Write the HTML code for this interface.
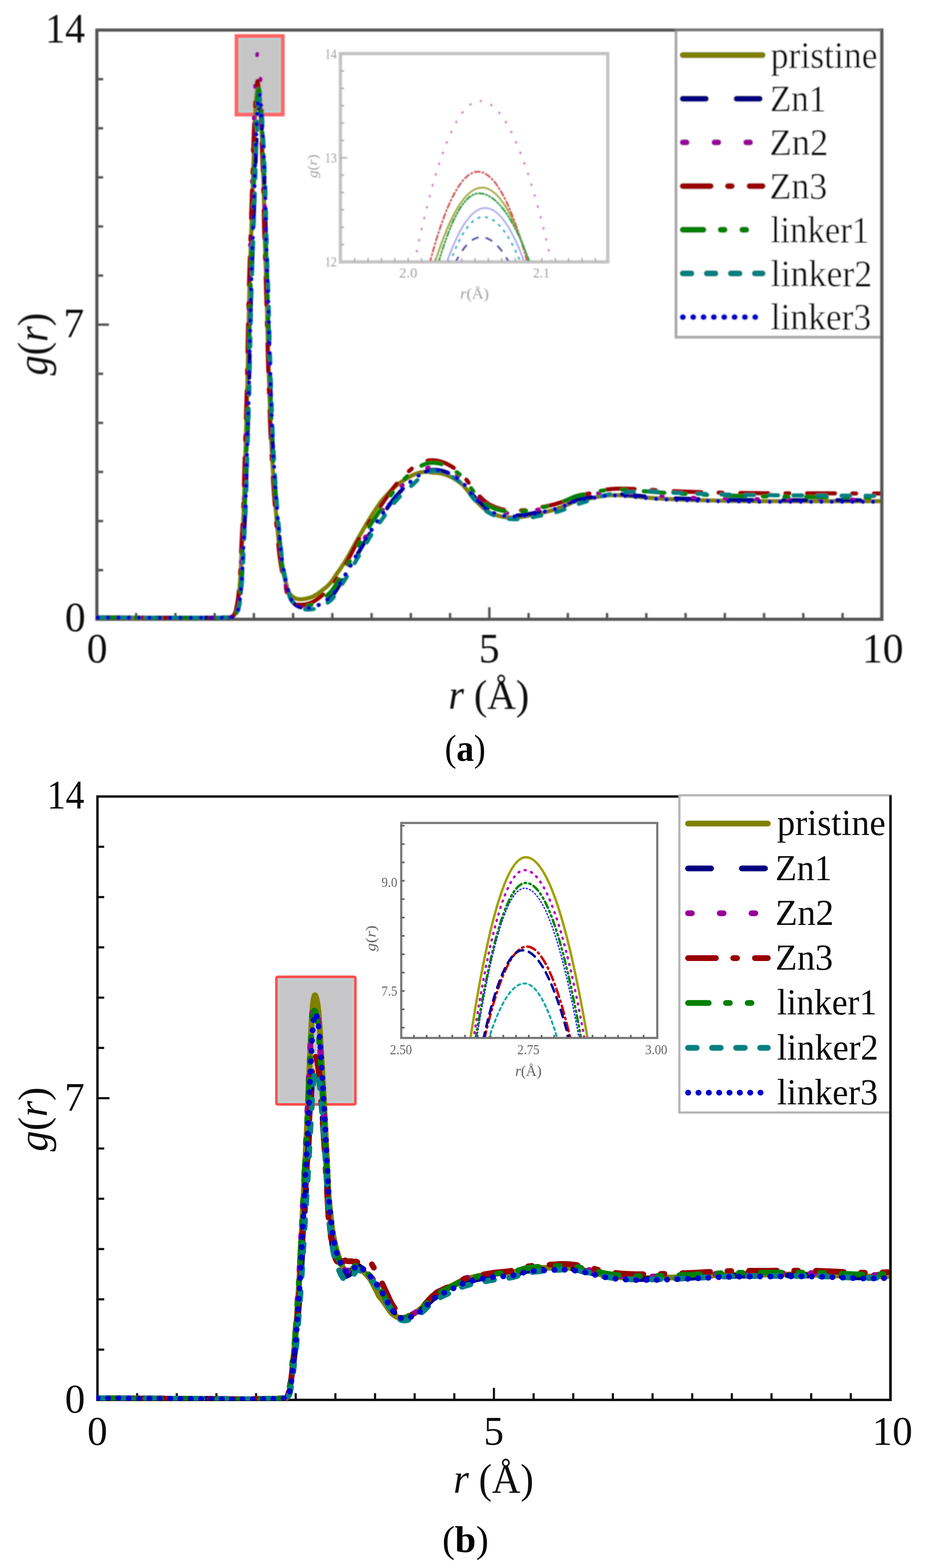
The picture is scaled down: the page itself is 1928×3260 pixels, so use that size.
<!DOCTYPE html>
<html><head><meta charset="utf-8"><title>g(r) plots</title><style>html,body{margin:0;padding:0;background:#fff;}svg{display:block;}</style></head><body>
<svg width="1928" height="3260" viewBox="0 0 1928 3260" font-family="'Liberation Serif','Times New Roman',serif">
<defs><clipPath id="ca"><rect x="712" y="115" width="548" height="427"/></clipPath><clipPath id="cb"><rect x="835" y="1713" width="530" height="443"/></clipPath><clipPath id="pa"><rect x="198" y="60" width="1640" height="1240"/></clipPath><filter id="blurA" x="0" y="0" width="1" height="1"><feGaussianBlur stdDeviation="1.1"/></filter><filter id="blurB" x="0" y="0" width="1" height="1"><feGaussianBlur stdDeviation="0.5"/></filter><clipPath id="pb"><rect x="200" y="1650" width="1656" height="1262"/></clipPath></defs>
<rect width="100%" height="100%" fill="#fff"/>
<g filter="url(#blurA)">
<rect x="201.5" y="62.5" width="1632.5" height="1225.0" fill="none" stroke="#555" stroke-width="6.5"/>
<line x1="283.1" y1="1287.5" x2="283.1" y2="1274.5" stroke="#555" stroke-width="5.0"/>
<line x1="364.8" y1="1287.5" x2="364.8" y2="1274.5" stroke="#555" stroke-width="5.0"/>
<line x1="446.4" y1="1287.5" x2="446.4" y2="1274.5" stroke="#555" stroke-width="5.0"/>
<line x1="528.0" y1="1287.5" x2="528.0" y2="1274.5" stroke="#555" stroke-width="5.0"/>
<line x1="609.6" y1="1287.5" x2="609.6" y2="1274.5" stroke="#555" stroke-width="5.0"/>
<line x1="691.2" y1="1287.5" x2="691.2" y2="1274.5" stroke="#555" stroke-width="5.0"/>
<line x1="772.9" y1="1287.5" x2="772.9" y2="1274.5" stroke="#555" stroke-width="5.0"/>
<line x1="854.5" y1="1287.5" x2="854.5" y2="1274.5" stroke="#555" stroke-width="5.0"/>
<line x1="936.1" y1="1287.5" x2="936.1" y2="1274.5" stroke="#555" stroke-width="5.0"/>
<line x1="1017.8" y1="1287.5" x2="1017.8" y2="1262.5" stroke="#555" stroke-width="5.0"/>
<line x1="1099.4" y1="1287.5" x2="1099.4" y2="1274.5" stroke="#555" stroke-width="5.0"/>
<line x1="1181.0" y1="1287.5" x2="1181.0" y2="1274.5" stroke="#555" stroke-width="5.0"/>
<line x1="1262.6" y1="1287.5" x2="1262.6" y2="1274.5" stroke="#555" stroke-width="5.0"/>
<line x1="1344.2" y1="1287.5" x2="1344.2" y2="1274.5" stroke="#555" stroke-width="5.0"/>
<line x1="1425.9" y1="1287.5" x2="1425.9" y2="1274.5" stroke="#555" stroke-width="5.0"/>
<line x1="1507.5" y1="1287.5" x2="1507.5" y2="1274.5" stroke="#555" stroke-width="5.0"/>
<line x1="1589.1" y1="1287.5" x2="1589.1" y2="1274.5" stroke="#555" stroke-width="5.0"/>
<line x1="1670.8" y1="1287.5" x2="1670.8" y2="1274.5" stroke="#555" stroke-width="5.0"/>
<line x1="1752.4" y1="1287.5" x2="1752.4" y2="1274.5" stroke="#555" stroke-width="5.0"/>
<line x1="201.5" y1="1185.4" x2="214.5" y2="1185.4" stroke="#555" stroke-width="5.0"/>
<line x1="201.5" y1="1083.3" x2="214.5" y2="1083.3" stroke="#555" stroke-width="5.0"/>
<line x1="201.5" y1="981.2" x2="214.5" y2="981.2" stroke="#555" stroke-width="5.0"/>
<line x1="201.5" y1="879.2" x2="214.5" y2="879.2" stroke="#555" stroke-width="5.0"/>
<line x1="201.5" y1="777.1" x2="214.5" y2="777.1" stroke="#555" stroke-width="5.0"/>
<line x1="201.5" y1="675.0" x2="226.5" y2="675.0" stroke="#555" stroke-width="5.0"/>
<line x1="201.5" y1="572.9" x2="214.5" y2="572.9" stroke="#555" stroke-width="5.0"/>
<line x1="201.5" y1="470.8" x2="214.5" y2="470.8" stroke="#555" stroke-width="5.0"/>
<line x1="201.5" y1="368.8" x2="214.5" y2="368.8" stroke="#555" stroke-width="5.0"/>
<line x1="201.5" y1="266.7" x2="214.5" y2="266.7" stroke="#555" stroke-width="5.0"/>
<line x1="201.5" y1="164.6" x2="214.5" y2="164.6" stroke="#555" stroke-width="5.0"/>
<rect x="492" y="75" width="96" height="163" fill="#c6c6c7" stroke="#ff6666" stroke-width="8"/>
<rect x="498" y="81" width="84" height="151" fill="none" stroke="#b4d6d6" stroke-width="3.5"/>
<g fill="none" stroke-width="8.5" stroke-linecap="round" stroke-linejoin="round" clip-path="url(#pa)">
<path d="M203.0 1284.0L205.0 1284.0L207.1 1284.0L209.1 1284.0L211.2 1284.0L213.3 1284.0L215.4 1284.0L217.5 1284.0L219.7 1284.0L221.8 1284.0L224.0 1284.0L226.2 1284.0L228.4 1284.0L230.7 1284.0L232.9 1284.0L235.1 1284.0L237.4 1284.0L239.7 1284.0L242.0 1284.0L244.3 1284.0L246.6 1284.0L248.9 1284.0L251.3 1284.0L253.6 1284.1L256.0 1284.1L258.4 1284.1L260.7 1284.1L263.1 1284.1L265.5 1284.1L267.9 1284.1L270.3 1284.1L272.8 1284.1L275.2 1284.1L277.6 1284.1L280.0 1284.1L282.5 1284.1L284.9 1284.1L287.4 1284.1L289.8 1284.1L292.3 1284.1L294.7 1284.1L297.2 1284.1L299.6 1284.1L302.1 1284.2L304.5 1284.2L307.0 1284.2L309.5 1284.2L311.9 1284.2L314.4 1284.2L316.8 1284.2L319.3 1284.2L321.7 1284.2L324.2 1284.2L326.6 1284.2L329.1 1284.2L331.5 1284.2L333.9 1284.2L336.4 1284.2L338.8 1284.2L341.2 1284.2L343.6 1284.2L346.0 1284.2L348.4 1284.3L350.8 1284.3L353.2 1284.3L355.5 1284.3L357.9 1284.3L360.2 1284.3L362.6 1284.3L364.9 1284.3L367.2 1284.3L369.5 1284.3L371.8 1284.3L374.1 1284.3L376.3 1284.3L378.6 1284.3L380.8 1284.3L383.0 1284.3L385.2 1284.3L387.4 1284.3L389.6 1284.3L391.8 1284.3L393.9 1284.3L396.0 1284.3L398.1 1284.3L400.2 1284.3L402.3 1284.3L404.4 1284.3L406.4 1284.3L408.4 1284.3L410.4 1284.3L412.4 1284.3L414.3 1284.3L416.2 1284.3L418.1 1284.3L420.0 1284.3L421.9 1284.3L423.7 1284.3L425.5 1284.3L427.3 1284.3L429.1 1284.3L430.8 1284.3L432.5 1284.3L434.2 1284.3L435.8 1284.3L437.5 1284.3L439.1 1284.3L440.6 1284.3L442.2 1284.3L443.7 1284.3L445.2 1284.3L446.6 1284.2L448.0 1284.2L449.4 1284.2L450.8 1284.2L452.1 1284.2L453.4 1284.2L454.6 1284.2L455.8 1284.2L457.0 1284.2L458.2 1284.2L459.3 1284.2L460.3 1284.2L461.4 1284.1L462.4 1284.1L463.3 1284.1L464.2 1284.1L465.1 1284.1L465.9 1284.1L466.7 1284.1L467.5 1284.0L468.2 1284.0L468.9 1284.0L469.5 1284.0L472.3 1284.0L474.4 1284.0L476.1 1283.9L477.6 1283.8L479.1 1283.5L481.3 1282.9L483.3 1282.1L485.0 1281.0L486.5 1279.7L487.8 1278.1L489.0 1276.0L489.6 1274.7L490.2 1273.2L490.7 1271.6L491.2 1269.8L491.8 1267.8L492.3 1265.8L492.7 1263.6L493.2 1261.4L493.6 1259.1L494.1 1256.8L494.5 1254.5L494.9 1252.1L495.2 1250.5L495.4 1248.8L495.7 1247.0L495.9 1245.3L496.2 1243.5L496.4 1241.6L496.6 1239.7L496.8 1237.8L497.0 1235.9L497.2 1233.9L497.4 1231.9L497.6 1229.9L497.8 1227.9L498.0 1225.8L498.1 1223.8L498.3 1221.7L498.5 1219.5L498.6 1217.4L498.8 1215.3L499.0 1213.1L499.1 1211.0L499.3 1208.8L499.4 1206.6L499.6 1204.4L499.7 1202.6L499.9 1200.8L500.0 1199.0L500.1 1197.1L500.2 1195.2L500.3 1193.3L500.5 1191.4L500.6 1189.5L500.7 1187.6L500.8 1185.6L500.9 1183.6L501.0 1181.7L501.1 1179.7L501.2 1177.7L501.3 1175.7L501.4 1173.6L501.5 1171.6L501.6 1169.6L501.6 1167.5L501.7 1165.5L501.8 1163.4L501.9 1161.4L502.0 1159.3L502.1 1157.3L502.2 1155.2L502.3 1153.2L502.4 1151.1L502.4 1149.1L502.5 1147.0L502.6 1145.0L502.7 1143.0L502.8 1140.9L502.9 1138.9L503.0 1136.9L503.1 1134.9L503.2 1132.9L503.3 1130.9L503.4 1128.9L503.5 1126.9L503.6 1124.9L503.7 1123.0L503.8 1121.0L503.9 1119.1L504.0 1117.2L504.1 1115.2L504.2 1113.3L504.3 1111.4L504.4 1109.4L504.5 1107.5L504.6 1105.6L504.7 1103.6L504.8 1101.7L504.9 1099.8L505.0 1097.8L505.1 1095.9L505.2 1093.9L505.4 1091.9L505.5 1089.9L505.6 1087.9L505.7 1085.9L505.8 1083.9L505.9 1081.9L505.9 1079.8L506.0 1077.8L506.1 1075.7L506.2 1073.6L506.3 1071.4L506.4 1069.3L506.5 1067.1L506.6 1064.9L506.7 1062.7L506.8 1060.5L506.9 1058.7L506.9 1056.9L507.0 1055.2L507.1 1053.4L507.1 1051.6L507.2 1049.7L507.3 1047.9L507.3 1046.1L507.4 1044.2L507.5 1042.3L507.5 1040.4L507.6 1038.5L507.7 1036.6L507.7 1034.7L507.8 1032.8L507.8 1030.8L507.9 1028.9L508.0 1026.9L508.0 1024.9L508.1 1023.0L508.1 1021.0L508.2 1019.0L508.3 1017.0L508.3 1015.0L508.4 1012.9L508.4 1010.9L508.5 1008.9L508.6 1006.9L508.6 1004.8L508.7 1002.8L508.7 1000.7L508.8 998.7L508.8 996.6L508.9 994.6L509.0 992.5L509.0 990.4L509.1 988.4L509.1 986.3L509.2 984.3L509.2 982.2L509.3 980.1L509.4 978.1L509.4 976.0L509.5 973.9L509.5 971.9L509.6 969.8L509.6 967.8L509.7 965.7L509.8 963.7L509.8 961.6L509.9 959.6L509.9 957.5L510.0 955.5L510.0 953.5L510.1 951.5L510.2 949.4L510.2 947.4L510.3 945.4L510.3 943.4L510.4 941.5L510.5 939.5L510.5 937.4L510.6 935.4L510.6 933.4L510.7 931.4L510.8 929.4L510.8 927.4L510.9 925.4L511.0 923.4L511.0 921.4L511.1 919.4L511.2 917.4L511.2 915.4L511.3 913.4L511.3 911.3L511.4 909.3L511.5 907.3L511.5 905.3L511.6 903.3L511.7 901.3L511.7 899.3L511.8 897.3L511.9 895.3L511.9 893.3L512.0 891.3L512.0 889.3L512.1 887.3L512.2 885.3L512.2 883.3L512.3 881.3L512.4 879.3L512.4 877.3L512.5 875.2L512.6 873.2L512.6 871.2L512.7 869.2L512.7 867.2L512.8 865.2L512.9 863.2L512.9 861.2L513.0 859.2L513.0 857.2L513.1 855.2L513.2 853.2L513.2 851.2L513.3 849.2L513.3 847.2L513.4 845.2L513.5 843.2L513.5 841.2L513.6 839.2L513.6 837.2L513.7 835.1L513.7 833.1L513.8 831.1L513.8 829.1L513.9 827.1L513.9 825.1L514.0 823.1L514.1 821.1L514.1 819.1L514.2 817.1L514.2 815.1L514.3 813.1L514.3 811.1L514.3 809.1L514.4 807.0L514.4 805.0L514.5 803.0L514.5 801.0L514.6 799.0L514.6 797.0L514.7 795.0L514.7 792.9L514.8 790.9L514.8 788.9L514.8 786.9L514.9 784.9L514.9 782.9L515.0 780.8L515.0 778.8L515.1 776.8L515.1 774.8L515.1 772.8L515.2 770.8L515.2 768.7L515.3 766.7L515.3 764.7L515.3 762.7L515.4 760.7L515.4 758.7L515.5 756.7L515.5 754.7L515.5 752.6L515.6 750.6L515.6 748.6L515.6 746.6L515.7 744.6L515.7 742.6L515.8 740.6L515.8 738.6L515.8 736.6L515.9 734.6L515.9 732.6L516.0 730.6L516.0 728.6L516.0 726.6L516.1 724.6L516.1 722.6L516.2 720.6L516.2 718.7L516.2 716.7L516.3 714.7L516.3 712.7L516.4 710.7L516.4 708.7L516.5 706.8L516.5 704.8L516.5 702.8L516.6 700.8L516.6 698.8L516.7 696.8L516.7 694.8L516.8 692.8L516.8 690.8L516.8 688.8L516.9 686.8L516.9 684.8L517.0 682.8L517.0 680.8L517.1 678.8L517.1 676.8L517.1 674.8L517.2 672.8L517.2 670.8L517.3 668.8L517.3 666.9L517.3 664.9L517.4 662.9L517.4 660.9L517.5 658.9L517.5 657.0L517.6 655.0L517.6 653.0L517.6 651.0L517.7 649.1L517.7 647.1L517.8 645.1L517.8 643.1L517.9 641.2L517.9 639.2L517.9 637.2L518.0 635.3L518.0 633.3L518.1 631.3L518.1 629.3L518.2 627.4L518.2 625.4L518.3 623.4L518.3 621.5L518.3 619.5L518.4 617.5L518.4 615.6L518.5 613.6L518.5 611.7L518.6 609.7L518.6 607.7L518.7 605.8L518.7 603.8L518.8 601.8L518.8 599.9L518.9 597.9L518.9 595.9L519.0 594.0L519.1 592.0L519.1 590.0L519.2 588.0L519.2 586.0L519.3 584.0L519.3 581.9L519.4 579.9L519.5 577.9L519.5 575.9L519.6 573.9L519.6 572.0L519.7 570.0L519.8 568.0L519.8 566.0L519.9 564.0L520.0 562.0L520.0 560.0L520.1 558.0L520.2 556.0L520.2 554.0L520.3 552.0L520.4 550.0L520.4 548.0L520.5 546.0L520.6 544.1L520.6 542.1L520.7 540.1L520.8 538.1L520.8 536.1L520.9 534.1L521.0 532.1L521.0 530.1L521.1 528.1L521.2 526.2L521.2 524.2L521.3 522.2L521.4 520.2L521.4 518.2L521.5 516.2L521.6 514.2L521.6 512.2L521.7 510.2L521.8 508.2L521.8 506.3L521.9 504.3L522.0 502.3L522.0 500.3L522.1 498.3L522.2 496.3L522.2 494.3L522.3 492.3L522.4 490.3L522.4 488.3L522.5 486.3L522.6 484.3L522.6 482.4L522.7 480.4L522.8 478.4L522.8 476.4L522.9 474.4L523.0 472.4L523.0 470.4L523.1 468.4L523.1 466.3L523.2 464.3L523.3 462.3L523.3 460.3L523.4 458.3L523.5 456.2L523.5 454.2L523.6 452.2L523.7 450.1L523.7 448.1L523.8 446.1L523.9 444.1L523.9 442.0L524.0 440.0L524.1 438.0L524.1 435.9L524.2 433.9L524.3 431.9L524.3 429.9L524.4 427.9L524.5 425.9L524.5 423.9L524.6 421.9L524.6 419.9L524.7 417.9L524.8 415.9L524.8 413.9L524.9 411.9L525.0 409.9L525.0 408.0L525.1 406.0L525.2 404.1L525.2 402.1L525.3 400.2L525.3 398.3L525.4 396.3L525.5 394.4L525.5 392.5L525.6 390.6L525.6 388.7L525.7 386.9L525.8 385.0L525.8 383.2L525.9 381.3L525.9 379.5L526.0 377.7L526.1 375.5L526.1 373.4L526.2 371.2L526.3 369.1L526.3 367.0L526.4 364.9L526.5 362.8L526.5 360.7L526.6 358.6L526.7 356.6L526.7 354.5L526.8 352.5L526.9 350.4L526.9 348.4L527.0 346.4L527.0 344.4L527.1 342.3L527.2 340.4L527.2 338.4L527.3 336.4L527.4 334.4L527.4 332.4L527.5 330.5L527.5 328.5L527.6 326.5L527.7 324.6L527.7 322.7L527.8 320.7L527.9 318.8L527.9 316.9L528.0 314.9L528.0 313.0L528.1 311.1L528.2 309.2L528.2 307.3L528.3 305.3L528.4 303.4L528.4 301.5L528.5 299.6L528.6 297.5L528.6 295.4L528.7 293.3L528.8 291.2L528.9 289.1L528.9 287.0L529.0 284.9L529.1 282.8L529.2 280.7L529.2 278.6L529.3 276.5L529.4 274.4L529.5 272.3L529.5 270.3L529.6 268.2L529.7 266.2L529.8 264.1L529.8 262.1L529.9 260.1L530.0 258.1L530.1 256.1L530.2 254.1L530.2 252.2L530.3 250.2L530.4 248.3L530.5 246.4L530.6 244.5L530.6 242.7L530.7 240.8L530.8 239.0L530.9 237.2L531.0 235.4L531.1 233.2L531.2 231.0L531.3 228.8L531.4 226.7L531.5 224.5L531.6 222.3L531.7 220.2L531.8 218.1L532.0 216.1L532.1 214.0L532.2 212.0L532.3 210.1L532.4 208.1L532.6 206.2L532.7 204.4L532.8 202.6L533.0 200.9L533.1 199.2L533.3 197.5L533.5 195.9L533.8 193.3L534.2 190.5L534.5 187.6L534.9 185.0L535.3 182.7L535.7 180.8L536.1 179.6L536.5 179.2L536.9 179.6L537.3 180.8L537.7 182.7L538.1 185.0L538.5 187.6L538.8 190.5L539.2 193.3L539.5 195.9L539.7 197.5L539.9 199.2L540.0 200.9L540.2 202.6L540.3 204.4L540.4 206.2L540.6 208.1L540.7 210.1L540.8 212.0L540.9 214.0L541.0 216.1L541.1 218.1L541.2 220.2L541.3 222.4L541.4 224.5L541.5 226.7L541.7 228.8L541.8 231.0L541.9 233.2L542.0 235.4L542.1 237.2L542.2 239.0L542.3 240.8L542.4 242.7L542.5 244.5L542.6 246.4L542.7 248.3L542.8 250.2L542.9 252.2L543.0 254.1L543.1 256.1L543.2 258.1L543.2 260.1L543.3 262.1L543.4 264.1L543.5 266.2L543.6 268.2L543.7 270.3L543.8 272.3L543.9 274.4L544.0 276.5L544.1 278.6L544.2 280.7L544.3 282.7L544.4 284.8L544.5 287.0L544.5 289.1L544.6 291.2L544.7 293.3L544.8 295.4L544.9 297.5L545.0 299.6L545.1 301.5L545.2 303.4L545.2 305.3L545.3 307.2L545.4 309.1L545.5 311.0L545.6 313.0L545.6 314.9L545.7 316.8L545.8 318.7L545.9 320.7L546.0 322.6L546.1 324.5L546.1 326.5L546.2 328.4L546.3 330.4L546.4 332.4L546.5 334.3L546.5 336.3L546.6 338.3L546.7 340.3L546.8 342.3L546.8 344.3L546.9 346.3L547.0 348.3L547.1 350.3L547.1 352.4L547.2 354.4L547.3 356.5L547.4 358.5L547.4 360.6L547.5 362.7L547.6 364.8L547.7 366.9L547.7 369.0L547.8 371.1L547.9 373.3L547.9 375.4L548.0 377.6L548.1 379.4L548.1 381.2L548.2 383.1L548.2 384.9L548.3 386.8L548.3 388.7L548.4 390.5L548.4 392.4L548.5 394.3L548.5 396.2L548.6 398.2L548.6 400.1L548.6 402.0L548.7 404.0L548.7 405.9L548.8 407.9L548.8 409.9L548.9 411.8L548.9 413.8L548.9 415.8L549.0 417.8L549.0 419.8L549.1 421.8L549.1 423.8L549.2 425.8L549.2 427.8L549.2 429.8L549.3 431.9L549.3 433.9L549.4 435.9L549.4 437.9L549.4 440.0L549.5 442.0L549.5 444.0L549.6 446.0L549.6 448.1L549.6 450.1L549.7 452.1L549.7 454.2L549.8 456.2L549.8 458.2L549.9 460.3L549.9 462.3L550.0 464.3L550.0 466.3L550.0 468.3L550.1 470.4L550.1 472.4L550.2 474.4L550.2 476.4L550.3 478.4L550.3 480.4L550.4 482.4L550.4 484.3L550.5 486.3L550.6 488.3L550.6 490.3L550.7 492.3L550.7 494.3L550.8 496.3L550.8 498.3L550.9 500.3L551.0 502.3L551.0 504.3L551.1 506.3L551.2 508.3L551.2 510.2L551.3 512.2L551.3 514.2L551.4 516.2L551.5 518.2L551.5 520.2L551.6 522.2L551.7 524.2L551.7 526.2L551.8 528.1L551.9 530.1L551.9 532.1L552.0 534.1L552.1 536.1L552.2 538.1L552.2 540.1L552.3 542.1L552.4 544.1L552.4 546.1L552.5 548.0L552.6 550.0L552.6 552.0L552.7 554.0L552.8 556.0L552.8 558.0L552.9 560.0L553.0 562.0L553.0 564.0L553.1 566.0L553.2 568.0L553.2 570.0L553.3 572.0L553.4 574.0L553.4 576.0L553.5 578.0L553.6 580.0L553.6 582.0L553.7 584.0L553.8 586.0L553.8 588.0L553.9 590.0L553.9 592.0L554.0 594.0L554.1 595.9L554.1 597.9L554.2 599.9L554.2 601.8L554.3 603.8L554.3 605.8L554.4 607.7L554.5 609.7L554.5 611.7L554.6 613.6L554.6 615.6L554.7 617.5L554.7 619.5L554.8 621.5L554.8 623.4L554.9 625.4L554.9 627.4L555.0 629.3L555.0 631.3L555.1 633.3L555.1 635.2L555.2 637.2L555.2 639.2L555.3 641.1L555.4 643.1L555.4 645.1L555.5 647.1L555.5 649.0L555.6 651.0L555.6 653.0L555.7 655.0L555.7 656.9L555.8 658.9L555.8 660.9L555.9 662.9L555.9 664.9L556.0 666.8L556.0 668.8L556.1 670.8L556.1 672.8L556.2 674.8L556.2 676.8L556.3 678.8L556.3 680.7L556.4 682.7L556.4 684.7L556.5 686.7L556.6 688.7L556.6 690.7L556.7 692.7L556.7 694.7L556.8 696.7L556.8 698.7L556.9 700.7L556.9 702.7L557.0 704.7L557.1 706.7L557.1 708.7L557.2 710.7L557.2 712.6L557.3 714.6L557.3 716.6L557.4 718.6L557.5 720.6L557.5 722.6L557.6 724.6L557.6 726.5L557.7 728.5L557.7 730.5L557.8 732.5L557.9 734.5L557.9 736.5L558.0 738.5L558.0 740.5L558.1 742.5L558.1 744.5L558.2 746.5L558.3 748.5L558.3 750.6L558.4 752.6L558.4 754.6L558.5 756.6L558.5 758.6L558.6 760.6L558.7 762.6L558.7 764.6L558.8 766.6L558.8 768.7L558.9 770.7L559.0 772.7L559.0 774.7L559.1 776.7L559.1 778.7L559.2 780.7L559.3 782.7L559.3 784.7L559.4 786.7L559.5 788.7L559.5 790.7L559.6 792.7L559.7 794.7L559.7 796.7L559.8 798.7L559.8 800.6L559.9 802.6L560.0 804.6L560.0 806.6L560.1 808.6L560.2 810.6L560.3 812.6L560.3 814.6L560.4 816.6L560.5 818.6L560.5 820.6L560.6 822.5L560.7 824.5L560.7 826.5L560.8 828.5L560.9 830.5L561.0 832.5L561.0 834.5L561.1 836.5L561.2 838.5L561.2 840.5L561.3 842.5L561.4 844.6L561.5 846.6L561.5 848.6L561.6 850.6L561.7 852.6L561.8 854.6L561.8 856.7L561.9 858.7L562.0 860.7L562.1 862.7L562.1 864.7L562.2 866.8L562.3 868.8L562.4 870.8L562.4 872.8L562.5 874.8L562.6 876.8L562.7 878.9L562.8 880.9L562.8 882.9L562.9 884.9L563.0 886.9L563.1 888.9L563.2 890.9L563.2 892.9L563.3 894.9L563.4 896.9L563.5 898.9L563.6 900.9L563.7 902.8L563.7 904.8L563.8 906.8L563.9 908.8L564.0 910.7L564.1 912.7L564.2 914.6L564.3 916.6L564.4 918.5L564.5 920.5L564.5 922.4L564.6 924.3L564.7 926.2L564.8 928.2L564.9 930.1L565.0 932.0L565.1 933.9L565.2 935.7L565.3 937.6L565.4 939.5L565.5 941.5L565.6 943.6L565.7 945.7L565.8 947.7L566.0 949.7L566.1 951.8L566.2 953.8L566.3 955.9L566.4 957.9L566.5 959.9L566.6 961.9L566.8 963.9L566.9 966.0L567.0 968.0L567.1 970.0L567.2 972.0L567.4 974.0L567.5 975.9L567.6 977.9L567.7 979.9L567.9 981.9L568.0 983.9L568.1 985.8L568.2 987.8L568.4 989.7L568.5 991.7L568.6 993.6L568.8 995.6L568.9 997.5L569.0 999.4L569.1 1001.3L569.3 1003.2L569.4 1005.1L569.5 1007.0L569.7 1008.9L569.8 1010.8L569.9 1012.7L570.1 1014.6L570.2 1016.4L570.3 1018.3L570.5 1020.1L570.6 1022.0L570.7 1023.8L570.9 1025.7L571.0 1027.5L571.1 1029.3L571.3 1031.1L571.4 1032.9L571.6 1035.0L571.7 1037.1L571.9 1039.2L572.0 1041.3L572.2 1043.3L572.4 1045.3L572.5 1047.4L572.7 1049.4L572.8 1051.4L573.0 1053.4L573.2 1055.4L573.3 1057.4L573.5 1059.4L573.6 1061.3L573.8 1063.3L574.0 1065.2L574.1 1067.2L574.3 1069.1L574.5 1071.0L574.6 1073.0L574.8 1074.9L575.0 1076.8L575.1 1078.7L575.3 1080.6L575.5 1082.5L575.7 1084.5L575.8 1086.4L576.0 1088.3L576.2 1090.2L576.4 1092.1L576.6 1094.0L576.7 1095.9L576.9 1097.8L577.1 1099.7L577.3 1101.7L577.5 1103.6L577.7 1105.6L577.9 1107.6L578.1 1109.6L578.3 1111.6L578.5 1113.6L578.7 1115.6L578.9 1117.6L579.1 1119.6L579.3 1121.6L579.5 1123.6L579.7 1125.6L579.9 1127.7L580.1 1129.6L580.3 1131.6L580.5 1133.6L580.7 1135.6L580.9 1137.6L581.1 1139.5L581.3 1141.5L581.6 1143.4L581.8 1145.3L582.0 1147.2L582.2 1149.1L582.5 1151.0L582.7 1152.8L583.0 1154.7L583.2 1156.5L583.4 1158.3L583.7 1160.1L584.0 1161.8L584.2 1163.5L584.5 1165.2L584.8 1167.3L585.2 1169.4L585.6 1171.5L585.9 1173.5L586.3 1175.5L586.7 1177.4L587.0 1179.4L587.4 1181.3L587.8 1183.2L588.2 1185.1L588.6 1186.9L589.0 1188.8L589.4 1190.6L589.8 1192.4L590.2 1194.2L590.7 1196.0L591.1 1197.7L591.5 1199.5L592.0 1201.2L592.4 1202.9L592.9 1204.7L593.4 1206.7L593.9 1208.7L594.4 1210.7L594.9 1212.8L595.5 1214.8L596.0 1216.8L596.5 1218.8L597.0 1220.8L597.6 1222.7L598.2 1224.5L598.8 1226.3L599.4 1228.0L600.1 1229.6L600.8 1231.2L601.6 1232.6L602.4 1233.9L603.7 1235.6L605.0 1237.2L606.4 1238.6L607.8 1239.9L609.4 1241.0L611.0 1242.1L612.6 1243.1L614.4 1243.9L616.2 1244.6L618.2 1245.1L620.2 1245.5L622.3 1245.8L624.5 1245.9L626.6 1245.9L628.8 1245.8L631.0 1245.6L633.0 1245.3L635.1 1245.0L637.2 1244.5L639.4 1244.0L641.5 1243.4L643.7 1242.8L645.8 1242.2L647.9 1241.4L650.0 1240.5L652.0 1239.6L654.0 1238.6L656.0 1237.4L658.0 1236.2L659.9 1234.9L661.9 1233.5L663.8 1232.1L665.7 1230.7L667.6 1229.3L669.4 1227.9L671.1 1226.6L672.8 1225.3L674.4 1224.0L676.1 1222.7L677.7 1221.4L679.3 1220.0L680.8 1218.6L682.4 1217.1L683.9 1215.5L685.5 1213.8L686.8 1212.2L688.2 1210.6L689.5 1208.8L690.9 1207.0L692.2 1205.2L693.5 1203.3L694.8 1201.4L696.1 1199.5L697.4 1197.5L698.7 1195.5L700.0 1193.6L701.3 1191.8L702.6 1189.9L703.8 1188.3L705.0 1186.6L706.2 1185.0L707.3 1183.3L708.5 1181.6L709.6 1179.9L710.7 1178.2L711.9 1176.5L713.0 1174.8L714.1 1173.0L715.3 1171.2L716.4 1169.4L717.6 1167.5L718.8 1165.5L720.0 1163.6L720.9 1162.0L721.9 1160.4L722.8 1158.8L723.8 1157.1L724.7 1155.4L725.7 1153.7L726.7 1151.9L727.7 1150.2L728.7 1148.4L729.7 1146.6L730.7 1144.8L731.7 1142.9L732.7 1141.1L733.7 1139.2L734.8 1137.4L735.8 1135.5L736.8 1133.6L737.8 1131.8L738.9 1129.9L739.9 1128.1L740.9 1126.2L741.9 1124.4L743.0 1122.6L744.0 1120.8L745.0 1119.0L746.0 1117.2L747.0 1115.5L748.0 1113.7L749.1 1111.9L750.1 1110.1L751.1 1108.4L752.1 1106.6L753.2 1104.8L754.2 1103.0L755.2 1101.2L756.2 1099.4L757.3 1097.7L758.3 1095.9L759.3 1094.1L760.4 1092.4L761.4 1090.6L762.4 1088.9L763.5 1087.2L764.5 1085.5L765.5 1083.8L766.5 1082.1L767.5 1080.4L768.6 1078.7L769.6 1077.1L770.6 1075.5L771.8 1073.6L773.0 1071.7L774.1 1069.9L775.3 1068.1L776.4 1066.4L777.5 1064.6L778.7 1062.9L779.8 1061.2L781.0 1059.5L782.1 1057.8L783.3 1056.1L784.4 1054.4L785.6 1052.7L786.8 1050.9L788.0 1049.2L789.2 1047.4L790.4 1045.6L791.7 1043.8L793.0 1042.0L794.1 1040.8L795.2 1039.6L796.3 1038.3L797.5 1037.1L798.6 1035.8L799.8 1034.5L800.9 1033.2L802.1 1031.9L803.3 1030.6L804.5 1029.3L805.7 1028.0L806.9 1026.7L808.1 1025.4L809.3 1024.1L810.6 1022.8L811.8 1021.5L813.0 1020.3L814.3 1019.0L815.5 1017.8L816.8 1016.6L818.1 1015.3L819.4 1014.2L820.6 1013.0L821.9 1011.9L823.2 1010.8L824.5 1009.7L825.9 1008.6L827.3 1007.5L828.7 1006.4L830.2 1005.3L831.6 1004.2L833.1 1003.1L834.6 1002.1L836.1 1001.0L837.6 1000.0L839.1 999.0L840.6 998.0L842.1 997.1L843.6 996.1L845.1 995.2L846.6 994.3L848.1 993.4L849.5 992.6L851.0 991.7L852.4 990.9L853.9 990.2L855.3 989.4L856.6 988.7L858.0 988.0L859.8 987.2L861.5 986.5L863.3 985.8L865.0 985.2L866.6 984.5L868.3 984.0L870.0 983.4L871.6 983.0L873.3 982.5L874.9 982.2L876.6 981.8L878.3 981.6L880.0 981.4L882.0 981.2L883.9 981.1L885.9 981.0L887.8 981.0L889.8 981.1L891.7 981.2L893.7 981.5L895.8 981.9L897.9 982.4L900.0 983.0L902.0 982.9L904.0 982.8L906.0 982.9L908.1 983.0L910.2 983.2L912.4 983.4L914.5 983.8L916.7 984.2L918.9 984.7L921.0 985.2L923.2 985.8L925.4 986.5L927.5 987.2L929.2 987.8L930.9 988.5L932.7 989.2L934.4 990.0L936.2 990.8L938.0 991.7L939.7 992.6L941.5 993.5L943.3 994.5L945.0 995.6L946.8 996.6L948.5 997.7L950.2 998.9L951.9 1000.0L953.6 1001.2L955.2 1002.4L956.9 1003.7L958.4 1004.9L960.0 1006.2L961.4 1007.5L962.9 1008.8L964.2 1010.2L965.6 1011.7L966.9 1013.1L968.2 1014.7L969.5 1016.2L970.7 1017.8L972.0 1019.5L973.2 1021.1L974.5 1022.7L975.7 1024.4L976.9 1026.0L978.1 1027.7L979.4 1029.3L980.6 1030.9L981.8 1032.5L983.1 1034.0L984.4 1035.5L985.7 1037.0L987.0 1038.4L988.4 1039.9L989.9 1041.4L991.4 1042.9L992.8 1044.4L994.3 1045.9L995.7 1047.4L997.2 1048.8L998.7 1050.3L1000.2 1051.7L1001.7 1053.1L1003.2 1054.5L1004.7 1055.8L1006.2 1057.1L1007.7 1058.3L1009.3 1059.5L1010.8 1060.7L1012.4 1061.8L1014.0 1062.8L1015.8 1063.9L1017.7 1064.9L1019.6 1065.9L1021.5 1066.8L1023.4 1067.7L1025.3 1068.5L1027.3 1069.3L1029.2 1070.0L1031.2 1070.6L1033.1 1071.3L1035.1 1071.8L1037.1 1072.4L1039.0 1072.9L1041.0 1073.4L1043.0 1073.8L1045.1 1074.3L1047.2 1074.6L1049.2 1074.9L1051.3 1075.2L1053.4 1075.4L1055.5 1075.6L1057.6 1075.7L1059.7 1075.8L1061.7 1075.9L1063.8 1076.0L1065.9 1076.0L1068.0 1076.0L1070.1 1075.9L1072.2 1075.9L1074.2 1075.8L1076.3 1075.6L1078.4 1075.4L1080.5 1075.2L1082.6 1075.0L1084.6 1074.7L1086.7 1074.4L1088.8 1074.1L1090.9 1073.8L1092.9 1073.5L1095.0 1073.2L1097.1 1072.8L1099.2 1072.4L1101.2 1072.0L1103.3 1071.6L1105.4 1071.1L1107.5 1070.6L1109.6 1070.2L1111.6 1069.7L1113.7 1069.2L1115.8 1068.6L1117.9 1068.1L1119.9 1067.7L1122.0 1067.2L1124.1 1066.7L1126.2 1066.2L1128.2 1065.8L1130.3 1065.3L1132.4 1064.9L1134.5 1064.4L1136.6 1063.9L1138.7 1063.5L1140.7 1063.0L1142.8 1062.4L1144.9 1061.9L1146.9 1061.4L1149.0 1060.8L1150.9 1060.2L1152.8 1059.6L1154.8 1059.0L1156.7 1058.3L1158.6 1057.7L1160.5 1057.0L1162.4 1056.3L1164.3 1055.6L1166.2 1054.9L1168.1 1054.2L1170.0 1053.5L1171.9 1052.8L1173.7 1052.1L1175.6 1051.4L1177.5 1050.6L1179.4 1049.8L1181.3 1049.0L1183.1 1048.1L1184.9 1047.2L1186.8 1046.4L1188.6 1045.5L1190.4 1044.7L1192.3 1043.9L1194.2 1043.1L1196.1 1042.3L1198.0 1041.6L1200.0 1041.0L1202.0 1040.5L1204.0 1040.0L1206.1 1039.5L1208.2 1039.1L1210.3 1038.7L1212.5 1038.4L1214.6 1038.1L1216.8 1037.7L1218.9 1037.4L1221.1 1037.1L1223.2 1036.8L1225.3 1036.5L1227.4 1036.2L1229.5 1035.8L1231.6 1035.4L1233.7 1035.0L1235.8 1034.5L1237.9 1034.1L1240.0 1033.6L1242.0 1033.2L1244.1 1032.8L1246.2 1032.3L1248.2 1031.9L1250.3 1031.5L1252.3 1031.2L1254.4 1030.9L1256.5 1030.6L1258.6 1030.4L1260.6 1030.2L1262.7 1030.0L1264.8 1029.9L1266.9 1029.7L1269.0 1029.6L1271.0 1029.6L1273.1 1029.5L1275.2 1029.5L1277.3 1029.4L1279.3 1029.4L1281.4 1029.4L1283.5 1029.4L1285.6 1029.5L1287.6 1029.5L1289.6 1029.6L1291.6 1029.7L1293.6 1029.9L1295.6 1030.0L1297.6 1030.2L1299.7 1030.3L1301.7 1030.5L1303.8 1030.7L1306.0 1030.9L1308.2 1031.1L1310.4 1031.3L1312.2 1031.4L1314.1 1031.6L1316.0 1031.7L1317.9 1031.9L1319.8 1032.1L1321.8 1032.3L1323.8 1032.5L1325.8 1032.7L1327.8 1032.9L1329.8 1033.1L1331.9 1033.3L1334.0 1033.5L1336.0 1033.7L1338.1 1033.9L1340.2 1034.1L1342.3 1034.3L1344.4 1034.5L1346.6 1034.7L1348.7 1034.8L1350.8 1035.0L1352.7 1035.2L1354.7 1035.3L1356.6 1035.5L1358.5 1035.6L1360.4 1035.7L1362.3 1035.9L1364.3 1036.0L1366.2 1036.1L1368.1 1036.3L1370.1 1036.4L1372.0 1036.5L1374.0 1036.6L1376.0 1036.8L1378.0 1036.9L1380.1 1037.0L1382.1 1037.1L1384.2 1037.2L1386.4 1037.3L1388.5 1037.4L1390.7 1037.6L1393.0 1037.7L1395.3 1037.8L1397.6 1037.9L1400.0 1038.0L1401.7 1038.1L1403.4 1038.1L1405.1 1038.2L1406.8 1038.3L1408.6 1038.4L1410.4 1038.4L1412.2 1038.5L1414.0 1038.6L1415.9 1038.7L1417.8 1038.7L1419.6 1038.8L1421.6 1038.9L1423.5 1038.9L1425.4 1039.0L1427.4 1039.1L1429.4 1039.1L1431.4 1039.2L1433.4 1039.3L1435.4 1039.3L1437.5 1039.4L1439.5 1039.5L1441.6 1039.5L1443.6 1039.6L1445.7 1039.7L1447.8 1039.7L1449.9 1039.8L1452.0 1039.8L1454.1 1039.9L1456.2 1040.0L1458.3 1040.0L1460.4 1040.1L1462.5 1040.1L1464.7 1040.2L1466.8 1040.2L1468.9 1040.3L1471.0 1040.3L1473.1 1040.4L1475.2 1040.5L1477.3 1040.5L1479.4 1040.6L1481.5 1040.6L1483.6 1040.6L1485.7 1040.7L1487.8 1040.7L1489.8 1040.8L1491.9 1040.8L1493.9 1040.9L1496.0 1040.9L1498.0 1041.0L1500.0 1041.0L1502.0 1041.0L1504.0 1041.1L1506.0 1041.1L1508.0 1041.2L1510.0 1041.2L1512.0 1041.2L1514.0 1041.3L1516.0 1041.3L1518.0 1041.3L1520.0 1041.3L1522.0 1041.4L1524.0 1041.4L1526.0 1041.4L1528.0 1041.5L1530.0 1041.5L1532.0 1041.5L1534.0 1041.5L1536.0 1041.5L1538.0 1041.6L1540.0 1041.6L1542.0 1041.6L1544.0 1041.6L1546.0 1041.7L1548.0 1041.7L1550.0 1041.7L1552.0 1041.7L1554.0 1041.7L1556.0 1041.7L1558.0 1041.8L1560.0 1041.8L1562.0 1041.8L1564.0 1041.8L1566.0 1041.8L1568.0 1041.8L1570.0 1041.8L1572.0 1041.8L1574.0 1041.9L1576.0 1041.9L1578.0 1041.9L1580.0 1041.9L1582.0 1041.9L1584.0 1041.9L1586.0 1041.9L1588.0 1041.9L1590.0 1041.9L1592.0 1042.0L1594.0 1042.0L1596.0 1042.0L1598.0 1042.0L1600.0 1042.0L1602.0 1042.0L1604.0 1042.0L1606.0 1042.0L1608.0 1042.0L1609.9 1042.0L1611.9 1042.0L1613.9 1042.1L1615.9 1042.1L1617.8 1042.1L1619.8 1042.1L1621.7 1042.1L1623.7 1042.1L1625.7 1042.1L1627.6 1042.1L1629.6 1042.1L1631.5 1042.1L1633.5 1042.1L1635.4 1042.1L1637.4 1042.1L1639.4 1042.1L1641.3 1042.1L1643.3 1042.1L1645.2 1042.1L1647.2 1042.1L1649.2 1042.1L1651.1 1042.1L1653.1 1042.1L1655.1 1042.1L1657.0 1042.1L1659.0 1042.0L1661.0 1042.0L1663.0 1042.0L1665.0 1042.0L1667.0 1042.0L1669.0 1042.0L1671.0 1042.0L1673.0 1042.0L1675.1 1042.0L1677.1 1042.0L1679.1 1042.0L1681.2 1042.0L1683.2 1042.0L1685.3 1042.0L1687.4 1042.0L1689.5 1042.0L1691.5 1042.0L1693.6 1042.0L1695.8 1042.0L1697.9 1042.0L1700.0 1042.0L1701.9 1042.0L1703.8 1042.0L1705.7 1042.0L1707.6 1042.0L1709.5 1042.0L1711.4 1042.0L1713.4 1042.0L1715.3 1042.0L1717.2 1042.0L1719.2 1042.0L1721.1 1042.0L1723.1 1042.0L1725.1 1042.0L1727.0 1042.0L1729.0 1042.0L1731.0 1042.0L1733.0 1042.0L1735.0 1042.0L1737.0 1042.0L1739.0 1042.0L1741.0 1042.0L1743.0 1042.0L1745.0 1042.0L1747.1 1042.0L1749.1 1042.0L1751.1 1042.0L1753.2 1042.0L1755.2 1042.0L1757.2 1042.0L1759.3 1042.0L1761.3 1042.0L1763.4 1042.0L1765.4 1042.0L1767.5 1042.0L1769.5 1042.0L1771.6 1042.0L1773.6 1042.0L1775.7 1042.0L1777.8 1042.0L1779.8 1042.0L1781.9 1042.0L1783.9 1042.0L1786.0 1042.0L1788.1 1042.0L1790.1 1042.0L1792.2 1042.0L1794.2 1042.0L1796.3 1042.0L1798.4 1042.0L1800.4 1042.0L1802.5 1042.0L1804.5 1042.0L1806.6 1042.0L1808.6 1042.0L1810.7 1042.0L1812.7 1042.0L1814.8 1042.0L1816.8 1042.0L1818.8 1042.0L1820.9 1042.0L1822.9 1042.0L1824.9 1042.0L1827.0 1042.0L1829.0 1042.0L1831.0 1042.0" stroke="#808000"/>
<path d="M203.0 1284.0L205.0 1284.0L207.1 1284.0L209.1 1284.0L211.2 1284.0L213.3 1284.0L215.4 1284.0L217.5 1284.0L219.7 1284.0L221.8 1284.0L224.0 1284.0L226.2 1284.0L228.4 1284.0L230.7 1284.0L232.9 1284.0L235.1 1284.0L237.4 1284.0L239.7 1284.0L242.0 1284.0L244.3 1284.0L246.6 1284.0L248.9 1284.0L251.3 1284.0L253.6 1284.1L256.0 1284.1L258.4 1284.1L260.7 1284.1L263.1 1284.1L265.5 1284.1L267.9 1284.1L270.3 1284.1L272.8 1284.1L275.2 1284.1L277.6 1284.1L280.0 1284.1L282.5 1284.1L284.9 1284.1L287.4 1284.1L289.8 1284.1L292.3 1284.1L294.7 1284.1L297.2 1284.1L299.6 1284.1L302.1 1284.2L304.5 1284.2L307.0 1284.2L309.5 1284.2L311.9 1284.2L314.4 1284.2L316.8 1284.2L319.3 1284.2L321.7 1284.2L324.2 1284.2L326.6 1284.2L329.1 1284.2L331.5 1284.2L333.9 1284.2L336.4 1284.2L338.8 1284.2L341.2 1284.2L343.6 1284.2L346.0 1284.2L348.4 1284.3L350.8 1284.3L353.2 1284.3L355.5 1284.3L357.9 1284.3L360.2 1284.3L362.6 1284.3L364.9 1284.3L367.2 1284.3L369.5 1284.3L371.8 1284.3L374.1 1284.3L376.3 1284.3L378.6 1284.3L380.8 1284.3L383.0 1284.3L385.2 1284.3L387.4 1284.3L389.6 1284.3L391.8 1284.3L393.9 1284.3L396.0 1284.3L398.1 1284.3L400.2 1284.3L402.3 1284.3L404.4 1284.3L406.4 1284.3L408.4 1284.3L410.4 1284.3L412.4 1284.3L414.3 1284.3L416.2 1284.3L418.1 1284.3L420.0 1284.3L421.9 1284.3L423.7 1284.3L425.5 1284.3L427.3 1284.3L429.1 1284.3L430.8 1284.3L432.5 1284.3L434.2 1284.3L435.8 1284.3L437.5 1284.3L439.1 1284.3L440.6 1284.3L442.2 1284.3L443.7 1284.3L445.2 1284.3L446.6 1284.2L448.1 1284.2L449.5 1284.2L450.8 1284.2L452.2 1284.2L453.5 1284.2L454.8 1284.2L456.0 1284.2L457.2 1284.2L458.4 1284.2L459.6 1284.2L460.7 1284.2L461.8 1284.1L462.9 1284.1L464.0 1284.1L465.0 1284.1L465.9 1284.1L466.9 1284.1L467.8 1284.1L468.7 1284.0L469.5 1284.0L470.3 1284.0L471.0 1284.0L474.2 1284.0L476.6 1284.0L478.4 1283.9L480.1 1283.8L481.8 1283.5L484.0 1282.9L486.1 1282.1L487.9 1281.0L489.4 1279.8L490.7 1278.2L492.0 1276.1L492.6 1274.8L493.1 1273.4L493.7 1271.7L494.2 1270.0L494.7 1268.1L495.2 1266.1L495.7 1264.0L496.2 1261.8L496.6 1259.6L497.1 1257.3L497.5 1255.0L497.9 1252.7L498.2 1251.1L498.4 1249.4L498.7 1247.7L498.9 1246.0L499.2 1244.2L499.4 1242.4L499.6 1240.5L499.8 1238.7L500.0 1236.8L500.2 1234.9L500.4 1232.9L500.6 1231.0L500.8 1229.0L501.0 1227.0L501.1 1224.9L501.3 1222.9L501.5 1220.8L501.6 1218.7L501.8 1216.6L502.0 1214.5L502.1 1212.4L502.3 1210.3L502.4 1208.2L502.6 1206.0L502.7 1204.3L502.9 1202.5L503.0 1200.7L503.1 1198.9L503.2 1197.1L503.3 1195.2L503.4 1193.4L503.6 1191.5L503.7 1189.6L503.8 1187.7L503.9 1185.8L504.0 1183.9L504.1 1181.9L504.2 1180.0L504.3 1178.0L504.4 1176.0L504.5 1174.1L504.5 1172.1L504.6 1170.1L504.7 1168.1L504.8 1166.1L504.9 1164.1L505.0 1162.1L505.1 1160.1L505.2 1158.1L505.3 1156.1L505.4 1154.1L505.4 1152.1L505.5 1150.2L505.6 1148.2L505.7 1146.2L505.8 1144.2L505.9 1142.2L506.0 1140.3L506.1 1138.3L506.2 1136.4L506.3 1134.5L506.4 1132.5L506.5 1130.6L506.6 1128.7L506.7 1126.8L506.8 1124.9L506.9 1123.0L507.0 1121.1L507.1 1119.3L507.2 1117.4L507.3 1115.5L507.4 1113.7L507.5 1111.8L507.6 1109.9L507.7 1108.0L507.8 1106.2L507.9 1104.3L508.0 1102.4L508.1 1100.5L508.2 1098.6L508.3 1096.7L508.5 1094.8L508.6 1092.9L508.7 1090.9L508.8 1089.0L508.8 1087.0L508.9 1085.0L509.0 1083.0L509.1 1081.0L509.2 1079.0L509.3 1076.9L509.4 1074.8L509.5 1072.7L509.6 1070.6L509.7 1068.5L509.8 1066.3L509.9 1064.6L509.9 1062.9L510.0 1061.2L510.1 1059.4L510.1 1057.7L510.2 1055.9L510.3 1054.1L510.3 1052.4L510.4 1050.6L510.5 1048.7L510.5 1046.9L510.6 1045.1L510.7 1043.2L510.7 1041.4L510.8 1039.5L510.8 1037.6L510.9 1035.7L511.0 1033.8L511.0 1031.9L511.1 1030.0L511.1 1028.1L511.2 1026.2L511.3 1024.2L511.3 1022.3L511.4 1020.3L511.4 1018.4L511.5 1016.4L511.6 1014.4L511.6 1012.5L511.7 1010.5L511.7 1008.5L511.8 1006.5L511.8 1004.6L511.9 1002.6L512.0 1000.6L512.0 998.6L512.1 996.6L512.1 994.6L512.2 992.6L512.2 990.6L512.3 988.6L512.4 986.6L512.4 984.6L512.5 982.6L512.5 980.7L512.6 978.7L512.6 976.7L512.7 974.7L512.8 972.7L512.8 970.7L512.9 968.8L512.9 966.8L513.0 964.9L513.0 962.9L513.1 961.0L513.2 959.0L513.2 957.1L513.3 955.2L513.3 953.2L513.4 951.3L513.5 949.4L513.5 947.5L513.6 945.5L513.6 943.6L513.7 941.6L513.8 939.7L513.8 937.8L513.9 935.9L514.0 933.9L514.0 932.0L514.1 930.1L514.1 928.1L514.2 926.2L514.3 924.3L514.3 922.3L514.4 920.4L514.5 918.5L514.5 916.5L514.6 914.6L514.7 912.7L514.7 910.8L514.8 908.8L514.9 906.9L514.9 905.0L515.0 903.0L515.0 901.1L515.1 899.2L515.2 897.3L515.2 895.3L515.3 893.4L515.4 891.5L515.4 889.6L515.5 887.6L515.6 885.7L515.6 883.8L515.7 881.9L515.7 879.9L515.8 878.0L515.9 876.1L515.9 874.2L516.0 872.2L516.0 870.3L516.1 868.4L516.2 866.5L516.2 864.5L516.3 862.6L516.3 860.7L516.4 858.8L516.5 856.8L516.5 854.9L516.6 853.0L516.6 851.1L516.7 849.1L516.7 847.2L516.8 845.3L516.8 843.4L516.9 841.4L516.9 839.5L517.0 837.6L517.1 835.7L517.1 833.7L517.2 831.8L517.2 829.9L517.3 827.9L517.3 826.0L517.3 824.1L517.4 822.1L517.4 820.2L517.5 818.3L517.5 816.3L517.6 814.4L517.6 812.5L517.7 810.5L517.7 808.6L517.8 806.7L517.8 804.7L517.8 802.8L517.9 800.9L517.9 798.9L518.0 797.0L518.0 795.0L518.1 793.1L518.1 791.2L518.1 789.2L518.2 787.3L518.2 785.4L518.3 783.4L518.3 781.5L518.3 779.6L518.4 777.6L518.4 775.7L518.5 773.8L518.5 771.8L518.5 769.9L518.6 768.0L518.6 766.0L518.6 764.1L518.7 762.2L518.7 760.2L518.8 758.3L518.8 756.4L518.8 754.5L518.9 752.6L518.9 750.6L519.0 748.7L519.0 746.8L519.0 744.9L519.1 743.0L519.1 741.1L519.2 739.2L519.2 737.3L519.2 735.3L519.3 733.4L519.3 731.5L519.4 729.6L519.4 727.8L519.5 725.9L519.5 724.0L519.5 722.0L519.6 720.1L519.6 718.2L519.7 716.3L519.7 714.3L519.8 712.4L519.8 710.5L519.8 708.6L519.9 706.7L519.9 704.8L520.0 702.9L520.0 700.9L520.1 699.0L520.1 697.1L520.1 695.2L520.2 693.3L520.2 691.4L520.3 689.5L520.3 687.6L520.3 685.7L520.4 683.8L520.4 681.9L520.5 680.0L520.5 678.1L520.6 676.2L520.6 674.3L520.6 672.4L520.7 670.6L520.7 668.7L520.8 666.8L520.8 664.9L520.9 663.0L520.9 661.1L520.9 659.2L521.0 657.3L521.0 655.5L521.1 653.6L521.1 651.7L521.2 649.8L521.2 647.9L521.3 646.1L521.3 644.2L521.3 642.3L521.4 640.4L521.4 638.5L521.5 636.7L521.5 634.8L521.6 632.9L521.6 631.0L521.7 629.2L521.7 627.3L521.8 625.4L521.8 623.5L521.9 621.7L521.9 619.8L522.0 617.9L522.1 616.0L522.1 614.1L522.2 612.2L522.2 610.3L522.3 608.4L522.3 606.4L522.4 604.5L522.5 602.6L522.5 600.7L522.6 598.8L522.6 596.9L522.7 595.0L522.8 593.1L522.8 591.2L522.9 589.3L523.0 587.4L523.0 585.5L523.1 583.6L523.2 581.7L523.2 579.8L523.3 578.0L523.4 576.1L523.4 574.2L523.5 572.3L523.6 570.4L523.6 568.5L523.7 566.6L523.8 564.7L523.8 562.8L523.9 560.9L524.0 559.0L524.0 557.2L524.1 555.3L524.2 553.4L524.2 551.5L524.3 549.6L524.4 547.7L524.4 545.8L524.5 543.9L524.6 542.0L524.6 540.2L524.7 538.3L524.8 536.4L524.8 534.5L524.9 532.6L525.0 530.7L525.0 528.8L525.1 526.9L525.2 525.0L525.2 523.1L525.3 521.2L525.4 519.3L525.4 517.4L525.5 515.5L525.6 513.7L525.6 511.8L525.7 509.9L525.8 508.0L525.8 506.1L525.9 504.2L526.0 502.3L526.0 500.4L526.1 498.5L526.1 496.6L526.2 494.6L526.3 492.7L526.3 490.8L526.4 488.9L526.5 487.0L526.5 485.0L526.6 483.1L526.7 481.2L526.7 479.2L526.8 477.3L526.9 475.4L526.9 473.5L527.0 471.5L527.1 469.6L527.1 467.7L527.2 465.8L527.3 463.9L527.3 461.9L527.4 460.0L527.5 458.1L527.5 456.2L527.6 454.3L527.6 452.4L527.7 450.5L527.8 448.6L527.8 446.7L527.9 444.9L528.0 443.0L528.0 441.1L528.1 439.3L528.2 437.4L528.2 435.6L528.3 433.7L528.3 431.9L528.4 430.1L528.5 428.2L528.5 426.4L528.6 424.6L528.6 422.9L528.7 421.1L528.8 419.3L528.8 417.5L528.9 415.8L528.9 414.1L529.0 412.3L529.1 410.3L529.1 408.2L529.2 406.2L529.3 404.2L529.3 402.2L529.4 400.2L529.5 398.2L529.5 396.2L529.6 394.2L529.7 392.3L529.7 390.3L529.8 388.4L529.9 386.4L529.9 384.5L530.0 382.6L530.0 380.7L530.1 378.8L530.2 376.9L530.2 375.0L530.3 373.1L530.4 371.2L530.4 369.3L530.5 367.5L530.5 365.6L530.6 363.7L530.7 361.9L530.7 360.0L530.8 358.2L530.9 356.4L530.9 354.5L531.0 352.7L531.0 350.9L531.1 349.0L531.2 347.2L531.2 345.4L531.3 343.6L531.4 341.8L531.4 340.0L531.5 338.2L531.6 336.2L531.6 334.2L531.7 332.1L531.8 330.1L531.9 328.1L531.9 326.1L532.0 324.1L532.1 322.1L532.2 320.1L532.2 318.2L532.3 316.2L532.4 314.2L532.5 312.2L532.5 310.3L532.6 308.3L532.7 306.4L532.8 304.4L532.8 302.5L532.9 300.6L533.0 298.7L533.1 296.8L533.2 294.9L533.2 293.1L533.3 291.2L533.4 289.4L533.5 287.6L533.6 285.8L533.6 284.0L533.7 282.3L533.8 280.6L533.9 278.8L534.0 277.2L534.1 275.1L534.2 273.0L534.3 270.9L534.4 268.8L534.5 266.8L534.6 264.7L534.7 262.7L534.8 260.7L535.0 258.8L535.1 256.8L535.2 254.9L535.3 253.1L535.4 251.2L535.6 249.5L535.7 247.7L535.8 246.0L536.0 244.4L536.1 242.8L536.3 241.2L536.5 239.7L536.8 237.2L537.2 234.5L537.5 231.9L537.9 229.4L538.3 227.1L538.7 225.4L539.1 224.2L539.5 223.8L539.9 224.2L540.3 225.4L540.7 227.1L541.1 229.4L541.5 231.9L541.8 234.5L542.2 237.2L542.5 239.7L542.7 241.2L542.9 242.8L543.0 244.4L543.2 246.0L543.3 247.7L543.4 249.5L543.6 251.2L543.7 253.1L543.8 254.9L543.9 256.8L544.0 258.8L544.1 260.7L544.2 262.7L544.3 264.7L544.4 266.8L544.5 268.8L544.7 270.9L544.8 273.0L544.9 275.1L545.0 277.2L545.1 278.8L545.2 280.5L545.3 282.3L545.4 284.0L545.5 285.8L545.6 287.6L545.7 289.4L545.8 291.2L545.9 293.0L546.0 294.9L546.1 296.7L546.2 298.6L546.2 300.5L546.3 302.4L546.4 304.3L546.5 306.3L546.6 308.2L546.7 310.2L546.8 312.1L546.9 314.1L547.0 316.1L547.1 318.0L547.2 320.0L547.3 322.0L547.4 324.0L547.5 326.0L547.5 328.0L547.6 330.0L547.7 332.0L547.8 334.0L547.9 336.0L548.0 338.0L548.1 339.8L548.2 341.6L548.2 343.4L548.3 345.2L548.4 347.0L548.5 348.8L548.6 350.6L548.6 352.4L548.7 354.3L548.8 356.1L548.9 357.9L549.0 359.7L549.1 361.6L549.1 363.4L549.2 365.3L549.3 367.1L549.4 369.0L549.5 370.8L549.5 372.7L549.6 374.6L549.7 376.5L549.8 378.4L549.8 380.3L549.9 382.2L550.0 384.1L550.1 386.0L550.1 387.9L550.2 389.9L550.3 391.8L550.4 393.8L550.4 395.8L550.5 397.7L550.6 399.7L550.7 401.7L550.7 403.7L550.8 405.7L550.9 407.8L550.9 409.8L551.0 411.9L551.1 413.6L551.1 415.3L551.2 417.1L551.2 418.8L551.3 420.6L551.3 422.4L551.4 424.2L551.4 426.0L551.5 427.8L551.5 429.6L551.6 431.5L551.6 433.3L551.6 435.1L551.7 437.0L551.7 438.9L551.8 440.7L551.8 442.6L551.9 444.5L551.9 446.4L551.9 448.3L552.0 450.2L552.0 452.1L552.1 454.0L552.1 455.9L552.2 457.8L552.2 459.7L552.2 461.7L552.3 463.6L552.3 465.5L552.4 467.5L552.4 469.4L552.4 471.3L552.5 473.3L552.5 475.2L552.6 477.1L552.6 479.1L552.6 481.0L552.7 483.0L552.7 484.9L552.8 486.8L552.8 488.8L552.9 490.7L552.9 492.6L553.0 494.6L553.0 496.5L553.0 498.4L553.1 500.3L553.1 502.3L553.2 504.2L553.2 506.1L553.3 508.0L553.3 509.9L553.4 511.8L553.4 513.7L553.5 515.5L553.6 517.4L553.6 519.3L553.7 521.2L553.7 523.1L553.8 525.0L553.8 526.9L553.9 528.8L554.0 530.7L554.0 532.6L554.1 534.5L554.2 536.4L554.2 538.3L554.3 540.2L554.3 542.1L554.4 544.0L554.5 545.9L554.5 547.8L554.6 549.7L554.7 551.5L554.7 553.4L554.8 555.3L554.9 557.2L554.9 559.1L555.0 561.0L555.1 562.9L555.2 564.8L555.2 566.7L555.3 568.5L555.4 570.4L555.4 572.3L555.5 574.2L555.6 576.1L555.6 578.0L555.7 579.9L555.8 581.8L555.8 583.7L555.9 585.6L556.0 587.5L556.0 589.4L556.1 591.3L556.2 593.2L556.2 595.0L556.3 596.9L556.4 598.8L556.4 600.7L556.5 602.7L556.6 604.6L556.6 606.5L556.7 608.4L556.8 610.3L556.8 612.2L556.9 614.1L556.9 616.0L557.0 617.9L557.1 619.8L557.1 621.7L557.2 623.5L557.2 625.4L557.3 627.3L557.3 629.1L557.4 631.0L557.5 632.9L557.5 634.8L557.6 636.6L557.6 638.5L557.7 640.4L557.7 642.3L557.8 644.1L557.8 646.0L557.9 647.9L557.9 649.8L558.0 651.6L558.0 653.5L558.1 655.4L558.1 657.3L558.2 659.2L558.2 661.0L558.3 662.9L558.4 664.8L558.4 666.7L558.5 668.6L558.5 670.5L558.6 672.4L558.6 674.2L558.7 676.1L558.7 678.0L558.8 679.9L558.8 681.8L558.9 683.7L558.9 685.6L559.0 687.5L559.0 689.4L559.1 691.3L559.1 693.2L559.2 695.1L559.2 697.0L559.3 698.9L559.3 700.8L559.4 702.7L559.4 704.6L559.5 706.5L559.6 708.4L559.6 710.3L559.7 712.2L559.7 714.1L559.8 716.1L559.8 718.0L559.9 719.9L559.9 721.8L560.0 723.7L560.1 725.6L560.1 727.5L560.2 729.4L560.2 731.3L560.3 733.2L560.3 735.1L560.4 737.0L560.5 738.9L560.5 740.8L560.6 742.7L560.6 744.6L560.7 746.5L560.7 748.4L560.8 750.3L560.9 752.2L560.9 754.1L561.0 756.0L561.0 758.0L561.1 759.9L561.1 761.8L561.2 763.7L561.3 765.6L561.3 767.6L561.4 769.5L561.4 771.4L561.5 773.3L561.5 775.3L561.6 777.2L561.7 779.1L561.7 781.0L561.8 783.0L561.8 784.9L561.9 786.8L562.0 788.7L562.0 790.7L562.1 792.6L562.1 794.5L562.2 796.5L562.3 798.4L562.3 800.3L562.4 802.3L562.5 804.2L562.5 806.1L562.6 808.0L562.7 810.0L562.7 811.9L562.8 813.8L562.8 815.8L562.9 817.7L563.0 819.6L563.0 821.5L563.1 823.5L563.2 825.4L563.3 827.3L563.3 829.2L563.4 831.2L563.5 833.1L563.5 835.0L563.6 836.9L563.7 838.9L563.7 840.8L563.8 842.7L563.9 844.6L564.0 846.6L564.0 848.5L564.1 850.5L564.2 852.4L564.2 854.3L564.3 856.3L564.4 858.2L564.5 860.2L564.5 862.1L564.6 864.1L564.7 866.1L564.8 868.0L564.8 870.0L564.9 871.9L565.0 873.9L565.1 875.8L565.1 877.8L565.2 879.8L565.3 881.7L565.4 883.7L565.4 885.6L565.5 887.6L565.6 889.5L565.7 891.5L565.8 893.4L565.8 895.4L565.9 897.3L566.0 899.3L566.1 901.2L566.2 903.2L566.2 905.1L566.3 907.1L566.4 909.0L566.5 910.9L566.6 912.9L566.7 914.8L566.7 916.7L566.8 918.6L566.9 920.5L567.0 922.4L567.1 924.3L567.2 926.2L567.3 928.1L567.4 930.0L567.5 931.9L567.5 933.8L567.6 935.7L567.7 937.5L567.8 939.4L567.9 941.2L568.0 943.1L568.1 944.9L568.2 946.8L568.3 948.6L568.4 950.4L568.5 952.4L568.6 954.4L568.7 956.4L568.8 958.4L569.0 960.4L569.1 962.4L569.2 964.4L569.3 966.4L569.4 968.3L569.5 970.3L569.6 972.3L569.8 974.3L569.9 976.2L570.0 978.2L570.1 980.1L570.2 982.1L570.4 984.0L570.5 986.0L570.6 987.9L570.7 989.9L570.9 991.8L571.0 993.7L571.1 995.6L571.2 997.5L571.4 999.5L571.5 1001.4L571.6 1003.3L571.8 1005.2L571.9 1007.1L572.0 1008.9L572.1 1010.8L572.3 1012.7L572.4 1014.6L572.5 1016.4L572.7 1018.3L572.8 1020.1L572.9 1022.0L573.1 1023.8L573.2 1025.6L573.3 1027.5L573.5 1029.3L573.6 1031.1L573.7 1032.9L573.9 1034.7L574.0 1036.5L574.1 1038.3L574.3 1040.1L574.4 1041.8L574.6 1043.9L574.7 1046.0L574.9 1048.0L575.0 1050.1L575.2 1052.1L575.4 1054.1L575.5 1056.1L575.7 1058.1L575.8 1060.1L576.0 1062.1L576.2 1064.0L576.3 1066.0L576.5 1067.9L576.6 1069.9L576.8 1071.8L577.0 1073.7L577.1 1075.6L577.3 1077.6L577.5 1079.5L577.6 1081.4L577.8 1083.3L578.0 1085.2L578.1 1087.1L578.3 1089.0L578.5 1090.9L578.7 1092.8L578.8 1094.7L579.0 1096.6L579.2 1098.5L579.4 1100.4L579.6 1102.3L579.7 1104.2L579.9 1106.1L580.1 1108.0L580.3 1109.9L580.5 1111.9L580.7 1113.9L580.9 1115.8L581.1 1117.8L581.3 1119.8L581.5 1121.8L581.7 1123.8L581.9 1125.8L582.1 1127.8L582.3 1129.9L582.5 1131.9L582.7 1133.9L582.9 1135.9L583.1 1137.9L583.3 1139.9L583.5 1141.9L583.7 1143.9L583.9 1145.8L584.1 1147.8L584.3 1149.8L584.6 1151.7L584.8 1153.6L585.0 1155.6L585.2 1157.5L585.5 1159.3L585.7 1161.2L586.0 1163.1L586.2 1164.9L586.4 1166.7L586.7 1168.5L587.0 1170.3L587.2 1172.1L587.5 1173.8L587.8 1175.9L588.2 1178.1L588.6 1180.2L588.9 1182.2L589.3 1184.3L589.7 1186.3L590.0 1188.3L590.4 1190.3L590.8 1192.3L591.2 1194.2L591.6 1196.1L592.0 1198.1L592.4 1200.0L592.8 1201.8L593.2 1203.7L593.7 1205.6L594.1 1207.4L594.5 1209.3L595.0 1211.1L595.4 1212.9L595.9 1214.7L596.4 1216.8L596.9 1219.0L597.4 1221.1L597.9 1223.3L598.5 1225.4L599.0 1227.6L599.5 1229.7L600.0 1231.8L600.6 1233.8L601.2 1235.8L601.8 1237.7L602.4 1239.6L603.1 1241.4L603.8 1243.1L604.6 1244.7L605.4 1246.2L606.7 1248.3L608.0 1250.2L609.4 1252.0L610.8 1253.7L612.4 1255.2L614.0 1256.6L615.6 1257.9L617.4 1259.1L619.2 1260.1L621.2 1261.0L623.2 1261.8L625.3 1262.4L627.5 1263.0L629.6 1263.4L631.8 1263.8L634.0 1264.0L636.0 1264.2L638.1 1264.2L640.2 1264.2L642.4 1264.0L644.5 1263.9L646.7 1263.6L648.8 1263.3L650.9 1262.9L653.0 1262.4L655.0 1261.8L657.0 1261.1L659.0 1260.2L661.0 1259.3L662.9 1258.4L664.9 1257.3L666.8 1256.3L668.7 1255.2L670.6 1254.1L672.4 1253.0L674.1 1252.0L675.8 1251.0L677.4 1250.0L679.0 1248.9L680.6 1247.8L682.2 1246.7L683.8 1245.5L685.3 1244.3L686.8 1243.0L688.3 1241.5L689.6 1240.2L690.9 1238.7L692.1 1237.2L693.4 1235.7L694.6 1234.0L695.8 1232.4L696.9 1230.7L698.1 1228.9L699.2 1227.2L700.3 1225.4L701.5 1223.6L702.6 1221.8L703.7 1220.0L704.8 1218.4L705.8 1216.7L706.8 1215.1L707.9 1213.5L708.9 1211.8L710.0 1210.2L711.0 1208.5L712.1 1206.8L713.2 1205.1L714.3 1203.3L715.4 1201.5L716.5 1199.7L717.7 1197.9L718.8 1196.0L720.0 1194.0L721.0 1192.5L721.9 1190.9L722.8 1189.3L723.8 1187.6L724.8 1186.0L725.7 1184.3L726.7 1182.5L727.7 1180.8L728.7 1179.0L729.7 1177.2L730.7 1175.4L731.7 1173.6L732.7 1171.8L733.8 1170.0L734.8 1168.1L735.8 1166.3L736.8 1164.4L737.8 1162.6L738.9 1160.8L739.9 1158.9L740.9 1157.1L741.9 1155.3L743.0 1153.5L744.0 1151.8L745.0 1150.0L746.0 1148.3L747.0 1146.5L748.0 1144.8L749.1 1143.0L750.1 1141.2L751.1 1139.5L752.1 1137.7L753.2 1136.0L754.2 1134.2L755.2 1132.4L756.2 1130.7L757.3 1128.9L758.3 1127.2L759.3 1125.4L760.4 1123.7L761.4 1122.0L762.4 1120.3L763.5 1118.6L764.5 1116.9L765.5 1115.2L766.5 1113.5L767.5 1111.9L768.6 1110.2L769.6 1108.6L770.6 1107.0L771.8 1105.1L773.0 1103.3L774.1 1101.5L775.3 1099.8L776.4 1098.0L777.5 1096.3L778.7 1094.6L779.8 1092.9L781.0 1091.2L782.1 1089.6L783.3 1087.9L784.4 1086.2L785.6 1084.5L786.8 1082.8L788.0 1081.1L789.2 1079.3L790.4 1077.6L791.7 1075.8L793.0 1074.0L794.1 1072.4L795.2 1070.8L796.3 1069.2L797.5 1067.6L798.6 1065.9L799.8 1064.2L800.9 1062.5L802.1 1060.9L803.3 1059.2L804.5 1057.4L805.7 1055.7L806.9 1054.0L808.1 1052.3L809.3 1050.6L810.6 1048.9L811.8 1047.2L813.0 1045.5L814.3 1043.8L815.5 1042.1L816.8 1040.5L818.1 1038.9L819.4 1037.2L820.6 1035.7L821.9 1034.1L823.2 1032.5L824.5 1031.0L825.9 1029.4L827.3 1027.9L828.7 1026.3L830.2 1024.7L831.6 1023.1L833.1 1021.6L834.6 1020.0L836.1 1018.5L837.6 1016.9L839.1 1015.4L840.6 1013.9L842.1 1012.5L843.6 1011.0L845.1 1009.6L846.6 1008.2L848.1 1006.8L849.5 1005.4L851.0 1004.1L852.4 1002.8L853.9 1001.6L855.3 1000.3L856.6 999.2L858.0 998.0L859.8 996.6L861.5 995.2L863.3 993.8L865.0 992.5L866.6 991.3L868.3 990.0L870.0 988.9L871.6 987.8L873.3 986.7L874.9 985.7L876.6 984.7L878.3 983.8L880.0 983.0L882.0 982.1L883.9 981.2L885.9 980.4L887.8 979.6L889.8 979.0L891.7 978.4L893.7 977.9L895.8 977.5L897.9 977.2L900.0 977.0L902.0 976.9L904.0 976.9L906.0 976.9L908.1 977.1L910.2 977.3L912.4 977.6L914.5 977.9L916.7 978.3L918.9 978.8L921.0 979.4L923.2 980.0L925.4 980.7L927.5 981.5L929.2 982.1L930.9 982.8L932.7 983.5L934.4 984.3L936.2 985.2L938.0 986.1L939.7 987.0L941.5 988.0L943.3 989.0L945.0 990.0L946.8 991.1L948.5 992.2L950.2 993.4L951.9 994.5L953.6 995.7L955.2 997.0L956.9 998.2L958.4 999.5L960.0 1000.8L961.4 1002.1L962.9 1003.4L964.2 1004.8L965.6 1006.3L966.9 1007.8L968.2 1009.4L969.5 1010.9L970.7 1012.6L972.0 1014.2L973.2 1015.8L974.5 1017.5L975.7 1019.1L976.9 1020.8L978.1 1022.5L979.4 1024.1L980.6 1025.7L981.8 1027.3L983.1 1028.8L984.4 1030.4L985.7 1031.8L987.0 1033.3L988.4 1034.8L989.9 1036.3L991.4 1037.8L992.8 1039.3L994.3 1040.8L995.7 1042.3L997.2 1043.8L998.7 1045.2L1000.2 1046.7L1001.7 1048.1L1003.2 1049.5L1004.7 1050.9L1006.2 1052.2L1007.7 1053.4L1009.3 1054.7L1010.8 1055.8L1012.4 1057.0L1014.0 1058.0L1015.8 1059.1L1017.7 1060.2L1019.6 1061.2L1021.5 1062.1L1023.4 1063.0L1025.3 1063.9L1027.3 1064.7L1029.2 1065.4L1031.2 1066.1L1033.1 1066.8L1035.1 1067.4L1037.1 1067.9L1039.0 1068.5L1041.0 1069.0L1043.0 1069.5L1045.1 1069.9L1047.2 1070.3L1049.2 1070.7L1051.3 1070.9L1053.4 1071.2L1055.5 1071.4L1057.6 1071.6L1059.7 1071.7L1061.7 1071.8L1063.8 1071.9L1065.9 1072.0L1068.0 1072.0L1070.1 1072.0L1072.2 1072.0L1074.2 1071.9L1076.3 1071.8L1078.4 1071.6L1080.5 1071.4L1082.6 1071.2L1084.6 1071.0L1086.7 1070.7L1088.8 1070.5L1090.9 1070.2L1092.9 1069.9L1095.0 1069.6L1097.1 1069.3L1099.2 1068.9L1101.2 1068.5L1103.3 1068.1L1105.4 1067.7L1107.5 1067.3L1109.6 1066.8L1111.6 1066.3L1113.7 1065.9L1115.8 1065.4L1117.9 1064.9L1119.9 1064.5L1122.0 1064.0L1124.1 1063.6L1126.2 1063.1L1128.2 1062.7L1130.3 1062.3L1132.4 1061.9L1134.5 1061.4L1136.6 1061.0L1138.7 1060.5L1140.7 1060.1L1142.8 1059.6L1144.9 1059.1L1146.9 1058.6L1149.0 1058.0L1150.9 1057.5L1152.8 1056.9L1154.8 1056.3L1156.7 1055.7L1158.6 1055.1L1160.5 1054.4L1162.4 1053.8L1164.3 1053.1L1166.2 1052.4L1168.1 1051.8L1170.0 1051.1L1171.9 1050.4L1173.7 1049.7L1175.6 1049.0L1177.5 1048.3L1179.4 1047.5L1181.3 1046.7L1183.1 1045.8L1184.9 1045.0L1186.8 1044.2L1188.6 1043.3L1190.4 1042.5L1192.3 1041.7L1194.2 1041.0L1196.1 1040.3L1198.0 1039.6L1200.0 1039.0L1202.0 1038.5L1204.0 1038.0L1206.1 1037.5L1208.2 1037.1L1210.3 1036.7L1212.5 1036.4L1214.6 1036.1L1216.8 1035.7L1218.9 1035.4L1221.1 1035.1L1223.2 1034.8L1225.3 1034.5L1227.4 1034.2L1229.5 1033.8L1231.6 1033.4L1233.7 1033.0L1235.8 1032.5L1237.9 1032.1L1240.0 1031.6L1242.0 1031.2L1244.1 1030.8L1246.2 1030.3L1248.2 1029.9L1250.3 1029.5L1252.3 1029.2L1254.4 1028.9L1256.5 1028.6L1258.6 1028.4L1260.6 1028.2L1262.7 1028.0L1264.8 1027.9L1266.9 1027.7L1269.0 1027.6L1271.0 1027.6L1273.1 1027.5L1275.2 1027.5L1277.3 1027.4L1279.3 1027.4L1281.4 1027.4L1283.5 1027.4L1285.6 1027.5L1287.6 1027.5L1289.6 1027.6L1291.6 1027.7L1293.6 1027.9L1295.6 1028.0L1297.6 1028.2L1299.7 1028.3L1301.7 1028.5L1303.8 1028.7L1306.0 1028.9L1308.2 1029.1L1310.4 1029.3L1312.2 1029.4L1314.1 1029.6L1316.0 1029.7L1317.9 1029.9L1319.8 1030.1L1321.8 1030.3L1323.8 1030.5L1325.8 1030.7L1327.8 1030.9L1329.8 1031.1L1331.9 1031.3L1334.0 1031.5L1336.0 1031.7L1338.1 1031.9L1340.2 1032.1L1342.3 1032.3L1344.4 1032.5L1346.6 1032.7L1348.7 1032.8L1350.8 1033.0L1352.7 1033.2L1354.7 1033.3L1356.6 1033.5L1358.5 1033.6L1360.4 1033.7L1362.3 1033.9L1364.3 1034.0L1366.2 1034.1L1368.1 1034.3L1370.1 1034.4L1372.0 1034.5L1374.0 1034.6L1376.0 1034.8L1378.0 1034.9L1380.1 1035.0L1382.1 1035.1L1384.2 1035.2L1386.4 1035.3L1388.5 1035.4L1390.7 1035.6L1393.0 1035.7L1395.3 1035.8L1397.6 1035.9L1400.0 1036.0L1401.7 1036.1L1403.4 1036.1L1405.1 1036.2L1406.8 1036.3L1408.6 1036.4L1410.4 1036.4L1412.2 1036.5L1414.0 1036.6L1415.9 1036.7L1417.8 1036.7L1419.6 1036.8L1421.6 1036.9L1423.5 1036.9L1425.4 1037.0L1427.4 1037.1L1429.4 1037.1L1431.4 1037.2L1433.4 1037.3L1435.4 1037.3L1437.5 1037.4L1439.5 1037.5L1441.6 1037.5L1443.6 1037.6L1445.7 1037.7L1447.8 1037.7L1449.9 1037.8L1452.0 1037.8L1454.1 1037.9L1456.2 1038.0L1458.3 1038.0L1460.4 1038.1L1462.5 1038.1L1464.7 1038.2L1466.8 1038.2L1468.9 1038.3L1471.0 1038.3L1473.1 1038.4L1475.2 1038.5L1477.3 1038.5L1479.4 1038.6L1481.5 1038.6L1483.6 1038.6L1485.7 1038.7L1487.8 1038.7L1489.8 1038.8L1491.9 1038.8L1493.9 1038.9L1496.0 1038.9L1498.0 1039.0L1500.0 1039.0L1502.0 1039.0L1504.0 1039.1L1506.0 1039.1L1508.0 1039.2L1510.0 1039.2L1512.0 1039.2L1514.0 1039.3L1516.0 1039.3L1518.0 1039.3L1520.0 1039.3L1522.0 1039.4L1524.0 1039.4L1526.0 1039.4L1528.0 1039.5L1530.0 1039.5L1532.0 1039.5L1534.0 1039.5L1536.0 1039.5L1538.0 1039.6L1540.0 1039.6L1542.0 1039.6L1544.0 1039.6L1546.0 1039.7L1548.0 1039.7L1550.0 1039.7L1552.0 1039.7L1554.0 1039.7L1556.0 1039.7L1558.0 1039.8L1560.0 1039.8L1562.0 1039.8L1564.0 1039.8L1566.0 1039.8L1568.0 1039.8L1570.0 1039.8L1572.0 1039.8L1574.0 1039.9L1576.0 1039.9L1578.0 1039.9L1580.0 1039.9L1582.0 1039.9L1584.0 1039.9L1586.0 1039.9L1588.0 1039.9L1590.0 1039.9L1592.0 1040.0L1594.0 1040.0L1596.0 1040.0L1598.0 1040.0L1600.0 1040.0L1602.0 1040.0L1604.0 1040.0L1606.0 1040.0L1608.0 1040.0L1609.9 1040.0L1611.9 1040.0L1613.9 1040.1L1615.9 1040.1L1617.8 1040.1L1619.8 1040.1L1621.7 1040.1L1623.7 1040.1L1625.7 1040.1L1627.6 1040.1L1629.6 1040.1L1631.5 1040.1L1633.5 1040.1L1635.4 1040.1L1637.4 1040.1L1639.4 1040.1L1641.3 1040.1L1643.3 1040.1L1645.2 1040.1L1647.2 1040.1L1649.2 1040.1L1651.1 1040.1L1653.1 1040.1L1655.1 1040.1L1657.0 1040.1L1659.0 1040.0L1661.0 1040.0L1663.0 1040.0L1665.0 1040.0L1667.0 1040.0L1669.0 1040.0L1671.0 1040.0L1673.0 1040.0L1675.1 1040.0L1677.1 1040.0L1679.1 1040.0L1681.2 1040.0L1683.2 1040.0L1685.3 1040.0L1687.4 1040.0L1689.5 1040.0L1691.5 1040.0L1693.6 1040.0L1695.8 1040.0L1697.9 1040.0L1700.0 1040.0L1701.9 1040.0L1703.8 1040.0L1705.7 1040.0L1707.6 1040.0L1709.5 1040.0L1711.4 1040.0L1713.4 1040.0L1715.3 1040.0L1717.2 1040.0L1719.2 1040.0L1721.1 1040.0L1723.1 1040.0L1725.1 1040.0L1727.0 1040.0L1729.0 1040.0L1731.0 1040.0L1733.0 1040.0L1735.0 1040.0L1737.0 1040.0L1739.0 1040.0L1741.0 1040.0L1743.0 1040.0L1745.0 1040.0L1747.1 1040.0L1749.1 1040.0L1751.1 1040.0L1753.2 1040.0L1755.2 1040.0L1757.2 1040.0L1759.3 1040.0L1761.3 1040.0L1763.4 1040.0L1765.4 1040.0L1767.5 1040.0L1769.5 1040.0L1771.6 1040.0L1773.6 1040.0L1775.7 1040.0L1777.8 1040.0L1779.8 1040.0L1781.9 1040.0L1783.9 1040.0L1786.0 1040.0L1788.1 1040.0L1790.1 1040.0L1792.2 1040.0L1794.2 1040.0L1796.3 1040.0L1798.4 1040.0L1800.4 1040.0L1802.5 1040.0L1804.5 1040.0L1806.6 1040.0L1808.6 1040.0L1810.7 1040.0L1812.7 1040.0L1814.8 1040.0L1816.8 1040.0L1818.8 1040.0L1820.9 1040.0L1822.9 1040.0L1824.9 1040.0L1827.0 1040.0L1829.0 1040.0L1831.0 1040.0" stroke="#000080" stroke-dasharray="48.00 64.00"/>
<path d="M203.0 1284.0L205.0 1284.0L207.1 1284.0L209.1 1284.0L211.2 1284.0L213.3 1284.0L215.4 1284.0L217.5 1284.0L219.7 1284.0L221.8 1284.0L224.0 1284.0L226.2 1284.0L228.4 1284.0L230.7 1284.0L232.9 1284.0L235.1 1284.0L237.4 1284.0L239.7 1284.0L242.0 1284.0L244.3 1284.0L246.6 1284.0L248.9 1284.0L251.3 1284.0L253.6 1284.1L256.0 1284.1L258.4 1284.1L260.7 1284.1L263.1 1284.1L265.5 1284.1L267.9 1284.1L270.3 1284.1L272.8 1284.1L275.2 1284.1L277.6 1284.1L280.0 1284.1L282.5 1284.1L284.9 1284.1L287.4 1284.1L289.8 1284.1L292.3 1284.1L294.7 1284.1L297.2 1284.1L299.6 1284.1L302.1 1284.2L304.5 1284.2L307.0 1284.2L309.5 1284.2L311.9 1284.2L314.4 1284.2L316.8 1284.2L319.3 1284.2L321.7 1284.2L324.2 1284.2L326.6 1284.2L329.1 1284.2L331.5 1284.2L333.9 1284.2L336.4 1284.2L338.8 1284.2L341.2 1284.2L343.6 1284.2L346.0 1284.2L348.4 1284.3L350.8 1284.3L353.2 1284.3L355.5 1284.3L357.9 1284.3L360.2 1284.3L362.6 1284.3L364.9 1284.3L367.2 1284.3L369.5 1284.3L371.8 1284.3L374.1 1284.3L376.3 1284.3L378.6 1284.3L380.8 1284.3L383.0 1284.3L385.2 1284.3L387.4 1284.3L389.6 1284.3L391.8 1284.3L393.9 1284.3L396.0 1284.3L398.1 1284.3L400.2 1284.3L402.3 1284.3L404.4 1284.3L406.4 1284.3L408.4 1284.3L410.4 1284.3L412.4 1284.3L414.3 1284.3L416.2 1284.3L418.1 1284.3L420.0 1284.3L421.9 1284.3L423.7 1284.3L425.5 1284.3L427.3 1284.3L429.1 1284.3L430.8 1284.3L432.5 1284.3L434.2 1284.3L435.8 1284.3L437.5 1284.3L439.1 1284.3L440.6 1284.3L442.2 1284.3L443.7 1284.3L445.2 1284.3L446.6 1284.2L448.0 1284.2L449.4 1284.2L450.8 1284.2L452.1 1284.2L453.4 1284.2L454.6 1284.2L455.8 1284.2L457.0 1284.2L458.2 1284.2L459.3 1284.2L460.3 1284.2L461.4 1284.1L462.4 1284.1L463.3 1284.1L464.2 1284.1L465.1 1284.1L465.9 1284.1L466.7 1284.1L467.5 1284.0L468.2 1284.0L468.9 1284.0L469.5 1284.0L472.3 1284.0L474.4 1283.9L476.1 1283.9L477.6 1283.8L479.1 1283.5L481.3 1282.9L483.3 1282.1L485.0 1281.0L486.5 1279.6L487.8 1278.0L489.0 1275.9L489.6 1274.5L490.2 1273.0L490.7 1271.3L491.2 1269.4L491.8 1267.4L492.3 1265.3L492.7 1263.1L493.2 1260.8L493.6 1258.5L494.1 1256.1L494.5 1253.7L494.9 1251.3L495.2 1249.5L495.4 1247.8L495.7 1246.0L495.9 1244.1L496.2 1242.3L496.4 1240.4L496.6 1238.4L496.8 1236.4L497.0 1234.4L497.2 1232.4L497.4 1230.3L497.6 1228.3L497.8 1226.1L498.0 1224.0L498.1 1221.8L498.3 1219.7L498.5 1217.5L498.6 1215.3L498.8 1213.0L499.0 1210.8L499.1 1208.6L499.3 1206.3L499.4 1204.0L499.6 1201.8L499.7 1199.9L499.9 1198.0L500.0 1196.1L500.1 1194.1L500.2 1192.2L500.3 1190.2L500.5 1188.2L500.6 1186.2L500.7 1184.2L500.8 1182.2L500.9 1180.1L501.0 1178.1L501.1 1176.0L501.2 1173.9L501.3 1171.8L501.4 1169.7L501.5 1167.6L501.6 1165.5L501.6 1163.4L501.7 1161.2L501.8 1159.1L501.9 1157.0L502.0 1154.8L502.1 1152.7L502.2 1150.5L502.3 1148.4L502.4 1146.2L502.4 1144.1L502.5 1142.0L502.6 1139.8L502.7 1137.7L502.8 1135.6L502.9 1133.5L503.0 1131.4L503.1 1129.3L503.2 1127.2L503.3 1125.1L503.4 1123.0L503.5 1120.9L503.6 1118.9L503.7 1116.8L503.8 1114.8L503.9 1112.7L504.0 1110.7L504.1 1108.6L504.2 1106.6L504.3 1104.6L504.4 1102.6L504.5 1100.5L504.6 1098.5L504.7 1096.5L504.8 1094.4L504.9 1092.4L505.0 1090.3L505.1 1088.3L505.2 1086.2L505.4 1084.1L505.5 1082.1L505.6 1080.0L505.7 1077.8L505.8 1075.7L505.9 1073.6L505.9 1071.4L506.0 1069.2L506.1 1067.0L506.2 1064.8L506.3 1062.6L506.4 1060.3L506.5 1058.0L506.6 1055.7L506.7 1053.4L506.8 1051.0L506.9 1049.2L506.9 1047.3L507.0 1045.4L507.1 1043.5L507.1 1041.6L507.2 1039.7L507.3 1037.8L507.3 1035.8L507.4 1033.9L507.5 1031.9L507.5 1029.9L507.6 1027.9L507.7 1025.9L507.7 1023.9L507.8 1021.8L507.8 1019.8L507.9 1017.7L508.0 1015.7L508.0 1013.6L508.1 1011.5L508.1 1009.4L508.2 1007.3L508.3 1005.2L508.3 1003.1L508.4 1000.9L508.4 998.8L508.5 996.7L508.6 994.5L508.6 992.4L508.7 990.2L508.7 988.1L508.8 985.9L508.8 983.7L508.9 981.6L509.0 979.4L509.0 977.2L509.1 975.0L509.1 972.9L509.2 970.7L509.2 968.5L509.3 966.3L509.4 964.1L509.4 962.0L509.5 959.8L509.5 957.6L509.6 955.4L509.6 953.3L509.7 951.1L509.8 948.9L509.8 946.8L509.9 944.6L509.9 942.5L510.0 940.3L510.0 938.2L510.1 936.0L510.2 933.9L510.2 931.8L510.3 929.7L510.3 927.5L510.4 925.4L510.5 923.3L510.5 921.2L510.6 919.1L510.6 916.9L510.7 914.8L510.8 912.7L510.8 910.5L510.9 908.4L511.0 906.3L511.0 904.2L511.1 902.0L511.2 899.9L511.2 897.8L511.3 895.6L511.3 893.5L511.4 891.4L511.5 889.2L511.5 887.1L511.6 885.0L511.7 882.8L511.7 880.7L511.8 878.6L511.9 876.4L511.9 874.3L512.0 872.2L512.0 870.0L512.1 867.9L512.2 865.8L512.2 863.6L512.3 861.5L512.4 859.4L512.4 857.2L512.5 855.1L512.6 853.0L512.6 850.8L512.7 848.7L512.7 846.6L512.8 844.4L512.9 842.3L512.9 840.2L513.0 838.0L513.0 835.9L513.1 833.8L513.2 831.6L513.2 829.5L513.3 827.4L513.3 825.2L513.4 823.1L513.5 821.0L513.5 818.8L513.6 816.7L513.6 814.5L513.7 812.4L513.7 810.3L513.8 808.1L513.8 806.0L513.9 803.9L513.9 801.7L514.0 799.6L514.1 797.5L514.1 795.3L514.2 793.2L514.2 791.1L514.3 788.9L514.3 786.8L514.3 784.6L514.4 782.5L514.4 780.4L514.5 778.2L514.5 776.1L514.6 773.9L514.6 771.8L514.7 769.6L514.7 767.5L514.8 765.3L514.8 763.2L514.8 761.1L514.9 758.9L514.9 756.8L515.0 754.6L515.0 752.5L515.1 750.3L515.1 748.2L515.1 746.0L515.2 743.9L515.2 741.8L515.3 739.6L515.3 737.5L515.3 735.3L515.4 733.2L515.4 731.0L515.5 728.9L515.5 726.8L515.5 724.6L515.6 722.5L515.6 720.3L515.6 718.2L515.7 716.1L515.7 713.9L515.8 711.8L515.8 709.7L515.8 707.5L515.9 705.4L515.9 703.3L516.0 701.2L516.0 699.0L516.0 696.9L516.1 694.8L516.1 692.7L516.2 690.5L516.2 688.4L516.2 686.3L516.3 684.2L516.3 682.1L516.4 680.0L516.4 677.9L516.5 675.7L516.5 673.6L516.5 671.5L516.6 669.3L516.6 667.2L516.7 665.1L516.7 662.9L516.8 660.8L516.8 658.7L516.8 656.5L516.9 654.4L516.9 652.3L517.0 650.1L517.0 648.0L517.1 645.9L517.1 643.7L517.1 641.6L517.2 639.5L517.2 637.4L517.3 635.3L517.3 633.1L517.3 631.0L517.4 628.9L517.4 626.8L517.5 624.7L517.5 622.6L517.6 620.4L517.6 618.3L517.6 616.2L517.7 614.1L517.7 612.0L517.8 609.9L517.8 607.8L517.9 605.7L517.9 603.6L517.9 601.5L518.0 599.3L518.0 597.2L518.1 595.1L518.1 593.0L518.2 590.9L518.2 588.8L518.3 586.7L518.3 584.6L518.3 582.5L518.4 580.4L518.4 578.3L518.5 576.2L518.5 574.1L518.6 572.0L518.6 569.9L518.7 567.7L518.7 565.6L518.8 563.5L518.8 561.4L518.9 559.3L518.9 557.2L519.0 555.1L519.1 552.9L519.1 550.8L519.2 548.6L519.2 546.5L519.3 544.3L519.3 542.1L519.4 540.0L519.5 537.8L519.5 535.7L519.6 533.5L519.6 531.4L519.7 529.2L519.8 527.1L519.8 524.9L519.9 522.8L520.0 520.6L520.0 518.5L520.1 516.3L520.2 514.2L520.2 512.0L520.3 509.9L520.4 507.7L520.4 505.6L520.5 503.4L520.6 501.3L520.6 499.1L520.7 497.0L520.8 494.8L520.8 492.7L520.9 490.5L521.0 488.4L521.0 486.2L521.1 484.1L521.2 481.9L521.2 479.7L521.3 477.6L521.4 475.4L521.4 473.3L521.5 471.1L521.6 469.0L521.6 466.8L521.7 464.7L521.8 462.5L521.8 460.4L521.9 458.2L522.0 456.1L522.0 453.9L522.1 451.8L522.2 449.6L522.2 447.4L522.3 445.3L522.4 443.1L522.4 441.0L522.5 438.8L522.6 436.7L522.6 434.5L522.7 432.4L522.8 430.2L522.8 428.1L522.9 425.9L523.0 423.7L523.0 421.6L523.1 419.4L523.1 417.2L523.2 415.0L523.3 412.9L523.3 410.7L523.4 408.5L523.5 406.3L523.5 404.1L523.6 401.9L523.7 399.7L523.7 397.5L523.8 395.3L523.9 393.1L523.9 390.9L524.0 388.7L524.1 386.5L524.1 384.4L524.2 382.2L524.3 380.0L524.3 377.8L524.4 375.6L524.5 373.5L524.5 371.3L524.6 369.1L524.6 367.0L524.7 364.8L524.8 362.7L524.8 360.5L524.9 358.4L525.0 356.2L525.0 354.1L525.1 352.0L525.2 349.9L525.2 347.8L525.3 345.7L525.3 343.6L525.4 341.5L525.5 339.5L525.5 337.4L525.6 335.4L525.6 333.3L525.7 331.3L525.8 329.3L525.8 327.3L525.9 325.3L525.9 323.3L526.0 321.3L526.1 319.0L526.1 316.7L526.2 314.4L526.3 312.1L526.3 309.8L526.4 307.5L526.5 305.3L526.5 303.0L526.6 300.8L526.7 298.5L526.7 296.3L526.8 294.1L526.9 291.9L526.9 289.7L527.0 287.5L527.0 285.4L527.1 283.2L527.2 281.0L527.2 278.9L527.3 276.7L527.4 274.6L527.4 272.5L527.5 270.3L527.5 268.2L527.6 266.1L527.7 264.0L527.7 261.9L527.8 259.8L527.9 257.7L527.9 255.6L528.0 253.6L528.0 251.5L528.1 249.4L528.2 247.3L528.2 245.3L528.3 243.2L528.4 241.1L528.4 239.1L528.5 237.0L528.6 234.8L528.6 232.5L528.7 230.2L528.8 227.9L528.9 225.6L528.9 223.4L529.0 221.1L529.1 218.8L529.2 216.5L529.2 214.3L529.3 212.0L529.4 209.8L529.5 207.5L529.5 205.3L529.6 203.1L529.7 200.9L529.8 198.7L529.8 196.5L529.9 194.3L530.0 192.1L530.1 190.0L530.2 187.9L530.2 185.7L530.3 183.6L530.4 181.6L530.5 179.5L530.6 177.5L530.6 175.5L530.7 173.5L530.8 171.5L530.9 169.5L531.0 167.6L531.1 165.2L531.2 162.8L531.3 160.5L531.4 158.1L531.5 155.8L531.6 153.5L531.7 151.2L531.8 148.9L532.0 146.7L532.1 144.5L532.2 142.3L532.3 140.2L532.4 138.1L532.6 136.0L532.7 134.0L532.8 132.1L533.0 130.2L533.1 128.3L533.3 126.5L533.5 124.8L533.8 121.9L534.2 118.8L534.5 115.8L534.9 112.9L535.3 110.4L535.7 108.4L536.1 107.1L536.5 106.6L536.9 107.1L537.3 108.4L537.7 110.4L538.1 112.9L538.5 115.8L538.8 118.8L539.2 121.9L539.5 124.8L539.7 126.5L539.9 128.3L540.0 130.2L540.2 132.1L540.3 134.0L540.4 136.0L540.6 138.1L540.7 140.2L540.8 142.3L540.9 144.5L541.0 146.7L541.1 148.9L541.2 151.2L541.3 153.5L541.4 155.8L541.5 158.1L541.7 160.5L541.8 162.8L541.9 165.2L542.0 167.6L542.1 169.5L542.2 171.5L542.3 173.5L542.4 175.5L542.5 177.5L542.6 179.5L542.7 181.6L542.8 183.7L542.9 185.8L543.0 187.9L543.1 190.0L543.2 192.2L543.2 194.4L543.3 196.5L543.4 198.7L543.5 201.0L543.6 203.2L543.7 205.4L543.8 207.6L543.9 209.9L544.0 212.2L544.1 214.4L544.2 216.7L544.3 219.0L544.4 221.2L544.5 223.5L544.5 225.8L544.6 228.1L544.7 230.4L544.8 232.7L544.9 235.0L545.0 237.2L545.1 239.3L545.2 241.4L545.2 243.5L545.3 245.5L545.4 247.6L545.5 249.7L545.6 251.8L545.6 253.8L545.7 255.9L545.8 258.0L545.9 260.1L546.0 262.2L546.1 264.3L546.1 266.5L546.2 268.6L546.3 270.7L546.4 272.8L546.5 275.0L546.5 277.1L546.6 279.3L546.7 281.4L546.8 283.6L546.8 285.8L546.9 288.0L547.0 290.2L547.1 292.4L547.1 294.6L547.2 296.8L547.3 299.0L547.4 301.2L547.4 303.5L547.5 305.7L547.6 308.0L547.7 310.3L547.7 312.6L547.8 314.9L547.9 317.2L547.9 319.5L548.0 321.9L548.1 323.8L548.1 325.8L548.2 327.8L548.2 329.8L548.3 331.8L548.3 333.8L548.4 335.9L548.4 337.9L548.5 339.9L548.5 342.0L548.6 344.1L548.6 346.1L548.6 348.2L548.7 350.3L548.7 352.4L548.8 354.5L548.8 356.7L548.9 358.8L548.9 360.9L548.9 363.0L549.0 365.2L549.0 367.3L549.1 369.5L549.1 371.6L549.2 373.8L549.2 375.9L549.2 378.1L549.3 380.3L549.3 382.4L549.4 384.6L549.4 386.8L549.4 389.0L549.5 391.2L549.5 393.3L549.6 395.5L549.6 397.7L549.6 399.9L549.7 402.1L549.7 404.2L549.8 406.4L549.8 408.6L549.9 410.8L549.9 413.0L550.0 415.1L550.0 417.3L550.0 419.5L550.1 421.6L550.1 423.8L550.2 426.0L550.2 428.1L550.3 430.3L550.3 432.4L550.4 434.5L550.4 436.7L550.5 438.8L550.6 441.0L550.6 443.1L550.7 445.3L550.7 447.4L550.8 449.6L550.8 451.7L550.9 453.9L551.0 456.0L551.0 458.2L551.1 460.3L551.2 462.5L551.2 464.6L551.3 466.8L551.3 468.9L551.4 471.1L551.5 473.2L551.5 475.4L551.6 477.5L551.7 479.7L551.7 481.8L551.8 484.0L551.9 486.1L551.9 488.3L552.0 490.4L552.1 492.6L552.2 494.8L552.2 496.9L552.3 499.1L552.4 501.2L552.4 503.4L552.5 505.5L552.6 507.7L552.6 509.8L552.7 512.0L552.8 514.1L552.8 516.3L552.9 518.4L553.0 520.6L553.0 522.7L553.1 524.9L553.2 527.0L553.2 529.2L553.3 531.3L553.4 533.5L553.4 535.7L553.5 537.8L553.6 540.0L553.6 542.1L553.7 544.3L553.8 546.4L553.8 548.6L553.9 550.8L553.9 552.9L554.0 555.1L554.1 557.2L554.1 559.3L554.2 561.4L554.2 563.5L554.3 565.7L554.3 567.8L554.4 569.9L554.5 572.0L554.5 574.1L554.6 576.2L554.6 578.3L554.7 580.4L554.7 582.5L554.8 584.6L554.8 586.8L554.9 588.9L554.9 591.0L555.0 593.1L555.0 595.2L555.1 597.3L555.1 599.4L555.2 601.5L555.2 603.6L555.3 605.8L555.4 607.9L555.4 610.0L555.5 612.1L555.5 614.2L555.6 616.3L555.6 618.4L555.7 620.6L555.7 622.7L555.8 624.8L555.8 626.9L555.9 629.0L555.9 631.2L556.0 633.3L556.0 635.4L556.1 637.5L556.1 639.7L556.2 641.8L556.2 643.9L556.3 646.1L556.3 648.2L556.4 650.3L556.4 652.5L556.5 654.6L556.6 656.7L556.6 658.9L556.7 661.0L556.7 663.2L556.8 665.3L556.8 667.4L556.9 669.6L556.9 671.7L557.0 673.9L557.1 676.0L557.1 678.1L557.2 680.2L557.2 682.4L557.3 684.5L557.3 686.6L557.4 688.7L557.5 690.9L557.5 693.0L557.6 695.1L557.6 697.2L557.7 699.4L557.7 701.5L557.8 703.6L557.9 705.8L557.9 707.9L558.0 710.1L558.0 712.2L558.1 714.3L558.1 716.5L558.2 718.6L558.3 720.8L558.3 722.9L558.4 725.1L558.4 727.2L558.5 729.4L558.5 731.5L558.6 733.7L558.7 735.8L558.7 738.0L558.8 740.1L558.8 742.3L558.9 744.4L559.0 746.6L559.0 748.7L559.1 750.9L559.1 753.0L559.2 755.2L559.3 757.3L559.3 759.5L559.4 761.6L559.5 763.8L559.5 765.9L559.6 768.1L559.7 770.2L559.7 772.4L559.8 774.5L559.8 776.7L559.9 778.8L560.0 781.0L560.0 783.1L560.1 785.3L560.2 787.4L560.3 789.6L560.3 791.7L560.4 793.8L560.5 796.0L560.5 798.1L560.6 800.3L560.7 802.4L560.7 804.5L560.8 806.7L560.9 808.8L561.0 811.0L561.0 813.2L561.1 815.3L561.2 817.5L561.2 819.6L561.3 821.8L561.4 824.0L561.5 826.1L561.5 828.3L561.6 830.5L561.7 832.6L561.8 834.8L561.8 837.0L561.9 839.2L562.0 841.3L562.1 843.5L562.1 845.7L562.2 847.9L562.3 850.0L562.4 852.2L562.4 854.4L562.5 856.6L562.6 858.7L562.7 860.9L562.8 863.1L562.8 865.2L562.9 867.4L563.0 869.5L563.1 871.7L563.2 873.8L563.2 876.0L563.3 878.1L563.4 880.3L563.5 882.4L563.6 884.6L563.7 886.7L563.7 888.8L563.8 890.9L563.9 893.1L564.0 895.2L564.1 897.3L564.2 899.4L564.3 901.5L564.4 903.6L564.5 905.7L564.5 907.7L564.6 909.8L564.7 911.9L564.8 914.0L564.9 916.0L565.0 918.1L565.1 920.1L565.2 922.1L565.3 924.2L565.4 926.2L565.5 928.4L565.6 930.6L565.7 932.8L565.8 935.0L566.0 937.2L566.1 939.4L566.2 941.6L566.3 943.8L566.4 946.0L566.5 948.2L566.6 950.4L566.8 952.6L566.9 954.8L567.0 956.9L567.1 959.1L567.2 961.2L567.4 963.4L567.5 965.5L567.6 967.7L567.7 969.8L567.9 972.0L568.0 974.1L568.1 976.2L568.2 978.3L568.4 980.4L568.5 982.5L568.6 984.6L568.8 986.7L568.9 988.8L569.0 990.9L569.1 992.9L569.3 995.0L569.4 997.1L569.5 999.1L569.7 1001.2L569.8 1003.2L569.9 1005.2L570.1 1007.2L570.2 1009.3L570.3 1011.3L570.5 1013.3L570.6 1015.2L570.7 1017.2L570.9 1019.2L571.0 1021.2L571.1 1023.1L571.3 1025.1L571.4 1027.0L571.6 1029.3L571.7 1031.5L571.9 1033.8L572.0 1036.0L572.2 1038.2L572.4 1040.4L572.5 1042.6L572.7 1044.8L572.8 1046.9L573.0 1049.1L573.2 1051.2L573.3 1053.4L573.5 1055.5L573.6 1057.6L573.8 1059.7L574.0 1061.8L574.1 1063.9L574.3 1066.0L574.5 1068.1L574.6 1070.1L574.8 1072.2L575.0 1074.3L575.1 1076.3L575.3 1078.4L575.5 1080.4L575.7 1082.5L575.8 1084.5L576.0 1086.6L576.2 1088.6L576.4 1090.7L576.6 1092.7L576.7 1094.8L576.9 1096.8L577.1 1098.9L577.3 1101.0L577.5 1103.1L577.7 1105.2L577.9 1107.3L578.1 1109.5L578.3 1111.6L578.5 1113.8L578.7 1115.9L578.9 1118.1L579.1 1120.2L579.3 1122.4L579.5 1124.5L579.7 1126.6L579.9 1128.8L580.1 1130.9L580.3 1133.0L580.5 1135.2L580.7 1137.3L580.9 1139.4L581.1 1141.5L581.3 1143.5L581.6 1145.6L581.8 1147.7L582.0 1149.7L582.2 1151.7L582.5 1153.7L582.7 1155.7L583.0 1157.7L583.2 1159.6L583.4 1161.5L583.7 1163.4L584.0 1165.3L584.2 1167.2L584.5 1169.0L584.8 1171.3L585.2 1173.5L585.6 1175.7L585.9 1177.9L586.3 1180.1L586.7 1182.2L587.0 1184.3L587.4 1186.4L587.8 1188.5L588.2 1190.5L588.6 1192.5L589.0 1194.5L589.4 1196.5L589.8 1198.5L590.2 1200.4L590.7 1202.3L591.1 1204.3L591.5 1206.2L592.0 1208.1L592.4 1210.0L592.9 1211.8L593.4 1214.0L593.9 1216.2L594.4 1218.4L594.9 1220.7L595.5 1222.9L596.0 1225.0L596.5 1227.2L597.0 1229.3L597.6 1231.4L598.2 1233.4L598.8 1235.4L599.4 1237.3L600.1 1239.1L600.8 1240.8L601.6 1242.5L602.4 1244.0L603.7 1246.1L605.0 1248.0L606.4 1249.8L607.8 1251.5L609.4 1253.0L611.0 1254.4L612.6 1255.6L614.4 1256.8L616.2 1257.7L618.2 1258.6L620.2 1259.3L622.3 1259.9L624.5 1260.4L626.6 1260.8L628.8 1261.1L631.0 1261.3L633.0 1261.3L635.1 1261.3L637.2 1261.2L639.4 1261.0L641.5 1260.7L643.7 1260.3L645.8 1259.8L647.9 1259.3L650.0 1258.6L652.0 1257.9L654.0 1257.1L656.0 1256.1L658.0 1255.1L659.9 1254.0L661.9 1252.8L663.8 1251.6L665.7 1250.4L667.6 1249.2L669.4 1248.0L671.1 1246.9L672.8 1245.7L674.4 1244.6L676.1 1243.4L677.7 1242.2L679.3 1241.0L680.8 1239.7L682.4 1238.4L683.9 1237.0L685.5 1235.5L686.8 1234.0L688.2 1232.5L689.5 1230.9L690.9 1229.2L692.2 1227.5L693.5 1225.7L694.8 1224.0L696.1 1222.1L697.4 1220.3L698.7 1218.4L700.0 1216.6L701.3 1214.8L702.6 1212.9L703.8 1211.3L705.0 1209.6L706.2 1208.0L707.3 1206.3L708.5 1204.6L709.6 1202.9L710.7 1201.2L711.9 1199.5L713.0 1197.8L714.1 1196.0L715.3 1194.2L716.4 1192.4L717.6 1190.5L718.8 1188.5L720.0 1186.6L720.9 1185.0L721.9 1183.4L722.8 1181.8L723.8 1180.1L724.7 1178.4L725.7 1176.7L726.7 1174.9L727.7 1173.2L728.7 1171.4L729.7 1169.6L730.7 1167.8L731.7 1165.9L732.7 1164.1L733.7 1162.2L734.8 1160.4L735.8 1158.5L736.8 1156.6L737.8 1154.8L738.9 1152.9L739.9 1151.1L740.9 1149.2L741.9 1147.4L743.0 1145.6L744.0 1143.8L745.0 1142.0L746.0 1140.2L747.0 1138.4L748.0 1136.6L749.1 1134.8L750.1 1133.0L751.1 1131.2L752.1 1129.4L753.2 1127.6L754.2 1125.8L755.2 1124.0L756.2 1122.2L757.3 1120.4L758.3 1118.6L759.3 1116.8L760.4 1115.1L761.4 1113.3L762.4 1111.5L763.5 1109.8L764.5 1108.0L765.5 1106.3L766.5 1104.6L767.5 1102.9L768.6 1101.2L769.6 1099.6L770.6 1097.9L771.8 1096.0L773.0 1094.2L774.1 1092.3L775.3 1090.5L776.4 1088.7L777.5 1087.0L778.7 1085.2L779.8 1083.5L781.0 1081.7L782.1 1080.0L783.3 1078.3L784.4 1076.5L785.6 1074.8L786.8 1073.1L788.0 1071.3L789.2 1069.5L790.4 1067.7L791.7 1065.9L793.0 1064.0L794.1 1062.5L795.2 1060.9L796.3 1059.3L797.5 1057.7L798.6 1056.1L799.8 1054.4L800.9 1052.8L802.1 1051.1L803.3 1049.5L804.5 1047.8L805.7 1046.1L806.9 1044.4L808.1 1042.8L809.3 1041.1L810.6 1039.4L811.8 1037.8L813.0 1036.1L814.3 1034.5L815.5 1032.8L816.8 1031.2L818.1 1029.6L819.4 1028.1L820.6 1026.5L821.9 1025.0L823.2 1023.5L824.5 1022.0L825.9 1020.5L827.3 1018.9L828.7 1017.4L830.2 1015.8L831.6 1014.3L833.1 1012.8L834.6 1011.3L836.1 1009.8L837.6 1008.3L839.1 1006.8L840.6 1005.4L842.1 1004.0L843.6 1002.6L845.1 1001.2L846.6 999.8L848.1 998.5L849.5 997.2L851.0 995.9L852.4 994.7L853.9 993.4L855.3 992.3L856.6 991.1L858.0 990.0L859.8 988.6L861.5 987.3L863.3 986.1L865.0 984.8L866.6 983.7L868.3 982.5L870.0 981.5L871.6 980.4L873.3 979.4L874.9 978.5L876.6 977.6L878.3 976.8L880.0 976.0L882.0 975.2L883.9 974.4L885.9 973.7L887.8 973.1L889.8 972.5L891.7 972.0L893.7 971.6L895.8 971.3L897.9 971.1L900.0 971.0L902.0 970.9L904.0 971.0L906.0 971.1L908.1 971.2L910.2 971.5L912.4 971.8L914.5 972.2L916.7 972.7L918.9 973.2L921.0 973.8L923.2 974.5L925.4 975.2L927.5 976.0L929.2 976.7L930.9 977.4L932.7 978.2L934.4 979.0L936.2 979.9L938.0 980.8L939.7 981.8L941.5 982.8L943.3 983.8L945.0 984.9L946.8 986.0L948.5 987.2L950.2 988.4L951.9 989.6L953.6 990.8L955.2 992.1L956.9 993.4L958.4 994.7L960.0 996.0L961.4 997.3L962.9 998.7L964.2 1000.1L965.6 1001.6L966.9 1003.2L968.2 1004.7L969.5 1006.3L970.7 1008.0L972.0 1009.6L973.2 1011.3L974.5 1013.0L975.7 1014.7L976.9 1016.3L978.1 1018.0L979.4 1019.7L980.6 1021.3L981.8 1022.9L983.1 1024.5L984.4 1026.1L985.7 1027.6L987.0 1029.0L988.4 1030.5L989.9 1032.1L991.4 1033.6L992.8 1035.2L994.3 1036.7L995.7 1038.2L997.2 1039.7L998.7 1041.2L1000.2 1042.7L1001.7 1044.1L1003.2 1045.5L1004.7 1046.8L1006.2 1048.1L1007.7 1049.4L1009.3 1050.6L1010.8 1051.7L1012.4 1052.8L1014.0 1053.9L1015.8 1055.0L1017.7 1056.0L1019.6 1057.0L1021.5 1057.9L1023.4 1058.8L1025.3 1059.6L1027.3 1060.4L1029.2 1061.1L1031.2 1061.8L1033.1 1062.4L1035.1 1063.0L1037.1 1063.6L1039.0 1064.1L1041.0 1064.6L1043.0 1065.1L1045.1 1065.5L1047.2 1065.8L1049.2 1066.2L1051.3 1066.4L1053.4 1066.7L1055.5 1066.9L1057.6 1067.0L1059.7 1067.1L1061.7 1067.2L1063.8 1067.3L1065.9 1067.3L1068.0 1067.3L1070.1 1067.3L1072.2 1067.2L1074.2 1067.1L1076.3 1067.0L1078.4 1066.8L1080.5 1066.6L1082.6 1066.4L1084.6 1066.2L1086.7 1065.9L1088.8 1065.6L1090.9 1065.3L1092.9 1065.0L1095.0 1064.6L1097.1 1064.3L1099.2 1063.9L1101.2 1063.5L1103.3 1063.1L1105.4 1062.6L1107.5 1062.2L1109.6 1061.7L1111.6 1061.2L1113.7 1060.7L1115.8 1060.2L1117.9 1059.7L1119.9 1059.3L1122.0 1058.8L1124.1 1058.3L1126.2 1057.9L1128.2 1057.4L1130.3 1057.0L1132.4 1056.5L1134.5 1056.1L1136.6 1055.6L1138.7 1055.2L1140.7 1054.7L1142.8 1054.2L1144.9 1053.6L1146.9 1053.1L1149.0 1052.5L1150.9 1051.9L1152.8 1051.4L1154.8 1050.7L1156.7 1050.1L1158.6 1049.5L1160.5 1048.8L1162.4 1048.1L1164.3 1047.5L1166.2 1046.8L1168.1 1046.1L1170.0 1045.4L1171.9 1044.7L1173.7 1044.0L1175.6 1043.2L1177.5 1042.5L1179.4 1041.7L1181.3 1040.9L1183.1 1040.0L1184.9 1039.2L1186.8 1038.3L1188.6 1037.5L1190.4 1036.6L1192.3 1035.8L1194.2 1035.0L1196.1 1034.3L1198.0 1033.6L1200.0 1033.0L1202.0 1032.5L1204.0 1032.0L1206.1 1031.6L1208.2 1031.3L1210.3 1030.9L1212.5 1030.6L1214.6 1030.3L1216.8 1030.1L1218.9 1029.8L1221.1 1029.6L1223.2 1029.3L1225.3 1029.0L1227.4 1028.7L1229.5 1028.4L1231.6 1028.0L1233.7 1027.7L1235.8 1027.3L1237.9 1026.9L1240.0 1026.4L1242.0 1026.0L1244.1 1025.6L1246.2 1025.3L1248.2 1024.9L1250.3 1024.6L1252.3 1024.2L1254.4 1024.0L1256.5 1023.8L1258.6 1023.6L1260.6 1023.4L1262.7 1023.3L1264.8 1023.2L1266.9 1023.1L1269.0 1023.0L1271.0 1023.0L1273.1 1023.0L1275.2 1023.0L1277.3 1023.0L1279.3 1023.0L1281.4 1023.1L1283.5 1023.1L1285.6 1023.2L1287.6 1023.3L1289.6 1023.4L1291.6 1023.6L1293.6 1023.7L1295.6 1023.9L1297.6 1024.1L1299.7 1024.3L1301.7 1024.6L1303.8 1024.8L1306.0 1025.0L1308.2 1025.2L1310.4 1025.5L1312.2 1025.7L1314.1 1025.9L1316.0 1026.1L1317.9 1026.3L1319.8 1026.5L1321.8 1026.7L1323.8 1027.0L1325.8 1027.2L1327.8 1027.5L1329.8 1027.7L1331.9 1027.9L1334.0 1028.2L1336.0 1028.4L1338.1 1028.7L1340.2 1028.9L1342.3 1029.1L1344.4 1029.4L1346.6 1029.6L1348.7 1029.8L1350.8 1030.0L1352.7 1030.2L1354.7 1030.3L1356.6 1030.5L1358.5 1030.6L1360.4 1030.8L1362.3 1030.9L1364.3 1031.1L1366.2 1031.2L1368.1 1031.3L1370.1 1031.5L1372.0 1031.6L1374.0 1031.7L1376.0 1031.9L1378.0 1032.0L1380.1 1032.1L1382.1 1032.2L1384.2 1032.4L1386.4 1032.5L1388.5 1032.6L1390.7 1032.7L1393.0 1032.8L1395.3 1033.0L1397.6 1033.1L1400.0 1033.2L1401.7 1033.3L1403.4 1033.4L1405.1 1033.5L1406.8 1033.5L1408.6 1033.6L1410.4 1033.7L1412.2 1033.8L1414.0 1033.9L1415.9 1033.9L1417.8 1034.0L1419.6 1034.1L1421.6 1034.2L1423.5 1034.2L1425.4 1034.3L1427.4 1034.4L1429.4 1034.5L1431.4 1034.5L1433.4 1034.6L1435.4 1034.7L1437.5 1034.8L1439.5 1034.8L1441.6 1034.9L1443.6 1035.0L1445.7 1035.1L1447.8 1035.1L1449.9 1035.2L1452.0 1035.3L1454.1 1035.3L1456.2 1035.4L1458.3 1035.5L1460.4 1035.5L1462.5 1035.6L1464.7 1035.7L1466.8 1035.7L1468.9 1035.8L1471.0 1035.9L1473.1 1035.9L1475.2 1036.0L1477.3 1036.0L1479.4 1036.1L1481.5 1036.1L1483.6 1036.2L1485.7 1036.3L1487.8 1036.3L1489.8 1036.4L1491.9 1036.4L1493.9 1036.5L1496.0 1036.5L1498.0 1036.6L1500.0 1036.6L1502.0 1036.7L1504.0 1036.7L1506.0 1036.8L1508.0 1036.8L1510.0 1036.9L1512.0 1036.9L1514.0 1036.9L1516.0 1037.0L1518.0 1037.0L1520.0 1037.1L1522.0 1037.1L1524.0 1037.1L1526.0 1037.2L1528.0 1037.2L1530.0 1037.2L1532.0 1037.3L1534.0 1037.3L1536.0 1037.3L1538.0 1037.4L1540.0 1037.4L1542.0 1037.4L1544.0 1037.4L1546.0 1037.5L1548.0 1037.5L1550.0 1037.5L1552.0 1037.5L1554.0 1037.6L1556.0 1037.6L1558.0 1037.6L1560.0 1037.6L1562.0 1037.7L1564.0 1037.7L1566.0 1037.7L1568.0 1037.7L1570.0 1037.8L1572.0 1037.8L1574.0 1037.8L1576.0 1037.8L1578.0 1037.8L1580.0 1037.9L1582.0 1037.9L1584.0 1037.9L1586.0 1037.9L1588.0 1037.9L1590.0 1037.9L1592.0 1038.0L1594.0 1038.0L1596.0 1038.0L1598.0 1038.0L1600.0 1038.0L1602.0 1038.1L1604.0 1038.1L1606.0 1038.1L1608.0 1038.1L1609.9 1038.1L1611.9 1038.1L1613.9 1038.1L1615.9 1038.2L1617.8 1038.2L1619.8 1038.2L1621.7 1038.2L1623.7 1038.2L1625.7 1038.2L1627.6 1038.2L1629.6 1038.2L1631.5 1038.2L1633.5 1038.3L1635.4 1038.3L1637.4 1038.3L1639.4 1038.3L1641.3 1038.3L1643.3 1038.3L1645.2 1038.3L1647.2 1038.3L1649.2 1038.3L1651.1 1038.3L1653.1 1038.3L1655.1 1038.3L1657.0 1038.3L1659.0 1038.3L1661.0 1038.3L1663.0 1038.3L1665.0 1038.3L1667.0 1038.4L1669.0 1038.4L1671.0 1038.4L1673.0 1038.4L1675.1 1038.4L1677.1 1038.4L1679.1 1038.4L1681.2 1038.4L1683.2 1038.4L1685.3 1038.4L1687.4 1038.4L1689.5 1038.4L1691.5 1038.4L1693.6 1038.4L1695.8 1038.4L1697.9 1038.4L1700.0 1038.5L1701.9 1038.5L1703.8 1038.5L1705.7 1038.5L1707.6 1038.5L1709.5 1038.5L1711.4 1038.5L1713.4 1038.5L1715.3 1038.5L1717.2 1038.5L1719.2 1038.5L1721.1 1038.5L1723.1 1038.6L1725.1 1038.6L1727.0 1038.6L1729.0 1038.6L1731.0 1038.6L1733.0 1038.6L1735.0 1038.6L1737.0 1038.6L1739.0 1038.6L1741.0 1038.6L1743.0 1038.6L1745.0 1038.6L1747.1 1038.7L1749.1 1038.7L1751.1 1038.7L1753.2 1038.7L1755.2 1038.7L1757.2 1038.7L1759.3 1038.7L1761.3 1038.7L1763.4 1038.7L1765.4 1038.7L1767.5 1038.7L1769.5 1038.7L1771.6 1038.8L1773.6 1038.8L1775.7 1038.8L1777.8 1038.8L1779.8 1038.8L1781.9 1038.8L1783.9 1038.8L1786.0 1038.8L1788.1 1038.8L1790.1 1038.8L1792.2 1038.8L1794.2 1038.8L1796.3 1038.9L1798.4 1038.9L1800.4 1038.9L1802.5 1038.9L1804.5 1038.9L1806.6 1038.9L1808.6 1038.9L1810.7 1038.9L1812.7 1038.9L1814.8 1038.9L1816.8 1038.9L1818.8 1038.9L1820.9 1039.0L1822.9 1039.0L1824.9 1039.0L1827.0 1039.0L1829.0 1039.0L1831.0 1039.0" stroke="#990099" stroke-dasharray="3.00 63.00"/>
<path d="M203.0 1284.0L205.0 1284.0L207.1 1284.0L209.1 1284.0L211.2 1284.0L213.3 1284.0L215.4 1284.0L217.5 1284.0L219.7 1284.0L221.8 1284.0L224.0 1284.0L226.2 1284.0L228.4 1284.0L230.7 1284.0L232.9 1284.0L235.1 1284.0L237.4 1284.0L239.7 1284.0L242.0 1284.0L244.3 1284.0L246.6 1284.0L248.9 1284.0L251.3 1284.0L253.6 1284.1L256.0 1284.1L258.4 1284.1L260.7 1284.1L263.1 1284.1L265.5 1284.1L267.9 1284.1L270.3 1284.1L272.8 1284.1L275.2 1284.1L277.6 1284.1L280.0 1284.1L282.5 1284.1L284.9 1284.1L287.4 1284.1L289.8 1284.1L292.3 1284.1L294.7 1284.1L297.2 1284.1L299.6 1284.1L302.1 1284.2L304.5 1284.2L307.0 1284.2L309.5 1284.2L311.9 1284.2L314.4 1284.2L316.8 1284.2L319.3 1284.2L321.7 1284.2L324.2 1284.2L326.6 1284.2L329.1 1284.2L331.5 1284.2L333.9 1284.2L336.4 1284.2L338.8 1284.2L341.2 1284.2L343.6 1284.2L346.0 1284.2L348.4 1284.3L350.8 1284.3L353.2 1284.3L355.5 1284.3L357.9 1284.3L360.2 1284.3L362.6 1284.3L364.9 1284.3L367.2 1284.3L369.5 1284.3L371.8 1284.3L374.1 1284.3L376.3 1284.3L378.6 1284.3L380.8 1284.3L383.0 1284.3L385.2 1284.3L387.4 1284.3L389.6 1284.3L391.8 1284.3L393.9 1284.3L396.0 1284.3L398.1 1284.3L400.2 1284.3L402.3 1284.3L404.4 1284.3L406.4 1284.3L408.4 1284.3L410.4 1284.3L412.4 1284.3L414.3 1284.3L416.2 1284.3L418.1 1284.3L420.0 1284.3L421.9 1284.3L423.7 1284.3L425.5 1284.3L427.3 1284.3L429.1 1284.3L430.8 1284.3L432.5 1284.3L434.2 1284.3L435.8 1284.3L437.5 1284.3L439.1 1284.3L440.6 1284.3L442.2 1284.3L443.7 1284.3L445.2 1284.3L446.6 1284.2L448.0 1284.2L449.4 1284.2L450.8 1284.2L452.1 1284.2L453.3 1284.2L454.6 1284.2L455.8 1284.2L457.0 1284.2L458.1 1284.2L459.2 1284.2L460.2 1284.2L461.2 1284.1L462.2 1284.1L463.1 1284.1L464.0 1284.1L464.8 1284.1L465.6 1284.1L466.4 1284.1L467.1 1284.0L467.8 1284.0L468.4 1284.0L469.0 1284.0L471.6 1284.0L473.6 1284.0L475.3 1283.9L476.7 1283.8L478.2 1283.5L480.4 1282.9L482.3 1282.1L484.1 1281.0L485.6 1279.7L486.8 1278.1L488.0 1276.0L488.6 1274.7L489.2 1273.2L489.7 1271.5L490.3 1269.7L490.8 1267.8L491.3 1265.7L491.7 1263.6L492.2 1261.3L492.6 1259.0L493.1 1256.7L493.5 1254.4L493.9 1252.0L494.2 1250.3L494.5 1248.6L494.7 1246.9L494.9 1245.1L495.2 1243.3L495.4 1241.4L495.6 1239.5L495.8 1237.6L496.0 1235.7L496.2 1233.7L496.4 1231.7L496.6 1229.7L496.8 1227.6L497.0 1225.5L497.1 1223.5L497.3 1221.4L497.5 1219.2L497.6 1217.1L497.8 1214.9L498.0 1212.8L498.1 1210.6L498.3 1208.4L498.4 1206.2L498.6 1204.0L498.7 1202.2L498.9 1200.4L499.0 1198.5L499.1 1196.6L499.2 1194.8L499.3 1192.9L499.5 1190.9L499.6 1189.0L499.7 1187.0L499.8 1185.1L499.9 1183.1L500.0 1181.1L500.1 1179.1L500.2 1177.1L500.3 1175.1L500.4 1173.0L500.5 1171.0L500.6 1168.9L500.6 1166.9L500.7 1164.8L500.8 1162.8L500.9 1160.7L501.0 1158.6L501.1 1156.6L501.2 1154.5L501.3 1152.4L501.4 1150.4L501.4 1148.3L501.5 1146.3L501.6 1144.2L501.7 1142.1L501.8 1140.1L501.9 1138.1L502.0 1136.0L502.1 1134.0L502.2 1132.0L502.3 1130.0L502.4 1128.0L502.5 1126.0L502.6 1124.0L502.7 1122.0L502.8 1120.1L502.9 1118.1L503.0 1116.2L503.1 1114.2L503.2 1112.3L503.3 1110.3L503.4 1108.4L503.5 1106.4L503.6 1104.5L503.7 1102.5L503.8 1100.6L503.9 1098.6L504.0 1096.7L504.1 1094.7L504.3 1092.7L504.4 1090.7L504.5 1088.7L504.6 1086.7L504.7 1084.7L504.8 1082.7L504.9 1080.6L505.0 1078.5L505.0 1076.4L505.1 1074.3L505.2 1072.2L505.3 1070.1L505.4 1067.9L505.5 1065.7L505.6 1063.5L505.7 1061.3L505.8 1059.0L505.9 1057.2L505.9 1055.5L506.0 1053.7L506.1 1051.9L506.1 1050.0L506.2 1048.2L506.3 1046.4L506.3 1044.5L506.4 1042.6L506.5 1040.7L506.5 1038.8L506.6 1036.9L506.7 1035.0L506.7 1033.0L506.8 1031.1L506.8 1029.1L506.9 1027.2L507.0 1025.2L507.0 1023.2L507.1 1021.2L507.1 1019.2L507.2 1017.2L507.3 1015.2L507.3 1013.1L507.4 1011.1L507.4 1009.1L507.5 1007.0L507.6 1005.0L507.6 1002.9L507.7 1000.8L507.7 998.8L507.8 996.7L507.8 994.6L507.9 992.6L508.0 990.5L508.0 988.4L508.1 986.3L508.1 984.2L508.2 982.2L508.2 980.1L508.3 978.0L508.4 975.9L508.4 973.8L508.5 971.8L508.5 969.7L508.6 967.6L508.6 965.5L508.7 963.5L508.8 961.4L508.8 959.3L508.9 957.3L508.9 955.2L509.0 953.2L509.0 951.1L509.1 949.1L509.2 947.1L509.2 945.0L509.3 943.0L509.3 941.0L509.4 939.0L509.5 937.0L509.5 934.9L509.6 932.9L509.6 930.9L509.7 928.9L509.8 926.8L509.8 924.8L509.9 922.8L510.0 920.8L510.0 918.7L510.1 916.7L510.2 914.7L510.2 912.7L510.3 910.6L510.3 908.6L510.4 906.6L510.5 904.5L510.5 902.5L510.6 900.5L510.7 898.5L510.7 896.4L510.8 894.4L510.9 892.4L510.9 890.4L511.0 888.3L511.0 886.3L511.1 884.3L511.2 882.3L511.2 880.2L511.3 878.2L511.4 876.2L511.4 874.2L511.5 872.1L511.6 870.1L511.6 868.1L511.7 866.1L511.7 864.0L511.8 862.0L511.9 860.0L511.9 858.0L512.0 856.0L512.0 853.9L512.1 851.9L512.2 849.9L512.2 847.9L512.3 845.8L512.3 843.8L512.4 841.8L512.5 839.8L512.5 837.7L512.6 835.7L512.6 833.7L512.7 831.7L512.7 829.6L512.8 827.6L512.8 825.6L512.9 823.6L512.9 821.5L513.0 819.5L513.1 817.5L513.1 815.4L513.2 813.4L513.2 811.4L513.3 809.4L513.3 807.3L513.3 805.3L513.4 803.3L513.4 801.2L513.5 799.2L513.5 797.2L513.6 795.1L513.6 793.1L513.7 791.1L513.7 789.0L513.8 787.0L513.8 785.0L513.8 782.9L513.9 780.9L513.9 778.8L514.0 776.8L514.0 774.8L514.1 772.7L514.1 770.7L514.1 768.7L514.2 766.6L514.2 764.6L514.3 762.6L514.3 760.5L514.3 758.5L514.4 756.5L514.4 754.4L514.5 752.4L514.5 750.4L514.5 748.3L514.6 746.3L514.6 744.3L514.6 742.2L514.7 740.2L514.7 738.2L514.8 736.2L514.8 734.1L514.8 732.1L514.9 730.1L514.9 728.1L515.0 726.1L515.0 724.1L515.0 722.0L515.1 720.0L515.1 718.0L515.2 716.0L515.2 714.0L515.2 712.0L515.3 710.0L515.3 708.0L515.4 706.0L515.4 704.0L515.5 702.0L515.5 700.0L515.5 698.0L515.6 695.9L515.6 693.9L515.7 691.9L515.7 689.9L515.8 687.8L515.8 685.8L515.8 683.8L515.9 681.8L515.9 679.8L516.0 677.7L516.0 675.7L516.1 673.7L516.1 671.7L516.1 669.7L516.2 667.7L516.2 665.7L516.3 663.7L516.3 661.7L516.3 659.7L516.4 657.7L516.4 655.7L516.5 653.7L516.5 651.7L516.6 649.7L516.6 647.7L516.6 645.7L516.7 643.7L516.7 641.7L516.8 639.7L516.8 637.7L516.9 635.7L516.9 633.7L516.9 631.7L517.0 629.7L517.0 627.7L517.1 625.7L517.1 623.8L517.2 621.8L517.2 619.8L517.3 617.8L517.3 615.8L517.3 613.8L517.4 611.8L517.4 609.8L517.5 607.9L517.5 605.9L517.6 603.9L517.6 601.9L517.7 599.9L517.7 597.9L517.8 595.9L517.8 594.0L517.9 592.0L517.9 590.0L518.0 588.0L518.1 586.0L518.1 583.9L518.2 581.9L518.2 579.9L518.3 577.9L518.3 575.8L518.4 573.8L518.5 571.8L518.5 569.8L518.6 567.7L518.6 565.7L518.7 563.7L518.8 561.7L518.8 559.6L518.9 557.6L519.0 555.6L519.0 553.6L519.1 551.6L519.2 549.6L519.2 547.5L519.3 545.5L519.4 543.5L519.4 541.5L519.5 539.5L519.6 537.5L519.6 535.5L519.7 533.4L519.8 531.4L519.8 529.4L519.9 527.4L520.0 525.4L520.0 523.4L520.1 521.4L520.2 519.3L520.2 517.3L520.3 515.3L520.4 513.3L520.4 511.3L520.5 509.3L520.6 507.3L520.6 505.2L520.7 503.2L520.8 501.2L520.8 499.2L520.9 497.2L521.0 495.2L521.0 493.1L521.1 491.1L521.2 489.1L521.2 487.1L521.3 485.1L521.4 483.0L521.4 481.0L521.5 479.0L521.6 477.0L521.6 475.0L521.7 473.0L521.8 471.0L521.8 469.0L521.9 466.9L522.0 464.9L522.0 462.9L522.1 460.8L522.1 458.8L522.2 456.7L522.3 454.7L522.3 452.6L522.4 450.6L522.5 448.5L522.5 446.5L522.6 444.4L522.7 442.4L522.7 440.3L522.8 438.3L522.9 436.2L522.9 434.2L523.0 432.1L523.1 430.1L523.1 428.0L523.2 426.0L523.3 423.9L523.3 421.9L523.4 419.8L523.5 417.8L523.5 415.8L523.6 413.7L523.6 411.7L523.7 409.7L523.8 407.7L523.8 405.7L523.9 403.7L524.0 401.7L524.0 399.7L524.1 397.7L524.2 395.7L524.2 393.8L524.3 391.8L524.3 389.8L524.4 387.9L524.5 386.0L524.5 384.0L524.6 382.1L524.6 380.2L524.7 378.3L524.8 376.4L524.8 374.6L524.9 372.7L524.9 370.8L525.0 369.0L525.1 366.8L525.1 364.6L525.2 362.5L525.3 360.3L525.3 358.2L525.4 356.1L525.5 353.9L525.5 351.8L525.6 349.7L525.7 347.6L525.7 345.5L525.8 343.5L525.9 341.4L525.9 339.4L526.0 337.3L526.0 335.3L526.1 333.2L526.2 331.2L526.2 329.2L526.3 327.2L526.4 325.2L526.4 323.2L526.5 321.2L526.5 319.2L526.6 317.3L526.7 315.3L526.7 313.3L526.8 311.3L526.9 309.4L526.9 307.4L527.0 305.5L527.0 303.5L527.1 301.6L527.2 299.7L527.2 297.7L527.3 295.8L527.4 293.9L527.4 291.9L527.5 290.0L527.6 287.9L527.6 285.7L527.7 283.6L527.8 281.5L527.9 279.3L527.9 277.2L528.0 275.1L528.1 272.9L528.2 270.8L528.2 268.7L528.3 266.6L528.4 264.5L528.5 262.4L528.5 260.3L528.6 258.2L528.7 256.1L528.8 254.1L528.8 252.0L528.9 250.0L529.0 247.9L529.1 245.9L529.2 243.9L529.2 242.0L529.3 240.0L529.4 238.0L529.5 236.1L529.6 234.2L529.6 232.3L529.7 230.5L529.8 228.6L529.9 226.8L530.0 225.0L530.1 222.8L530.2 220.5L530.3 218.3L530.4 216.1L530.5 213.9L530.6 211.8L530.7 209.6L530.8 207.5L531.0 205.4L531.1 203.3L531.2 201.3L531.3 199.3L531.4 197.4L531.6 195.4L531.7 193.6L531.8 191.8L532.0 190.0L532.1 188.3L532.3 186.6L532.5 185.0L532.8 182.3L533.2 179.4L533.5 176.6L533.9 173.9L534.3 171.6L534.7 169.7L535.1 168.4L535.5 168.0L535.9 168.4L536.3 169.7L536.7 171.6L537.1 173.9L537.5 176.6L537.8 179.4L538.2 182.3L538.5 185.0L538.7 186.6L538.9 188.3L539.0 190.0L539.2 191.8L539.3 193.6L539.4 195.4L539.6 197.4L539.7 199.3L539.8 201.3L539.9 203.3L540.0 205.4L540.1 207.5L540.2 209.6L540.3 211.8L540.4 213.9L540.5 216.1L540.7 218.3L540.8 220.5L540.9 222.8L541.0 225.0L541.1 226.8L541.2 228.6L541.3 230.5L541.4 232.3L541.5 234.2L541.6 236.1L541.7 238.1L541.8 240.0L541.9 242.0L542.0 243.9L542.1 245.9L542.2 247.9L542.2 250.0L542.3 252.0L542.4 254.1L542.5 256.1L542.6 258.2L542.7 260.3L542.8 262.4L542.9 264.5L543.0 266.6L543.1 268.7L543.2 270.8L543.3 272.9L543.4 275.1L543.5 277.2L543.5 279.3L543.6 281.5L543.7 283.6L543.8 285.7L543.9 287.9L544.0 290.0L544.1 291.9L544.2 293.9L544.2 295.8L544.3 297.7L544.4 299.7L544.5 301.6L544.6 303.5L544.6 305.5L544.7 307.4L544.8 309.4L544.9 311.3L545.0 313.3L545.1 315.3L545.1 317.3L545.2 319.2L545.3 321.2L545.4 323.2L545.5 325.2L545.5 327.2L545.6 329.2L545.7 331.2L545.8 333.2L545.8 335.3L545.9 337.3L546.0 339.4L546.1 341.4L546.1 343.5L546.2 345.5L546.3 347.6L546.4 349.7L546.4 351.8L546.5 353.9L546.6 356.0L546.7 358.2L546.7 360.3L546.8 362.5L546.9 364.6L546.9 366.8L547.0 369.0L547.1 370.8L547.1 372.7L547.2 374.6L547.2 376.4L547.3 378.3L547.3 380.2L547.4 382.1L547.4 384.0L547.5 386.0L547.5 387.9L547.6 389.8L547.6 391.8L547.6 393.8L547.7 395.7L547.7 397.7L547.8 399.7L547.8 401.7L547.9 403.7L547.9 405.7L547.9 407.7L548.0 409.7L548.0 411.7L548.1 413.7L548.1 415.8L548.2 417.8L548.2 419.8L548.2 421.9L548.3 423.9L548.3 426.0L548.4 428.0L548.4 430.1L548.4 432.1L548.5 434.2L548.5 436.2L548.6 438.3L548.6 440.3L548.6 442.4L548.7 444.4L548.7 446.5L548.8 448.5L548.8 450.6L548.9 452.6L548.9 454.7L549.0 456.7L549.0 458.8L549.0 460.8L549.1 462.9L549.1 464.9L549.2 466.9L549.2 469.0L549.3 471.0L549.3 473.0L549.4 475.0L549.4 477.0L549.5 479.0L549.6 481.0L549.6 483.0L549.7 485.1L549.7 487.1L549.8 489.1L549.8 491.1L549.9 493.1L550.0 495.2L550.0 497.2L550.1 499.2L550.2 501.2L550.2 503.2L550.3 505.2L550.3 507.3L550.4 509.3L550.5 511.3L550.5 513.3L550.6 515.3L550.7 517.3L550.7 519.3L550.8 521.4L550.9 523.4L550.9 525.4L551.0 527.4L551.1 529.4L551.2 531.4L551.2 533.4L551.3 535.5L551.4 537.5L551.4 539.5L551.5 541.5L551.6 543.5L551.6 545.5L551.7 547.5L551.8 549.6L551.8 551.6L551.9 553.6L552.0 555.6L552.0 557.6L552.1 559.6L552.2 561.7L552.2 563.7L552.3 565.7L552.4 567.7L552.4 569.8L552.5 571.8L552.6 573.8L552.6 575.8L552.7 577.9L552.8 579.9L552.8 581.9L552.9 583.9L552.9 586.0L553.0 588.0L553.1 590.0L553.1 592.0L553.2 594.0L553.2 595.9L553.3 597.9L553.3 599.9L553.4 601.9L553.5 603.9L553.5 605.9L553.6 607.9L553.6 609.8L553.7 611.8L553.7 613.8L553.8 615.8L553.8 617.8L553.9 619.8L553.9 621.8L554.0 623.8L554.0 625.7L554.1 627.7L554.1 629.7L554.2 631.7L554.2 633.7L554.3 635.7L554.4 637.7L554.4 639.7L554.5 641.7L554.5 643.7L554.6 645.7L554.6 647.7L554.7 649.7L554.7 651.7L554.8 653.7L554.8 655.7L554.9 657.7L554.9 659.7L555.0 661.7L555.0 663.7L555.1 665.7L555.1 667.7L555.2 669.7L555.2 671.7L555.3 673.7L555.3 675.7L555.4 677.7L555.4 679.8L555.5 681.8L555.6 683.8L555.6 685.8L555.7 687.8L555.7 689.9L555.8 691.9L555.8 693.9L555.9 695.9L555.9 698.0L556.0 700.0L556.1 702.0L556.1 704.0L556.2 706.0L556.2 708.0L556.3 710.0L556.3 712.0L556.4 714.0L556.5 716.0L556.5 718.0L556.6 720.0L556.6 722.0L556.7 724.1L556.7 726.1L556.8 728.1L556.9 730.1L556.9 732.1L557.0 734.2L557.0 736.2L557.1 738.2L557.1 740.2L557.2 742.2L557.3 744.3L557.3 746.3L557.4 748.3L557.4 750.4L557.5 752.4L557.5 754.4L557.6 756.5L557.7 758.5L557.7 760.5L557.8 762.6L557.8 764.6L557.9 766.6L558.0 768.7L558.0 770.7L558.1 772.7L558.1 774.8L558.2 776.8L558.3 778.8L558.3 780.9L558.4 782.9L558.5 784.9L558.5 787.0L558.6 789.0L558.7 791.0L558.7 793.1L558.8 795.1L558.8 797.1L558.9 799.1L559.0 801.2L559.0 803.2L559.1 805.2L559.2 807.3L559.3 809.3L559.3 811.3L559.4 813.3L559.5 815.4L559.5 817.4L559.6 819.4L559.7 821.4L559.7 823.5L559.8 825.5L559.9 827.5L560.0 829.6L560.0 831.6L560.1 833.6L560.2 835.7L560.2 837.7L560.3 839.8L560.4 841.8L560.5 843.9L560.5 845.9L560.6 848.0L560.7 850.0L560.8 852.1L560.8 854.2L560.9 856.2L561.0 858.3L561.1 860.3L561.1 862.4L561.2 864.4L561.3 866.5L561.4 868.6L561.4 870.6L561.5 872.7L561.6 874.7L561.7 876.8L561.8 878.8L561.8 880.9L561.9 882.9L562.0 885.0L562.1 887.0L562.2 889.0L562.2 891.1L562.3 893.1L562.4 895.1L562.5 897.2L562.6 899.2L562.7 901.2L562.7 903.2L562.8 905.2L562.9 907.2L563.0 909.2L563.1 911.2L563.2 913.2L563.3 915.2L563.4 917.2L563.5 919.2L563.5 921.2L563.6 923.1L563.7 925.1L563.8 927.0L563.9 929.0L564.0 930.9L564.1 932.9L564.2 934.8L564.3 936.7L564.4 938.6L564.5 940.7L564.6 942.8L564.7 944.9L564.8 947.0L565.0 949.1L565.1 951.2L565.2 953.3L565.3 955.3L565.4 957.4L565.5 959.5L565.6 961.6L565.8 963.6L565.9 965.7L566.0 967.7L566.1 969.8L566.2 971.8L566.4 973.9L566.5 975.9L566.6 977.9L566.7 980.0L566.9 982.0L567.0 984.0L567.1 986.0L567.2 988.0L567.4 990.0L567.5 992.0L567.6 994.0L567.8 996.0L567.9 998.0L568.0 999.9L568.1 1001.9L568.3 1003.8L568.4 1005.8L568.5 1007.7L568.7 1009.7L568.8 1011.6L568.9 1013.5L569.1 1015.5L569.2 1017.4L569.3 1019.3L569.5 1021.2L569.6 1023.1L569.7 1025.0L569.9 1026.8L570.0 1028.7L570.1 1030.6L570.3 1032.4L570.4 1034.3L570.6 1036.4L570.7 1038.6L570.9 1040.7L571.0 1042.8L571.2 1044.9L571.4 1047.0L571.5 1049.1L571.7 1051.2L571.8 1053.3L572.0 1055.3L572.2 1057.4L572.3 1059.4L572.5 1061.4L572.6 1063.4L572.8 1065.4L573.0 1067.4L573.1 1069.4L573.3 1071.4L573.5 1073.4L573.6 1075.4L573.8 1077.4L574.0 1079.3L574.1 1081.3L574.3 1083.3L574.5 1085.2L574.7 1087.2L574.8 1089.2L575.0 1091.1L575.2 1093.1L575.4 1095.0L575.6 1097.0L575.7 1099.0L575.9 1101.0L576.1 1102.9L576.3 1104.9L576.5 1106.9L576.7 1109.0L576.9 1111.0L577.1 1113.1L577.3 1115.1L577.5 1117.2L577.7 1119.3L577.9 1121.3L578.1 1123.4L578.3 1125.5L578.5 1127.5L578.7 1129.6L578.9 1131.6L579.1 1133.7L579.3 1135.7L579.5 1137.8L579.7 1139.8L579.9 1141.9L580.1 1143.9L580.3 1145.9L580.6 1147.9L580.8 1149.9L581.0 1151.8L581.2 1153.8L581.5 1155.7L581.7 1157.6L582.0 1159.5L582.2 1161.4L582.4 1163.3L582.7 1165.1L583.0 1166.9L583.2 1168.7L583.5 1170.5L583.8 1172.7L584.2 1174.8L584.6 1177.0L584.9 1179.1L585.3 1181.2L585.7 1183.2L586.0 1185.3L586.4 1187.3L586.8 1189.3L587.2 1191.3L587.6 1193.2L588.0 1195.1L588.4 1197.1L588.8 1199.0L589.2 1200.9L589.7 1202.7L590.1 1204.6L590.5 1206.5L591.0 1208.3L591.4 1210.1L591.9 1212.0L592.4 1214.1L592.9 1216.2L593.4 1218.4L593.9 1220.6L594.5 1222.7L595.0 1224.9L595.5 1227.0L596.0 1229.0L596.6 1231.1L597.2 1233.1L597.8 1235.0L598.4 1236.8L599.1 1238.6L599.8 1240.3L600.6 1241.9L601.4 1243.4L602.7 1245.4L604.0 1247.3L605.4 1249.0L606.8 1250.6L608.4 1252.0L610.0 1253.2L611.6 1254.2L613.4 1255.1L615.2 1255.8L617.2 1256.4L619.2 1256.9L621.3 1257.2L623.5 1257.4L625.6 1257.5L627.8 1257.4L630.0 1257.3L632.0 1257.1L634.1 1256.8L636.2 1256.4L638.4 1255.9L640.5 1255.4L642.7 1254.7L644.8 1253.9L646.9 1253.1L649.0 1252.2L651.0 1251.2L653.0 1250.1L655.0 1248.8L657.0 1247.5L658.9 1246.2L660.9 1244.8L662.8 1243.3L664.7 1241.8L666.6 1240.4L668.4 1238.9L670.1 1237.6L671.8 1236.2L673.5 1234.9L675.1 1233.5L676.7 1232.1L678.3 1230.7L679.9 1229.2L681.4 1227.6L683.0 1226.0L684.5 1224.3L685.9 1222.6L687.3 1220.9L688.7 1219.2L690.0 1217.3L691.4 1215.4L692.7 1213.5L694.1 1211.6L695.5 1209.6L696.8 1207.6L698.2 1205.5L699.6 1203.5L700.9 1201.5L702.3 1199.5L703.5 1197.7L704.8 1195.9L706.0 1194.1L707.2 1192.3L708.3 1190.5L709.5 1188.6L710.6 1186.8L711.8 1184.9L712.9 1183.0L714.1 1181.1L715.2 1179.2L716.4 1177.2L717.6 1175.1L718.8 1173.0L720.0 1170.9L720.9 1169.2L721.8 1167.5L722.8 1165.7L723.8 1163.9L724.7 1162.1L725.7 1160.3L726.7 1158.4L727.7 1156.5L728.7 1154.6L729.7 1152.6L730.7 1150.7L731.7 1148.7L732.7 1146.7L733.7 1144.7L734.8 1142.7L735.8 1140.7L736.8 1138.7L737.8 1136.7L738.9 1134.7L739.9 1132.7L740.9 1130.8L741.9 1128.8L743.0 1126.8L744.0 1124.9L745.0 1123.0L746.0 1121.3L747.0 1119.6L748.0 1118.0L749.1 1116.3L750.1 1114.6L751.1 1112.9L752.1 1111.2L753.2 1109.5L754.2 1107.8L755.2 1106.1L756.2 1104.4L757.3 1102.7L758.3 1101.0L759.3 1099.3L760.4 1097.7L761.4 1096.0L762.4 1094.4L763.5 1092.7L764.5 1091.1L765.5 1089.5L766.5 1087.9L767.5 1086.3L768.6 1084.7L769.6 1083.1L770.6 1081.6L771.8 1079.8L773.0 1078.1L774.1 1076.4L775.3 1074.7L776.4 1073.0L777.5 1071.4L778.7 1069.7L779.8 1068.1L781.0 1066.5L782.1 1064.9L783.3 1063.3L784.4 1061.7L785.6 1060.0L786.8 1058.4L788.0 1056.8L789.2 1055.1L790.4 1053.4L791.7 1051.7L793.0 1050.0L794.1 1048.4L795.2 1046.8L796.3 1045.2L797.5 1043.5L798.6 1041.8L799.8 1040.1L800.9 1038.4L802.1 1036.7L803.3 1035.0L804.5 1033.3L805.7 1031.5L806.9 1029.8L808.1 1028.1L809.3 1026.3L810.6 1024.6L811.8 1022.9L813.0 1021.2L814.3 1019.5L815.5 1017.8L816.8 1016.1L818.1 1014.5L819.4 1012.8L820.6 1011.2L821.9 1009.6L823.2 1008.1L824.5 1006.5L825.9 1004.9L827.3 1003.3L828.7 1001.7L830.2 1000.1L831.6 998.5L833.1 996.9L834.6 995.4L836.1 993.8L837.6 992.3L839.1 990.7L840.6 989.2L842.1 987.7L843.6 986.2L845.1 984.8L846.6 983.3L848.1 981.9L849.5 980.6L851.0 979.2L852.4 977.9L853.9 976.6L855.3 975.4L856.6 974.2L858.0 973.0L859.8 971.8L861.5 970.6L863.3 969.4L865.0 968.3L866.6 967.3L868.3 966.3L870.0 965.3L871.6 964.4L873.3 963.5L874.9 962.7L876.6 962.0L878.3 961.3L880.0 960.6L882.0 959.9L883.9 959.3L885.9 958.7L887.8 958.2L889.8 957.8L891.7 957.4L893.7 957.1L895.8 957.0L897.9 956.9L900.0 957.0L902.0 957.1L904.0 957.2L906.0 957.4L908.1 957.7L910.2 958.1L912.4 958.6L914.5 959.1L916.7 959.7L918.9 960.3L921.0 961.1L923.2 961.9L925.4 962.7L927.5 963.6L929.2 964.4L930.9 965.3L932.7 966.2L934.4 967.1L936.2 968.1L938.0 969.1L939.7 970.2L941.5 971.3L943.3 972.4L945.0 973.6L946.8 974.8L948.5 976.1L950.2 977.4L951.9 978.7L953.6 980.0L955.2 981.4L956.9 982.8L958.4 984.2L960.0 985.6L961.4 987.0L962.9 988.5L964.2 990.0L965.6 991.6L966.9 993.2L968.2 994.8L969.5 996.5L970.7 998.2L972.0 999.9L973.2 1001.7L974.5 1003.4L975.7 1005.2L976.9 1007.0L978.1 1008.7L979.4 1010.4L980.6 1012.2L981.8 1013.8L983.1 1015.5L984.4 1017.1L985.7 1018.7L987.0 1020.2L988.4 1021.9L989.9 1023.5L991.4 1025.1L992.8 1026.7L994.3 1028.4L995.7 1030.0L997.2 1031.6L998.7 1033.1L1000.2 1034.7L1001.7 1036.1L1003.2 1037.6L1004.7 1039.0L1006.2 1040.3L1007.7 1041.6L1009.3 1042.9L1010.8 1044.1L1012.4 1045.3L1014.0 1046.3L1015.8 1047.5L1017.7 1048.6L1019.6 1049.7L1021.5 1050.7L1023.4 1051.6L1025.3 1052.5L1027.3 1053.3L1029.2 1054.1L1031.2 1054.9L1033.1 1055.6L1035.1 1056.2L1037.1 1056.9L1039.0 1057.5L1041.0 1058.0L1043.0 1058.6L1045.1 1059.1L1047.2 1059.5L1049.2 1059.9L1051.3 1060.2L1053.4 1060.5L1055.5 1060.8L1057.6 1061.0L1059.7 1061.2L1061.7 1061.4L1063.8 1061.5L1065.9 1061.6L1068.0 1061.7L1070.1 1061.8L1072.2 1061.8L1074.2 1061.7L1076.3 1061.7L1078.4 1061.6L1080.5 1061.4L1082.6 1061.3L1084.6 1061.1L1086.7 1060.9L1088.8 1060.7L1090.9 1060.5L1092.9 1060.2L1095.0 1060.0L1097.1 1059.7L1099.2 1059.4L1101.2 1059.1L1103.3 1058.7L1105.4 1058.3L1107.5 1057.9L1109.6 1057.5L1111.6 1057.1L1113.7 1056.7L1115.8 1056.3L1117.9 1055.9L1119.9 1055.5L1122.0 1055.0L1124.1 1054.7L1126.2 1054.3L1128.2 1053.9L1130.3 1053.5L1132.4 1053.2L1134.5 1052.8L1136.6 1052.4L1138.7 1052.0L1140.7 1051.6L1142.8 1051.2L1144.9 1050.7L1146.9 1050.2L1149.0 1049.7L1150.9 1049.2L1152.8 1048.7L1154.8 1048.2L1156.7 1047.6L1158.6 1047.0L1160.5 1046.4L1162.4 1045.8L1164.3 1045.2L1166.2 1044.6L1168.1 1044.0L1170.0 1043.3L1171.9 1042.7L1173.7 1042.0L1175.6 1041.4L1177.5 1040.7L1179.4 1040.0L1181.3 1039.2L1183.1 1038.4L1184.9 1037.6L1186.8 1036.8L1188.6 1036.1L1190.4 1035.3L1192.3 1034.5L1194.2 1033.8L1196.1 1033.2L1198.0 1032.6L1200.0 1032.0L1202.0 1031.3L1204.0 1030.7L1206.1 1030.2L1208.2 1029.7L1210.3 1029.2L1212.5 1028.7L1214.6 1028.3L1216.8 1027.8L1218.9 1027.4L1221.1 1027.0L1223.2 1026.6L1225.3 1026.2L1227.4 1025.7L1229.5 1025.2L1231.6 1024.7L1233.7 1024.2L1235.8 1023.6L1237.9 1023.1L1240.0 1022.5L1242.0 1022.0L1244.1 1021.4L1246.2 1020.9L1248.2 1020.4L1250.3 1019.9L1252.3 1019.4L1254.4 1019.0L1256.5 1018.6L1258.6 1018.3L1260.6 1018.0L1262.7 1017.7L1264.8 1017.4L1266.9 1017.2L1269.0 1017.0L1271.0 1016.8L1273.1 1016.6L1275.2 1016.4L1277.3 1016.3L1279.3 1016.2L1281.4 1016.1L1283.5 1016.0L1285.6 1015.9L1287.6 1015.9L1289.6 1015.9L1291.6 1015.9L1293.6 1015.9L1295.6 1015.9L1297.6 1016.0L1299.7 1016.0L1301.7 1016.1L1303.8 1016.2L1306.0 1016.2L1308.2 1016.3L1310.4 1016.4L1312.2 1016.4L1314.1 1016.5L1316.0 1016.6L1317.9 1016.6L1319.8 1016.7L1321.8 1016.8L1323.8 1016.9L1325.8 1017.0L1327.8 1017.1L1329.8 1017.2L1331.9 1017.3L1334.0 1017.4L1336.0 1017.5L1338.1 1017.5L1340.2 1017.6L1342.3 1017.7L1344.4 1017.8L1346.6 1017.8L1348.7 1017.9L1350.8 1018.0L1352.7 1018.2L1354.7 1018.3L1356.6 1018.5L1358.5 1018.6L1360.4 1018.8L1362.3 1018.9L1364.3 1019.0L1366.2 1019.2L1368.1 1019.3L1370.1 1019.4L1372.0 1019.6L1374.0 1019.7L1376.0 1019.8L1378.0 1019.9L1380.1 1020.1L1382.1 1020.2L1384.2 1020.3L1386.4 1020.4L1388.5 1020.5L1390.7 1020.6L1393.0 1020.8L1395.3 1020.9L1397.6 1021.0L1400.0 1021.1L1401.7 1021.2L1403.4 1021.3L1405.1 1021.3L1406.8 1021.4L1408.6 1021.5L1410.4 1021.6L1412.2 1021.6L1414.0 1021.7L1415.9 1021.8L1417.8 1021.9L1419.6 1021.9L1421.6 1022.0L1423.5 1022.1L1425.4 1022.2L1427.4 1022.2L1429.4 1022.3L1431.4 1022.4L1433.4 1022.4L1435.4 1022.5L1437.5 1022.6L1439.5 1022.7L1441.6 1022.7L1443.6 1022.8L1445.7 1022.9L1447.8 1022.9L1449.9 1023.0L1452.0 1023.1L1454.1 1023.1L1456.2 1023.2L1458.3 1023.2L1460.4 1023.3L1462.5 1023.4L1464.7 1023.4L1466.8 1023.5L1468.9 1023.5L1471.0 1023.6L1473.1 1023.7L1475.2 1023.7L1477.3 1023.8L1479.4 1023.8L1481.5 1023.9L1483.6 1023.9L1485.7 1024.0L1487.8 1024.0L1489.8 1024.1L1491.9 1024.1L1493.9 1024.2L1496.0 1024.2L1498.0 1024.3L1500.0 1024.3L1502.0 1024.4L1504.0 1024.4L1506.0 1024.4L1508.0 1024.5L1510.0 1024.5L1512.0 1024.6L1514.0 1024.6L1516.0 1024.6L1518.0 1024.7L1520.0 1024.7L1522.0 1024.7L1524.0 1024.8L1526.0 1024.8L1528.0 1024.8L1530.0 1024.9L1532.0 1024.9L1534.0 1024.9L1536.0 1024.9L1538.0 1025.0L1540.0 1025.0L1542.0 1025.0L1544.0 1025.0L1546.0 1025.1L1548.0 1025.1L1550.0 1025.1L1552.0 1025.1L1554.0 1025.1L1556.0 1025.2L1558.0 1025.2L1560.0 1025.2L1562.0 1025.2L1564.0 1025.2L1566.0 1025.3L1568.0 1025.3L1570.0 1025.3L1572.0 1025.3L1574.0 1025.3L1576.0 1025.3L1578.0 1025.4L1580.0 1025.4L1582.0 1025.4L1584.0 1025.4L1586.0 1025.4L1588.0 1025.4L1590.0 1025.4L1592.0 1025.5L1594.0 1025.5L1596.0 1025.5L1598.0 1025.5L1600.0 1025.5L1602.0 1025.5L1604.0 1025.5L1606.0 1025.6L1608.0 1025.6L1609.9 1025.6L1611.9 1025.6L1613.9 1025.6L1615.9 1025.6L1617.8 1025.6L1619.8 1025.6L1621.7 1025.6L1623.7 1025.6L1625.7 1025.6L1627.6 1025.6L1629.6 1025.7L1631.5 1025.7L1633.5 1025.7L1635.4 1025.7L1637.4 1025.7L1639.4 1025.7L1641.3 1025.7L1643.3 1025.7L1645.2 1025.7L1647.2 1025.7L1649.2 1025.7L1651.1 1025.7L1653.1 1025.7L1655.1 1025.7L1657.0 1025.7L1659.0 1025.7L1661.0 1025.7L1663.0 1025.7L1665.0 1025.7L1667.0 1025.7L1669.0 1025.7L1671.0 1025.7L1673.0 1025.7L1675.1 1025.7L1677.1 1025.7L1679.1 1025.7L1681.2 1025.7L1683.2 1025.7L1685.3 1025.7L1687.4 1025.7L1689.5 1025.7L1691.5 1025.7L1693.6 1025.7L1695.8 1025.7L1697.9 1025.7L1700.0 1025.7L1701.9 1025.7L1703.8 1025.7L1705.7 1025.7L1707.6 1025.7L1709.5 1025.7L1711.4 1025.8L1713.4 1025.8L1715.3 1025.8L1717.2 1025.8L1719.2 1025.8L1721.1 1025.8L1723.1 1025.8L1725.1 1025.8L1727.0 1025.8L1729.0 1025.8L1731.0 1025.8L1733.0 1025.8L1735.0 1025.8L1737.0 1025.8L1739.0 1025.8L1741.0 1025.8L1743.0 1025.8L1745.0 1025.8L1747.1 1025.8L1749.1 1025.8L1751.1 1025.8L1753.2 1025.8L1755.2 1025.8L1757.2 1025.8L1759.3 1025.9L1761.3 1025.9L1763.4 1025.9L1765.4 1025.9L1767.5 1025.9L1769.5 1025.9L1771.6 1025.9L1773.6 1025.9L1775.7 1025.9L1777.8 1025.9L1779.8 1025.9L1781.9 1025.9L1783.9 1025.9L1786.0 1025.9L1788.1 1025.9L1790.1 1025.9L1792.2 1025.9L1794.2 1025.9L1796.3 1025.9L1798.4 1025.9L1800.4 1025.9L1802.5 1025.9L1804.5 1025.9L1806.6 1025.9L1808.6 1026.0L1810.7 1026.0L1812.7 1026.0L1814.8 1026.0L1816.8 1026.0L1818.8 1026.0L1820.9 1026.0L1822.9 1026.0L1824.9 1026.0L1827.0 1026.0L1829.0 1026.0L1831.0 1026.0" stroke="#990000" stroke-dasharray="58.00 36.00 8.00 37.00"/>
<path d="M203.0 1284.0L205.0 1284.0L207.1 1284.0L209.1 1284.0L211.2 1284.0L213.3 1284.0L215.4 1284.0L217.5 1284.0L219.7 1284.0L221.8 1284.0L224.0 1284.0L226.2 1284.0L228.4 1284.0L230.7 1284.0L232.9 1284.0L235.1 1284.0L237.4 1284.0L239.7 1284.0L242.0 1284.0L244.3 1284.0L246.6 1284.0L248.9 1284.0L251.3 1284.0L253.6 1284.1L256.0 1284.1L258.4 1284.1L260.7 1284.1L263.1 1284.1L265.5 1284.1L267.9 1284.1L270.3 1284.1L272.8 1284.1L275.2 1284.1L277.6 1284.1L280.0 1284.1L282.5 1284.1L284.9 1284.1L287.4 1284.1L289.8 1284.1L292.3 1284.1L294.7 1284.1L297.2 1284.1L299.6 1284.1L302.1 1284.2L304.5 1284.2L307.0 1284.2L309.5 1284.2L311.9 1284.2L314.4 1284.2L316.8 1284.2L319.3 1284.2L321.7 1284.2L324.2 1284.2L326.6 1284.2L329.1 1284.2L331.5 1284.2L333.9 1284.2L336.4 1284.2L338.8 1284.2L341.2 1284.2L343.6 1284.2L346.0 1284.2L348.4 1284.3L350.8 1284.3L353.2 1284.3L355.5 1284.3L357.9 1284.3L360.2 1284.3L362.6 1284.3L364.9 1284.3L367.2 1284.3L369.5 1284.3L371.8 1284.3L374.1 1284.3L376.3 1284.3L378.6 1284.3L380.8 1284.3L383.0 1284.3L385.2 1284.3L387.4 1284.3L389.6 1284.3L391.8 1284.3L393.9 1284.3L396.0 1284.3L398.1 1284.3L400.2 1284.3L402.3 1284.3L404.4 1284.3L406.4 1284.3L408.4 1284.3L410.4 1284.3L412.4 1284.3L414.3 1284.3L416.2 1284.3L418.1 1284.3L420.0 1284.3L421.9 1284.3L423.7 1284.3L425.5 1284.3L427.3 1284.3L429.1 1284.3L430.8 1284.3L432.5 1284.3L434.2 1284.3L435.8 1284.3L437.5 1284.3L439.1 1284.3L440.6 1284.3L442.2 1284.3L443.7 1284.3L445.2 1284.3L446.6 1284.2L448.1 1284.2L449.5 1284.2L450.8 1284.2L452.1 1284.2L453.4 1284.2L454.7 1284.2L456.0 1284.2L457.2 1284.2L458.3 1284.2L459.5 1284.2L460.6 1284.2L461.7 1284.1L462.7 1284.1L463.7 1284.1L464.7 1284.1L465.7 1284.1L466.6 1284.1L467.4 1284.1L468.3 1284.0L469.0 1284.0L469.8 1284.0L470.5 1284.0L473.6 1284.0L475.8 1284.0L477.7 1283.9L479.2 1283.8L480.9 1283.5L483.1 1282.9L485.2 1282.1L487.0 1281.0L488.5 1279.7L489.8 1278.1L491.0 1276.0L491.6 1274.7L492.1 1273.2L492.7 1271.6L493.2 1269.8L493.7 1267.9L494.2 1265.8L494.7 1263.7L495.2 1261.5L495.6 1259.2L496.1 1256.9L496.5 1254.5L496.9 1252.2L497.2 1250.5L497.4 1248.9L497.7 1247.1L497.9 1245.3L498.2 1243.5L498.4 1241.7L498.6 1239.8L498.8 1237.9L499.0 1236.0L499.2 1234.0L499.4 1232.1L499.6 1230.1L499.8 1228.0L500.0 1226.0L500.1 1223.9L500.3 1221.8L500.5 1219.7L500.6 1217.6L500.8 1215.4L501.0 1213.3L501.1 1211.1L501.3 1209.0L501.4 1206.8L501.6 1204.6L501.7 1202.8L501.9 1201.0L502.0 1199.2L502.1 1197.3L502.2 1195.5L502.3 1193.6L502.4 1191.7L502.6 1189.7L502.7 1187.8L502.8 1185.9L502.9 1183.9L503.0 1181.9L503.1 1179.9L503.2 1178.0L503.3 1175.9L503.4 1173.9L503.5 1171.9L503.5 1169.9L503.6 1167.9L503.7 1165.8L503.8 1163.8L503.9 1161.7L504.0 1159.7L504.1 1157.6L504.2 1155.6L504.3 1153.6L504.4 1151.5L504.4 1149.5L504.5 1147.4L504.6 1145.4L504.7 1143.4L504.8 1141.3L504.9 1139.3L505.0 1137.3L505.1 1135.3L505.2 1133.3L505.3 1131.3L505.4 1129.3L505.5 1127.4L505.6 1125.4L505.7 1123.5L505.8 1121.5L505.9 1119.6L506.0 1117.7L506.1 1115.7L506.2 1113.8L506.3 1111.9L506.4 1110.0L506.5 1108.0L506.6 1106.1L506.7 1104.2L506.8 1102.3L506.9 1100.3L507.0 1098.4L507.1 1096.4L507.2 1094.5L507.3 1092.5L507.5 1090.5L507.6 1088.6L507.7 1086.6L507.8 1084.5L507.9 1082.5L507.9 1080.5L508.0 1078.4L508.1 1076.3L508.2 1074.2L508.3 1072.1L508.4 1070.0L508.5 1067.8L508.6 1065.6L508.7 1063.4L508.8 1061.2L508.9 1059.4L508.9 1057.7L509.0 1055.9L509.1 1054.1L509.1 1052.3L509.2 1050.5L509.3 1048.7L509.3 1046.8L509.4 1045.0L509.5 1043.1L509.5 1041.2L509.6 1039.4L509.7 1037.4L509.7 1035.5L509.8 1033.6L509.8 1031.7L509.9 1029.7L510.0 1027.8L510.0 1025.8L510.1 1023.8L510.1 1021.9L510.2 1019.9L510.3 1017.9L510.3 1015.9L510.4 1013.9L510.4 1011.8L510.5 1009.8L510.6 1007.8L510.6 1005.8L510.7 1003.7L510.7 1001.7L510.8 999.7L510.8 997.6L510.9 995.6L511.0 993.5L511.0 991.5L511.1 989.4L511.1 987.4L511.2 985.3L511.2 983.2L511.3 981.2L511.4 979.1L511.4 977.1L511.5 975.0L511.5 973.0L511.6 970.9L511.6 968.9L511.7 966.8L511.8 964.8L511.8 962.8L511.9 960.7L511.9 958.7L512.0 956.7L512.0 954.7L512.1 952.6L512.2 950.6L512.2 948.6L512.3 946.7L512.3 944.7L512.4 942.7L512.5 940.7L512.5 938.7L512.6 936.7L512.6 934.7L512.7 932.7L512.8 930.7L512.8 928.7L512.9 926.7L513.0 924.7L513.0 922.7L513.1 920.7L513.1 918.7L513.2 916.7L513.3 914.7L513.3 912.7L513.4 910.7L513.5 908.7L513.5 906.7L513.6 904.7L513.7 902.7L513.7 900.7L513.8 898.7L513.9 896.7L513.9 894.8L514.0 892.8L514.0 890.8L514.1 888.8L514.2 886.8L514.2 884.8L514.3 882.8L514.4 880.8L514.4 878.8L514.5 876.8L514.6 874.8L514.6 872.8L514.7 870.8L514.7 868.8L514.8 866.8L514.9 864.8L514.9 862.8L515.0 860.8L515.0 858.8L515.1 856.8L515.2 854.9L515.2 852.9L515.3 850.9L515.3 848.9L515.4 846.9L515.5 844.9L515.5 842.9L515.6 840.9L515.6 838.9L515.7 836.9L515.7 834.9L515.8 832.9L515.8 830.9L515.9 828.9L515.9 826.9L516.0 824.9L516.1 822.9L516.1 820.9L516.2 818.9L516.2 816.9L516.3 814.9L516.3 812.9L516.3 810.9L516.4 808.9L516.4 806.9L516.5 804.9L516.5 802.9L516.6 800.9L516.6 798.9L516.7 796.9L516.7 794.9L516.8 792.9L516.8 790.9L516.8 788.9L516.9 786.9L516.9 784.9L517.0 782.9L517.0 780.9L517.1 778.8L517.1 776.8L517.1 774.8L517.2 772.8L517.2 770.8L517.3 768.8L517.3 766.8L517.3 764.8L517.4 762.8L517.4 760.8L517.5 758.8L517.5 756.8L517.5 754.8L517.6 752.8L517.6 750.8L517.6 748.8L517.7 746.8L517.7 744.8L517.8 742.8L517.8 740.8L517.8 738.8L517.9 736.8L517.9 734.9L518.0 732.9L518.0 730.9L518.0 728.9L518.1 726.9L518.1 724.9L518.2 723.0L518.2 721.0L518.2 719.0L518.3 717.0L518.3 715.1L518.4 713.1L518.4 711.1L518.5 709.2L518.5 707.2L518.5 705.2L518.6 703.2L518.6 701.2L518.7 699.2L518.7 697.2L518.8 695.2L518.8 693.2L518.8 691.2L518.9 689.2L518.9 687.3L519.0 685.3L519.0 683.3L519.1 681.3L519.1 679.3L519.1 677.4L519.2 675.4L519.2 673.4L519.3 671.4L519.3 669.5L519.3 667.5L519.4 665.5L519.4 663.5L519.5 661.6L519.5 659.6L519.6 657.6L519.6 655.7L519.6 653.7L519.7 651.7L519.7 649.8L519.8 647.8L519.8 645.9L519.9 643.9L519.9 641.9L519.9 640.0L520.0 638.0L520.0 636.1L520.1 634.1L520.1 632.1L520.2 630.2L520.2 628.2L520.3 626.3L520.3 624.3L520.3 622.4L520.4 620.4L520.4 618.5L520.5 616.5L520.5 614.5L520.6 612.6L520.6 610.6L520.7 608.7L520.7 606.7L520.8 604.8L520.8 602.8L520.9 600.9L520.9 598.9L521.0 597.0L521.1 595.0L521.1 593.0L521.2 591.0L521.2 589.0L521.3 587.0L521.3 585.0L521.4 583.0L521.5 581.0L521.5 579.0L521.6 577.1L521.6 575.1L521.7 573.1L521.8 571.1L521.8 569.1L521.9 567.1L522.0 565.2L522.0 563.2L522.1 561.2L522.2 559.2L522.2 557.2L522.3 555.3L522.4 553.3L522.4 551.3L522.5 549.3L522.6 547.3L522.6 545.4L522.7 543.4L522.8 541.4L522.8 539.4L522.9 537.5L523.0 535.5L523.0 533.5L523.1 531.5L523.2 529.6L523.2 527.6L523.3 525.6L523.4 523.6L523.4 521.6L523.5 519.7L523.6 517.7L523.6 515.7L523.7 513.7L523.8 511.8L523.8 509.8L523.9 507.8L524.0 505.8L524.0 503.8L524.1 501.9L524.2 499.9L524.2 497.9L524.3 495.9L524.4 493.9L524.4 491.9L524.5 490.0L524.6 488.0L524.6 486.0L524.7 484.1L524.8 482.1L524.8 480.1L524.9 478.1L525.0 476.1L525.0 474.1L525.1 472.1L525.1 470.1L525.2 468.1L525.3 466.1L525.3 464.1L525.4 462.1L525.5 460.1L525.5 458.1L525.6 456.0L525.7 454.0L525.7 452.0L525.8 450.0L525.9 448.0L525.9 446.0L526.0 443.9L526.1 441.9L526.1 439.9L526.2 437.9L526.3 435.9L526.3 433.9L526.4 431.9L526.5 429.9L526.5 427.9L526.6 425.9L526.6 423.9L526.7 421.9L526.8 420.0L526.8 418.0L526.9 416.0L527.0 414.1L527.0 412.1L527.1 410.2L527.2 408.2L527.2 406.3L527.3 404.4L527.3 402.5L527.4 400.5L527.5 398.6L527.5 396.8L527.6 394.9L527.6 393.0L527.7 391.1L527.8 389.3L527.8 387.5L527.9 385.6L527.9 383.8L528.0 382.0L528.1 379.9L528.1 377.7L528.2 375.6L528.3 373.5L528.3 371.4L528.4 369.3L528.5 367.2L528.5 365.1L528.6 363.1L528.7 361.0L528.7 359.0L528.8 356.9L528.9 354.9L528.9 352.9L529.0 350.9L529.0 348.9L529.1 346.9L529.2 344.9L529.2 342.9L529.3 341.0L529.4 339.0L529.4 337.0L529.5 335.1L529.5 333.1L529.6 331.2L529.7 329.3L529.7 327.3L529.8 325.4L529.9 323.5L529.9 321.6L530.0 319.6L530.0 317.7L530.1 315.8L530.2 313.9L530.2 312.0L530.3 310.1L530.4 308.2L530.4 306.3L530.5 304.4L530.6 302.4L530.6 300.3L530.7 298.2L530.8 296.1L530.9 294.0L530.9 291.9L531.0 289.8L531.1 287.7L531.2 285.6L531.2 283.5L531.3 281.5L531.4 279.4L531.5 277.3L531.5 275.3L531.6 273.2L531.7 271.2L531.8 269.2L531.8 267.2L531.9 265.2L532.0 263.2L532.1 261.2L532.2 259.2L532.2 257.3L532.3 255.4L532.4 253.5L532.5 251.6L532.6 249.7L532.6 247.8L532.7 246.0L532.8 244.2L532.9 242.4L533.0 240.6L533.1 238.5L533.2 236.3L533.3 234.1L533.4 231.9L533.5 229.8L533.6 227.6L533.7 225.5L533.8 223.5L534.0 221.4L534.1 219.4L534.2 217.4L534.3 215.4L534.4 213.5L534.6 211.6L534.7 209.8L534.8 208.0L535.0 206.3L535.1 204.6L535.3 203.0L535.5 201.4L535.8 198.8L536.2 196.0L536.5 193.2L536.9 190.5L537.3 188.2L537.7 186.4L538.1 185.2L538.5 184.7L538.9 185.2L539.3 186.4L539.7 188.2L540.1 190.5L540.5 193.2L540.8 196.0L541.2 198.8L541.5 201.4L541.7 203.0L541.9 204.6L542.0 206.3L542.2 208.0L542.3 209.8L542.4 211.6L542.6 213.5L542.7 215.4L542.8 217.4L542.9 219.4L543.0 221.4L543.1 223.5L543.2 225.5L543.3 227.7L543.4 229.8L543.5 231.9L543.7 234.1L543.8 236.3L543.9 238.5L544.0 240.6L544.1 242.4L544.2 244.2L544.3 246.0L544.4 247.8L544.5 249.7L544.6 251.6L544.7 253.4L544.8 255.4L544.9 257.3L545.0 259.2L545.1 261.2L545.2 263.1L545.2 265.1L545.3 267.1L545.4 269.1L545.5 271.2L545.6 273.2L545.7 275.2L545.8 277.3L545.9 279.4L546.0 281.4L546.1 283.5L546.2 285.6L546.3 287.7L546.4 289.7L546.5 291.8L546.5 293.9L546.6 296.0L546.7 298.1L546.8 300.2L546.9 302.3L547.0 304.4L547.1 306.3L547.2 308.2L547.2 310.1L547.3 312.0L547.4 313.9L547.5 315.8L547.6 317.7L547.6 319.6L547.7 321.5L547.8 323.4L547.9 325.3L548.0 327.2L548.1 329.2L548.1 331.1L548.2 333.0L548.3 335.0L548.4 336.9L548.5 338.9L548.5 340.9L548.6 342.8L548.7 344.8L548.8 346.8L548.8 348.8L548.9 350.8L549.0 352.8L549.1 354.8L549.1 356.8L549.2 358.8L549.3 360.9L549.4 362.9L549.4 365.0L549.5 367.1L549.6 369.1L549.7 371.2L549.7 373.3L549.8 375.5L549.9 377.6L549.9 379.7L550.0 381.9L550.1 383.7L550.1 385.5L550.2 387.3L550.2 389.2L550.3 391.0L550.3 392.9L550.4 394.7L550.4 396.6L550.5 398.5L550.5 400.4L550.6 402.3L550.6 404.2L550.6 406.2L550.7 408.1L550.7 410.0L550.8 412.0L550.8 414.0L550.9 415.9L550.9 417.9L550.9 419.9L551.0 421.8L551.0 423.8L551.1 425.8L551.1 427.8L551.2 429.8L551.2 431.8L551.2 433.8L551.3 435.8L551.3 437.8L551.4 439.8L551.4 441.9L551.4 443.9L551.5 445.9L551.5 447.9L551.6 449.9L551.6 452.0L551.6 454.0L551.7 456.0L551.7 458.0L551.8 460.0L551.8 462.0L551.9 464.1L551.9 466.1L552.0 468.1L552.0 470.1L552.0 472.1L552.1 474.1L552.1 476.1L552.2 478.1L552.2 480.1L552.3 482.1L552.3 484.1L552.4 486.0L552.4 488.0L552.5 490.0L552.6 491.9L552.6 493.9L552.7 495.9L552.7 497.9L552.8 499.9L552.8 501.9L552.9 503.9L553.0 505.8L553.0 507.8L553.1 509.8L553.2 511.8L553.2 513.8L553.3 515.7L553.3 517.7L553.4 519.7L553.5 521.7L553.5 523.6L553.6 525.6L553.7 527.6L553.7 529.6L553.8 531.5L553.9 533.5L553.9 535.5L554.0 537.5L554.1 539.5L554.2 541.4L554.2 543.4L554.3 545.4L554.4 547.4L554.4 549.3L554.5 551.3L554.6 553.3L554.6 555.3L554.7 557.2L554.8 559.2L554.8 561.2L554.9 563.2L555.0 565.2L555.0 567.1L555.1 569.1L555.2 571.1L555.2 573.1L555.3 575.1L555.4 577.1L555.4 579.1L555.5 581.0L555.6 583.0L555.6 585.0L555.7 587.0L555.8 589.0L555.8 591.0L555.9 593.0L555.9 595.0L556.0 597.0L556.1 598.9L556.1 600.9L556.2 602.8L556.2 604.8L556.3 606.7L556.3 608.7L556.4 610.6L556.5 612.6L556.5 614.5L556.6 616.5L556.6 618.4L556.7 620.4L556.7 622.4L556.8 624.3L556.8 626.3L556.9 628.2L556.9 630.2L557.0 632.1L557.0 634.1L557.1 636.0L557.1 638.0L557.2 640.0L557.2 641.9L557.3 643.9L557.4 645.8L557.4 647.8L557.5 649.8L557.5 651.7L557.6 653.7L557.6 655.6L557.7 657.6L557.7 659.6L557.8 661.5L557.8 663.5L557.9 665.5L557.9 667.4L558.0 669.4L558.0 671.4L558.1 673.4L558.1 675.3L558.2 677.3L558.2 679.3L558.3 681.3L558.3 683.2L558.4 685.2L558.4 687.2L558.5 689.2L558.6 691.2L558.6 693.2L558.7 695.2L558.7 697.1L558.8 699.1L558.8 701.1L558.9 703.1L558.9 705.1L559.0 707.1L559.1 709.1L559.1 711.0L559.2 713.0L559.2 715.0L559.3 716.9L559.3 718.9L559.4 720.9L559.5 722.9L559.5 724.8L559.6 726.8L559.6 728.8L559.7 730.8L559.7 732.8L559.8 734.8L559.9 736.7L559.9 738.7L560.0 740.7L560.0 742.7L560.1 744.7L560.1 746.7L560.2 748.7L560.3 750.7L560.3 752.7L560.4 754.7L560.4 756.7L560.5 758.7L560.5 760.7L560.6 762.7L560.7 764.7L560.7 766.7L560.8 768.7L560.8 770.7L560.9 772.7L561.0 774.7L561.0 776.7L561.1 778.7L561.1 780.7L561.2 782.7L561.3 784.7L561.3 786.7L561.4 788.7L561.5 790.7L561.5 792.7L561.6 794.7L561.7 796.7L561.7 798.7L561.8 800.7L561.8 802.7L561.9 804.7L562.0 806.7L562.0 808.7L562.1 810.7L562.2 812.7L562.3 814.7L562.3 816.7L562.4 818.7L562.5 820.7L562.5 822.7L562.6 824.7L562.7 826.7L562.7 828.7L562.8 830.7L562.9 832.7L563.0 834.7L563.0 836.7L563.1 838.7L563.2 840.7L563.2 842.7L563.3 844.7L563.4 846.8L563.5 848.8L563.5 850.8L563.6 852.8L563.7 854.8L563.8 856.9L563.8 858.9L563.9 860.9L564.0 863.0L564.1 865.0L564.1 867.0L564.2 869.0L564.3 871.1L564.4 873.1L564.4 875.1L564.5 877.1L564.6 879.2L564.7 881.2L564.8 883.2L564.8 885.2L564.9 887.3L565.0 889.3L565.1 891.3L565.2 893.3L565.2 895.3L565.3 897.3L565.4 899.3L565.5 901.3L565.6 903.3L565.7 905.3L565.7 907.3L565.8 909.3L565.9 911.2L566.0 913.2L566.1 915.2L566.2 917.1L566.3 919.1L566.4 921.1L566.5 923.0L566.5 925.0L566.6 926.9L566.7 928.8L566.8 930.8L566.9 932.7L567.0 934.6L567.1 936.5L567.2 938.4L567.3 940.3L567.4 942.2L567.5 944.2L567.6 946.3L567.7 948.4L567.8 950.4L568.0 952.5L568.1 954.6L568.2 956.6L568.3 958.7L568.4 960.7L568.5 962.8L568.6 964.8L568.8 966.8L568.9 968.9L569.0 970.9L569.1 972.9L569.2 974.9L569.4 976.9L569.5 978.9L569.6 980.9L569.7 982.9L569.9 984.9L570.0 986.9L570.1 988.9L570.2 990.9L570.4 992.9L570.5 994.8L570.6 996.8L570.8 998.8L570.9 1000.7L571.0 1002.6L571.1 1004.6L571.3 1006.5L571.4 1008.4L571.5 1010.4L571.7 1012.3L571.8 1014.2L571.9 1016.1L572.1 1018.0L572.2 1019.9L572.3 1021.8L572.5 1023.6L572.6 1025.5L572.7 1027.4L572.9 1029.2L573.0 1031.1L573.1 1032.9L573.3 1034.7L573.4 1036.6L573.6 1038.7L573.7 1040.8L573.9 1042.9L574.0 1045.0L574.2 1047.1L574.4 1049.2L574.5 1051.2L574.7 1053.3L574.8 1055.3L575.0 1057.4L575.2 1059.4L575.3 1061.4L575.5 1063.4L575.6 1065.4L575.8 1067.4L576.0 1069.4L576.1 1071.3L576.3 1073.3L576.5 1075.3L576.6 1077.2L576.8 1079.2L577.0 1081.1L577.1 1083.1L577.3 1085.0L577.5 1087.0L577.7 1088.9L577.8 1090.9L578.0 1092.8L578.2 1094.7L578.4 1096.7L578.6 1098.6L578.7 1100.6L578.9 1102.5L579.1 1104.5L579.3 1106.4L579.5 1108.5L579.7 1110.5L579.9 1112.5L580.1 1114.5L580.3 1116.6L580.5 1118.6L580.7 1120.7L580.9 1122.7L581.1 1124.8L581.3 1126.8L581.5 1128.9L581.7 1130.9L581.9 1133.0L582.1 1135.0L582.3 1137.0L582.5 1139.1L582.7 1141.1L582.9 1143.1L583.1 1145.1L583.3 1147.1L583.6 1149.1L583.8 1151.0L584.0 1153.0L584.2 1154.9L584.5 1156.8L584.7 1158.7L585.0 1160.6L585.2 1162.5L585.4 1164.4L585.7 1166.2L586.0 1168.0L586.2 1169.8L586.5 1171.5L586.8 1173.7L587.2 1175.9L587.6 1178.0L587.9 1180.1L588.3 1182.2L588.7 1184.2L589.0 1186.2L589.4 1188.2L589.8 1190.2L590.2 1192.2L590.6 1194.1L591.0 1196.1L591.4 1198.0L591.8 1199.9L592.2 1201.8L592.7 1203.6L593.1 1205.5L593.5 1207.4L594.0 1209.2L594.4 1211.0L594.9 1212.9L595.4 1215.0L595.9 1217.1L596.4 1219.3L596.9 1221.5L597.5 1223.6L598.0 1225.7L598.5 1227.9L599.0 1229.9L599.6 1232.0L600.2 1234.0L600.8 1235.9L601.4 1237.7L602.1 1239.5L602.8 1241.2L603.6 1242.8L604.4 1244.3L605.7 1246.4L607.0 1248.3L608.4 1250.0L609.8 1251.6L611.4 1253.1L613.0 1254.3L614.6 1255.5L616.4 1256.5L618.2 1257.3L620.2 1258.1L622.2 1258.6L624.3 1259.1L626.5 1259.4L628.6 1259.6L630.8 1259.8L633.0 1259.8L635.0 1259.7L637.1 1259.6L639.2 1259.3L641.4 1259.0L643.5 1258.6L645.7 1258.1L647.8 1257.5L649.9 1256.8L652.0 1256.1L654.0 1255.3L656.0 1254.3L658.0 1253.3L660.0 1252.1L661.9 1250.9L663.9 1249.7L665.8 1248.4L667.7 1247.1L669.6 1245.8L671.4 1244.5L673.1 1243.2L674.8 1242.0L676.4 1240.8L678.1 1239.6L679.7 1238.3L681.2 1237.0L682.8 1235.6L684.3 1234.2L685.8 1232.7L687.3 1231.1L688.7 1229.6L690.0 1228.0L691.3 1226.4L692.5 1224.6L693.8 1222.9L695.0 1221.0L696.2 1219.2L697.4 1217.3L698.6 1215.4L699.8 1213.5L701.0 1211.6L702.2 1209.6L703.4 1207.7L704.5 1206.0L705.5 1204.3L706.6 1202.5L707.7 1200.8L708.8 1199.0L709.9 1197.3L710.9 1195.5L712.0 1193.7L713.1 1191.9L714.2 1190.1L715.4 1188.2L716.5 1186.3L717.7 1184.3L718.8 1182.3L720.0 1180.2L720.9 1178.6L721.9 1176.9L722.8 1175.2L723.8 1173.5L724.8 1171.8L725.7 1170.0L726.7 1168.2L727.7 1166.3L728.7 1164.5L729.7 1162.6L730.7 1160.7L731.7 1158.8L732.7 1156.9L733.7 1155.0L734.8 1153.0L735.8 1151.1L736.8 1149.2L737.8 1147.2L738.9 1145.3L739.9 1143.4L740.9 1141.5L741.9 1139.6L743.0 1137.7L744.0 1135.8L745.0 1134.0L746.0 1132.3L747.0 1130.5L748.0 1128.8L749.1 1127.0L750.1 1125.2L751.1 1123.5L752.1 1121.7L753.2 1120.0L754.2 1118.2L755.2 1116.4L756.2 1114.7L757.3 1112.9L758.3 1111.2L759.3 1109.4L760.4 1107.7L761.4 1106.0L762.4 1104.3L763.5 1102.6L764.5 1100.9L765.5 1099.2L766.5 1097.5L767.5 1095.9L768.6 1094.2L769.6 1092.6L770.6 1091.0L771.8 1089.1L773.0 1087.3L774.1 1085.5L775.3 1083.8L776.4 1082.0L777.5 1080.3L778.7 1078.6L779.8 1076.9L781.0 1075.2L782.1 1073.6L783.3 1071.9L784.4 1070.2L785.6 1068.5L786.8 1066.8L788.0 1065.1L789.2 1063.3L790.4 1061.6L791.7 1059.8L793.0 1058.0L794.1 1056.4L795.2 1054.8L796.3 1053.1L797.5 1051.4L798.6 1049.7L799.8 1048.0L800.9 1046.3L802.1 1044.6L803.3 1042.8L804.5 1041.1L805.7 1039.3L806.9 1037.6L808.1 1035.8L809.3 1034.1L810.6 1032.3L811.8 1030.6L813.0 1028.9L814.3 1027.2L815.5 1025.4L816.8 1023.8L818.1 1022.1L819.4 1020.4L820.6 1018.8L821.9 1017.2L823.2 1015.6L824.5 1014.1L825.9 1012.4L827.3 1010.8L828.7 1009.2L830.2 1007.5L831.6 1005.9L833.1 1004.3L834.6 1002.7L836.1 1001.1L837.6 999.6L839.1 998.0L840.6 996.5L842.1 994.9L843.6 993.4L845.1 992.0L846.6 990.5L848.1 989.1L849.5 987.7L851.0 986.3L852.4 985.0L853.9 983.7L855.3 982.4L856.6 981.2L858.0 980.0L859.8 978.7L861.5 977.4L863.3 976.2L865.0 975.0L866.6 973.9L868.3 972.8L870.0 971.7L871.6 970.7L873.3 969.8L874.9 968.9L876.6 968.1L878.3 967.3L880.0 966.6L882.0 965.8L883.9 965.1L885.9 964.4L887.8 963.8L889.8 963.2L891.7 962.8L893.7 962.4L895.8 962.2L897.9 962.0L900.0 962.0L902.0 962.0L904.0 962.2L906.0 962.4L908.1 962.6L910.2 963.0L912.4 963.4L914.5 963.9L916.7 964.5L918.9 965.2L921.0 965.9L923.2 966.6L925.4 967.5L927.5 968.4L929.2 969.1L930.9 970.0L932.7 970.8L934.4 971.7L936.2 972.7L938.0 973.7L939.7 974.8L941.5 975.9L943.3 977.0L945.0 978.2L946.8 979.4L948.5 980.6L950.2 981.9L951.9 983.2L953.6 984.5L955.2 985.8L956.9 987.2L958.4 988.6L960.0 990.0L961.4 991.4L962.9 992.8L964.2 994.3L965.6 995.9L966.9 997.5L968.2 999.1L969.5 1000.8L970.7 1002.5L972.0 1004.2L973.2 1006.0L974.5 1007.7L975.7 1009.4L976.9 1011.2L978.1 1012.9L979.4 1014.6L980.6 1016.3L981.8 1018.0L983.1 1019.7L984.4 1021.3L985.7 1022.8L987.0 1024.3L988.4 1026.0L989.9 1027.6L991.4 1029.2L992.8 1030.8L994.3 1032.4L995.7 1034.0L997.2 1035.6L998.7 1037.2L1000.2 1038.7L1001.7 1040.1L1003.2 1041.5L1004.7 1042.9L1006.2 1044.2L1007.7 1045.4L1009.3 1046.7L1010.8 1047.8L1012.4 1049.0L1014.0 1050.0L1015.8 1051.1L1017.7 1052.2L1019.6 1053.2L1021.5 1054.1L1023.4 1055.0L1025.3 1055.9L1027.3 1056.7L1029.2 1057.4L1031.2 1058.1L1033.1 1058.8L1035.1 1059.4L1037.1 1059.9L1039.0 1060.5L1041.0 1061.0L1043.0 1061.5L1045.1 1061.9L1047.2 1062.3L1049.2 1062.7L1051.3 1062.9L1053.4 1063.2L1055.5 1063.4L1057.6 1063.6L1059.7 1063.7L1061.7 1063.8L1063.8 1063.9L1065.9 1064.0L1068.0 1064.0L1070.1 1064.0L1072.2 1064.0L1074.2 1063.9L1076.3 1063.8L1078.4 1063.6L1080.5 1063.4L1082.6 1063.2L1084.6 1063.0L1086.7 1062.7L1088.8 1062.5L1090.9 1062.2L1092.9 1061.9L1095.0 1061.6L1097.1 1061.3L1099.2 1060.9L1101.2 1060.5L1103.3 1060.1L1105.4 1059.7L1107.5 1059.3L1109.6 1058.8L1111.6 1058.3L1113.7 1057.9L1115.8 1057.4L1117.9 1056.9L1119.9 1056.5L1122.0 1056.0L1124.1 1055.6L1126.2 1055.1L1128.2 1054.7L1130.3 1054.3L1132.4 1053.9L1134.5 1053.4L1136.6 1053.0L1138.7 1052.5L1140.7 1052.1L1142.8 1051.6L1144.9 1051.1L1146.9 1050.6L1149.0 1050.0L1150.9 1049.5L1152.8 1048.9L1154.8 1048.3L1156.7 1047.7L1158.6 1047.1L1160.5 1046.4L1162.4 1045.8L1164.3 1045.1L1166.2 1044.4L1168.1 1043.8L1170.0 1043.1L1171.9 1042.4L1173.7 1041.7L1175.6 1041.0L1177.5 1040.3L1179.4 1039.5L1181.3 1038.7L1183.1 1037.8L1184.9 1037.0L1186.8 1036.2L1188.6 1035.3L1190.4 1034.5L1192.3 1033.7L1194.2 1033.0L1196.1 1032.3L1198.0 1031.6L1200.0 1031.0L1202.0 1030.4L1204.0 1029.9L1206.1 1029.4L1208.2 1028.9L1210.3 1028.5L1212.5 1028.1L1214.6 1027.8L1216.8 1027.4L1218.9 1027.1L1221.1 1026.7L1223.2 1026.4L1225.3 1026.0L1227.4 1025.6L1229.5 1025.2L1231.6 1024.8L1233.7 1024.3L1235.8 1023.8L1237.9 1023.3L1240.0 1022.8L1242.0 1022.4L1244.1 1021.9L1246.2 1021.4L1248.2 1021.0L1250.3 1020.5L1252.3 1020.2L1254.4 1019.8L1256.5 1019.5L1258.6 1019.2L1260.6 1019.0L1262.7 1018.8L1264.8 1018.6L1266.9 1018.4L1269.0 1018.3L1271.0 1018.1L1273.1 1018.0L1275.2 1018.0L1277.3 1017.9L1279.3 1017.8L1281.4 1017.8L1283.5 1017.8L1285.6 1017.8L1287.6 1017.8L1289.6 1017.8L1291.6 1017.9L1293.6 1018.0L1295.6 1018.1L1297.6 1018.2L1299.7 1018.4L1301.7 1018.5L1303.8 1018.6L1306.0 1018.8L1308.2 1018.9L1310.4 1019.1L1312.2 1019.2L1314.1 1019.3L1316.0 1019.4L1317.9 1019.6L1319.8 1019.7L1321.8 1019.9L1323.8 1020.0L1325.8 1020.2L1327.8 1020.3L1329.8 1020.5L1331.9 1020.7L1334.0 1020.8L1336.0 1021.0L1338.1 1021.2L1340.2 1021.3L1342.3 1021.5L1344.4 1021.6L1346.6 1021.7L1348.7 1021.9L1350.8 1022.0L1352.7 1022.2L1354.7 1022.4L1356.6 1022.5L1358.5 1022.7L1360.4 1022.9L1362.3 1023.0L1364.3 1023.2L1366.2 1023.3L1368.1 1023.5L1370.1 1023.6L1372.0 1023.8L1374.0 1023.9L1376.0 1024.1L1378.0 1024.2L1380.1 1024.4L1382.1 1024.5L1384.2 1024.7L1386.4 1024.8L1388.5 1024.9L1390.7 1025.1L1393.0 1025.2L1395.3 1025.3L1397.6 1025.5L1400.0 1025.6L1401.7 1025.7L1403.4 1025.8L1405.1 1025.9L1406.8 1026.0L1408.6 1026.1L1410.4 1026.2L1412.2 1026.3L1414.0 1026.4L1415.9 1026.5L1417.8 1026.6L1419.6 1026.7L1421.6 1026.8L1423.5 1026.9L1425.4 1026.9L1427.4 1027.0L1429.4 1027.1L1431.4 1027.2L1433.4 1027.3L1435.4 1027.4L1437.5 1027.5L1439.5 1027.6L1441.6 1027.7L1443.6 1027.8L1445.7 1027.9L1447.8 1027.9L1449.9 1028.0L1452.0 1028.1L1454.1 1028.2L1456.2 1028.3L1458.3 1028.4L1460.4 1028.5L1462.5 1028.5L1464.7 1028.6L1466.8 1028.7L1468.9 1028.8L1471.0 1028.9L1473.1 1028.9L1475.2 1029.0L1477.3 1029.1L1479.4 1029.2L1481.5 1029.2L1483.6 1029.3L1485.7 1029.4L1487.8 1029.5L1489.8 1029.5L1491.9 1029.6L1493.9 1029.7L1496.0 1029.7L1498.0 1029.8L1500.0 1029.9L1502.0 1029.9L1504.0 1030.0L1506.0 1030.1L1508.0 1030.1L1510.0 1030.2L1512.0 1030.2L1514.0 1030.3L1516.0 1030.4L1518.0 1030.4L1520.0 1030.5L1522.0 1030.5L1524.0 1030.6L1526.0 1030.6L1528.0 1030.7L1530.0 1030.7L1532.0 1030.8L1534.0 1030.8L1536.0 1030.9L1538.0 1030.9L1540.0 1031.0L1542.0 1031.0L1544.0 1031.1L1546.0 1031.1L1548.0 1031.1L1550.0 1031.2L1552.0 1031.2L1554.0 1031.3L1556.0 1031.3L1558.0 1031.3L1560.0 1031.4L1562.0 1031.4L1564.0 1031.5L1566.0 1031.5L1568.0 1031.5L1570.0 1031.6L1572.0 1031.6L1574.0 1031.7L1576.0 1031.7L1578.0 1031.7L1580.0 1031.8L1582.0 1031.8L1584.0 1031.8L1586.0 1031.9L1588.0 1031.9L1590.0 1031.9L1592.0 1032.0L1594.0 1032.0L1596.0 1032.0L1598.0 1032.1L1600.0 1032.1L1602.0 1032.2L1604.0 1032.2L1606.0 1032.2L1608.0 1032.3L1609.9 1032.3L1611.9 1032.3L1613.9 1032.3L1615.9 1032.4L1617.8 1032.4L1619.8 1032.4L1621.7 1032.5L1623.7 1032.5L1625.7 1032.5L1627.6 1032.5L1629.6 1032.6L1631.5 1032.6L1633.5 1032.6L1635.4 1032.6L1637.4 1032.7L1639.4 1032.7L1641.3 1032.7L1643.3 1032.7L1645.2 1032.7L1647.2 1032.8L1649.2 1032.8L1651.1 1032.8L1653.1 1032.8L1655.1 1032.9L1657.0 1032.9L1659.0 1032.9L1661.0 1032.9L1663.0 1032.9L1665.0 1033.0L1667.0 1033.0L1669.0 1033.0L1671.0 1033.0L1673.0 1033.1L1675.1 1033.1L1677.1 1033.1L1679.1 1033.1L1681.2 1033.1L1683.2 1033.2L1685.3 1033.2L1687.4 1033.2L1689.5 1033.2L1691.5 1033.3L1693.6 1033.3L1695.8 1033.3L1697.9 1033.3L1700.0 1033.4L1701.9 1033.4L1703.8 1033.4L1705.7 1033.4L1707.6 1033.5L1709.5 1033.5L1711.4 1033.5L1713.4 1033.5L1715.3 1033.6L1717.2 1033.6L1719.2 1033.6L1721.1 1033.6L1723.1 1033.7L1725.1 1033.7L1727.0 1033.7L1729.0 1033.7L1731.0 1033.8L1733.0 1033.8L1735.0 1033.8L1737.0 1033.8L1739.0 1033.9L1741.0 1033.9L1743.0 1033.9L1745.0 1033.9L1747.1 1034.0L1749.1 1034.0L1751.1 1034.0L1753.2 1034.0L1755.2 1034.1L1757.2 1034.1L1759.3 1034.1L1761.3 1034.1L1763.4 1034.2L1765.4 1034.2L1767.5 1034.2L1769.5 1034.2L1771.6 1034.3L1773.6 1034.3L1775.7 1034.3L1777.8 1034.3L1779.8 1034.4L1781.9 1034.4L1783.9 1034.4L1786.0 1034.4L1788.1 1034.5L1790.1 1034.5L1792.2 1034.5L1794.2 1034.5L1796.3 1034.6L1798.4 1034.6L1800.4 1034.6L1802.5 1034.6L1804.5 1034.7L1806.6 1034.7L1808.6 1034.7L1810.7 1034.7L1812.7 1034.8L1814.8 1034.8L1816.8 1034.8L1818.8 1034.8L1820.9 1034.9L1822.9 1034.9L1824.9 1034.9L1827.0 1034.9L1829.0 1035.0L1831.0 1035.0" stroke="#008000" stroke-dasharray="43.00 36.00 8.00 37.00 8.00 37.00"/>
<path d="M203.0 1284.0L205.0 1284.0L207.1 1284.0L209.1 1284.0L211.2 1284.0L213.3 1284.0L215.4 1284.0L217.5 1284.0L219.7 1284.0L221.8 1284.0L224.0 1284.0L226.2 1284.0L228.4 1284.0L230.7 1284.0L232.9 1284.0L235.1 1284.0L237.4 1284.0L239.7 1284.0L242.0 1284.0L244.3 1284.0L246.6 1284.0L248.9 1284.0L251.3 1284.0L253.6 1284.1L256.0 1284.1L258.4 1284.1L260.7 1284.1L263.1 1284.1L265.5 1284.1L267.9 1284.1L270.3 1284.1L272.8 1284.1L275.2 1284.1L277.6 1284.1L280.0 1284.1L282.5 1284.1L284.9 1284.1L287.4 1284.1L289.8 1284.1L292.3 1284.1L294.7 1284.1L297.2 1284.1L299.6 1284.1L302.1 1284.2L304.5 1284.2L307.0 1284.2L309.5 1284.2L311.9 1284.2L314.4 1284.2L316.8 1284.2L319.3 1284.2L321.7 1284.2L324.2 1284.2L326.6 1284.2L329.1 1284.2L331.5 1284.2L333.9 1284.2L336.4 1284.2L338.8 1284.2L341.2 1284.2L343.6 1284.2L346.0 1284.2L348.4 1284.3L350.8 1284.3L353.2 1284.3L355.5 1284.3L357.9 1284.3L360.2 1284.3L362.6 1284.3L364.9 1284.3L367.2 1284.3L369.5 1284.3L371.8 1284.3L374.1 1284.3L376.3 1284.3L378.6 1284.3L380.8 1284.3L383.0 1284.3L385.2 1284.3L387.4 1284.3L389.6 1284.3L391.8 1284.3L393.9 1284.3L396.0 1284.3L398.1 1284.3L400.2 1284.3L402.3 1284.3L404.4 1284.3L406.4 1284.3L408.4 1284.3L410.4 1284.3L412.4 1284.3L414.3 1284.3L416.2 1284.3L418.1 1284.3L420.0 1284.3L421.9 1284.3L423.7 1284.3L425.5 1284.3L427.3 1284.3L429.1 1284.3L430.8 1284.3L432.5 1284.3L434.2 1284.3L435.8 1284.3L437.5 1284.3L439.1 1284.3L440.6 1284.3L442.2 1284.3L443.7 1284.3L445.2 1284.3L446.6 1284.2L448.1 1284.2L449.5 1284.2L450.9 1284.2L452.2 1284.2L453.5 1284.2L454.8 1284.2L456.1 1284.2L457.3 1284.2L458.5 1284.2L459.7 1284.2L460.9 1284.2L462.0 1284.1L463.1 1284.1L464.2 1284.1L465.2 1284.1L466.2 1284.1L467.2 1284.1L468.1 1284.1L469.1 1284.0L469.9 1284.0L470.7 1284.0L471.5 1284.0L474.8 1284.0L477.3 1284.0L479.2 1283.9L480.9 1283.8L482.6 1283.5L485.0 1282.9L487.0 1282.1L488.9 1281.0L490.4 1279.7L491.7 1278.2L492.9 1276.1L493.5 1274.8L494.1 1273.3L494.7 1271.7L495.2 1269.9L495.7 1268.0L496.2 1265.9L496.7 1263.8L497.2 1261.6L497.6 1259.4L498.0 1257.1L498.5 1254.8L498.9 1252.4L499.2 1250.8L499.4 1249.1L499.7 1247.4L499.9 1245.7L500.2 1243.9L500.4 1242.1L500.6 1240.2L500.8 1238.3L501.0 1236.4L501.2 1234.5L501.4 1232.5L501.6 1230.5L501.8 1228.5L502.0 1226.5L502.1 1224.4L502.3 1222.4L502.5 1220.3L502.6 1218.2L502.8 1216.1L502.9 1213.9L503.1 1211.8L503.3 1209.7L503.4 1207.5L503.6 1205.3L503.7 1203.6L503.9 1201.8L504.0 1200.0L504.1 1198.1L504.2 1196.3L504.3 1194.4L504.4 1192.5L504.6 1190.7L504.7 1188.7L504.8 1186.8L504.9 1184.9L505.0 1182.9L505.1 1181.0L505.2 1179.0L505.3 1177.0L505.4 1175.0L505.5 1173.0L505.5 1171.0L505.6 1169.0L505.7 1167.0L505.8 1165.0L505.9 1163.0L506.0 1160.9L506.1 1158.9L506.2 1156.9L506.3 1154.9L506.4 1152.9L506.4 1150.8L506.5 1148.8L506.6 1146.8L506.7 1144.8L506.8 1142.8L506.9 1140.8L507.0 1138.8L507.1 1136.9L507.2 1134.9L507.3 1132.9L507.4 1131.0L507.5 1129.0L507.6 1127.1L507.7 1125.2L507.8 1123.3L507.9 1121.4L508.0 1119.4L508.1 1117.5L508.2 1115.7L508.3 1113.8L508.4 1111.9L508.5 1110.0L508.6 1108.1L508.7 1106.2L508.8 1104.3L508.9 1102.4L509.0 1100.5L509.1 1098.5L509.2 1096.6L509.3 1094.7L509.4 1092.7L509.6 1090.8L509.7 1088.8L509.7 1086.8L509.8 1084.8L509.9 1082.8L510.0 1080.8L510.1 1078.7L510.2 1076.7L510.3 1074.6L510.4 1072.5L510.5 1070.3L510.6 1068.2L510.7 1066.0L510.8 1063.8L510.9 1062.1L510.9 1060.4L511.0 1058.6L511.1 1056.9L511.1 1055.1L511.2 1053.3L511.3 1051.5L511.3 1049.7L511.4 1047.9L511.5 1046.0L511.5 1044.2L511.6 1042.3L511.7 1040.4L511.7 1038.5L511.8 1036.6L511.8 1034.7L511.9 1032.8L512.0 1030.9L512.0 1029.0L512.1 1027.0L512.1 1025.1L512.2 1023.1L512.3 1021.1L512.3 1019.2L512.4 1017.2L512.4 1015.2L512.5 1013.2L512.6 1011.2L512.6 1009.2L512.7 1007.2L512.7 1005.2L512.8 1003.2L512.8 1001.2L512.9 999.2L513.0 997.1L513.0 995.1L513.1 993.1L513.1 991.1L513.2 989.1L513.2 987.0L513.3 985.0L513.4 983.0L513.4 981.0L513.5 978.9L513.5 976.9L513.6 974.9L513.6 972.9L513.7 970.9L513.8 968.9L513.8 966.9L513.9 964.9L513.9 962.9L514.0 960.9L514.0 958.9L514.1 956.9L514.2 954.9L514.2 953.0L514.3 951.0L514.3 949.1L514.4 947.1L514.5 945.2L514.5 943.2L514.6 941.2L514.6 939.3L514.7 937.3L514.8 935.3L514.8 933.4L514.9 931.4L515.0 929.4L515.0 927.5L515.1 925.5L515.1 923.6L515.2 921.6L515.3 919.6L515.3 917.7L515.4 915.7L515.5 913.7L515.5 911.8L515.6 909.8L515.7 907.9L515.7 905.9L515.8 903.9L515.9 902.0L515.9 900.0L516.0 898.1L516.0 896.1L516.1 894.1L516.2 892.2L516.2 890.2L516.3 888.3L516.4 886.3L516.4 884.3L516.5 882.4L516.6 880.4L516.6 878.5L516.7 876.5L516.7 874.5L516.8 872.6L516.9 870.6L516.9 868.7L517.0 866.7L517.0 864.7L517.1 862.8L517.2 860.8L517.2 858.9L517.3 856.9L517.3 854.9L517.4 853.0L517.5 851.0L517.5 849.1L517.6 847.1L517.6 845.2L517.7 843.2L517.7 841.2L517.8 839.3L517.8 837.3L517.9 835.4L517.9 833.4L518.0 831.4L518.1 829.5L518.1 827.5L518.2 825.6L518.2 823.6L518.3 821.6L518.3 819.7L518.3 817.7L518.4 815.7L518.4 813.8L518.5 811.8L518.5 809.8L518.6 807.9L518.6 805.9L518.7 803.9L518.7 801.9L518.8 800.0L518.8 798.0L518.8 796.0L518.9 794.1L518.9 792.1L519.0 790.1L519.0 788.2L519.1 786.2L519.1 784.2L519.1 782.2L519.2 780.3L519.2 778.3L519.3 776.3L519.3 774.4L519.3 772.4L519.4 770.4L519.4 768.5L519.5 766.5L519.5 764.5L519.5 762.6L519.6 760.6L519.6 758.6L519.6 756.7L519.7 754.7L519.7 752.8L519.8 750.8L519.8 748.8L519.8 746.9L519.9 744.9L519.9 743.0L520.0 741.0L520.0 739.1L520.0 737.1L520.1 735.2L520.1 733.2L520.2 731.3L520.2 729.3L520.2 727.4L520.3 725.5L520.3 723.5L520.4 721.6L520.4 719.7L520.5 717.7L520.5 715.8L520.5 713.9L520.6 711.9L520.6 709.9L520.7 708.0L520.7 706.0L520.8 704.1L520.8 702.1L520.8 700.2L520.9 698.2L520.9 696.3L521.0 694.3L521.0 692.4L521.1 690.4L521.1 688.5L521.1 686.5L521.2 684.6L521.2 682.7L521.3 680.7L521.3 678.8L521.3 676.9L521.4 674.9L521.4 673.0L521.5 671.1L521.5 669.1L521.6 667.2L521.6 665.3L521.6 663.3L521.7 661.4L521.7 659.5L521.8 657.6L521.8 655.6L521.9 653.7L521.9 651.8L521.9 649.9L522.0 648.0L522.0 646.0L522.1 644.1L522.1 642.2L522.2 640.3L522.2 638.4L522.3 636.4L522.3 634.5L522.3 632.6L522.4 630.7L522.4 628.8L522.5 626.9L522.5 625.0L522.6 623.0L522.6 621.1L522.7 619.2L522.7 617.3L522.8 615.4L522.8 613.5L522.9 611.6L522.9 609.7L523.0 607.7L523.1 605.8L523.1 603.8L523.2 601.9L523.2 599.9L523.3 598.0L523.3 596.0L523.4 594.1L523.5 592.1L523.5 590.2L523.6 588.3L523.6 586.3L523.7 584.4L523.8 582.4L523.8 580.5L523.9 578.5L524.0 576.6L524.0 574.7L524.1 572.7L524.2 570.8L524.2 568.9L524.3 566.9L524.4 565.0L524.4 563.1L524.5 561.1L524.6 559.2L524.6 557.3L524.7 555.3L524.8 553.4L524.8 551.5L524.9 549.5L525.0 547.6L525.0 545.7L525.1 543.7L525.2 541.8L525.2 539.9L525.3 537.9L525.4 536.0L525.4 534.1L525.5 532.1L525.6 530.2L525.6 528.3L525.7 526.4L525.8 524.4L525.8 522.5L525.9 520.6L526.0 518.6L526.0 516.7L526.1 514.7L526.2 512.8L526.2 510.9L526.3 508.9L526.4 507.0L526.4 505.1L526.5 503.1L526.6 501.2L526.6 499.3L526.7 497.3L526.8 495.4L526.8 493.5L526.9 491.5L527.0 489.6L527.0 487.6L527.1 485.7L527.1 483.7L527.2 481.8L527.3 479.8L527.3 477.8L527.4 475.9L527.5 473.9L527.5 471.9L527.6 470.0L527.7 468.0L527.7 466.0L527.8 464.0L527.9 462.1L527.9 460.1L528.0 458.1L528.1 456.2L528.1 454.2L528.2 452.2L528.3 450.3L528.3 448.3L528.4 446.4L528.5 444.4L528.5 442.5L528.6 440.5L528.6 438.6L528.7 436.6L528.8 434.7L528.8 432.8L528.9 430.9L529.0 428.9L529.0 427.0L529.1 425.1L529.2 423.2L529.2 421.3L529.3 419.5L529.3 417.6L529.4 415.7L529.5 413.9L529.5 412.0L529.6 410.2L529.6 408.4L529.7 406.5L529.8 404.7L529.8 402.9L529.9 401.1L529.9 399.4L530.0 397.6L530.1 395.5L530.1 393.4L530.2 391.3L530.3 389.3L530.3 387.2L530.4 385.2L530.5 383.1L530.5 381.1L530.6 379.1L530.7 377.1L530.7 375.1L530.8 373.1L530.9 371.1L530.9 369.2L531.0 367.2L531.0 365.2L531.1 363.3L531.2 361.3L531.2 359.4L531.3 357.5L531.4 355.6L531.4 353.6L531.5 351.7L531.5 349.8L531.6 347.9L531.7 346.0L531.7 344.1L531.8 342.3L531.9 340.4L531.9 338.5L532.0 336.6L532.0 334.8L532.1 332.9L532.2 331.0L532.2 329.2L532.3 327.3L532.4 325.5L532.4 323.6L532.5 321.8L532.6 319.7L532.6 317.7L532.7 315.6L532.8 313.6L532.9 311.5L532.9 309.5L533.0 307.5L533.1 305.4L533.2 303.4L533.2 301.3L533.3 299.3L533.4 297.3L533.5 295.3L533.5 293.3L533.6 291.3L533.7 289.3L533.8 287.3L533.8 285.3L533.9 283.4L534.0 281.4L534.1 279.5L534.2 277.6L534.2 275.7L534.3 273.8L534.4 271.9L534.5 270.1L534.6 268.3L534.6 266.5L534.7 264.7L534.8 262.9L534.9 261.2L535.0 259.4L535.1 257.3L535.2 255.1L535.3 253.0L535.4 250.9L535.5 248.8L535.6 246.7L535.7 244.7L535.8 242.6L536.0 240.6L536.1 238.6L536.2 236.7L536.3 234.8L536.4 232.9L536.6 231.1L536.7 229.3L536.8 227.6L537.0 225.9L537.1 224.2L537.3 222.6L537.5 221.1L537.8 218.5L538.2 215.8L538.5 213.1L538.9 210.5L539.3 208.2L539.7 206.4L540.1 205.3L540.5 204.8L540.9 205.3L541.3 206.4L541.7 208.2L542.1 210.5L542.5 213.1L542.8 215.8L543.2 218.5L543.5 221.1L543.7 222.6L543.9 224.2L544.0 225.9L544.2 227.6L544.3 229.3L544.4 231.1L544.6 232.9L544.7 234.8L544.8 236.7L544.9 238.7L545.0 240.6L545.1 242.6L545.2 244.7L545.3 246.7L545.4 248.8L545.5 250.9L545.7 253.0L545.8 255.1L545.9 257.3L546.0 259.4L546.1 261.1L546.2 262.9L546.3 264.7L546.4 266.4L546.5 268.3L546.6 270.1L546.7 271.9L546.8 273.8L546.9 275.7L547.0 277.6L547.1 279.5L547.2 281.4L547.2 283.3L547.3 285.3L547.4 287.2L547.5 289.2L547.6 291.2L547.7 293.2L547.8 295.2L547.9 297.2L548.0 299.2L548.1 301.3L548.2 303.3L548.3 305.3L548.4 307.4L548.5 309.4L548.5 311.4L548.6 313.5L548.7 315.5L548.8 317.6L548.9 319.6L549.0 321.7L549.1 323.5L549.2 325.3L549.2 327.2L549.3 329.0L549.4 330.9L549.5 332.7L549.6 334.6L549.6 336.5L549.7 338.3L549.8 340.2L549.9 342.1L550.0 344.0L550.1 345.8L550.1 347.7L550.2 349.6L550.3 351.5L550.4 353.4L550.5 355.3L550.5 357.2L550.6 359.2L550.7 361.1L550.8 363.0L550.8 365.0L550.9 366.9L551.0 368.9L551.1 370.8L551.1 372.8L551.2 374.8L551.3 376.8L551.4 378.8L551.4 380.8L551.5 382.8L551.6 384.9L551.7 386.9L551.7 389.0L551.8 391.0L551.9 393.1L551.9 395.2L552.0 397.3L552.1 399.1L552.1 400.8L552.2 402.6L552.2 404.4L552.3 406.2L552.3 408.1L552.4 409.9L552.4 411.7L552.5 413.6L552.5 415.4L552.6 417.3L552.6 419.2L552.6 421.1L552.7 423.0L552.7 424.9L552.8 426.8L552.8 428.7L552.9 430.6L552.9 432.5L552.9 434.5L553.0 436.4L553.0 438.4L553.1 440.3L553.1 442.3L553.2 444.2L553.2 446.2L553.2 448.1L553.3 450.1L553.3 452.1L553.4 454.0L553.4 456.0L553.4 458.0L553.5 460.0L553.5 461.9L553.6 463.9L553.6 465.9L553.6 467.9L553.7 469.9L553.7 471.8L553.8 473.8L553.8 475.8L553.9 477.8L553.9 479.7L554.0 481.7L554.0 483.7L554.0 485.6L554.1 487.6L554.1 489.6L554.2 491.5L554.2 493.5L554.3 495.4L554.3 497.3L554.4 499.3L554.4 501.2L554.5 503.1L554.6 505.1L554.6 507.0L554.7 508.9L554.7 510.9L554.8 512.8L554.8 514.8L554.9 516.7L555.0 518.6L555.0 520.6L555.1 522.5L555.2 524.4L555.2 526.4L555.3 528.3L555.3 530.2L555.4 532.2L555.5 534.1L555.5 536.0L555.6 538.0L555.7 539.9L555.7 541.8L555.8 543.8L555.9 545.7L555.9 547.6L556.0 549.6L556.1 551.5L556.2 553.4L556.2 555.4L556.3 557.3L556.4 559.2L556.4 561.2L556.5 563.1L556.6 565.0L556.6 567.0L556.7 568.9L556.8 570.8L556.8 572.8L556.9 574.7L557.0 576.6L557.0 578.6L557.1 580.5L557.2 582.4L557.2 584.4L557.3 586.3L557.4 588.3L557.4 590.2L557.5 592.2L557.6 594.1L557.6 596.0L557.7 598.0L557.8 599.9L557.8 601.9L557.9 603.8L557.9 605.8L558.0 607.7L558.1 609.7L558.1 611.6L558.2 613.5L558.2 615.4L558.3 617.3L558.3 619.2L558.4 621.1L558.5 623.0L558.5 624.9L558.6 626.9L558.6 628.8L558.7 630.7L558.7 632.6L558.8 634.5L558.8 636.4L558.9 638.3L558.9 640.2L559.0 642.2L559.0 644.1L559.1 646.0L559.1 647.9L559.2 649.8L559.2 651.8L559.3 653.7L559.4 655.6L559.4 657.5L559.5 659.4L559.5 661.4L559.6 663.3L559.6 665.2L559.7 667.1L559.7 669.1L559.8 671.0L559.8 672.9L559.9 674.8L559.9 676.8L560.0 678.7L560.0 680.6L560.1 682.6L560.1 684.5L560.2 686.4L560.2 688.4L560.3 690.3L560.3 692.3L560.4 694.2L560.4 696.1L560.5 698.1L560.6 700.0L560.6 702.0L560.7 703.9L560.7 705.9L560.8 707.8L560.8 709.8L560.9 711.7L560.9 713.7L561.0 715.7L561.1 717.6L561.1 719.5L561.2 721.4L561.2 723.4L561.3 725.3L561.3 727.2L561.4 729.2L561.5 731.1L561.5 733.0L561.6 735.0L561.6 736.9L561.7 738.9L561.7 740.8L561.8 742.8L561.9 744.7L561.9 746.7L562.0 748.6L562.0 750.6L562.1 752.5L562.1 754.5L562.2 756.4L562.3 758.4L562.3 760.3L562.4 762.3L562.4 764.3L562.5 766.2L562.5 768.2L562.6 770.1L562.7 772.1L562.7 774.1L562.8 776.0L562.8 778.0L562.9 780.0L563.0 781.9L563.0 783.9L563.1 785.9L563.1 787.8L563.2 789.8L563.3 791.8L563.3 793.7L563.4 795.7L563.5 797.7L563.5 799.6L563.6 801.6L563.7 803.6L563.7 805.6L563.8 807.5L563.8 809.5L563.9 811.5L564.0 813.4L564.0 815.4L564.1 817.4L564.2 819.3L564.3 821.3L564.3 823.3L564.4 825.2L564.5 827.2L564.5 829.1L564.6 831.1L564.7 833.1L564.7 835.0L564.8 837.0L564.9 839.0L565.0 840.9L565.0 842.9L565.1 844.9L565.2 846.9L565.2 848.9L565.3 850.9L565.4 852.9L565.5 854.8L565.5 856.8L565.6 858.8L565.7 860.8L565.8 862.8L565.8 864.8L565.9 866.8L566.0 868.8L566.1 870.8L566.1 872.8L566.2 874.8L566.3 876.8L566.4 878.8L566.4 880.8L566.5 882.8L566.6 884.8L566.7 886.8L566.8 888.8L566.8 890.8L566.9 892.8L567.0 894.7L567.1 896.7L567.2 898.7L567.2 900.7L567.3 902.7L567.4 904.6L567.5 906.6L567.6 908.6L567.7 910.5L567.7 912.5L567.8 914.5L567.9 916.4L568.0 918.4L568.1 920.3L568.2 922.2L568.3 924.2L568.4 926.1L568.5 928.0L568.5 929.9L568.6 931.8L568.7 933.8L568.8 935.7L568.9 937.5L569.0 939.4L569.1 941.3L569.2 943.2L569.3 945.1L569.4 946.9L569.5 949.0L569.6 951.0L569.7 953.0L569.8 955.1L570.0 957.1L570.1 959.2L570.2 961.2L570.3 963.2L570.4 965.2L570.5 967.2L570.6 969.3L570.8 971.3L570.9 973.3L571.0 975.3L571.1 977.3L571.2 979.3L571.4 981.3L571.5 983.2L571.6 985.2L571.7 987.2L571.9 989.2L572.0 991.1L572.1 993.1L572.2 995.0L572.4 997.0L572.5 998.9L572.6 1000.9L572.8 1002.8L572.9 1004.8L573.0 1006.7L573.1 1008.6L573.3 1010.5L573.4 1012.4L573.5 1014.3L573.7 1016.2L573.8 1018.1L573.9 1020.0L574.1 1021.9L574.2 1023.7L574.3 1025.6L574.5 1027.4L574.6 1029.3L574.7 1031.1L574.9 1033.0L575.0 1034.8L575.1 1036.6L575.3 1038.4L575.4 1040.2L575.6 1042.4L575.7 1044.5L575.9 1046.6L576.0 1048.6L576.2 1050.7L576.4 1052.8L576.5 1054.8L576.7 1056.8L576.8 1058.9L577.0 1060.9L577.2 1062.9L577.3 1064.9L577.5 1066.9L577.6 1068.8L577.8 1070.8L578.0 1072.8L578.1 1074.8L578.3 1076.7L578.5 1078.7L578.6 1080.6L578.8 1082.5L579.0 1084.5L579.1 1086.4L579.3 1088.4L579.5 1090.3L579.7 1092.2L579.8 1094.2L580.0 1096.1L580.2 1098.0L580.4 1100.0L580.6 1101.9L580.7 1103.8L580.9 1105.8L581.1 1107.7L581.3 1109.7L581.5 1111.7L581.7 1113.7L581.9 1115.7L582.1 1117.7L582.3 1119.8L582.5 1121.8L582.7 1123.9L582.9 1125.9L583.1 1127.9L583.3 1130.0L583.5 1132.0L583.7 1134.1L583.9 1136.1L584.1 1138.2L584.3 1140.2L584.5 1142.2L584.7 1144.2L584.9 1146.2L585.1 1148.2L585.3 1150.2L585.6 1152.2L585.8 1154.2L586.0 1156.1L586.2 1158.1L586.5 1160.0L586.7 1161.9L587.0 1163.8L587.2 1165.7L587.4 1167.5L587.7 1169.4L588.0 1171.2L588.2 1173.0L588.5 1174.7L588.8 1176.9L589.2 1179.1L589.6 1181.2L589.9 1183.3L590.3 1185.4L590.7 1187.5L591.0 1189.5L591.4 1191.6L591.8 1193.6L592.2 1195.6L592.6 1197.5L593.0 1199.5L593.4 1201.4L593.8 1203.3L594.2 1205.3L594.7 1207.1L595.1 1209.0L595.5 1210.9L596.0 1212.8L596.4 1214.7L596.9 1216.5L597.4 1218.7L597.9 1220.9L598.4 1223.1L598.9 1225.2L599.5 1227.4L600.0 1229.6L600.5 1231.8L601.0 1233.9L601.6 1236.0L602.2 1238.0L602.8 1240.0L603.4 1241.9L604.1 1243.7L604.8 1245.5L605.6 1247.2L606.4 1248.8L607.7 1250.9L609.0 1252.9L610.4 1254.8L611.8 1256.6L613.4 1258.2L615.0 1259.6L616.6 1260.9L618.4 1262.0L620.2 1263.1L622.2 1264.0L624.2 1264.8L626.3 1265.4L628.5 1266.0L630.6 1266.4L632.8 1266.8L635.0 1267.0L637.0 1267.1L639.1 1267.2L641.2 1267.2L643.4 1267.0L645.5 1267.0L647.7 1266.9L649.8 1266.6L651.9 1266.3L654.0 1265.9L656.0 1265.4L658.0 1264.8L660.0 1264.1L662.0 1263.3L663.9 1262.4L665.9 1261.5L667.8 1260.5L669.7 1259.5L671.6 1258.5L673.4 1257.5L675.1 1256.6L676.8 1255.7L678.4 1254.7L680.0 1253.8L681.6 1252.8L683.2 1251.7L684.7 1250.6L686.2 1249.4L687.7 1248.2L689.2 1246.9L690.5 1245.6L691.8 1244.2L693.0 1242.8L694.2 1241.2L695.4 1239.7L696.5 1238.1L697.6 1236.4L698.7 1234.8L699.8 1233.1L700.9 1231.4L701.9 1229.6L703.0 1227.9L704.1 1226.1L705.1 1224.5L706.1 1223.0L707.1 1221.4L708.1 1219.8L709.1 1218.2L710.1 1216.6L711.2 1215.0L712.2 1213.3L713.3 1211.6L714.4 1209.9L715.5 1208.2L716.6 1206.5L717.7 1204.6L718.9 1202.8L720.1 1200.9L721.0 1199.4L721.9 1197.9L722.9 1196.3L723.8 1194.7L724.8 1193.1L725.7 1191.4L726.7 1189.7L727.7 1188.0L728.7 1186.3L729.7 1184.6L730.7 1182.8L731.7 1181.0L732.7 1179.3L733.8 1177.5L734.8 1175.7L735.8 1173.9L736.8 1172.1L737.8 1170.3L738.9 1168.5L739.9 1166.7L740.9 1164.9L741.9 1163.2L743.0 1161.4L744.0 1159.7L745.0 1158.0L746.0 1156.3L747.0 1154.5L748.0 1152.8L749.1 1151.0L750.1 1149.2L751.1 1147.5L752.1 1145.7L753.2 1144.0L754.2 1142.2L755.2 1140.4L756.2 1138.7L757.3 1136.9L758.3 1135.2L759.3 1133.4L760.4 1131.7L761.4 1130.0L762.4 1128.3L763.5 1126.6L764.5 1124.9L765.5 1123.2L766.5 1121.5L767.5 1119.9L768.6 1118.2L769.6 1116.6L770.6 1115.0L771.8 1113.1L773.0 1111.3L774.1 1109.5L775.3 1107.8L776.4 1106.0L777.5 1104.3L778.7 1102.6L779.8 1100.9L781.0 1099.2L782.1 1097.6L783.3 1095.9L784.4 1094.2L785.6 1092.5L786.8 1090.8L788.0 1089.1L789.2 1087.3L790.4 1085.6L791.7 1083.8L793.0 1082.0L794.1 1080.5L795.2 1078.9L796.3 1077.3L797.5 1075.7L798.6 1074.1L799.8 1072.4L800.9 1070.8L802.1 1069.1L803.3 1067.5L804.5 1065.8L805.7 1064.1L806.9 1062.4L808.1 1060.8L809.3 1059.1L810.6 1057.4L811.8 1055.8L813.0 1054.1L814.3 1052.5L815.5 1050.8L816.8 1049.2L818.1 1047.6L819.4 1046.1L820.6 1044.5L821.9 1043.0L823.2 1041.5L824.5 1040.0L825.9 1038.5L827.3 1036.9L828.7 1035.4L830.2 1033.8L831.6 1032.3L833.1 1030.8L834.6 1029.3L836.1 1027.8L837.6 1026.3L839.1 1024.8L840.6 1023.4L842.1 1022.0L843.6 1020.6L845.1 1019.2L846.6 1017.8L848.1 1016.5L849.5 1015.2L851.0 1013.9L852.4 1012.7L853.9 1011.4L855.3 1010.3L856.6 1009.1L858.0 1008.0L859.8 1006.2L861.5 1004.5L863.3 1002.8L865.0 1001.2L866.6 999.6L868.3 998.1L870.0 996.6L871.6 995.2L873.3 993.8L874.9 992.5L876.6 991.2L878.3 990.0L880.0 988.8L882.0 987.5L883.9 986.3L885.9 985.1L887.8 984.0L889.8 982.9L891.7 982.0L893.7 981.1L895.8 980.3L897.9 979.6L900.0 979.0L902.0 979.0L904.0 979.0L906.0 979.2L908.1 979.4L910.2 979.7L912.4 980.1L914.5 980.5L916.7 981.0L918.9 981.6L921.0 982.2L923.2 983.0L925.4 983.7L927.5 984.5L929.2 985.3L930.9 986.0L932.7 986.8L934.4 987.7L936.2 988.6L938.0 989.6L939.7 990.6L941.5 991.6L943.3 992.7L945.0 993.8L946.8 995.0L948.5 996.1L950.2 997.4L951.9 998.6L953.6 999.9L955.2 1001.2L956.9 1002.5L958.4 1003.8L960.0 1005.2L961.4 1006.5L962.9 1008.0L964.2 1009.4L965.6 1010.9L966.9 1012.5L968.2 1014.1L969.5 1015.7L970.7 1017.4L972.0 1019.1L973.2 1020.8L974.5 1022.5L975.7 1024.2L976.9 1025.9L978.1 1027.6L979.4 1029.3L980.6 1030.9L981.8 1032.6L983.1 1034.2L984.4 1035.7L985.7 1037.3L987.0 1038.7L988.4 1040.3L989.9 1041.9L991.4 1043.5L992.8 1045.0L994.3 1046.6L995.7 1048.1L997.2 1049.7L998.7 1051.2L1000.2 1052.7L1001.7 1054.1L1003.2 1055.6L1004.7 1057.0L1006.2 1058.3L1007.7 1059.6L1009.3 1060.9L1010.8 1062.1L1012.4 1063.2L1014.0 1064.3L1015.8 1065.4L1017.7 1066.6L1019.6 1067.6L1021.5 1068.6L1023.4 1069.5L1025.3 1070.4L1027.3 1071.2L1029.2 1072.0L1031.2 1072.7L1033.1 1073.4L1035.1 1074.1L1037.1 1074.7L1039.0 1075.3L1041.0 1075.8L1043.0 1076.4L1045.1 1076.8L1047.2 1077.3L1049.2 1077.6L1051.3 1078.0L1053.4 1078.3L1055.5 1078.5L1057.6 1078.7L1059.7 1078.9L1061.7 1079.1L1063.8 1079.2L1065.9 1079.3L1068.0 1079.4L1070.1 1079.4L1072.2 1079.4L1074.2 1079.4L1076.3 1079.3L1078.4 1079.2L1080.5 1079.0L1082.6 1078.9L1084.6 1078.7L1086.7 1078.5L1088.8 1078.3L1090.9 1078.0L1092.9 1077.8L1095.0 1077.5L1097.1 1077.2L1099.2 1076.9L1101.2 1076.6L1103.3 1076.2L1105.4 1075.8L1107.5 1075.4L1109.6 1075.0L1111.6 1074.6L1113.7 1074.1L1115.8 1073.7L1117.9 1073.3L1119.9 1072.9L1122.0 1072.4L1124.1 1072.0L1126.2 1071.7L1128.2 1071.3L1130.3 1070.9L1132.4 1070.5L1134.5 1070.1L1136.6 1069.7L1138.7 1069.3L1140.7 1068.9L1142.8 1068.4L1144.9 1068.0L1146.9 1067.5L1149.0 1067.0L1150.9 1066.5L1152.8 1065.9L1154.8 1065.4L1156.7 1064.8L1158.6 1064.2L1160.5 1063.6L1162.4 1063.0L1164.3 1062.4L1166.2 1061.8L1168.1 1061.1L1170.0 1060.5L1171.9 1059.8L1173.7 1059.2L1175.6 1058.5L1177.5 1057.8L1179.4 1057.1L1181.3 1056.3L1183.1 1055.5L1184.9 1054.7L1186.8 1053.9L1188.6 1053.1L1190.4 1052.3L1192.3 1051.6L1194.2 1050.9L1196.1 1050.2L1198.0 1049.6L1200.0 1049.0L1202.0 1048.2L1204.0 1047.4L1206.1 1046.6L1208.2 1045.9L1210.3 1045.2L1212.5 1044.6L1214.6 1043.9L1216.8 1043.3L1218.9 1042.7L1221.1 1042.0L1223.2 1041.4L1225.3 1040.8L1227.4 1040.1L1229.5 1039.5L1231.6 1038.8L1233.7 1038.0L1235.8 1037.3L1237.9 1036.5L1240.0 1035.8L1242.0 1035.0L1244.1 1034.3L1246.2 1033.6L1248.2 1032.9L1250.3 1032.2L1252.3 1031.5L1254.4 1030.9L1256.5 1030.3L1258.6 1029.8L1260.6 1029.3L1262.7 1028.8L1264.8 1028.4L1266.9 1027.9L1269.0 1027.5L1271.0 1027.1L1273.1 1026.8L1275.2 1026.4L1277.3 1026.1L1279.3 1025.8L1281.4 1025.5L1283.5 1025.2L1285.6 1024.9L1287.6 1024.7L1289.6 1024.5L1291.6 1024.3L1293.6 1024.1L1295.6 1024.0L1297.6 1023.9L1299.7 1023.7L1301.7 1023.6L1303.8 1023.5L1306.0 1023.4L1308.2 1023.2L1310.4 1023.1L1312.2 1023.0L1314.1 1022.8L1316.0 1022.7L1317.9 1022.6L1319.8 1022.5L1321.8 1022.4L1323.8 1022.3L1325.8 1022.2L1327.8 1022.2L1329.8 1022.1L1331.9 1022.0L1334.0 1021.9L1336.0 1021.8L1338.1 1021.7L1340.2 1021.5L1342.3 1021.4L1344.4 1021.3L1346.6 1021.2L1348.7 1021.0L1350.8 1021.0L1352.7 1021.2L1354.7 1021.3L1356.6 1021.5L1358.5 1021.6L1360.4 1021.8L1362.3 1021.9L1364.3 1022.1L1366.2 1022.2L1368.1 1022.4L1370.1 1022.5L1372.0 1022.7L1374.0 1022.8L1376.0 1022.9L1378.0 1023.1L1380.1 1023.2L1382.1 1023.3L1384.2 1023.4L1386.4 1023.6L1388.5 1023.7L1390.7 1023.8L1393.0 1023.9L1395.3 1024.1L1397.6 1024.2L1400.0 1024.3L1401.7 1024.4L1403.4 1024.5L1405.1 1024.6L1406.8 1024.7L1408.6 1024.7L1410.4 1024.8L1412.2 1024.9L1414.0 1025.0L1415.9 1025.1L1417.8 1025.2L1419.6 1025.2L1421.6 1025.3L1423.5 1025.4L1425.4 1025.5L1427.4 1025.6L1429.4 1025.6L1431.4 1025.7L1433.4 1025.8L1435.4 1025.9L1437.5 1025.9L1439.5 1026.0L1441.6 1026.1L1443.6 1026.2L1445.7 1026.3L1447.8 1026.3L1449.9 1026.4L1452.0 1026.5L1454.1 1026.5L1456.2 1026.6L1458.3 1026.7L1460.4 1026.8L1462.5 1026.8L1464.7 1026.9L1466.8 1027.0L1468.9 1027.0L1471.0 1027.1L1473.1 1027.2L1475.2 1027.2L1477.3 1027.3L1479.4 1027.4L1481.5 1027.4L1483.6 1027.5L1485.7 1027.5L1487.8 1027.6L1489.8 1027.7L1491.9 1027.7L1493.9 1027.8L1496.0 1027.8L1498.0 1027.9L1500.0 1027.9L1502.0 1028.0L1504.0 1028.0L1506.0 1028.1L1508.0 1028.1L1510.0 1028.2L1512.0 1028.2L1514.0 1028.3L1516.0 1028.3L1518.0 1028.4L1520.0 1028.4L1522.0 1028.4L1524.0 1028.5L1526.0 1028.5L1528.0 1028.6L1530.0 1028.6L1532.0 1028.6L1534.0 1028.7L1536.0 1028.7L1538.0 1028.7L1540.0 1028.8L1542.0 1028.8L1544.0 1028.8L1546.0 1028.9L1548.0 1028.9L1550.0 1028.9L1552.0 1029.0L1554.0 1029.0L1556.0 1029.0L1558.0 1029.1L1560.0 1029.1L1562.0 1029.1L1564.0 1029.1L1566.0 1029.2L1568.0 1029.2L1570.0 1029.2L1572.0 1029.2L1574.0 1029.3L1576.0 1029.3L1578.0 1029.3L1580.0 1029.3L1582.0 1029.4L1584.0 1029.4L1586.0 1029.4L1588.0 1029.4L1590.0 1029.4L1592.0 1029.5L1594.0 1029.5L1596.0 1029.5L1598.0 1029.5L1600.0 1029.6L1602.0 1029.6L1604.0 1029.6L1606.0 1029.6L1608.0 1029.6L1609.9 1029.7L1611.9 1029.7L1613.9 1029.7L1615.9 1029.7L1617.8 1029.7L1619.8 1029.7L1621.7 1029.8L1623.7 1029.8L1625.7 1029.8L1627.6 1029.8L1629.6 1029.8L1631.5 1029.8L1633.5 1029.8L1635.4 1029.9L1637.4 1029.9L1639.4 1029.9L1641.3 1029.9L1643.3 1029.9L1645.2 1029.9L1647.2 1029.9L1649.2 1029.9L1651.1 1029.9L1653.1 1029.9L1655.1 1030.0L1657.0 1030.0L1659.0 1030.0L1661.0 1030.0L1663.0 1030.0L1665.0 1030.0L1667.0 1030.0L1669.0 1030.0L1671.0 1030.0L1673.0 1030.0L1675.1 1030.0L1677.1 1030.1L1679.1 1030.1L1681.2 1030.1L1683.2 1030.1L1685.3 1030.1L1687.4 1030.1L1689.5 1030.1L1691.5 1030.1L1693.6 1030.1L1695.8 1030.2L1697.9 1030.2L1700.0 1030.2L1701.9 1030.2L1703.8 1030.2L1705.7 1030.2L1707.6 1030.2L1709.5 1030.2L1711.4 1030.3L1713.4 1030.3L1715.3 1030.3L1717.2 1030.3L1719.2 1030.3L1721.1 1030.3L1723.1 1030.3L1725.1 1030.3L1727.0 1030.4L1729.0 1030.4L1731.0 1030.4L1733.0 1030.4L1735.0 1030.4L1737.0 1030.4L1739.0 1030.4L1741.0 1030.4L1743.0 1030.5L1745.0 1030.5L1747.1 1030.5L1749.1 1030.5L1751.1 1030.5L1753.2 1030.5L1755.2 1030.5L1757.2 1030.5L1759.3 1030.6L1761.3 1030.6L1763.4 1030.6L1765.4 1030.6L1767.5 1030.6L1769.5 1030.6L1771.6 1030.6L1773.6 1030.6L1775.7 1030.7L1777.8 1030.7L1779.8 1030.7L1781.9 1030.7L1783.9 1030.7L1786.0 1030.7L1788.1 1030.7L1790.1 1030.7L1792.2 1030.8L1794.2 1030.8L1796.3 1030.8L1798.4 1030.8L1800.4 1030.8L1802.5 1030.8L1804.5 1030.8L1806.6 1030.8L1808.6 1030.9L1810.7 1030.9L1812.7 1030.9L1814.8 1030.9L1816.8 1030.9L1818.8 1030.9L1820.9 1030.9L1822.9 1030.9L1824.9 1031.0L1827.0 1031.0L1829.0 1031.0L1831.0 1031.0" stroke="#008080" stroke-dasharray="18.00 32.00"/>
<path d="M203.0 1284.0L205.0 1284.0L207.1 1284.0L209.1 1284.0L211.2 1284.0L213.3 1284.0L215.4 1284.0L217.5 1284.0L219.7 1284.0L221.8 1284.0L224.0 1284.0L226.2 1284.0L228.4 1284.0L230.7 1284.0L232.9 1284.0L235.1 1284.0L237.4 1284.0L239.7 1284.0L242.0 1284.0L244.3 1284.0L246.6 1284.0L248.9 1284.0L251.3 1284.0L253.6 1284.1L256.0 1284.1L258.4 1284.1L260.7 1284.1L263.1 1284.1L265.5 1284.1L267.9 1284.1L270.3 1284.1L272.8 1284.1L275.2 1284.1L277.6 1284.1L280.0 1284.1L282.5 1284.1L284.9 1284.1L287.4 1284.1L289.8 1284.1L292.3 1284.1L294.7 1284.1L297.2 1284.1L299.6 1284.1L302.1 1284.2L304.5 1284.2L307.0 1284.2L309.5 1284.2L311.9 1284.2L314.4 1284.2L316.8 1284.2L319.3 1284.2L321.7 1284.2L324.2 1284.2L326.6 1284.2L329.1 1284.2L331.5 1284.2L333.9 1284.2L336.4 1284.2L338.8 1284.2L341.2 1284.2L343.6 1284.2L346.0 1284.2L348.4 1284.3L350.8 1284.3L353.2 1284.3L355.5 1284.3L357.9 1284.3L360.2 1284.3L362.6 1284.3L364.9 1284.3L367.2 1284.3L369.5 1284.3L371.8 1284.3L374.1 1284.3L376.3 1284.3L378.6 1284.3L380.8 1284.3L383.0 1284.3L385.2 1284.3L387.4 1284.3L389.6 1284.3L391.8 1284.3L393.9 1284.3L396.0 1284.3L398.1 1284.3L400.2 1284.3L402.3 1284.3L404.4 1284.3L406.4 1284.3L408.4 1284.3L410.4 1284.3L412.4 1284.3L414.3 1284.3L416.2 1284.3L418.1 1284.3L420.0 1284.3L421.9 1284.3L423.7 1284.3L425.5 1284.3L427.3 1284.3L429.1 1284.3L430.8 1284.3L432.5 1284.3L434.2 1284.3L435.8 1284.3L437.5 1284.3L439.1 1284.3L440.6 1284.3L442.2 1284.3L443.7 1284.3L445.2 1284.3L446.6 1284.2L448.1 1284.2L449.5 1284.2L450.8 1284.2L452.2 1284.2L453.5 1284.2L454.8 1284.2L456.0 1284.2L457.2 1284.2L458.4 1284.2L459.6 1284.2L460.7 1284.2L461.8 1284.1L462.9 1284.1L464.0 1284.1L465.0 1284.1L465.9 1284.1L466.9 1284.1L467.8 1284.1L468.7 1284.0L469.5 1284.0L470.3 1284.0L471.0 1284.0L474.2 1284.0L476.6 1284.0L478.4 1283.9L480.1 1283.8L481.8 1283.5L484.0 1282.9L486.1 1282.1L487.9 1281.0L489.4 1279.7L490.7 1278.2L492.0 1276.1L492.6 1274.8L493.1 1273.3L493.7 1271.6L494.2 1269.8L494.7 1267.9L495.2 1265.9L495.7 1263.8L496.2 1261.6L496.6 1259.3L497.1 1257.0L497.5 1254.7L497.9 1252.3L498.2 1250.7L498.4 1249.0L498.7 1247.3L498.9 1245.5L499.2 1243.7L499.4 1241.9L499.6 1240.0L499.8 1238.1L500.0 1236.2L500.2 1234.3L500.4 1232.3L500.6 1230.3L500.8 1228.3L501.0 1226.3L501.1 1224.2L501.3 1222.1L501.5 1220.0L501.6 1217.9L501.8 1215.8L502.0 1213.7L502.1 1211.5L502.3 1209.4L502.4 1207.2L502.6 1205.0L502.7 1203.2L502.9 1201.4L503.0 1199.6L503.1 1197.8L503.2 1195.9L503.3 1194.0L503.4 1192.2L503.6 1190.2L503.7 1188.3L503.8 1186.4L503.9 1184.4L504.0 1182.5L504.1 1180.5L504.2 1178.5L504.3 1176.5L504.4 1174.5L504.5 1172.5L504.5 1170.5L504.6 1168.5L504.7 1166.5L504.8 1164.5L504.9 1162.4L505.0 1160.4L505.1 1158.4L505.2 1156.3L505.3 1154.3L505.4 1152.3L505.4 1150.2L505.5 1148.2L505.6 1146.2L505.7 1144.2L505.8 1142.2L505.9 1140.2L506.0 1138.2L506.1 1136.2L506.2 1134.2L506.3 1132.2L506.4 1130.3L506.5 1128.3L506.6 1126.4L506.7 1124.4L506.8 1122.5L506.9 1120.6L507.0 1118.7L507.1 1116.7L507.2 1114.8L507.3 1112.9L507.4 1111.0L507.5 1109.1L507.6 1107.2L507.7 1105.3L507.8 1103.4L507.9 1101.5L508.0 1099.5L508.1 1097.6L508.2 1095.7L508.3 1093.7L508.5 1091.8L508.6 1089.8L508.7 1087.8L508.8 1085.8L508.8 1083.8L508.9 1081.8L509.0 1079.7L509.1 1077.7L509.2 1075.6L509.3 1073.5L509.4 1071.4L509.5 1069.2L509.6 1067.1L509.7 1064.9L509.8 1062.6L509.9 1060.9L509.9 1059.2L510.0 1057.4L510.1 1055.6L510.1 1053.9L510.2 1052.1L510.3 1050.2L510.3 1048.4L510.4 1046.6L510.5 1044.7L510.5 1042.9L510.6 1041.0L510.7 1039.1L510.7 1037.2L510.8 1035.3L510.8 1033.4L510.9 1031.4L511.0 1029.5L511.0 1027.6L511.1 1025.6L511.1 1023.6L511.2 1021.7L511.3 1019.7L511.3 1017.7L511.4 1015.7L511.4 1013.7L511.5 1011.7L511.6 1009.7L511.6 1007.7L511.7 1005.7L511.7 1003.6L511.8 1001.6L511.8 999.6L511.9 997.6L512.0 995.5L512.0 993.5L512.1 991.5L512.1 989.4L512.2 987.4L512.2 985.3L512.3 983.3L512.4 981.3L512.4 979.2L512.5 977.2L512.5 975.2L512.6 973.1L512.6 971.1L512.7 969.1L512.8 967.1L512.8 965.0L512.9 963.0L512.9 961.0L513.0 959.0L513.0 957.0L513.1 955.0L513.2 953.0L513.2 951.1L513.3 949.1L513.3 947.1L513.4 945.2L513.5 943.2L513.5 941.2L513.6 939.2L513.6 937.2L513.7 935.3L513.8 933.3L513.8 931.3L513.9 929.3L514.0 927.3L514.0 925.4L514.1 923.4L514.1 921.4L514.2 919.4L514.3 917.4L514.3 915.5L514.4 913.5L514.5 911.5L514.5 909.5L514.6 907.6L514.7 905.6L514.7 903.6L514.8 901.6L514.9 899.7L514.9 897.7L515.0 895.7L515.0 893.7L515.1 891.7L515.2 889.8L515.2 887.8L515.3 885.8L515.4 883.8L515.4 881.9L515.5 879.9L515.6 877.9L515.6 875.9L515.7 874.0L515.7 872.0L515.8 870.0L515.9 868.0L515.9 866.1L516.0 864.1L516.0 862.1L516.1 860.1L516.2 858.2L516.2 856.2L516.3 854.2L516.3 852.2L516.4 850.3L516.5 848.3L516.5 846.3L516.6 844.3L516.6 842.4L516.7 840.4L516.7 838.4L516.8 836.4L516.8 834.5L516.9 832.5L516.9 830.5L517.0 828.5L517.1 826.6L517.1 824.6L517.2 822.6L517.2 820.6L517.3 818.7L517.3 816.7L517.3 814.7L517.4 812.7L517.4 810.7L517.5 808.7L517.5 806.8L517.6 804.8L517.6 802.8L517.7 800.8L517.7 798.8L517.8 796.8L517.8 794.8L517.8 792.9L517.9 790.9L517.9 788.9L518.0 786.9L518.0 784.9L518.1 782.9L518.1 780.9L518.1 778.9L518.2 777.0L518.2 775.0L518.3 773.0L518.3 771.0L518.3 769.0L518.4 767.0L518.4 765.1L518.5 763.1L518.5 761.1L518.5 759.1L518.6 757.1L518.6 755.2L518.6 753.2L518.7 751.2L518.7 749.2L518.8 747.2L518.8 745.3L518.8 743.3L518.9 741.3L518.9 739.4L519.0 737.4L519.0 735.4L519.0 733.5L519.1 731.5L519.1 729.5L519.2 727.6L519.2 725.6L519.2 723.7L519.3 721.7L519.3 719.8L519.4 717.8L519.4 715.9L519.5 713.9L519.5 712.0L519.5 710.0L519.6 708.0L519.6 706.0L519.7 704.1L519.7 702.1L519.8 700.1L519.8 698.2L519.8 696.2L519.9 694.2L519.9 692.3L520.0 690.3L520.0 688.3L520.1 686.4L520.1 684.4L520.1 682.5L520.2 680.5L520.2 678.5L520.3 676.6L520.3 674.6L520.3 672.7L520.4 670.7L520.4 668.8L520.5 666.8L520.5 664.9L520.6 662.9L520.6 661.0L520.6 659.1L520.7 657.1L520.7 655.2L520.8 653.2L520.8 651.3L520.9 649.4L520.9 647.4L520.9 645.5L521.0 643.5L521.0 641.6L521.1 639.7L521.1 637.7L521.2 635.8L521.2 633.9L521.3 631.9L521.3 630.0L521.3 628.1L521.4 626.1L521.4 624.2L521.5 622.3L521.5 620.3L521.6 618.4L521.6 616.5L521.7 614.5L521.7 612.6L521.8 610.7L521.8 608.7L521.9 606.8L521.9 604.9L522.0 603.0L522.1 601.0L522.1 599.0L522.2 597.0L522.2 595.1L522.3 593.1L522.3 591.1L522.4 589.2L522.5 587.2L522.5 585.2L522.6 583.3L522.6 581.3L522.7 579.4L522.8 577.4L522.8 575.4L522.9 573.5L523.0 571.5L523.0 569.6L523.1 567.6L523.2 565.6L523.2 563.7L523.3 561.7L523.4 559.8L523.4 557.8L523.5 555.9L523.6 553.9L523.6 552.0L523.7 550.0L523.8 548.1L523.8 546.1L523.9 544.2L524.0 542.2L524.0 540.3L524.1 538.3L524.2 536.4L524.2 534.4L524.3 532.5L524.4 530.5L524.4 528.6L524.5 526.6L524.6 524.7L524.6 522.7L524.7 520.7L524.8 518.8L524.8 516.8L524.9 514.9L525.0 512.9L525.0 511.0L525.1 509.0L525.2 507.1L525.2 505.1L525.3 503.1L525.4 501.2L525.4 499.2L525.5 497.3L525.6 495.3L525.6 493.4L525.7 491.4L525.8 489.5L525.8 487.5L525.9 485.6L526.0 483.6L526.0 481.6L526.1 479.7L526.1 477.7L526.2 475.7L526.3 473.7L526.3 471.7L526.4 469.7L526.5 467.8L526.5 465.8L526.6 463.8L526.7 461.8L526.7 459.8L526.8 457.8L526.9 455.8L526.9 453.8L527.0 451.8L527.1 449.8L527.1 447.9L527.2 445.9L527.3 443.9L527.3 441.9L527.4 439.9L527.5 438.0L527.5 436.0L527.6 434.0L527.6 432.1L527.7 430.1L527.8 428.2L527.8 426.2L527.9 424.3L528.0 422.3L528.0 420.4L528.1 418.5L528.2 416.6L528.2 414.7L528.3 412.8L528.3 410.9L528.4 409.0L528.5 407.1L528.5 405.2L528.6 403.4L528.6 401.5L528.7 399.7L528.8 397.9L528.8 396.0L528.9 394.2L528.9 392.4L529.0 390.7L529.1 388.5L529.1 386.4L529.2 384.3L529.3 382.3L529.3 380.2L529.4 378.1L529.5 376.1L529.5 374.0L529.6 372.0L529.7 369.9L529.7 367.9L529.8 365.9L529.9 363.9L529.9 361.9L530.0 359.9L530.0 358.0L530.1 356.0L530.2 354.0L530.2 352.1L530.3 350.1L530.4 348.2L530.4 346.3L530.5 344.3L530.5 342.4L530.6 340.5L530.7 338.6L530.7 336.7L530.8 334.8L530.9 332.9L530.9 331.0L531.0 329.1L531.0 327.2L531.1 325.3L531.2 323.4L531.2 321.6L531.3 319.7L531.4 317.8L531.4 315.9L531.5 314.1L531.6 312.0L531.6 309.9L531.7 307.9L531.8 305.8L531.9 303.7L531.9 301.7L532.0 299.6L532.1 297.5L532.2 295.5L532.2 293.4L532.3 291.4L532.4 289.3L532.5 287.3L532.5 285.3L532.6 283.2L532.7 281.2L532.8 279.2L532.8 277.2L532.9 275.3L533.0 273.3L533.1 271.4L533.2 269.4L533.2 267.5L533.3 265.6L533.4 263.7L533.5 261.9L533.6 260.0L533.6 258.2L533.7 256.4L533.8 254.6L533.9 252.8L534.0 251.1L534.1 248.9L534.2 246.8L534.3 244.6L534.4 242.5L534.5 240.3L534.6 238.2L534.7 236.2L534.8 234.1L535.0 232.1L535.1 230.1L535.2 228.1L535.3 226.2L535.4 224.3L535.6 222.4L535.7 220.6L535.8 218.9L536.0 217.2L536.1 215.5L536.3 213.9L536.5 212.4L536.8 209.7L537.2 207.0L537.5 204.2L537.9 201.6L538.3 199.4L538.7 197.5L539.1 196.3L539.5 195.9L539.9 196.3L540.3 197.5L540.7 199.4L541.1 201.6L541.5 204.2L541.8 207.0L542.2 209.7L542.5 212.4L542.7 213.9L542.9 215.5L543.0 217.2L543.2 218.9L543.3 220.6L543.4 222.5L543.6 224.3L543.7 226.2L543.8 228.1L543.9 230.1L544.0 232.1L544.1 234.1L544.2 236.2L544.3 238.3L544.4 240.4L544.5 242.5L544.7 244.6L544.8 246.8L544.9 248.9L545.0 251.1L545.1 252.8L545.2 254.6L545.3 256.4L545.4 258.2L545.5 260.0L545.6 261.8L545.7 263.7L545.8 265.6L545.9 267.5L546.0 269.4L546.1 271.3L546.2 273.3L546.2 275.2L546.3 277.2L546.4 279.2L546.5 281.2L546.6 283.2L546.7 285.2L546.8 287.2L546.9 289.3L547.0 291.3L547.1 293.4L547.2 295.4L547.3 297.5L547.4 299.5L547.5 301.6L547.5 303.7L547.6 305.7L547.7 307.8L547.8 309.9L547.9 311.9L548.0 314.0L548.1 315.8L548.2 317.7L548.2 319.6L548.3 321.4L548.4 323.3L548.5 325.2L548.6 327.1L548.6 329.0L548.7 330.8L548.8 332.7L548.9 334.6L549.0 336.5L549.1 338.4L549.1 340.3L549.2 342.2L549.3 344.2L549.4 346.1L549.5 348.0L549.5 350.0L549.6 351.9L549.7 353.9L549.8 355.8L549.8 357.8L549.9 359.7L550.0 361.7L550.1 363.7L550.1 365.7L550.2 367.7L550.3 369.7L550.4 371.8L550.4 373.8L550.5 375.8L550.6 377.9L550.7 379.9L550.7 382.0L550.8 384.1L550.9 386.2L550.9 388.3L551.0 390.4L551.1 392.2L551.1 394.0L551.2 395.8L551.2 397.6L551.3 399.5L551.3 401.3L551.4 403.2L551.4 405.0L551.5 406.9L551.5 408.8L551.6 410.7L551.6 412.5L551.6 414.4L551.7 416.4L551.7 418.3L551.8 420.2L551.8 422.1L551.9 424.1L551.9 426.0L551.9 428.0L552.0 429.9L552.0 431.9L552.1 433.9L552.1 435.8L552.2 437.8L552.2 439.8L552.2 441.8L552.3 443.8L552.3 445.7L552.4 447.7L552.4 449.7L552.4 451.7L552.5 453.7L552.5 455.7L552.6 457.7L552.6 459.7L552.6 461.7L552.7 463.7L552.7 465.7L552.8 467.7L552.8 469.7L552.9 471.7L552.9 473.7L553.0 475.7L553.0 477.6L553.0 479.6L553.1 481.6L553.1 483.6L553.2 485.5L553.2 487.5L553.3 489.5L553.3 491.4L553.4 493.4L553.4 495.3L553.5 497.3L553.6 499.2L553.6 501.2L553.7 503.2L553.7 505.1L553.8 507.1L553.8 509.0L553.9 511.0L554.0 512.9L554.0 514.9L554.1 516.9L554.2 518.8L554.2 520.8L554.3 522.7L554.3 524.7L554.4 526.6L554.5 528.6L554.5 530.5L554.6 532.5L554.7 534.4L554.7 536.4L554.8 538.3L554.9 540.3L554.9 542.2L555.0 544.2L555.1 546.1L555.2 548.1L555.2 550.0L555.3 552.0L555.4 554.0L555.4 555.9L555.5 557.9L555.6 559.8L555.6 561.8L555.7 563.7L555.8 565.7L555.8 567.6L555.9 569.6L556.0 571.5L556.0 573.5L556.1 575.5L556.2 577.4L556.2 579.4L556.3 581.3L556.4 583.3L556.4 585.3L556.5 587.2L556.6 589.2L556.6 591.1L556.7 593.1L556.8 595.1L556.8 597.0L556.9 599.0L556.9 601.0L557.0 603.0L557.1 604.9L557.1 606.8L557.2 608.7L557.2 610.7L557.3 612.6L557.3 614.5L557.4 616.5L557.5 618.4L557.5 620.3L557.6 622.2L557.6 624.2L557.7 626.1L557.7 628.0L557.8 630.0L557.8 631.9L557.9 633.8L557.9 635.8L558.0 637.7L558.0 639.6L558.1 641.6L558.1 643.5L558.2 645.4L558.2 647.4L558.3 649.3L558.4 651.3L558.4 653.2L558.5 655.1L558.5 657.1L558.6 659.0L558.6 661.0L558.7 662.9L558.7 664.8L558.8 666.8L558.8 668.7L558.9 670.7L558.9 672.6L559.0 674.6L559.0 676.5L559.1 678.5L559.1 680.4L559.2 682.4L559.2 684.3L559.3 686.3L559.3 688.3L559.4 690.2L559.4 692.2L559.5 694.1L559.6 696.1L559.6 698.1L559.7 700.0L559.7 702.0L559.8 704.0L559.8 705.9L559.9 707.9L559.9 709.9L560.0 711.9L560.1 713.8L560.1 715.7L560.2 717.7L560.2 719.6L560.3 721.6L560.3 723.5L560.4 725.5L560.5 727.4L560.5 729.4L560.6 731.4L560.6 733.3L560.7 735.3L560.7 737.2L560.8 739.2L560.9 741.2L560.9 743.1L561.0 745.1L561.0 747.1L561.1 749.0L561.1 751.0L561.2 753.0L561.3 755.0L561.3 756.9L561.4 758.9L561.4 760.9L561.5 762.9L561.5 764.8L561.6 766.8L561.7 768.8L561.7 770.8L561.8 772.8L561.8 774.7L561.9 776.7L562.0 778.7L562.0 780.7L562.1 782.7L562.1 784.7L562.2 786.6L562.3 788.6L562.3 790.6L562.4 792.6L562.5 794.6L562.5 796.6L562.6 798.5L562.7 800.5L562.7 802.5L562.8 804.5L562.8 806.5L562.9 808.4L563.0 810.4L563.0 812.4L563.1 814.4L563.2 816.4L563.3 818.3L563.3 820.3L563.4 822.3L563.5 824.3L563.5 826.2L563.6 828.2L563.7 830.2L563.7 832.2L563.8 834.2L563.9 836.1L564.0 838.1L564.0 840.1L564.1 842.1L564.2 844.1L564.2 846.1L564.3 848.1L564.4 850.1L564.5 852.1L564.5 854.1L564.6 856.1L564.7 858.1L564.8 860.1L564.8 862.1L564.9 864.2L565.0 866.2L565.1 868.2L565.1 870.2L565.2 872.2L565.3 874.2L565.4 876.2L565.4 878.2L565.5 880.2L565.6 882.2L565.7 884.2L565.8 886.2L565.8 888.2L565.9 890.2L566.0 892.2L566.1 894.2L566.2 896.2L566.2 898.2L566.3 900.2L566.4 902.2L566.5 904.2L566.6 906.2L566.7 908.1L566.7 910.1L566.8 912.1L566.9 914.0L567.0 916.0L567.1 917.9L567.2 919.9L567.3 921.8L567.4 923.8L567.5 925.7L567.5 927.6L567.6 929.6L567.7 931.5L567.8 933.4L567.9 935.3L568.0 937.2L568.1 939.1L568.2 941.0L568.3 942.8L568.4 944.7L568.5 946.8L568.6 948.8L568.7 950.9L568.8 952.9L569.0 955.0L569.1 957.0L569.2 959.0L569.3 961.1L569.4 963.1L569.5 965.1L569.6 967.2L569.8 969.2L569.9 971.2L570.0 973.2L570.1 975.2L570.2 977.2L570.4 979.2L570.5 981.2L570.6 983.2L570.7 985.2L570.9 987.1L571.0 989.1L571.1 991.1L571.2 993.1L571.4 995.0L571.5 997.0L571.6 998.9L571.8 1000.9L571.9 1002.8L572.0 1004.7L572.1 1006.7L572.3 1008.6L572.4 1010.5L572.5 1012.4L572.7 1014.3L572.8 1016.2L572.9 1018.1L573.1 1020.0L573.2 1021.8L573.3 1023.7L573.5 1025.6L573.6 1027.4L573.7 1029.3L573.9 1031.1L574.0 1033.0L574.1 1034.8L574.3 1036.6L574.4 1038.4L574.6 1040.5L574.7 1042.6L574.9 1044.7L575.0 1046.8L575.2 1048.9L575.4 1051.0L575.5 1053.0L575.7 1055.1L575.8 1057.1L576.0 1059.1L576.2 1061.1L576.3 1063.1L576.5 1065.1L576.6 1067.1L576.8 1069.1L577.0 1071.0L577.1 1073.0L577.3 1075.0L577.5 1076.9L577.6 1078.9L577.8 1080.8L578.0 1082.7L578.1 1084.7L578.3 1086.6L578.5 1088.6L578.7 1090.5L578.8 1092.4L579.0 1094.4L579.2 1096.3L579.4 1098.2L579.6 1100.2L579.7 1102.1L579.9 1104.1L580.1 1106.0L580.3 1108.0L580.5 1110.0L580.7 1112.0L580.9 1114.0L581.1 1116.0L581.3 1118.1L581.5 1120.1L581.7 1122.1L581.9 1124.2L582.1 1126.2L582.3 1128.3L582.5 1130.3L582.7 1132.3L582.9 1134.4L583.1 1136.4L583.3 1138.5L583.5 1140.5L583.7 1142.5L583.9 1144.5L584.1 1146.5L584.3 1148.5L584.6 1150.5L584.8 1152.4L585.0 1154.4L585.2 1156.3L585.5 1158.2L585.7 1160.1L586.0 1162.0L586.2 1163.9L586.4 1165.7L586.7 1167.6L587.0 1169.4L587.2 1171.1L587.5 1172.9L587.8 1175.1L588.2 1177.2L588.6 1179.4L588.9 1181.5L589.3 1183.6L589.7 1185.6L590.0 1187.6L590.4 1189.7L590.8 1191.6L591.2 1193.6L591.6 1195.6L592.0 1197.5L592.4 1199.4L592.8 1201.3L593.2 1203.2L593.7 1205.1L594.1 1207.0L594.5 1208.8L595.0 1210.7L595.4 1212.5L595.9 1214.4L596.4 1216.5L596.9 1218.7L597.4 1220.8L597.9 1223.0L598.5 1225.2L599.0 1227.3L599.5 1229.4L600.0 1231.5L600.6 1233.6L601.2 1235.6L601.8 1237.5L602.4 1239.4L603.1 1241.2L603.8 1242.9L604.6 1244.6L605.4 1246.1L606.7 1248.2L608.0 1250.1L609.4 1251.9L610.8 1253.6L612.4 1255.1L614.0 1256.6L615.6 1257.9L617.4 1259.0L619.2 1260.1L621.2 1261.0L623.2 1261.8L625.3 1262.4L627.5 1263.0L629.6 1263.4L631.8 1263.8L634.0 1264.0L636.0 1264.1L638.1 1264.2L640.2 1264.2L642.4 1264.0L644.5 1263.8L646.7 1263.5L648.8 1263.1L650.9 1262.6L653.0 1262.0L655.0 1261.3L657.0 1260.6L659.0 1259.7L661.0 1258.7L662.9 1257.7L664.9 1256.6L666.8 1255.4L668.7 1254.3L670.6 1253.1L672.4 1252.0L674.1 1250.9L675.8 1249.9L677.4 1248.8L679.0 1247.7L680.6 1246.5L682.2 1245.4L683.8 1244.1L685.3 1242.8L686.8 1241.5L688.3 1240.0L689.6 1238.6L690.9 1237.1L692.1 1235.6L693.4 1233.9L694.6 1232.3L695.8 1230.6L696.9 1228.8L698.1 1227.0L699.2 1225.2L700.3 1223.4L701.5 1221.6L702.6 1219.8L703.7 1218.0L704.8 1216.4L705.8 1214.7L706.8 1213.1L707.9 1211.5L708.9 1209.8L710.0 1208.2L711.0 1206.5L712.1 1204.8L713.2 1203.1L714.3 1201.3L715.4 1199.5L716.5 1197.7L717.7 1195.9L718.8 1194.0L720.0 1192.0L721.0 1190.5L721.9 1188.9L722.8 1187.3L723.8 1185.6L724.8 1184.0L725.7 1182.3L726.7 1180.5L727.7 1178.8L728.7 1177.0L729.7 1175.2L730.7 1173.4L731.7 1171.6L732.7 1169.8L733.8 1168.0L734.8 1166.1L735.8 1164.3L736.8 1162.4L737.8 1160.6L738.9 1158.8L739.9 1156.9L740.9 1155.1L741.9 1153.3L743.0 1151.5L744.0 1149.8L745.0 1148.0L746.0 1146.3L747.0 1144.5L748.0 1142.8L749.1 1141.0L750.1 1139.2L751.1 1137.5L752.1 1135.7L753.2 1134.0L754.2 1132.2L755.2 1130.4L756.2 1128.7L757.3 1126.9L758.3 1125.2L759.3 1123.4L760.4 1121.7L761.4 1120.0L762.4 1118.3L763.5 1116.6L764.5 1114.9L765.5 1113.2L766.5 1111.5L767.5 1109.9L768.6 1108.2L769.6 1106.6L770.6 1105.0L771.8 1103.1L773.0 1101.3L774.1 1099.5L775.3 1097.8L776.4 1096.0L777.5 1094.3L778.7 1092.6L779.8 1090.9L781.0 1089.2L782.1 1087.6L783.3 1085.9L784.4 1084.2L785.6 1082.5L786.8 1080.8L788.0 1079.1L789.2 1077.3L790.4 1075.6L791.7 1073.8L793.0 1072.0L794.1 1070.5L795.2 1068.9L796.3 1067.3L797.5 1065.7L798.6 1064.1L799.8 1062.4L800.9 1060.8L802.1 1059.1L803.3 1057.5L804.5 1055.8L805.7 1054.1L806.9 1052.4L808.1 1050.8L809.3 1049.1L810.6 1047.4L811.8 1045.8L813.0 1044.1L814.3 1042.5L815.5 1040.8L816.8 1039.2L818.1 1037.6L819.4 1036.1L820.6 1034.5L821.9 1033.0L823.2 1031.5L824.5 1030.0L825.9 1028.5L827.3 1026.9L828.7 1025.4L830.2 1023.8L831.6 1022.3L833.1 1020.8L834.6 1019.3L836.1 1017.8L837.6 1016.3L839.1 1014.8L840.6 1013.4L842.1 1012.0L843.6 1010.6L845.1 1009.2L846.6 1007.8L848.1 1006.5L849.5 1005.2L851.0 1003.9L852.4 1002.7L853.9 1001.4L855.3 1000.3L856.6 999.1L858.0 998.0L859.8 996.6L861.5 995.2L863.3 993.8L865.0 992.5L866.6 991.3L868.3 990.0L870.0 988.9L871.6 987.8L873.3 986.7L874.9 985.7L876.6 984.7L878.3 983.8L880.0 983.0L882.0 982.1L883.9 981.2L885.9 980.4L887.8 979.6L889.8 979.0L891.7 978.4L893.7 977.9L895.8 977.5L897.9 977.2L900.0 977.0L902.0 976.9L904.0 977.0L906.0 977.1L908.1 977.2L910.2 977.5L912.4 977.8L914.5 978.2L916.7 978.7L918.9 979.2L921.0 979.8L923.2 980.5L925.4 981.2L927.5 982.0L929.2 982.7L930.9 983.4L932.7 984.2L934.4 985.0L936.2 985.9L938.0 986.8L939.7 987.8L941.5 988.8L943.3 989.8L945.0 990.9L946.8 992.0L948.5 993.2L950.2 994.4L951.9 995.6L953.6 996.8L955.2 998.1L956.9 999.4L958.4 1000.7L960.0 1002.0L961.4 1003.3L962.9 1004.7L964.2 1006.1L965.6 1007.6L966.9 1009.2L968.2 1010.7L969.5 1012.3L970.7 1014.0L972.0 1015.6L973.2 1017.3L974.5 1019.0L975.7 1020.7L976.9 1022.3L978.1 1024.0L979.4 1025.7L980.6 1027.3L981.8 1028.9L983.1 1030.5L984.4 1032.1L985.7 1033.6L987.0 1035.0L988.4 1036.5L989.9 1038.1L991.4 1039.6L992.8 1041.2L994.3 1042.7L995.7 1044.2L997.2 1045.7L998.7 1047.2L1000.2 1048.7L1001.7 1050.1L1003.2 1051.5L1004.7 1052.9L1006.2 1054.2L1007.7 1055.4L1009.3 1056.7L1010.8 1057.8L1012.4 1059.0L1014.0 1060.0L1015.8 1061.1L1017.7 1062.2L1019.6 1063.2L1021.5 1064.1L1023.4 1065.0L1025.3 1065.9L1027.3 1066.7L1029.2 1067.4L1031.2 1068.1L1033.1 1068.8L1035.1 1069.4L1037.1 1069.9L1039.0 1070.5L1041.0 1071.0L1043.0 1071.5L1045.1 1071.9L1047.2 1072.3L1049.2 1072.7L1051.3 1072.9L1053.4 1073.2L1055.5 1073.4L1057.6 1073.6L1059.7 1073.7L1061.7 1073.8L1063.8 1073.9L1065.9 1074.0L1068.0 1074.0L1070.1 1074.0L1072.2 1074.0L1074.2 1073.9L1076.3 1073.8L1078.4 1073.6L1080.5 1073.4L1082.6 1073.2L1084.6 1073.0L1086.7 1072.7L1088.8 1072.5L1090.9 1072.2L1092.9 1071.9L1095.0 1071.6L1097.1 1071.3L1099.2 1070.9L1101.2 1070.5L1103.3 1070.1L1105.4 1069.7L1107.5 1069.3L1109.6 1068.8L1111.6 1068.3L1113.7 1067.9L1115.8 1067.4L1117.9 1066.9L1119.9 1066.5L1122.0 1066.0L1124.1 1065.6L1126.2 1065.1L1128.2 1064.7L1130.3 1064.3L1132.4 1063.9L1134.5 1063.4L1136.6 1063.0L1138.7 1062.5L1140.7 1062.1L1142.8 1061.6L1144.9 1061.1L1146.9 1060.6L1149.0 1060.0L1150.9 1059.5L1152.8 1058.9L1154.8 1058.3L1156.7 1057.7L1158.6 1057.1L1160.5 1056.4L1162.4 1055.8L1164.3 1055.1L1166.2 1054.4L1168.1 1053.8L1170.0 1053.1L1171.9 1052.4L1173.7 1051.7L1175.6 1051.0L1177.5 1050.3L1179.4 1049.5L1181.3 1048.7L1183.1 1047.8L1184.9 1047.0L1186.8 1046.2L1188.6 1045.3L1190.4 1044.5L1192.3 1043.7L1194.2 1043.0L1196.1 1042.3L1198.0 1041.6L1200.0 1041.0L1202.0 1040.5L1204.0 1040.0L1206.1 1039.5L1208.2 1039.2L1210.3 1038.8L1212.5 1038.5L1214.6 1038.1L1216.8 1037.9L1218.9 1037.6L1221.1 1037.3L1223.2 1037.0L1225.3 1036.7L1227.4 1036.4L1229.5 1036.0L1231.6 1035.6L1233.7 1035.2L1235.8 1034.8L1237.9 1034.3L1240.0 1033.9L1242.0 1033.5L1244.1 1033.1L1246.2 1032.6L1248.2 1032.2L1250.3 1031.9L1252.3 1031.6L1254.4 1031.3L1256.5 1031.0L1258.6 1030.8L1260.6 1030.6L1262.7 1030.4L1264.8 1030.3L1266.9 1030.2L1269.0 1030.1L1271.0 1030.0L1273.1 1030.0L1275.2 1030.0L1277.3 1029.9L1279.3 1029.9L1281.4 1030.0L1283.5 1030.0L1285.6 1030.1L1287.6 1030.1L1289.6 1030.2L1291.6 1030.4L1293.6 1030.5L1295.6 1030.7L1297.6 1030.8L1299.7 1031.0L1301.7 1031.2L1303.8 1031.4L1306.0 1031.6L1308.2 1031.8L1310.4 1032.0L1312.2 1032.2L1314.1 1032.3L1316.0 1032.5L1317.9 1032.7L1319.8 1032.9L1321.8 1033.1L1323.8 1033.3L1325.8 1033.5L1327.8 1033.8L1329.8 1034.0L1331.9 1034.2L1334.0 1034.4L1336.0 1034.6L1338.1 1034.8L1340.2 1035.0L1342.3 1035.3L1344.4 1035.4L1346.6 1035.6L1348.7 1035.8L1350.8 1036.0L1352.7 1036.2L1354.7 1036.3L1356.6 1036.5L1358.5 1036.6L1360.4 1036.7L1362.3 1036.9L1364.3 1037.0L1366.2 1037.1L1368.1 1037.3L1370.1 1037.4L1372.0 1037.5L1374.0 1037.6L1376.0 1037.8L1378.0 1037.9L1380.1 1038.0L1382.1 1038.1L1384.2 1038.2L1386.4 1038.3L1388.5 1038.4L1390.7 1038.6L1393.0 1038.7L1395.3 1038.8L1397.6 1038.9L1400.0 1039.0L1401.7 1039.1L1403.4 1039.1L1405.1 1039.2L1406.8 1039.3L1408.6 1039.4L1410.4 1039.4L1412.2 1039.5L1414.0 1039.6L1415.9 1039.7L1417.8 1039.7L1419.6 1039.8L1421.6 1039.9L1423.5 1039.9L1425.4 1040.0L1427.4 1040.1L1429.4 1040.1L1431.4 1040.2L1433.4 1040.3L1435.4 1040.3L1437.5 1040.4L1439.5 1040.5L1441.6 1040.5L1443.6 1040.6L1445.7 1040.7L1447.8 1040.7L1449.9 1040.8L1452.0 1040.8L1454.1 1040.9L1456.2 1041.0L1458.3 1041.0L1460.4 1041.1L1462.5 1041.1L1464.7 1041.2L1466.8 1041.2L1468.9 1041.3L1471.0 1041.3L1473.1 1041.4L1475.2 1041.5L1477.3 1041.5L1479.4 1041.6L1481.5 1041.6L1483.6 1041.6L1485.7 1041.7L1487.8 1041.7L1489.8 1041.8L1491.9 1041.8L1493.9 1041.9L1496.0 1041.9L1498.0 1042.0L1500.0 1042.0L1502.0 1042.0L1504.0 1042.1L1506.0 1042.1L1508.0 1042.2L1510.0 1042.2L1512.0 1042.2L1514.0 1042.3L1516.0 1042.3L1518.0 1042.3L1520.0 1042.3L1522.0 1042.4L1524.0 1042.4L1526.0 1042.4L1528.0 1042.5L1530.0 1042.5L1532.0 1042.5L1534.0 1042.5L1536.0 1042.5L1538.0 1042.6L1540.0 1042.6L1542.0 1042.6L1544.0 1042.6L1546.0 1042.7L1548.0 1042.7L1550.0 1042.7L1552.0 1042.7L1554.0 1042.7L1556.0 1042.7L1558.0 1042.8L1560.0 1042.8L1562.0 1042.8L1564.0 1042.8L1566.0 1042.8L1568.0 1042.8L1570.0 1042.8L1572.0 1042.8L1574.0 1042.9L1576.0 1042.9L1578.0 1042.9L1580.0 1042.9L1582.0 1042.9L1584.0 1042.9L1586.0 1042.9L1588.0 1042.9L1590.0 1042.9L1592.0 1043.0L1594.0 1043.0L1596.0 1043.0L1598.0 1043.0L1600.0 1043.0L1602.0 1043.0L1604.0 1043.0L1606.0 1043.0L1608.0 1043.0L1609.9 1043.0L1611.9 1043.0L1613.9 1043.1L1615.9 1043.1L1617.8 1043.1L1619.8 1043.1L1621.7 1043.1L1623.7 1043.1L1625.7 1043.1L1627.6 1043.1L1629.6 1043.1L1631.5 1043.1L1633.5 1043.1L1635.4 1043.1L1637.4 1043.1L1639.4 1043.1L1641.3 1043.1L1643.3 1043.1L1645.2 1043.1L1647.2 1043.1L1649.2 1043.1L1651.1 1043.1L1653.1 1043.1L1655.1 1043.1L1657.0 1043.1L1659.0 1043.0L1661.0 1043.0L1663.0 1043.0L1665.0 1043.0L1667.0 1043.0L1669.0 1043.0L1671.0 1043.0L1673.0 1043.0L1675.1 1043.0L1677.1 1043.0L1679.1 1043.0L1681.2 1043.0L1683.2 1043.0L1685.3 1043.0L1687.4 1043.0L1689.5 1043.0L1691.5 1043.0L1693.6 1043.0L1695.8 1043.0L1697.9 1043.0L1700.0 1043.0L1701.9 1043.0L1703.8 1043.0L1705.7 1043.0L1707.6 1043.0L1709.5 1043.0L1711.4 1043.0L1713.4 1043.0L1715.3 1043.0L1717.2 1043.0L1719.2 1043.0L1721.1 1043.0L1723.1 1043.0L1725.1 1043.0L1727.0 1043.0L1729.0 1043.0L1731.0 1043.0L1733.0 1043.0L1735.0 1043.0L1737.0 1043.0L1739.0 1043.0L1741.0 1043.0L1743.0 1043.0L1745.0 1043.0L1747.1 1043.0L1749.1 1043.0L1751.1 1043.0L1753.2 1043.0L1755.2 1043.0L1757.2 1043.0L1759.3 1043.0L1761.3 1043.0L1763.4 1043.0L1765.4 1043.0L1767.5 1043.0L1769.5 1043.0L1771.6 1043.0L1773.6 1043.0L1775.7 1043.0L1777.8 1043.0L1779.8 1043.0L1781.9 1043.0L1783.9 1043.0L1786.0 1043.0L1788.1 1043.0L1790.1 1043.0L1792.2 1043.0L1794.2 1043.0L1796.3 1043.0L1798.4 1043.0L1800.4 1043.0L1802.5 1043.0L1804.5 1043.0L1806.6 1043.0L1808.6 1043.0L1810.7 1043.0L1812.7 1043.0L1814.8 1043.0L1816.8 1043.0L1818.8 1043.0L1820.9 1043.0L1822.9 1043.0L1824.9 1043.0L1827.0 1043.0L1829.0 1043.0L1831.0 1043.0" stroke="#0000CC" stroke-dasharray="0.50 21.00"/>
</g>
<rect x="708" y="111.5" width="556" height="433" fill="#fff" stroke="#c4c4c4" stroke-width="7"/>
<line x1="708" y1="147.6" x2="716.0" y2="147.6" stroke="#aaa" stroke-width="3"/>
<line x1="708" y1="183.7" x2="716.0" y2="183.7" stroke="#aaa" stroke-width="3"/>
<line x1="708" y1="219.8" x2="716.0" y2="219.8" stroke="#aaa" stroke-width="3"/>
<line x1="708" y1="255.8" x2="716.0" y2="255.8" stroke="#aaa" stroke-width="3"/>
<line x1="708" y1="291.9" x2="716.0" y2="291.9" stroke="#aaa" stroke-width="3"/>
<line x1="708" y1="328.0" x2="722.0" y2="328.0" stroke="#aaa" stroke-width="3"/>
<line x1="708" y1="364.1" x2="716.0" y2="364.1" stroke="#aaa" stroke-width="3"/>
<line x1="708" y1="400.2" x2="716.0" y2="400.2" stroke="#aaa" stroke-width="3"/>
<line x1="708" y1="436.2" x2="716.0" y2="436.2" stroke="#aaa" stroke-width="3"/>
<line x1="708" y1="472.3" x2="716.0" y2="472.3" stroke="#aaa" stroke-width="3"/>
<line x1="708" y1="508.4" x2="716.0" y2="508.4" stroke="#aaa" stroke-width="3"/>
<line x1="737.8" y1="544.5" x2="737.8" y2="536.5" stroke="#aaa" stroke-width="3"/>
<line x1="765.6" y1="544.5" x2="765.6" y2="536.5" stroke="#aaa" stroke-width="3"/>
<line x1="793.4" y1="544.5" x2="793.4" y2="536.5" stroke="#aaa" stroke-width="3"/>
<line x1="821.2" y1="544.5" x2="821.2" y2="536.5" stroke="#aaa" stroke-width="3"/>
<line x1="849.0" y1="544.5" x2="849.0" y2="536.5" stroke="#aaa" stroke-width="3"/>
<line x1="876.8" y1="544.5" x2="876.8" y2="536.5" stroke="#aaa" stroke-width="3"/>
<line x1="904.6" y1="544.5" x2="904.6" y2="536.5" stroke="#aaa" stroke-width="3"/>
<line x1="932.4" y1="544.5" x2="932.4" y2="536.5" stroke="#aaa" stroke-width="3"/>
<line x1="960.2" y1="544.5" x2="960.2" y2="536.5" stroke="#aaa" stroke-width="3"/>
<line x1="988.0" y1="544.5" x2="988.0" y2="536.5" stroke="#aaa" stroke-width="3"/>
<line x1="1015.8" y1="544.5" x2="1015.8" y2="536.5" stroke="#aaa" stroke-width="3"/>
<line x1="1043.6" y1="544.5" x2="1043.6" y2="536.5" stroke="#aaa" stroke-width="3"/>
<line x1="1071.4" y1="544.5" x2="1071.4" y2="536.5" stroke="#aaa" stroke-width="3"/>
<line x1="1099.2" y1="544.5" x2="1099.2" y2="536.5" stroke="#aaa" stroke-width="3"/>
<line x1="1127.0" y1="544.5" x2="1127.0" y2="536.5" stroke="#aaa" stroke-width="3"/>
<line x1="1154.8" y1="544.5" x2="1154.8" y2="536.5" stroke="#aaa" stroke-width="3"/>
<line x1="1182.6" y1="544.5" x2="1182.6" y2="536.5" stroke="#aaa" stroke-width="3"/>
<line x1="1210.4" y1="544.5" x2="1210.4" y2="536.5" stroke="#aaa" stroke-width="3"/>
<line x1="1238.2" y1="544.5" x2="1238.2" y2="536.5" stroke="#aaa" stroke-width="3"/>
<g fill="none" stroke-linecap="round" clip-path="url(#ca)">
<path d="M904.6 546.0 Q953.5 390.0 1002.5 390.0 Q1051.2 390.0 1100.0 546.0" stroke="#b0b048" stroke-width="4.5"/>
<path d="M947.0 546.0 Q973.8 493.0 1000.5 493.0 Q1029.8 493.0 1059.0 546.0" stroke="#5252b8" stroke-width="4.5" stroke-dasharray="12 18"/>
<path d="M862.0 546.0 Q930.1 210.0 998.3 210.0 Q1072.7 210.0 1147.0 546.0" stroke="#e084d8" stroke-width="5" stroke-dasharray="1 22.5"/>
<path d="M894.0 546.0 Q944.0 357.0 994.0 357.0 Q1045.5 357.0 1097.0 546.0" stroke="#d45858" stroke-width="4.5" stroke-dasharray="10 6 2 6"/>
<path d="M912.0 546.0 Q954.0 402.0 996.0 402.0 Q1049.0 402.0 1102.0 546.0" stroke="#28a848" stroke-width="4.5" stroke-dasharray="10 5 2 5 2 5"/>
<path d="M936.0 546.0 Q970.5 451.0 1005.0 451.0 Q1044.0 451.0 1083.0 546.0" stroke="#40bcbc" stroke-width="4.5" stroke-dasharray="3 13"/>
<path d="M929.0 546.0 Q969.0 432.5 1009.0 432.5 Q1050.0 432.5 1091.0 546.0" stroke="#b0b0f0" stroke-width="4"/>
</g>
<text x="700.5" y="122.0" font-size="30.0" text-anchor="end" font-weight="normal" font-style="normal" fill="#a0a0a0" textLength="25" lengthAdjust="spacingAndGlyphs">14</text>
<text x="700.5" y="338.0" font-size="30.0" text-anchor="end" font-weight="normal" font-style="normal" fill="#a0a0a0" textLength="25" lengthAdjust="spacingAndGlyphs">13</text>
<text x="700.5" y="554.0" font-size="30.0" text-anchor="end" font-weight="normal" font-style="normal" fill="#a0a0a0" textLength="25" lengthAdjust="spacingAndGlyphs">12</text>
<text x="849.0" y="577.0" font-size="30.0" text-anchor="middle" font-weight="normal" font-style="normal" fill="#a0a0a0" textLength="38" lengthAdjust="spacingAndGlyphs">2.0</text>
<text x="1126.0" y="577.0" font-size="30.0" text-anchor="middle" font-weight="normal" font-style="normal" fill="#a0a0a0" textLength="35" lengthAdjust="spacingAndGlyphs">2.1</text>
<text x="987" y="621" font-size="31" text-anchor="middle" fill="#a0a0a0" textLength="60" lengthAdjust="spacingAndGlyphs"><tspan font-style="italic">r</tspan>(Å)</text>
<text transform="translate(660,345.5) rotate(-90)" font-size="30" text-anchor="middle" fill="#a0a0a0" textLength="49" lengthAdjust="spacingAndGlyphs"><tspan font-style="italic">g</tspan>(<tspan font-style="italic">r</tspan>)</text>
<rect x="1406.0" y="62.5" width="427.0" height="638.5" fill="#fff" stroke="#aaa" stroke-width="6.0"/>
<line x1="1420.0" y1="114.5" x2="1586.0" y2="114.5" stroke="#808000" stroke-width="12.5" stroke-linecap="round"/>
<text x="1603.0" y="140.5" font-size="79.0" text-anchor="start" font-weight="normal" font-style="normal" fill="#111" textLength="222.0" lengthAdjust="spacingAndGlyphs">pristine</text>
<line x1="1420.0" y1="205.3" x2="1586.0" y2="205.3" stroke="#000080" stroke-width="12.5" stroke-linecap="round" stroke-dasharray="48 64"/>
<text x="1601.5" y="231.3" font-size="79.0" text-anchor="start" font-weight="normal" font-style="normal" fill="#111" textLength="117.0" lengthAdjust="spacingAndGlyphs">Zn1</text>
<line x1="1420.0" y1="296.1" x2="1586.0" y2="296.1" stroke="#990099" stroke-width="12.5" stroke-linecap="round" stroke-dasharray="8 58"/>
<text x="1600.5" y="322.1" font-size="79.0" text-anchor="start" font-weight="normal" font-style="normal" fill="#111" textLength="122.0" lengthAdjust="spacingAndGlyphs">Zn2</text>
<line x1="1420.0" y1="386.9" x2="1586.0" y2="386.9" stroke="#990000" stroke-width="12.5" stroke-linecap="round" stroke-dasharray="58 36 8 37"/>
<text x="1600.5" y="412.9" font-size="79.0" text-anchor="start" font-weight="normal" font-style="normal" fill="#111" textLength="120.0" lengthAdjust="spacingAndGlyphs">Zn3</text>
<line x1="1420.0" y1="477.7" x2="1586.0" y2="477.7" stroke="#008000" stroke-width="12.5" stroke-linecap="round" stroke-dasharray="43 36 8 37 8 37"/>
<text x="1603.0" y="503.7" font-size="79.0" text-anchor="start" font-weight="normal" font-style="normal" fill="#111" textLength="205.0" lengthAdjust="spacingAndGlyphs">linker1</text>
<line x1="1420.0" y1="568.5" x2="1586.0" y2="568.5" stroke="#008080" stroke-width="12.5" stroke-linecap="round" stroke-dasharray="18 32"/>
<text x="1603.0" y="594.5" font-size="79.0" text-anchor="start" font-weight="normal" font-style="normal" fill="#111" textLength="211.0" lengthAdjust="spacingAndGlyphs">linker2</text>
<line x1="1420.0" y1="659.3" x2="1586.0" y2="659.3" stroke="#0000CC" stroke-width="12.5" stroke-linecap="round" stroke-dasharray="0.5 21"/>
<text x="1603.0" y="685.3" font-size="79.0" text-anchor="start" font-weight="normal" font-style="normal" fill="#111" textLength="209.0" lengthAdjust="spacingAndGlyphs">linker3</text>
<line x1="1834" y1="59" x2="1834" y2="1291" stroke="#555" stroke-width="6.5"/>
<line x1="1403" y1="62.5" x2="1834" y2="62.5" stroke="#777" stroke-width="5"/>
<text x="177.0" y="88.0" font-size="86.0" text-anchor="end" font-weight="normal" font-style="normal" fill="#111" textLength="83" lengthAdjust="spacingAndGlyphs">14</text>
<text x="175.0" y="701.0" font-size="86.0" text-anchor="end" font-weight="normal" font-style="normal" fill="#111" >7</text>
<text x="178.0" y="1312.0" font-size="86.0" text-anchor="end" font-weight="normal" font-style="normal" fill="#111" >0</text>
<text x="202.0" y="1377.0" font-size="86.0" text-anchor="middle" font-weight="normal" font-style="normal" fill="#111" >0</text>
<text x="1017.5" y="1377.0" font-size="86.0" text-anchor="middle" font-weight="normal" font-style="normal" fill="#111" >5</text>
<text x="1836.0" y="1377.0" font-size="86.0" text-anchor="middle" font-weight="normal" font-style="normal" fill="#111" >10</text>
<text x="1016.7" y="1474" font-size="86" text-anchor="middle" fill="#111" textLength="168" lengthAdjust="spacingAndGlyphs"><tspan font-style="italic">r</tspan> (Å)</text>
<text transform="translate(98,715.5) rotate(-90)" font-size="88" text-anchor="middle" fill="#111" textLength="130" lengthAdjust="spacingAndGlyphs"><tspan font-style="italic">g</tspan>(<tspan font-style="italic">r</tspan>)</text>
</g>
<text x="967.5" y="1582.0" font-size="79.0" text-anchor="middle" font-weight="normal" font-style="normal" fill="#000" textLength="85" lengthAdjust="spacingAndGlyphs">(<tspan font-weight="bold">a</tspan>)</text>
<g filter="url(#blurB)">
<rect x="202.7" y="1656.0" width="1649.3" height="1254.5" fill="none" stroke="#111" stroke-width="5.0"/>
<line x1="285.2" y1="2910.5" x2="285.2" y2="2896.5" stroke="#111" stroke-width="4.5"/>
<line x1="367.6" y1="2910.5" x2="367.6" y2="2896.5" stroke="#111" stroke-width="4.5"/>
<line x1="450.1" y1="2910.5" x2="450.1" y2="2896.5" stroke="#111" stroke-width="4.5"/>
<line x1="532.6" y1="2910.5" x2="532.6" y2="2896.5" stroke="#111" stroke-width="4.5"/>
<line x1="615.0" y1="2910.5" x2="615.0" y2="2896.5" stroke="#111" stroke-width="4.5"/>
<line x1="697.5" y1="2910.5" x2="697.5" y2="2896.5" stroke="#111" stroke-width="4.5"/>
<line x1="780.0" y1="2910.5" x2="780.0" y2="2896.5" stroke="#111" stroke-width="4.5"/>
<line x1="862.4" y1="2910.5" x2="862.4" y2="2896.5" stroke="#111" stroke-width="4.5"/>
<line x1="944.9" y1="2910.5" x2="944.9" y2="2896.5" stroke="#111" stroke-width="4.5"/>
<line x1="1027.3" y1="2910.5" x2="1027.3" y2="2885.5" stroke="#111" stroke-width="4.5"/>
<line x1="1109.8" y1="2910.5" x2="1109.8" y2="2896.5" stroke="#111" stroke-width="4.5"/>
<line x1="1192.3" y1="2910.5" x2="1192.3" y2="2896.5" stroke="#111" stroke-width="4.5"/>
<line x1="1274.7" y1="2910.5" x2="1274.7" y2="2896.5" stroke="#111" stroke-width="4.5"/>
<line x1="1357.2" y1="2910.5" x2="1357.2" y2="2896.5" stroke="#111" stroke-width="4.5"/>
<line x1="1439.7" y1="2910.5" x2="1439.7" y2="2896.5" stroke="#111" stroke-width="4.5"/>
<line x1="1522.1" y1="2910.5" x2="1522.1" y2="2896.5" stroke="#111" stroke-width="4.5"/>
<line x1="1604.6" y1="2910.5" x2="1604.6" y2="2896.5" stroke="#111" stroke-width="4.5"/>
<line x1="1687.1" y1="2910.5" x2="1687.1" y2="2896.5" stroke="#111" stroke-width="4.5"/>
<line x1="1769.5" y1="2910.5" x2="1769.5" y2="2896.5" stroke="#111" stroke-width="4.5"/>
<line x1="202.7" y1="2806.0" x2="216.7" y2="2806.0" stroke="#111" stroke-width="4.5"/>
<line x1="202.7" y1="2701.4" x2="216.7" y2="2701.4" stroke="#111" stroke-width="4.5"/>
<line x1="202.7" y1="2596.9" x2="216.7" y2="2596.9" stroke="#111" stroke-width="4.5"/>
<line x1="202.7" y1="2492.3" x2="216.7" y2="2492.3" stroke="#111" stroke-width="4.5"/>
<line x1="202.7" y1="2387.8" x2="216.7" y2="2387.8" stroke="#111" stroke-width="4.5"/>
<line x1="202.7" y1="2283.2" x2="227.7" y2="2283.2" stroke="#111" stroke-width="4.5"/>
<line x1="202.7" y1="2178.7" x2="216.7" y2="2178.7" stroke="#111" stroke-width="4.5"/>
<line x1="202.7" y1="2074.2" x2="216.7" y2="2074.2" stroke="#111" stroke-width="4.5"/>
<line x1="202.7" y1="1969.6" x2="216.7" y2="1969.6" stroke="#111" stroke-width="4.5"/>
<line x1="202.7" y1="1865.1" x2="216.7" y2="1865.1" stroke="#111" stroke-width="4.5"/>
<line x1="202.7" y1="1760.5" x2="216.7" y2="1760.5" stroke="#111" stroke-width="4.5"/>
<rect x="575" y="2031" width="164" height="265" fill="#c6c6c8" stroke="#ff4b4b" stroke-width="5.5" rx="2.5"/>
<rect x="579.5" y="2035.5" width="155" height="256" fill="none" stroke="#bed4d5" stroke-width="3.5"/>
<g fill="none" stroke-width="12.0" stroke-linecap="round" stroke-linejoin="round" clip-path="url(#pb)">
<path d="M203.0 2907.0L205.0 2907.0L207.0 2907.0L209.1 2907.0L211.1 2907.0L213.2 2907.0L215.3 2907.0L217.4 2907.0L219.5 2907.0L221.7 2907.0L223.8 2907.0L226.0 2907.0L228.1 2907.0L230.3 2907.1L232.5 2907.1L234.7 2907.1L236.9 2907.1L239.2 2907.1L241.4 2907.1L243.7 2907.1L245.9 2907.1L248.2 2907.1L250.5 2907.1L252.8 2907.2L255.1 2907.2L257.4 2907.2L259.8 2907.2L262.1 2907.2L264.5 2907.2L266.8 2907.2L269.2 2907.3L271.6 2907.3L273.9 2907.3L276.3 2907.3L278.7 2907.3L281.1 2907.3L283.5 2907.4L286.0 2907.4L288.4 2907.4L290.8 2907.4L293.3 2907.4L295.7 2907.5L298.2 2907.5L300.6 2907.5L303.1 2907.5L305.5 2907.5L308.0 2907.6L310.5 2907.6L313.0 2907.6L315.5 2907.6L318.0 2907.6L320.4 2907.7L322.9 2907.7L325.4 2907.7L327.9 2907.7L330.4 2907.7L332.9 2907.8L335.5 2907.8L338.0 2907.8L340.5 2907.8L343.0 2907.9L345.5 2907.9L348.0 2907.9L350.5 2907.9L353.0 2907.9L355.6 2908.0L358.1 2908.0L360.6 2908.0L363.1 2908.0L365.6 2908.1L368.1 2908.1L370.6 2908.1L373.2 2908.1L375.7 2908.1L378.2 2908.2L380.7 2908.2L383.2 2908.2L385.7 2908.2L388.2 2908.2L390.6 2908.3L393.1 2908.3L395.6 2908.3L398.1 2908.3L400.6 2908.4L403.0 2908.4L405.5 2908.4L408.0 2908.4L410.4 2908.4L412.9 2908.5L415.3 2908.5L417.8 2908.5L420.2 2908.5L422.6 2908.5L425.0 2908.5L427.4 2908.6L429.8 2908.6L432.2 2908.6L434.6 2908.6L437.0 2908.6L439.4 2908.6L441.7 2908.7L444.1 2908.7L446.4 2908.7L448.8 2908.7L451.1 2908.7L453.4 2908.7L455.7 2908.7L458.0 2908.8L460.3 2908.8L462.6 2908.8L464.8 2908.8L467.1 2908.8L469.3 2908.8L471.6 2908.8L473.8 2908.8L476.0 2908.8L478.2 2908.8L480.4 2908.9L482.5 2908.9L484.7 2908.9L486.8 2908.9L488.9 2908.9L491.1 2908.9L493.2 2908.9L495.2 2908.9L497.3 2908.9L499.4 2908.9L501.4 2908.9L503.4 2908.9L505.4 2908.9L507.4 2908.9L509.4 2908.9L511.4 2908.9L513.3 2908.9L515.2 2908.9L517.1 2908.9L519.0 2908.9L520.9 2908.9L522.8 2908.9L524.6 2908.9L526.4 2908.9L528.2 2908.8L530.0 2908.8L531.8 2908.8L533.5 2908.8L535.2 2908.8L536.9 2908.8L538.6 2908.8L540.3 2908.8L541.9 2908.7L543.5 2908.7L545.1 2908.7L546.7 2908.7L548.3 2908.7L549.8 2908.6L551.3 2908.6L552.8 2908.6L554.3 2908.6L555.7 2908.6L557.1 2908.5L558.5 2908.5L559.9 2908.5L561.3 2908.5L562.6 2908.4L563.9 2908.4L565.2 2908.4L566.4 2908.3L567.7 2908.3L568.9 2908.3L570.0 2908.2L571.2 2908.2L572.3 2908.1L573.4 2908.1L574.5 2908.1L575.5 2908.0L576.6 2908.0L577.6 2907.9L578.5 2907.9L579.5 2907.8L580.4 2907.8L581.2 2907.8L582.1 2907.7L582.9 2907.6L583.7 2907.6L584.5 2907.5L585.2 2907.5L585.9 2907.4L586.6 2907.4L587.2 2907.3L587.9 2907.3L588.4 2907.2L589.0 2907.1L589.5 2907.1L590.0 2907.0L593.3 2906.6L595.3 2906.2L597.0 2905.0L598.1 2903.7L598.9 2901.9L599.7 2899.9L600.3 2897.6L600.9 2895.2L601.4 2892.6L602.0 2890.0L602.4 2888.3L602.7 2886.5L603.1 2884.7L603.4 2882.8L603.7 2880.8L604.0 2878.8L604.3 2876.7L604.6 2874.6L604.9 2872.4L605.1 2870.3L605.4 2868.1L605.7 2865.8L605.9 2863.6L606.2 2861.4L606.4 2859.2L606.7 2857.0L606.9 2855.1L607.1 2853.2L607.4 2851.3L607.6 2849.3L607.8 2847.3L608.0 2845.3L608.2 2843.3L608.4 2841.3L608.5 2839.3L608.7 2837.2L608.9 2835.2L609.1 2833.2L609.3 2831.1L609.5 2829.1L609.7 2827.0L609.8 2825.0L610.0 2823.0L610.2 2821.0L610.4 2819.0L610.6 2817.0L610.8 2815.0L611.0 2812.9L611.2 2810.9L611.4 2808.9L611.7 2806.8L611.9 2804.9L612.1 2802.9L612.3 2800.9L612.5 2798.9L612.7 2796.9L612.9 2795.0L613.2 2793.0L613.4 2790.9L613.6 2788.9L613.8 2786.9L614.0 2784.8L614.2 2782.6L614.4 2780.5L614.6 2778.3L614.8 2776.0L615.0 2774.2L615.1 2772.3L615.3 2770.5L615.4 2768.6L615.5 2766.6L615.7 2764.7L615.8 2762.7L616.0 2760.7L616.1 2758.7L616.2 2756.7L616.4 2754.6L616.5 2752.6L616.7 2750.5L616.8 2748.4L616.9 2746.4L617.1 2744.3L617.2 2742.2L617.3 2740.1L617.4 2737.9L617.6 2735.8L617.7 2733.7L617.8 2731.6L618.0 2729.5L618.1 2727.4L618.2 2725.3L618.4 2723.2L618.5 2721.2L618.6 2719.1L618.8 2717.0L618.9 2715.0L619.0 2713.0L619.2 2711.0L619.3 2708.9L619.4 2706.9L619.6 2704.9L619.7 2702.9L619.8 2700.9L620.0 2698.9L620.1 2697.0L620.3 2695.0L620.4 2693.0L620.5 2691.0L620.7 2689.0L620.8 2687.0L620.9 2685.0L621.1 2683.0L621.2 2681.0L621.3 2679.0L621.5 2677.0L621.6 2674.9L621.7 2672.9L621.9 2670.9L622.0 2668.8L622.1 2666.7L622.3 2664.6L622.4 2662.5L622.5 2660.4L622.6 2658.3L622.8 2656.2L622.9 2654.0L623.0 2652.1L623.1 2650.2L623.2 2648.3L623.3 2646.4L623.4 2644.5L623.5 2642.6L623.6 2640.7L623.8 2638.7L623.9 2636.7L624.0 2634.8L624.1 2632.8L624.2 2630.8L624.3 2628.8L624.4 2626.8L624.5 2624.8L624.6 2622.8L624.7 2620.8L624.8 2618.8L624.9 2616.7L625.0 2614.7L625.1 2612.7L625.2 2610.6L625.3 2608.6L625.4 2606.6L625.5 2604.5L625.6 2602.5L625.7 2600.4L625.8 2598.4L625.9 2596.3L626.0 2594.3L626.1 2592.2L626.2 2590.2L626.3 2588.2L626.4 2586.1L626.5 2584.1L626.6 2582.1L626.7 2580.0L626.8 2578.0L626.9 2576.0L627.0 2574.0L627.1 2572.0L627.2 2570.0L627.3 2567.9L627.4 2565.9L627.5 2563.9L627.6 2561.9L627.7 2559.9L627.8 2557.8L627.9 2555.8L628.0 2553.8L628.1 2551.8L628.2 2549.7L628.3 2547.7L628.4 2545.7L628.5 2543.7L628.6 2541.6L628.7 2539.6L628.8 2537.6L628.9 2535.6L629.0 2533.5L629.1 2531.5L629.2 2529.5L629.3 2527.5L629.4 2525.4L629.5 2523.4L629.6 2521.4L629.7 2519.3L629.8 2517.3L629.9 2515.3L630.0 2513.3L630.1 2511.2L630.2 2509.2L630.3 2507.2L630.4 2505.2L630.5 2503.1L630.6 2501.1L630.7 2499.1L630.8 2497.1L630.9 2495.0L631.0 2493.0L631.1 2491.0L631.2 2488.9L631.3 2486.9L631.4 2484.9L631.5 2482.9L631.6 2480.8L631.7 2478.8L631.8 2476.8L631.9 2474.8L632.0 2472.8L632.1 2470.7L632.2 2468.7L632.3 2466.7L632.4 2464.7L632.5 2462.6L632.6 2460.6L632.7 2458.6L632.8 2456.6L632.9 2454.5L633.0 2452.5L633.1 2450.5L633.2 2448.4L633.3 2446.4L633.4 2444.4L633.5 2442.4L633.6 2440.3L633.7 2438.3L633.8 2436.3L633.9 2434.3L634.0 2432.2L634.1 2430.2L634.2 2428.2L634.3 2426.2L634.4 2424.2L634.5 2422.1L634.6 2420.1L634.7 2418.1L634.8 2416.1L634.9 2414.0L635.0 2412.0L635.1 2410.0L635.2 2407.9L635.3 2405.9L635.4 2403.9L635.5 2401.8L635.6 2399.8L635.7 2397.8L635.8 2395.7L635.9 2393.7L636.0 2391.6L636.1 2389.6L636.2 2387.5L636.3 2385.5L636.4 2383.4L636.5 2381.4L636.6 2379.3L636.7 2377.3L636.8 2375.3L636.9 2373.2L637.1 2371.2L637.2 2369.1L637.3 2367.1L637.4 2365.1L637.5 2363.0L637.6 2361.0L637.7 2359.0L637.8 2356.9L637.9 2354.9L638.0 2352.9L638.1 2350.9L638.2 2348.9L638.3 2346.9L638.3 2344.9L638.4 2342.9L638.5 2340.9L638.6 2338.9L638.7 2336.9L638.8 2334.9L638.9 2333.0L639.0 2331.0L639.1 2328.9L639.2 2326.8L639.3 2324.8L639.4 2322.7L639.5 2320.6L639.6 2318.6L639.6 2316.6L639.7 2314.5L639.8 2312.5L639.9 2310.5L640.0 2308.5L640.1 2306.5L640.2 2304.5L640.2 2302.5L640.3 2300.5L640.4 2298.5L640.5 2296.5L640.6 2294.5L640.6 2292.5L640.7 2290.5L640.8 2288.5L640.9 2286.5L641.0 2284.5L641.1 2282.5L641.1 2280.5L641.2 2278.4L641.3 2276.4L641.4 2274.4L641.5 2272.4L641.6 2270.3L641.6 2268.3L641.7 2266.2L641.8 2264.2L641.9 2262.1L642.0 2260.0L642.1 2258.1L642.2 2256.1L642.3 2254.1L642.3 2252.2L642.4 2250.2L642.5 2248.2L642.6 2246.2L642.7 2244.2L642.8 2242.2L642.8 2240.2L642.9 2238.2L643.0 2236.2L643.1 2234.2L643.2 2232.1L643.3 2230.1L643.4 2228.1L643.5 2226.1L643.5 2224.0L643.6 2222.0L643.7 2220.0L643.8 2217.9L643.9 2215.9L644.0 2213.9L644.1 2211.8L644.2 2209.8L644.2 2207.8L644.3 2205.8L644.4 2203.8L644.5 2201.7L644.6 2199.7L644.7 2197.7L644.8 2195.7L644.9 2193.7L645.0 2191.8L645.0 2189.8L645.1 2187.8L645.2 2185.8L645.3 2183.9L645.4 2181.9L645.5 2180.0L645.6 2177.9L645.7 2175.8L645.8 2173.7L645.9 2171.6L646.0 2169.5L646.1 2167.4L646.2 2165.2L646.3 2163.1L646.4 2160.9L646.4 2158.8L646.5 2156.7L646.6 2154.5L646.7 2152.4L646.8 2150.3L646.9 2148.1L647.0 2146.0L647.1 2143.9L647.2 2141.8L647.3 2139.8L647.4 2137.7L647.5 2135.7L647.6 2133.6L647.7 2131.6L647.8 2129.7L647.9 2127.7L648.0 2125.8L648.1 2123.9L648.2 2122.0L648.3 2120.2L648.4 2118.4L648.5 2116.7L648.7 2114.9L648.8 2113.2L648.9 2111.6L649.0 2110.0L649.2 2107.6L649.4 2105.3L649.5 2103.0L649.7 2100.7L649.9 2098.5L650.0 2096.4L650.2 2094.3L650.4 2092.3L650.6 2090.3L650.8 2088.4L651.0 2086.6L651.2 2084.8L651.5 2083.2L651.7 2081.5L652.0 2080.0L652.5 2077.1L653.1 2074.2L653.7 2071.6L654.3 2069.7L655.0 2069.0L656.0 2070.1L657.0 2072.8L658.0 2076.0L658.4 2077.4L658.8 2079.0L659.1 2080.7L659.5 2082.4L659.8 2084.3L660.2 2086.3L660.5 2088.3L660.8 2090.5L661.1 2092.8L661.4 2095.1L661.7 2097.5L662.0 2100.0L662.2 2101.5L662.3 2103.1L662.5 2104.7L662.7 2106.3L662.8 2108.1L663.0 2109.8L663.2 2111.6L663.3 2113.5L663.5 2115.4L663.6 2117.3L663.8 2119.3L663.9 2121.3L664.1 2123.3L664.2 2125.3L664.4 2127.4L664.5 2129.5L664.6 2131.6L664.8 2133.8L664.9 2135.9L665.0 2138.1L665.2 2140.2L665.3 2142.4L665.4 2144.6L665.6 2146.8L665.7 2148.9L665.8 2151.1L666.0 2153.3L666.1 2155.4L666.2 2157.5L666.4 2159.7L666.5 2161.8L666.6 2163.9L666.7 2165.9L666.9 2168.0L667.0 2170.0L667.1 2172.0L667.3 2174.0L667.4 2176.0L667.5 2178.0L667.6 2180.0L667.7 2182.1L667.9 2184.1L668.0 2186.1L668.1 2188.1L668.2 2190.2L668.3 2192.2L668.5 2194.2L668.6 2196.2L668.7 2198.3L668.8 2200.3L668.9 2202.3L669.0 2204.3L669.1 2206.3L669.2 2208.4L669.4 2210.4L669.5 2212.4L669.6 2214.4L669.7 2216.4L669.8 2218.4L669.9 2220.4L670.0 2222.4L670.1 2224.4L670.2 2226.3L670.3 2228.3L670.4 2230.3L670.6 2232.2L670.7 2234.2L670.8 2236.1L670.9 2238.1L671.0 2240.0L671.1 2242.1L671.2 2244.1L671.4 2246.2L671.5 2248.3L671.6 2250.3L671.7 2252.4L671.8 2254.4L672.0 2256.5L672.1 2258.5L672.2 2260.5L672.3 2262.5L672.5 2264.6L672.6 2266.6L672.7 2268.6L672.8 2270.6L672.9 2272.6L673.1 2274.6L673.2 2276.6L673.3 2278.6L673.4 2280.5L673.5 2282.5L673.6 2284.5L673.7 2286.4L673.9 2288.4L674.0 2290.3L674.1 2292.3L674.2 2294.2L674.3 2296.2L674.4 2298.1L674.5 2300.0L674.6 2302.1L674.7 2304.2L674.8 2306.2L674.9 2308.3L675.0 2310.3L675.1 2312.3L675.2 2314.2L675.3 2316.2L675.4 2318.2L675.5 2320.1L675.6 2322.1L675.7 2324.0L675.8 2326.0L675.9 2328.0L676.0 2330.0L676.1 2331.9L676.2 2334.0L676.3 2336.0L676.4 2338.0L676.5 2340.1L676.6 2342.2L676.7 2344.4L676.8 2346.5L676.9 2348.7L677.0 2351.0L677.1 2352.8L677.2 2354.6L677.3 2356.5L677.4 2358.4L677.5 2360.3L677.6 2362.3L677.6 2364.2L677.7 2366.2L677.8 2368.2L677.9 2370.3L678.0 2372.3L678.1 2374.4L678.2 2376.4L678.3 2378.5L678.5 2380.6L678.6 2382.7L678.7 2384.8L678.8 2386.9L678.9 2389.1L679.0 2391.2L679.1 2393.3L679.2 2395.4L679.3 2397.6L679.4 2399.7L679.5 2401.8L679.6 2403.9L679.7 2406.0L679.8 2408.1L679.9 2410.2L680.0 2412.3L680.1 2414.3L680.2 2416.4L680.3 2418.4L680.4 2420.4L680.5 2422.4L680.6 2424.4L680.7 2426.3L680.8 2428.2L680.9 2430.1L681.0 2432.0L681.1 2434.2L681.2 2436.3L681.3 2438.5L681.4 2440.6L681.5 2442.7L681.6 2444.8L681.7 2446.9L681.8 2449.0L681.9 2451.1L682.0 2453.2L682.1 2455.3L682.2 2457.3L682.3 2459.3L682.3 2461.4L682.4 2463.4L682.5 2465.4L682.6 2467.4L682.7 2469.3L682.8 2471.3L682.9 2473.2L683.0 2475.2L683.1 2477.1L683.2 2479.0L683.4 2480.8L683.5 2482.7L683.6 2484.6L683.7 2486.4L683.9 2488.2L684.0 2490.0L684.2 2492.2L684.4 2494.4L684.6 2496.5L684.8 2498.6L685.0 2500.7L685.2 2502.8L685.4 2504.8L685.6 2506.8L685.8 2508.8L686.0 2510.8L686.2 2512.7L686.5 2514.7L686.7 2516.6L686.9 2518.5L687.1 2520.4L687.4 2522.3L687.6 2524.2L687.8 2526.1L688.0 2528.0L688.2 2530.1L688.5 2532.2L688.7 2534.3L688.9 2536.4L689.1 2538.4L689.3 2540.5L689.6 2542.5L689.8 2544.5L690.0 2546.5L690.2 2548.5L690.5 2550.4L690.7 2552.4L691.0 2554.3L691.2 2556.1L691.5 2558.0L691.8 2560.1L692.2 2562.3L692.5 2564.4L692.9 2566.4L693.2 2568.5L693.6 2570.5L694.0 2572.5L694.4 2574.4L694.7 2576.3L695.1 2578.2L695.5 2580.0L696.0 2582.3L696.5 2584.5L696.9 2586.7L697.4 2588.8L697.9 2590.9L698.4 2592.9L699.0 2595.0L699.6 2597.0L700.2 2599.1L700.8 2601.2L701.4 2603.3L702.1 2605.5L702.8 2607.7L703.5 2609.9L704.2 2612.0L705.0 2614.2L705.7 2616.4L706.5 2618.7L707.4 2620.9L708.2 2623.1L709.1 2625.2L710.0 2627.3L710.9 2629.4L711.7 2631.6L712.6 2633.8L713.5 2635.9L714.4 2638.0L715.5 2639.8L716.7 2641.4L718.0 2642.7L719.9 2643.8L722.0 2644.0L724.2 2643.8L726.5 2643.4L728.8 2642.8L731.0 2642.0L733.0 2640.9L734.9 2639.2L736.8 2637.3L738.7 2635.4L740.6 2633.6L742.3 2632.4L744.0 2632.3L745.7 2632.9L747.2 2634.1L748.7 2635.8L750.3 2637.6L752.0 2639.4L753.4 2640.8L754.9 2642.3L756.5 2644.0L758.1 2645.7L759.8 2647.4L761.5 2649.3L763.2 2651.1L764.8 2653.0L766.4 2654.9L768.0 2656.7L769.4 2658.5L770.9 2660.7L772.3 2663.2L773.7 2665.7L775.0 2668.3L776.4 2670.8L777.8 2673.4L779.1 2676.0L780.4 2678.5L781.7 2681.1L783.0 2683.7L784.3 2686.3L785.5 2688.9L786.8 2691.5L788.0 2694.2L789.2 2695.6L790.4 2697.0L791.5 2698.4L792.7 2699.8L793.8 2701.2L794.9 2702.6L796.0 2704.0L797.1 2705.5L798.1 2706.9L799.1 2708.3L800.1 2709.8L801.1 2711.2L802.0 2712.6L803.0 2714.1L804.0 2715.5L805.0 2716.9L806.0 2718.3L807.0 2719.8L808.0 2721.3L809.0 2722.8L810.0 2724.3L811.0 2725.8L812.1 2727.2L813.2 2728.6L814.4 2729.9L815.6 2731.2L817.0 2732.4L818.4 2733.4L820.0 2734.5L821.6 2735.6L823.3 2736.6L825.0 2737.6L826.8 2738.5L828.6 2739.2L830.5 2739.8L832.3 2740.2L834.2 2740.3L836.0 2740.3L838.0 2739.9L840.1 2739.3L842.2 2739.0L844.4 2738.6L846.5 2737.9L848.7 2737.2L850.8 2736.3L852.9 2735.4L855.0 2734.5L856.9 2733.6L858.7 2732.7L860.5 2731.6L862.3 2730.5L864.1 2729.3L865.8 2728.1L867.6 2726.7L869.4 2725.3L871.3 2723.9L873.1 2722.4L875.0 2720.8L876.4 2719.7L877.7 2718.4L879.1 2717.1L880.4 2715.7L881.8 2714.3L883.2 2712.8L884.6 2711.3L885.9 2709.8L887.3 2708.2L888.8 2706.7L890.2 2705.1L891.6 2703.5L893.1 2701.9L894.6 2700.4L896.1 2698.9L897.6 2697.4L899.2 2695.9L900.7 2694.5L902.4 2693.2L904.0 2692.0L905.6 2690.9L907.3 2689.7L909.1 2688.6L910.9 2687.5L912.7 2686.5L914.6 2685.4L916.5 2684.4L918.4 2683.4L920.3 2682.4L922.3 2681.4L924.2 2680.4L926.2 2679.5L928.1 2678.6L930.0 2677.7L931.9 2676.8L933.8 2675.9L935.6 2675.0L937.4 2674.2L939.1 2673.4L940.8 2672.6L942.4 2671.8L944.0 2671.0L946.1 2669.9L948.0 2668.9L949.9 2667.9L951.7 2667.0L953.4 2666.0L955.1 2665.1L956.8 2664.3L958.6 2663.4L960.5 2662.6L962.4 2661.8L964.5 2661.0L966.2 2660.4L968.0 2659.8L969.9 2659.2L971.8 2658.6L973.8 2658.1L975.8 2657.5L977.8 2657.0L979.9 2656.5L982.0 2656.0L984.0 2655.5L986.1 2655.0L988.2 2654.5L990.3 2654.1L992.3 2653.6L994.3 2653.2L996.3 2652.8L998.2 2652.4L1000.0 2652.0L1002.2 2651.6L1004.3 2651.2L1006.4 2650.9L1008.4 2650.6L1010.4 2650.3L1012.4 2650.0L1014.4 2649.7L1016.4 2649.5L1018.4 2649.2L1020.5 2649.0L1022.7 2648.8L1025.0 2648.5L1026.8 2648.3L1028.7 2648.1L1030.6 2648.0L1032.6 2647.9L1034.6 2647.7L1036.6 2647.6L1038.7 2647.5L1040.8 2647.4L1042.9 2647.3L1045.0 2647.1L1047.1 2647.0L1049.2 2646.9L1051.4 2646.8L1053.5 2646.6L1055.6 2646.4L1057.6 2646.3L1059.7 2646.1L1061.7 2645.8L1063.7 2645.6L1065.6 2645.3L1067.7 2645.0L1069.8 2644.6L1071.9 2644.1L1073.9 2643.7L1075.9 2643.2L1077.8 2642.6L1079.8 2642.1L1081.8 2641.6L1083.7 2641.1L1085.7 2640.5L1087.7 2640.0L1089.7 2639.5L1091.7 2639.1L1093.8 2638.7L1095.9 2638.3L1098.0 2638.0L1099.9 2637.7L1101.8 2637.5L1103.7 2637.3L1105.6 2637.1L1107.6 2637.0L1109.6 2636.8L1111.6 2636.7L1113.6 2636.6L1115.6 2636.5L1117.6 2636.4L1119.7 2636.3L1121.7 2636.2L1123.8 2636.2L1125.8 2636.1L1127.9 2636.1L1129.9 2636.0L1131.9 2636.0L1134.0 2635.9L1136.0 2635.9L1138.0 2635.9L1140.0 2635.8L1142.1 2635.7L1144.1 2635.7L1146.2 2635.6L1148.2 2635.5L1150.3 2635.5L1152.4 2635.4L1154.4 2635.3L1156.5 2635.2L1158.6 2635.2L1160.6 2635.1L1162.7 2635.1L1164.7 2635.1L1166.8 2635.1L1168.8 2635.1L1170.8 2635.1L1172.9 2635.2L1174.9 2635.2L1177.0 2635.3L1179.0 2635.5L1181.0 2635.6L1183.1 2635.8L1185.2 2636.0L1187.2 2636.3L1189.3 2636.5L1191.3 2636.8L1193.4 2637.1L1195.4 2637.5L1197.5 2637.8L1199.5 2638.2L1201.5 2638.5L1203.6 2638.9L1205.6 2639.2L1207.7 2639.6L1209.7 2640.0L1211.7 2640.4L1213.8 2640.8L1215.9 2641.2L1217.9 2641.6L1220.0 2642.0L1222.0 2642.4L1223.9 2642.8L1225.8 2643.3L1227.8 2643.7L1229.7 2644.2L1231.7 2644.7L1233.6 2645.2L1235.5 2645.8L1237.5 2646.3L1239.4 2646.8L1241.4 2647.4L1243.4 2647.9L1245.3 2648.4L1247.3 2648.9L1249.3 2649.4L1251.3 2649.9L1253.4 2650.4L1255.4 2650.8L1257.5 2651.2L1259.6 2651.6L1261.7 2652.0L1263.6 2652.3L1265.4 2652.6L1267.3 2652.9L1269.1 2653.1L1271.0 2653.4L1272.8 2653.7L1274.7 2653.9L1276.5 2654.1L1278.4 2654.4L1280.3 2654.6L1282.2 2654.8L1284.1 2655.0L1286.0 2655.2L1288.0 2655.3L1290.0 2655.5L1291.9 2655.7L1293.9 2655.8L1296.0 2656.0L1298.0 2656.1L1300.1 2656.2L1302.2 2656.4L1304.4 2656.5L1306.5 2656.6L1308.8 2656.7L1311.0 2656.8L1313.3 2656.9L1315.6 2657.0L1317.3 2657.1L1319.0 2657.1L1320.8 2657.2L1322.6 2657.2L1324.4 2657.2L1326.2 2657.3L1328.1 2657.3L1330.0 2657.3L1331.9 2657.3L1333.9 2657.3L1335.8 2657.3L1337.8 2657.3L1339.8 2657.3L1341.8 2657.3L1343.9 2657.3L1345.9 2657.3L1348.0 2657.2L1350.1 2657.2L1352.2 2657.2L1354.3 2657.1L1356.4 2657.1L1358.5 2657.1L1360.7 2657.0L1362.8 2657.0L1365.0 2656.9L1367.1 2656.9L1369.3 2656.8L1371.5 2656.8L1373.6 2656.7L1375.8 2656.6L1378.0 2656.6L1380.1 2656.5L1382.3 2656.4L1384.5 2656.4L1386.6 2656.3L1388.8 2656.2L1390.9 2656.1L1393.0 2656.1L1395.2 2656.0L1397.3 2655.9L1399.4 2655.9L1401.5 2655.8L1403.6 2655.7L1405.7 2655.6L1407.7 2655.6L1409.8 2655.5L1411.8 2655.4L1413.8 2655.3L1415.8 2655.3L1417.7 2655.2L1419.7 2655.1L1421.6 2655.1L1423.5 2655.0L1425.7 2654.9L1427.8 2654.8L1429.9 2654.8L1432.0 2654.7L1434.1 2654.6L1436.2 2654.5L1438.3 2654.4L1440.4 2654.3L1442.4 2654.2L1444.4 2654.1L1446.5 2654.0L1448.5 2653.9L1450.5 2653.7L1452.5 2653.6L1454.5 2653.5L1456.5 2653.4L1458.5 2653.3L1460.5 2653.2L1462.5 2653.1L1464.5 2652.9L1466.4 2652.8L1468.4 2652.7L1470.4 2652.6L1472.3 2652.5L1474.3 2652.4L1476.3 2652.3L1478.2 2652.2L1480.2 2652.0L1482.2 2651.9L1484.1 2651.8L1486.1 2651.7L1488.1 2651.6L1490.0 2651.5L1492.0 2651.5L1494.0 2651.4L1496.0 2651.3L1498.0 2651.2L1500.0 2651.1L1502.0 2651.1L1504.0 2651.0L1506.0 2650.9L1508.0 2650.9L1510.0 2650.8L1512.0 2650.8L1514.0 2650.7L1516.0 2650.7L1518.0 2650.6L1520.0 2650.6L1522.0 2650.6L1524.0 2650.5L1525.9 2650.5L1527.9 2650.4L1529.9 2650.4L1531.9 2650.4L1533.8 2650.4L1535.8 2650.3L1537.8 2650.3L1539.8 2650.3L1541.8 2650.3L1543.8 2650.3L1545.7 2650.2L1547.7 2650.2L1549.7 2650.2L1551.7 2650.2L1553.8 2650.2L1555.8 2650.2L1557.8 2650.1L1559.8 2650.1L1561.9 2650.1L1563.9 2650.1L1566.0 2650.1L1568.1 2650.1L1570.1 2650.1L1572.2 2650.1L1574.3 2650.1L1576.4 2650.0L1578.6 2650.0L1580.7 2650.0L1582.8 2650.0L1585.0 2650.0L1586.9 2650.0L1588.7 2650.0L1590.6 2650.0L1592.5 2650.0L1594.4 2649.9L1596.3 2649.9L1598.2 2649.9L1600.2 2649.9L1602.1 2649.9L1604.0 2649.9L1606.0 2649.9L1608.0 2649.8L1609.9 2649.8L1611.9 2649.8L1613.9 2649.8L1615.9 2649.8L1617.9 2649.8L1619.9 2649.8L1621.9 2649.7L1623.9 2649.7L1625.9 2649.7L1627.9 2649.7L1629.9 2649.7L1631.9 2649.7L1634.0 2649.7L1636.0 2649.7L1638.0 2649.7L1640.1 2649.7L1642.1 2649.7L1644.2 2649.7L1646.2 2649.7L1648.2 2649.7L1650.3 2649.7L1652.3 2649.7L1654.4 2649.7L1656.4 2649.7L1658.5 2649.7L1660.5 2649.7L1662.6 2649.7L1664.6 2649.7L1666.7 2649.7L1668.7 2649.7L1670.7 2649.7L1672.8 2649.7L1674.8 2649.8L1676.9 2649.8L1678.9 2649.8L1680.9 2649.8L1682.9 2649.8L1685.0 2649.9L1687.0 2649.9L1689.0 2649.9L1691.0 2650.0L1693.0 2650.0L1695.0 2650.0L1697.0 2650.1L1699.1 2650.1L1701.1 2650.2L1703.2 2650.2L1705.3 2650.3L1707.3 2650.4L1709.4 2650.4L1711.5 2650.5L1713.6 2650.6L1715.8 2650.7L1717.9 2650.7L1720.0 2650.8L1722.1 2650.9L1724.3 2651.0L1726.4 2651.1L1728.5 2651.2L1730.7 2651.3L1732.8 2651.4L1735.0 2651.5L1737.1 2651.6L1739.2 2651.7L1741.4 2651.8L1743.5 2651.9L1745.6 2652.0L1747.7 2652.1L1749.8 2652.2L1751.9 2652.3L1754.0 2652.4L1756.1 2652.5L1758.2 2652.6L1760.2 2652.7L1762.3 2652.7L1764.3 2652.8L1766.4 2652.9L1768.4 2653.0L1770.4 2653.1L1772.3 2653.2L1774.3 2653.3L1776.2 2653.3L1778.2 2653.4L1780.1 2653.5L1781.9 2653.6L1783.8 2653.6L1785.6 2653.7L1787.4 2653.7L1789.2 2653.8L1791.0 2653.8L1792.7 2653.9L1794.4 2653.9L1796.1 2653.9L1797.8 2654.0L1799.4 2654.0L1801.0 2654.0L1803.4 2654.0L1805.7 2654.0L1808.0 2654.0L1810.1 2654.0L1812.3 2654.0L1814.4 2653.9L1816.4 2653.9L1818.4 2653.9L1820.4 2653.8L1822.3 2653.8L1824.3 2653.7L1826.2 2653.6L1828.0 2653.6L1829.9 2653.5L1831.8 2653.5L1833.6 2653.4L1835.5 2653.3L1837.4 2653.3L1839.2 2653.2L1841.1 2653.2L1843.1 2653.1L1845.0 2653.0L1847.0 2653.0" stroke="#808000"/>
<path d="M203.0 2907.0L205.0 2907.0L207.0 2907.0L209.1 2907.0L211.1 2907.0L213.2 2907.0L215.3 2907.0L217.4 2907.0L219.5 2907.0L221.7 2907.0L223.8 2907.0L226.0 2907.0L228.1 2907.0L230.3 2907.1L232.5 2907.1L234.7 2907.1L236.9 2907.1L239.2 2907.1L241.4 2907.1L243.7 2907.1L245.9 2907.1L248.2 2907.1L250.5 2907.1L252.8 2907.2L255.1 2907.2L257.4 2907.2L259.8 2907.2L262.1 2907.2L264.5 2907.2L266.8 2907.2L269.2 2907.3L271.6 2907.3L273.9 2907.3L276.3 2907.3L278.7 2907.3L281.1 2907.3L283.5 2907.4L286.0 2907.4L288.4 2907.4L290.8 2907.4L293.3 2907.4L295.7 2907.5L298.2 2907.5L300.6 2907.5L303.1 2907.5L305.5 2907.5L308.0 2907.6L310.5 2907.6L313.0 2907.6L315.5 2907.6L318.0 2907.6L320.4 2907.7L322.9 2907.7L325.4 2907.7L327.9 2907.7L330.4 2907.7L332.9 2907.8L335.5 2907.8L338.0 2907.8L340.5 2907.8L343.0 2907.9L345.5 2907.9L348.0 2907.9L350.5 2907.9L353.0 2907.9L355.6 2908.0L358.1 2908.0L360.6 2908.0L363.1 2908.0L365.6 2908.1L368.1 2908.1L370.6 2908.1L373.2 2908.1L375.7 2908.1L378.2 2908.2L380.7 2908.2L383.2 2908.2L385.7 2908.2L388.2 2908.2L390.6 2908.3L393.1 2908.3L395.6 2908.3L398.1 2908.3L400.6 2908.4L403.0 2908.4L405.5 2908.4L408.0 2908.4L410.4 2908.4L412.9 2908.5L415.3 2908.5L417.8 2908.5L420.2 2908.5L422.6 2908.5L425.0 2908.5L427.4 2908.6L429.8 2908.6L432.2 2908.6L434.6 2908.6L437.0 2908.6L439.4 2908.6L441.7 2908.7L444.1 2908.7L446.4 2908.7L448.8 2908.7L451.1 2908.7L453.4 2908.7L455.7 2908.7L458.0 2908.8L460.3 2908.8L462.6 2908.8L464.8 2908.8L467.1 2908.8L469.3 2908.8L471.6 2908.8L473.8 2908.8L476.0 2908.8L478.2 2908.8L480.4 2908.9L482.5 2908.9L484.7 2908.9L486.8 2908.9L488.9 2908.9L491.1 2908.9L493.2 2908.9L495.2 2908.9L497.3 2908.9L499.4 2908.9L501.4 2908.9L503.4 2908.9L505.4 2908.9L507.4 2908.9L509.4 2908.9L511.4 2908.9L513.3 2908.9L515.2 2908.9L517.1 2908.9L519.0 2908.9L520.9 2908.9L522.8 2908.9L524.6 2908.9L526.4 2908.9L528.2 2908.8L530.0 2908.8L531.8 2908.8L533.5 2908.8L535.2 2908.8L536.9 2908.8L538.6 2908.8L540.3 2908.8L541.9 2908.7L543.5 2908.7L545.1 2908.7L546.7 2908.7L548.3 2908.7L549.8 2908.6L551.3 2908.6L552.8 2908.6L554.3 2908.6L555.7 2908.5L557.1 2908.5L558.5 2908.5L559.9 2908.5L561.3 2908.4L562.6 2908.4L563.9 2908.4L565.2 2908.3L566.4 2908.3L567.7 2908.3L568.9 2908.2L570.1 2908.2L571.2 2908.2L572.4 2908.1L573.5 2908.1L574.5 2908.0L575.6 2908.0L576.6 2908.0L577.6 2907.9L578.6 2907.9L579.6 2907.8L580.5 2907.8L581.4 2907.7L582.3 2907.7L583.1 2907.6L583.9 2907.6L584.7 2907.5L585.5 2907.5L586.2 2907.4L586.9 2907.4L587.6 2907.3L588.2 2907.2L588.9 2907.2L589.4 2907.1L590.0 2907.1L590.5 2907.0L593.9 2906.6L596.0 2906.2L597.8 2905.1L598.9 2903.9L599.8 2902.3L600.5 2900.4L601.2 2898.3L601.8 2896.0L602.3 2893.6L602.9 2891.2L603.3 2889.7L603.7 2888.0L604.0 2886.3L604.3 2884.6L604.7 2882.8L605.0 2880.9L605.3 2879.0L605.6 2877.1L605.8 2875.1L606.1 2873.1L606.4 2871.1L606.6 2869.1L606.9 2867.1L607.1 2865.1L607.4 2863.0L607.7 2861.1L607.9 2859.3L608.1 2857.6L608.3 2855.9L608.5 2854.1L608.7 2852.3L608.9 2850.5L609.1 2848.7L609.3 2846.9L609.5 2845.0L609.7 2843.2L609.9 2841.4L610.1 2839.5L610.3 2837.7L610.5 2835.9L610.6 2834.0L610.8 2832.2L611.0 2830.4L611.2 2828.6L611.4 2826.8L611.6 2825.0L611.8 2823.3L612.0 2821.4L612.2 2819.6L612.4 2817.8L612.6 2816.1L612.9 2814.3L613.1 2812.6L613.3 2810.8L613.5 2809.1L613.7 2807.3L613.9 2805.6L614.1 2803.8L614.4 2802.1L614.6 2800.3L614.8 2798.5L615.0 2796.6L615.2 2794.8L615.4 2792.9L615.6 2790.9L615.8 2789.0L615.9 2787.4L616.1 2785.7L616.2 2784.1L616.4 2782.4L616.5 2780.7L616.7 2779.0L616.8 2777.3L617.0 2775.6L617.1 2773.8L617.2 2772.0L617.4 2770.2L617.5 2768.4L617.6 2766.6L617.8 2764.8L617.9 2763.0L618.0 2761.2L618.2 2759.3L618.3 2757.5L618.4 2755.7L618.6 2753.8L618.7 2752.0L618.8 2750.1L619.0 2748.3L619.1 2746.5L619.2 2744.7L619.4 2742.9L619.5 2741.1L619.6 2739.3L619.8 2737.5L619.9 2735.7L620.0 2734.0L620.2 2732.2L620.3 2730.5L620.4 2728.8L620.6 2727.0L620.7 2725.3L620.8 2723.6L621.0 2721.9L621.1 2720.2L621.3 2718.5L621.4 2716.8L621.5 2715.1L621.7 2713.4L621.8 2711.7L621.9 2709.9L622.1 2708.2L622.2 2706.5L622.3 2704.8L622.5 2703.1L622.6 2701.3L622.7 2699.6L622.9 2697.8L623.0 2696.1L623.1 2694.3L623.3 2692.5L623.4 2690.7L623.5 2688.9L623.6 2687.1L623.8 2685.3L623.9 2683.5L624.0 2681.9L624.1 2680.3L624.2 2678.6L624.3 2677.0L624.4 2675.4L624.5 2673.7L624.6 2672.1L624.8 2670.4L624.9 2668.7L625.0 2667.1L625.1 2665.4L625.2 2663.7L625.3 2662.0L625.4 2660.3L625.5 2658.6L625.6 2656.9L625.7 2655.2L625.8 2653.4L625.9 2651.7L626.0 2650.0L626.1 2648.3L626.2 2646.5L626.3 2644.8L626.4 2643.1L626.5 2641.3L626.6 2639.6L626.7 2637.9L626.8 2636.1L626.9 2634.4L627.0 2632.7L627.1 2630.9L627.2 2629.2L627.3 2627.5L627.4 2625.8L627.5 2624.0L627.6 2622.3L627.7 2620.6L627.8 2618.9L627.9 2617.2L628.0 2615.5L628.1 2613.8L628.2 2612.1L628.3 2610.4L628.4 2608.7L628.5 2607.0L628.6 2605.3L628.7 2603.6L628.8 2601.9L628.9 2600.2L629.0 2598.5L629.1 2596.8L629.2 2595.1L629.3 2593.4L629.4 2591.7L629.5 2590.0L629.6 2588.3L629.7 2586.6L629.8 2584.9L629.9 2583.2L630.0 2581.5L630.1 2579.8L630.2 2578.1L630.3 2576.4L630.4 2574.7L630.5 2573.0L630.6 2571.3L630.7 2569.6L630.8 2568.0L630.9 2566.3L631.0 2564.6L631.1 2562.9L631.2 2561.2L631.3 2559.5L631.4 2557.8L631.5 2556.1L631.6 2554.4L631.7 2552.7L631.8 2551.1L631.9 2549.4L632.0 2547.7L632.1 2546.0L632.2 2544.3L632.3 2542.6L632.4 2540.9L632.5 2539.3L632.6 2537.6L632.7 2535.9L632.8 2534.2L632.9 2532.5L633.0 2530.9L633.1 2529.2L633.2 2527.5L633.3 2525.8L633.4 2524.1L633.5 2522.5L633.6 2520.8L633.7 2519.1L633.8 2517.4L633.9 2515.8L634.0 2514.1L634.1 2512.4L634.2 2510.7L634.3 2509.1L634.4 2507.4L634.5 2505.7L634.6 2504.0L634.7 2502.4L634.8 2500.7L634.9 2499.0L635.0 2497.4L635.1 2495.7L635.2 2494.0L635.3 2492.3L635.4 2490.7L635.5 2489.0L635.6 2487.3L635.7 2485.7L635.8 2484.0L635.9 2482.3L636.0 2480.7L636.1 2479.0L636.2 2477.3L636.3 2475.6L636.4 2474.0L636.5 2472.3L636.6 2470.6L636.7 2468.9L636.8 2467.3L636.9 2465.6L637.0 2463.9L637.1 2462.2L637.2 2460.5L637.3 2458.9L637.4 2457.2L637.5 2455.5L637.6 2453.8L637.7 2452.1L637.8 2450.5L637.9 2448.8L638.1 2447.1L638.2 2445.4L638.3 2443.8L638.4 2442.1L638.5 2440.4L638.6 2438.8L638.7 2437.1L638.8 2435.4L638.9 2433.8L639.0 2432.1L639.1 2430.5L639.2 2428.8L639.3 2427.2L639.3 2425.5L639.4 2423.9L639.5 2422.3L639.6 2420.6L639.7 2419.0L639.8 2417.4L639.9 2415.8L640.0 2414.2L640.1 2412.4L640.2 2410.7L640.3 2409.0L640.4 2407.3L640.5 2405.6L640.6 2404.0L640.6 2402.3L640.7 2400.6L640.8 2398.9L640.9 2397.3L641.0 2395.6L641.1 2394.0L641.2 2392.3L641.2 2390.7L641.3 2389.0L641.4 2387.4L641.5 2385.7L641.6 2384.1L641.6 2382.4L641.7 2380.8L641.8 2379.1L641.9 2377.5L642.0 2375.8L642.1 2374.2L642.1 2372.5L642.2 2370.9L642.3 2369.2L642.4 2367.5L642.5 2365.9L642.6 2364.2L642.6 2362.5L642.7 2360.8L642.8 2359.1L642.9 2357.4L643.0 2355.7L643.1 2354.1L643.2 2352.5L643.3 2350.9L643.3 2349.2L643.4 2347.6L643.5 2346.0L643.6 2344.3L643.7 2342.7L643.8 2341.1L643.8 2339.4L643.9 2337.8L644.0 2336.1L644.1 2334.4L644.2 2332.8L644.3 2331.1L644.4 2329.4L644.5 2327.8L644.5 2326.1L644.6 2324.4L644.7 2322.8L644.8 2321.1L644.9 2319.4L645.0 2317.7L645.1 2316.1L645.2 2314.4L645.2 2312.7L645.3 2311.1L645.4 2309.4L645.5 2307.8L645.6 2306.1L645.7 2304.5L645.8 2302.8L645.9 2301.2L646.0 2299.6L646.0 2297.9L646.1 2296.3L646.2 2294.7L646.3 2293.1L646.4 2291.5L646.5 2289.9L646.6 2288.2L646.7 2286.5L646.8 2284.7L646.9 2283.0L647.0 2281.3L647.1 2279.5L647.2 2277.7L647.3 2276.0L647.4 2274.2L647.4 2272.4L647.5 2270.7L647.6 2268.9L647.7 2267.1L647.8 2265.4L647.9 2263.6L648.0 2261.9L648.1 2260.2L648.2 2258.4L648.3 2256.7L648.4 2255.0L648.5 2253.4L648.6 2251.7L648.7 2250.1L648.8 2248.4L648.9 2246.8L649.0 2245.3L649.1 2243.7L649.2 2242.2L649.3 2240.7L649.4 2239.2L649.5 2237.8L649.7 2236.3L649.8 2235.0L649.9 2233.6L650.0 2232.3L650.2 2230.3L650.4 2228.4L650.5 2226.5L650.7 2224.7L650.9 2222.9L651.0 2221.2L651.2 2219.5L651.4 2217.8L651.6 2216.2L651.8 2214.7L652.0 2213.2L652.2 2211.8L652.5 2210.4L652.7 2209.1L653.0 2207.9L653.5 2205.5L654.1 2203.1L654.7 2201.0L655.3 2199.5L656.0 2198.9L657.0 2199.8L658.0 2201.9L659.0 2204.5L659.4 2205.6L659.8 2206.8L660.1 2208.1L660.5 2209.5L660.8 2211.0L661.2 2212.6L661.5 2214.2L661.8 2215.9L662.1 2217.7L662.4 2219.5L662.7 2221.4L663.0 2223.4L663.2 2224.6L663.3 2225.8L663.5 2227.1L663.7 2228.4L663.8 2229.8L664.0 2231.2L664.2 2232.7L664.3 2234.1L664.5 2235.7L664.6 2237.2L664.8 2238.8L664.9 2240.4L665.1 2242.0L665.2 2243.7L665.4 2245.4L665.5 2247.0L665.6 2248.8L665.8 2250.5L665.9 2252.2L666.0 2254.0L666.2 2255.7L666.3 2257.5L666.4 2259.2L666.6 2261.0L666.7 2262.7L666.8 2264.5L667.0 2266.2L667.1 2268.0L667.2 2269.7L667.4 2271.4L667.5 2273.1L667.6 2274.8L667.7 2276.5L667.9 2278.1L668.0 2279.8L668.1 2281.4L668.3 2283.0L668.4 2284.6L668.5 2286.2L668.6 2287.8L668.7 2289.5L668.9 2291.1L669.0 2292.7L669.1 2294.4L669.2 2296.0L669.3 2297.6L669.5 2299.3L669.6 2300.9L669.7 2302.5L669.8 2304.2L669.9 2305.8L670.0 2307.5L670.1 2309.1L670.2 2310.7L670.4 2312.3L670.5 2314.0L670.6 2315.6L670.7 2317.2L670.8 2318.8L670.9 2320.4L671.0 2322.1L671.1 2323.7L671.2 2325.3L671.3 2326.9L671.4 2328.4L671.6 2330.0L671.7 2331.6L671.8 2333.2L671.9 2334.7L672.0 2336.3L672.1 2338.0L672.2 2339.6L672.4 2341.3L672.5 2343.0L672.6 2344.6L672.7 2346.3L672.8 2347.9L673.0 2349.5L673.1 2351.2L673.2 2352.8L673.3 2354.4L673.5 2356.1L673.6 2357.7L673.7 2359.3L673.8 2360.9L673.9 2362.5L674.1 2364.1L674.2 2365.7L674.3 2367.3L674.4 2368.9L674.5 2370.5L674.6 2372.1L674.7 2373.7L674.9 2375.3L675.0 2376.8L675.1 2378.4L675.2 2380.0L675.3 2381.5L675.4 2383.1L675.5 2384.7L675.6 2386.4L675.7 2388.1L675.8 2389.7L675.9 2391.4L676.0 2393.0L676.1 2394.6L676.2 2396.2L676.3 2397.9L676.4 2399.5L676.5 2401.1L676.6 2402.7L676.7 2404.3L676.8 2405.9L676.9 2407.5L677.0 2409.1L677.1 2410.7L677.2 2412.4L677.3 2414.0L677.4 2415.7L677.5 2417.4L677.6 2419.1L677.7 2420.9L677.8 2422.7L677.9 2424.5L678.0 2426.3L678.1 2427.8L678.2 2429.3L678.3 2430.9L678.4 2432.4L678.5 2434.0L678.6 2435.6L678.6 2437.2L678.7 2438.8L678.8 2440.5L678.9 2442.1L679.0 2443.8L679.1 2445.5L679.2 2447.2L679.3 2448.9L679.5 2450.6L679.6 2452.4L679.7 2454.1L679.8 2455.8L679.9 2457.6L680.0 2459.3L680.1 2461.1L680.2 2462.8L680.3 2464.6L680.4 2466.3L680.5 2468.1L680.6 2469.8L680.7 2471.6L680.8 2473.3L680.9 2475.0L681.0 2476.7L681.1 2478.4L681.2 2480.1L681.3 2481.8L681.4 2483.4L681.5 2485.1L681.6 2486.7L681.7 2488.3L681.8 2489.9L681.9 2491.5L682.0 2493.0L682.1 2494.8L682.2 2496.6L682.3 2498.4L682.4 2500.2L682.5 2501.9L682.6 2503.7L682.7 2505.4L682.8 2507.2L682.9 2508.9L683.0 2510.7L683.1 2512.4L683.2 2514.1L683.3 2515.8L683.3 2517.5L683.4 2519.2L683.5 2520.8L683.6 2522.5L683.7 2524.1L683.8 2525.8L683.9 2527.4L684.0 2529.0L684.1 2530.6L684.2 2532.1L684.4 2533.7L684.5 2535.2L684.6 2536.7L684.7 2538.2L684.9 2539.7L685.0 2541.2L685.2 2543.0L685.4 2544.7L685.6 2546.4L685.8 2548.1L686.0 2549.8L686.2 2551.4L686.4 2553.0L686.6 2554.6L686.8 2556.2L687.0 2557.8L687.2 2559.3L687.5 2560.9L687.7 2562.4L687.9 2563.9L688.1 2565.4L688.4 2566.9L688.6 2568.4L688.8 2569.9L689.0 2571.4L689.2 2573.1L689.5 2574.8L689.7 2576.5L689.9 2578.1L690.1 2579.8L690.3 2581.4L690.6 2583.1L690.8 2584.7L691.0 2586.3L691.2 2587.8L691.5 2589.4L691.7 2590.9L692.0 2592.4L692.2 2593.9L692.5 2595.4L692.8 2597.0L693.2 2598.7L693.5 2600.3L693.9 2601.9L694.2 2603.4L694.6 2605.0L695.0 2606.5L695.4 2607.9L695.7 2609.4L696.1 2610.8L696.5 2612.1L697.0 2613.9L697.4 2615.5L697.9 2617.1L698.4 2618.7L698.9 2620.2L699.4 2621.7L700.0 2623.2L700.6 2624.7L701.1 2626.1L701.8 2627.5L702.4 2628.9L703.1 2630.3L703.7 2631.6L704.5 2633.0L705.2 2634.4L705.9 2635.8L706.7 2637.1L707.5 2638.5L708.3 2639.9L709.1 2641.3L710.0 2642.6L710.9 2643.9L711.7 2645.2L712.6 2646.6L713.4 2648.0L714.3 2649.4L715.2 2650.7L716.2 2651.7L717.3 2652.5L718.6 2652.8L720.4 2652.7L722.4 2651.9L724.5 2650.8L726.8 2649.4L729.0 2647.9L731.1 2646.3L733.0 2644.6L735.0 2642.3L736.9 2639.9L738.8 2637.4L740.6 2635.2L742.3 2633.5L744.0 2632.6L745.7 2632.5L747.2 2633.0L748.7 2634.0L750.3 2635.2L752.0 2636.4L753.4 2637.2L754.9 2638.2L756.5 2639.2L758.1 2640.4L759.8 2641.6L761.5 2642.8L763.2 2644.2L764.8 2645.5L766.4 2646.9L768.0 2648.3L769.4 2649.6L770.9 2651.1L772.3 2652.8L773.7 2654.5L775.0 2656.2L776.4 2657.9L777.8 2659.7L779.1 2661.4L780.4 2663.2L781.7 2665.0L783.0 2666.8L784.3 2668.7L785.5 2670.6L786.8 2672.5L788.0 2674.4L789.2 2676.3L790.4 2678.2L791.5 2680.2L792.7 2682.1L793.8 2684.0L794.9 2685.9L796.0 2687.7L797.1 2689.6L798.1 2691.5L799.1 2693.4L800.1 2695.2L801.1 2697.1L802.0 2699.0L803.0 2700.8L804.0 2702.7L805.0 2704.5L806.0 2706.4L807.0 2708.3L808.0 2710.2L809.0 2712.2L810.0 2714.1L811.0 2716.0L812.1 2718.0L813.2 2719.8L814.4 2721.7L815.6 2723.4L817.0 2725.0L818.4 2726.6L820.0 2728.1L821.6 2729.7L823.3 2731.3L825.0 2732.8L826.8 2734.2L828.6 2735.6L830.5 2736.7L832.3 2737.7L834.2 2738.5L836.0 2739.0L838.0 2739.3L840.1 2739.3L842.2 2739.3L844.4 2739.0L846.5 2738.6L848.7 2738.0L850.8 2737.4L852.9 2736.7L855.0 2736.0L856.9 2735.3L858.7 2734.5L860.5 2733.7L862.3 2732.7L864.1 2731.7L865.8 2730.6L867.6 2729.5L869.4 2728.3L871.3 2727.0L873.1 2725.7L875.0 2724.3L876.4 2723.3L877.7 2722.2L879.1 2721.0L880.4 2719.8L881.8 2718.5L883.2 2717.2L884.6 2715.8L885.9 2714.4L887.3 2713.0L888.8 2711.5L890.2 2710.1L891.6 2708.7L893.1 2707.3L894.6 2705.9L896.1 2704.5L897.6 2703.1L899.2 2701.8L900.7 2700.5L902.4 2699.2L904.0 2698.0L905.6 2696.9L907.3 2695.7L909.1 2694.6L910.9 2693.5L912.7 2692.5L914.6 2691.4L916.5 2690.4L918.4 2689.4L920.3 2688.4L922.3 2687.4L924.2 2686.4L926.2 2685.5L928.1 2684.6L930.0 2683.7L931.9 2682.8L933.8 2681.9L935.6 2681.0L937.4 2680.2L939.1 2679.4L940.8 2678.6L942.4 2677.8L944.0 2677.0L946.1 2675.9L948.0 2674.9L949.9 2673.9L951.7 2673.0L953.4 2672.0L955.1 2671.1L956.8 2670.3L958.6 2669.4L960.5 2668.6L962.4 2667.8L964.5 2667.0L966.2 2666.4L968.0 2665.8L969.9 2665.2L971.8 2664.6L973.8 2664.1L975.8 2663.5L977.8 2663.0L979.9 2662.5L982.0 2662.0L984.0 2661.5L986.1 2661.0L988.2 2660.5L990.3 2660.1L992.3 2659.6L994.3 2659.2L996.3 2658.8L998.2 2658.4L1000.0 2658.0L1002.2 2657.6L1004.3 2657.1L1006.4 2656.8L1008.4 2656.4L1010.4 2656.1L1012.4 2655.8L1014.4 2655.5L1016.4 2655.2L1018.4 2654.9L1020.5 2654.6L1022.7 2654.3L1025.0 2654.0L1026.8 2653.8L1028.7 2653.6L1030.6 2653.4L1032.6 2653.2L1034.6 2653.0L1036.6 2652.9L1038.7 2652.7L1040.8 2652.6L1042.9 2652.4L1045.0 2652.2L1047.1 2652.1L1049.2 2651.9L1051.4 2651.7L1053.5 2651.5L1055.6 2651.3L1057.6 2651.1L1059.7 2650.9L1061.7 2650.6L1063.7 2650.3L1065.6 2650.0L1067.7 2649.6L1069.8 2649.2L1071.9 2648.7L1073.9 2648.2L1075.9 2647.6L1077.8 2647.1L1079.8 2646.5L1081.8 2645.9L1083.7 2645.4L1085.7 2644.8L1087.7 2644.3L1089.7 2643.7L1091.7 2643.2L1093.8 2642.8L1095.9 2642.4L1098.0 2642.0L1099.9 2641.7L1101.8 2641.5L1103.7 2641.2L1105.6 2641.0L1107.6 2640.8L1109.6 2640.6L1111.6 2640.5L1113.6 2640.3L1115.6 2640.2L1117.6 2640.0L1119.7 2639.9L1121.7 2639.8L1123.8 2639.7L1125.8 2639.6L1127.9 2639.5L1129.9 2639.4L1131.9 2639.4L1134.0 2639.3L1136.0 2639.2L1138.0 2639.1L1140.0 2639.0L1142.1 2638.9L1144.1 2638.8L1146.2 2638.7L1148.2 2638.6L1150.3 2638.4L1152.4 2638.3L1154.4 2638.2L1156.5 2638.1L1158.6 2638.0L1160.6 2637.9L1162.7 2637.9L1164.7 2637.8L1166.8 2637.7L1168.8 2637.7L1170.8 2637.7L1172.9 2637.7L1174.9 2637.7L1177.0 2637.8L1179.0 2637.9L1181.0 2638.0L1183.1 2638.1L1185.2 2638.3L1187.2 2638.5L1189.3 2638.7L1191.3 2639.0L1193.4 2639.3L1195.4 2639.6L1197.5 2639.9L1199.5 2640.2L1201.5 2640.5L1203.6 2640.9L1205.6 2641.2L1207.7 2641.6L1209.7 2642.0L1211.7 2642.4L1213.8 2642.8L1215.9 2643.2L1217.9 2643.6L1220.0 2644.0L1222.0 2644.4L1223.9 2644.8L1225.8 2645.3L1227.8 2645.7L1229.7 2646.2L1231.7 2646.7L1233.6 2647.2L1235.5 2647.8L1237.5 2648.3L1239.4 2648.8L1241.4 2649.4L1243.4 2649.9L1245.3 2650.4L1247.3 2650.9L1249.3 2651.4L1251.3 2651.9L1253.4 2652.4L1255.4 2652.8L1257.5 2653.2L1259.6 2653.6L1261.7 2654.0L1263.6 2654.3L1265.4 2654.6L1267.3 2654.9L1269.1 2655.1L1271.0 2655.4L1272.8 2655.7L1274.7 2655.9L1276.5 2656.1L1278.4 2656.4L1280.3 2656.6L1282.2 2656.8L1284.1 2657.0L1286.0 2657.2L1288.0 2657.3L1290.0 2657.5L1291.9 2657.7L1293.9 2657.8L1296.0 2658.0L1298.0 2658.1L1300.1 2658.2L1302.2 2658.4L1304.4 2658.5L1306.5 2658.6L1308.8 2658.7L1311.0 2658.8L1313.3 2658.9L1315.6 2659.0L1317.3 2659.1L1319.0 2659.1L1320.8 2659.2L1322.6 2659.2L1324.4 2659.2L1326.2 2659.3L1328.1 2659.3L1330.0 2659.3L1331.9 2659.3L1333.9 2659.3L1335.8 2659.3L1337.8 2659.3L1339.8 2659.3L1341.8 2659.3L1343.9 2659.3L1345.9 2659.3L1348.0 2659.2L1350.1 2659.2L1352.2 2659.2L1354.3 2659.1L1356.4 2659.1L1358.5 2659.1L1360.7 2659.0L1362.8 2659.0L1365.0 2658.9L1367.1 2658.9L1369.3 2658.8L1371.5 2658.8L1373.6 2658.7L1375.8 2658.6L1378.0 2658.6L1380.1 2658.5L1382.3 2658.4L1384.5 2658.4L1386.6 2658.3L1388.8 2658.2L1390.9 2658.1L1393.0 2658.1L1395.2 2658.0L1397.3 2657.9L1399.4 2657.9L1401.5 2657.8L1403.6 2657.7L1405.7 2657.6L1407.7 2657.6L1409.8 2657.5L1411.8 2657.4L1413.8 2657.3L1415.8 2657.3L1417.7 2657.2L1419.7 2657.1L1421.6 2657.1L1423.5 2657.0L1425.7 2656.9L1427.8 2656.8L1429.9 2656.8L1432.0 2656.7L1434.1 2656.6L1436.2 2656.5L1438.3 2656.4L1440.4 2656.3L1442.4 2656.2L1444.4 2656.1L1446.5 2656.0L1448.5 2655.9L1450.5 2655.7L1452.5 2655.6L1454.5 2655.5L1456.5 2655.4L1458.5 2655.3L1460.5 2655.2L1462.5 2655.1L1464.5 2654.9L1466.4 2654.8L1468.4 2654.7L1470.4 2654.6L1472.3 2654.5L1474.3 2654.4L1476.3 2654.3L1478.2 2654.2L1480.2 2654.0L1482.2 2653.9L1484.1 2653.8L1486.1 2653.7L1488.1 2653.6L1490.0 2653.5L1492.0 2653.5L1494.0 2653.4L1496.0 2653.3L1498.0 2653.2L1500.0 2653.1L1502.0 2653.1L1504.0 2653.0L1506.0 2652.9L1508.0 2652.9L1510.0 2652.8L1512.0 2652.8L1514.0 2652.7L1516.0 2652.7L1518.0 2652.6L1520.0 2652.6L1522.0 2652.6L1524.0 2652.5L1525.9 2652.5L1527.9 2652.4L1529.9 2652.4L1531.9 2652.4L1533.8 2652.4L1535.8 2652.3L1537.8 2652.3L1539.8 2652.3L1541.8 2652.3L1543.8 2652.3L1545.7 2652.2L1547.7 2652.2L1549.7 2652.2L1551.7 2652.2L1553.8 2652.2L1555.8 2652.2L1557.8 2652.1L1559.8 2652.1L1561.9 2652.1L1563.9 2652.1L1566.0 2652.1L1568.1 2652.1L1570.1 2652.1L1572.2 2652.1L1574.3 2652.1L1576.4 2652.0L1578.6 2652.0L1580.7 2652.0L1582.8 2652.0L1585.0 2652.0L1586.9 2652.0L1588.7 2652.0L1590.6 2652.0L1592.5 2652.0L1594.4 2651.9L1596.3 2651.9L1598.2 2651.9L1600.2 2651.9L1602.1 2651.9L1604.0 2651.9L1606.0 2651.9L1608.0 2651.8L1609.9 2651.8L1611.9 2651.8L1613.9 2651.8L1615.9 2651.8L1617.9 2651.8L1619.9 2651.8L1621.9 2651.7L1623.9 2651.7L1625.9 2651.7L1627.9 2651.7L1629.9 2651.7L1631.9 2651.7L1634.0 2651.7L1636.0 2651.7L1638.0 2651.7L1640.1 2651.7L1642.1 2651.7L1644.2 2651.7L1646.2 2651.7L1648.2 2651.7L1650.3 2651.7L1652.3 2651.7L1654.4 2651.7L1656.4 2651.7L1658.5 2651.7L1660.5 2651.7L1662.6 2651.7L1664.6 2651.7L1666.7 2651.7L1668.7 2651.7L1670.7 2651.7L1672.8 2651.7L1674.8 2651.8L1676.9 2651.8L1678.9 2651.8L1680.9 2651.8L1682.9 2651.8L1685.0 2651.9L1687.0 2651.9L1689.0 2651.9L1691.0 2652.0L1693.0 2652.0L1695.0 2652.0L1697.0 2652.1L1699.1 2652.1L1701.1 2652.2L1703.2 2652.2L1705.3 2652.3L1707.3 2652.4L1709.4 2652.4L1711.5 2652.5L1713.6 2652.6L1715.8 2652.7L1717.9 2652.7L1720.0 2652.8L1722.1 2652.9L1724.3 2653.0L1726.4 2653.1L1728.5 2653.2L1730.7 2653.3L1732.8 2653.4L1735.0 2653.5L1737.1 2653.6L1739.2 2653.7L1741.4 2653.8L1743.5 2653.9L1745.6 2654.0L1747.7 2654.1L1749.8 2654.2L1751.9 2654.3L1754.0 2654.4L1756.1 2654.5L1758.2 2654.6L1760.2 2654.7L1762.3 2654.7L1764.3 2654.8L1766.4 2654.9L1768.4 2655.0L1770.4 2655.1L1772.3 2655.2L1774.3 2655.3L1776.2 2655.3L1778.2 2655.4L1780.1 2655.5L1781.9 2655.6L1783.8 2655.6L1785.6 2655.7L1787.4 2655.7L1789.2 2655.8L1791.0 2655.8L1792.7 2655.9L1794.4 2655.9L1796.1 2655.9L1797.8 2656.0L1799.4 2656.0L1801.0 2656.0L1803.4 2656.0L1805.7 2656.0L1808.0 2656.0L1810.1 2656.0L1812.3 2656.0L1814.4 2655.9L1816.4 2655.9L1818.4 2655.9L1820.4 2655.8L1822.3 2655.8L1824.3 2655.7L1826.2 2655.6L1828.0 2655.6L1829.9 2655.5L1831.8 2655.5L1833.6 2655.4L1835.5 2655.3L1837.4 2655.3L1839.2 2655.2L1841.1 2655.2L1843.1 2655.1L1845.0 2655.0L1847.0 2655.0" stroke="#000080" stroke-dasharray="48.00 64.00"/>
<path d="M203.0 2907.0L205.0 2907.0L207.0 2907.0L209.1 2907.0L211.1 2907.0L213.2 2907.0L215.3 2907.0L217.4 2907.0L219.5 2907.0L221.7 2907.0L223.8 2907.0L226.0 2907.0L228.1 2907.0L230.3 2907.1L232.5 2907.1L234.7 2907.1L236.9 2907.1L239.2 2907.1L241.4 2907.1L243.7 2907.1L245.9 2907.1L248.2 2907.1L250.5 2907.1L252.8 2907.2L255.1 2907.2L257.4 2907.2L259.8 2907.2L262.1 2907.2L264.5 2907.2L266.8 2907.2L269.2 2907.3L271.6 2907.3L273.9 2907.3L276.3 2907.3L278.7 2907.3L281.1 2907.3L283.5 2907.4L286.0 2907.4L288.4 2907.4L290.8 2907.4L293.3 2907.4L295.7 2907.5L298.2 2907.5L300.6 2907.5L303.1 2907.5L305.5 2907.5L308.0 2907.6L310.5 2907.6L313.0 2907.6L315.5 2907.6L318.0 2907.6L320.4 2907.7L322.9 2907.7L325.4 2907.7L327.9 2907.7L330.4 2907.7L332.9 2907.8L335.5 2907.8L338.0 2907.8L340.5 2907.8L343.0 2907.9L345.5 2907.9L348.0 2907.9L350.5 2907.9L353.0 2907.9L355.6 2908.0L358.1 2908.0L360.6 2908.0L363.1 2908.0L365.6 2908.1L368.1 2908.1L370.6 2908.1L373.2 2908.1L375.7 2908.1L378.2 2908.2L380.7 2908.2L383.2 2908.2L385.7 2908.2L388.2 2908.2L390.6 2908.3L393.1 2908.3L395.6 2908.3L398.1 2908.3L400.6 2908.4L403.0 2908.4L405.5 2908.4L408.0 2908.4L410.4 2908.4L412.9 2908.5L415.3 2908.5L417.8 2908.5L420.2 2908.5L422.6 2908.5L425.0 2908.5L427.4 2908.6L429.8 2908.6L432.2 2908.6L434.6 2908.6L437.0 2908.6L439.4 2908.6L441.7 2908.7L444.1 2908.7L446.4 2908.7L448.8 2908.7L451.1 2908.7L453.4 2908.7L455.7 2908.7L458.0 2908.8L460.3 2908.8L462.6 2908.8L464.8 2908.8L467.1 2908.8L469.3 2908.8L471.6 2908.8L473.8 2908.8L476.0 2908.8L478.2 2908.8L480.4 2908.9L482.5 2908.9L484.7 2908.9L486.8 2908.9L488.9 2908.9L491.1 2908.9L493.2 2908.9L495.2 2908.9L497.3 2908.9L499.4 2908.9L501.4 2908.9L503.4 2908.9L505.4 2908.9L507.4 2908.9L509.4 2908.9L511.4 2908.9L513.3 2908.9L515.2 2908.9L517.1 2908.9L519.0 2908.9L520.9 2908.9L522.8 2908.9L524.6 2908.9L526.4 2908.9L528.2 2908.8L530.0 2908.8L531.8 2908.8L533.5 2908.8L535.2 2908.8L536.9 2908.8L538.6 2908.8L540.3 2908.8L541.9 2908.7L543.5 2908.7L545.1 2908.7L546.7 2908.7L548.3 2908.7L549.8 2908.6L551.3 2908.6L552.8 2908.6L554.3 2908.6L555.7 2908.6L557.1 2908.5L558.5 2908.5L559.9 2908.5L561.3 2908.4L562.6 2908.4L563.9 2908.4L565.2 2908.4L566.4 2908.3L567.7 2908.3L568.9 2908.3L570.0 2908.2L571.2 2908.2L572.3 2908.1L573.4 2908.1L574.5 2908.1L575.5 2908.0L576.5 2908.0L577.5 2907.9L578.4 2907.9L579.3 2907.8L580.2 2907.8L581.1 2907.7L581.9 2907.7L582.7 2907.6L583.5 2907.6L584.2 2907.5L584.9 2907.5L585.6 2907.4L586.3 2907.4L586.9 2907.3L587.5 2907.3L588.0 2907.2L588.5 2907.1L589.0 2907.1L589.5 2907.0L592.6 2906.6L594.6 2906.2L596.2 2905.0L597.2 2903.7L598.1 2902.0L598.8 2900.0L599.4 2897.7L600.0 2895.3L600.5 2892.7L601.1 2890.1L601.5 2888.5L601.8 2886.7L602.2 2884.9L602.5 2883.0L602.8 2881.0L603.1 2879.0L603.4 2877.0L603.7 2874.9L603.9 2872.7L604.2 2870.6L604.5 2868.4L604.7 2866.2L605.0 2864.0L605.2 2861.8L605.5 2859.6L605.7 2857.5L606.0 2855.6L606.2 2853.7L606.4 2851.8L606.6 2849.9L606.8 2847.9L607.0 2845.9L607.2 2843.9L607.4 2842.0L607.6 2839.9L607.8 2837.9L607.9 2835.9L608.1 2833.9L608.3 2831.9L608.5 2829.9L608.7 2827.8L608.9 2825.8L609.1 2823.8L609.2 2821.9L609.4 2819.9L609.6 2817.9L609.8 2816.0L610.0 2813.9L610.2 2811.9L610.4 2809.9L610.7 2807.9L610.9 2806.0L611.1 2804.0L611.3 2802.1L611.5 2800.1L611.7 2798.2L612.0 2796.2L612.2 2794.2L612.4 2792.2L612.6 2790.2L612.8 2788.2L613.0 2786.1L613.2 2784.0L613.4 2781.9L613.6 2779.7L613.8 2777.5L614.0 2775.7L614.1 2773.9L614.3 2772.0L614.4 2770.2L614.5 2768.3L614.7 2766.3L614.8 2764.4L615.0 2762.4L615.1 2760.5L615.2 2758.5L615.4 2756.5L615.5 2754.4L615.7 2752.4L615.8 2750.3L615.9 2748.3L616.1 2746.2L616.2 2744.2L616.3 2742.1L616.5 2740.0L616.6 2737.9L616.7 2735.8L616.8 2733.8L617.0 2731.7L617.1 2729.6L617.2 2727.6L617.4 2725.5L617.5 2723.5L617.6 2721.4L617.8 2719.4L617.9 2717.4L618.0 2715.4L618.2 2713.4L618.3 2711.4L618.4 2709.5L618.6 2707.5L618.7 2705.5L618.9 2703.6L619.0 2701.6L619.1 2699.7L619.3 2697.7L619.4 2695.7L619.5 2693.8L619.7 2691.8L619.8 2689.9L619.9 2687.9L620.1 2685.9L620.2 2684.0L620.3 2682.0L620.5 2680.0L620.6 2678.0L620.7 2676.0L620.9 2674.0L621.0 2672.0L621.1 2669.9L621.3 2667.9L621.4 2665.8L621.5 2663.7L621.6 2661.7L621.8 2659.5L621.9 2657.4L622.0 2655.6L622.1 2653.7L622.2 2651.9L622.3 2650.0L622.4 2648.1L622.5 2646.2L622.7 2644.3L622.8 2642.4L622.9 2640.5L623.0 2638.5L623.1 2636.6L623.2 2634.6L623.3 2632.7L623.4 2630.7L623.5 2628.7L623.6 2626.8L623.7 2624.8L623.8 2622.8L623.9 2620.8L624.0 2618.8L624.1 2616.8L624.2 2614.8L624.3 2612.8L624.4 2610.8L624.5 2608.8L624.6 2606.8L624.7 2604.8L624.8 2602.8L624.9 2600.8L625.0 2598.7L625.1 2596.7L625.2 2594.7L625.3 2592.7L625.4 2590.7L625.5 2588.7L625.6 2586.7L625.7 2584.8L625.8 2582.8L625.9 2580.8L626.0 2578.8L626.1 2576.8L626.2 2574.9L626.3 2572.9L626.4 2570.9L626.5 2568.9L626.6 2566.9L626.7 2564.9L626.8 2563.0L626.9 2561.0L627.0 2559.0L627.1 2557.0L627.2 2555.0L627.3 2553.0L627.4 2551.0L627.5 2549.0L627.6 2547.1L627.7 2545.1L627.8 2543.1L627.9 2541.1L628.0 2539.1L628.1 2537.1L628.2 2535.1L628.3 2533.1L628.4 2531.2L628.5 2529.2L628.6 2527.2L628.7 2525.2L628.8 2523.2L628.9 2521.2L629.0 2519.2L629.1 2517.2L629.2 2515.2L629.3 2513.3L629.4 2511.3L629.5 2509.3L629.6 2507.3L629.7 2505.3L629.8 2503.3L629.9 2501.3L630.0 2499.4L630.1 2497.4L630.2 2495.4L630.3 2493.4L630.4 2491.4L630.5 2489.4L630.6 2487.4L630.7 2485.5L630.8 2483.5L630.9 2481.5L631.0 2479.5L631.1 2477.5L631.2 2475.5L631.3 2473.5L631.4 2471.6L631.5 2469.6L631.6 2467.6L631.7 2465.6L631.8 2463.6L631.9 2461.6L632.0 2459.7L632.1 2457.7L632.2 2455.7L632.3 2453.7L632.4 2451.7L632.5 2449.7L632.6 2447.7L632.7 2445.8L632.8 2443.8L632.9 2441.8L633.0 2439.8L633.1 2437.8L633.2 2435.8L633.3 2433.9L633.4 2431.9L633.5 2429.9L633.6 2427.9L633.7 2425.9L633.8 2423.9L633.9 2422.0L634.0 2420.0L634.1 2418.0L634.2 2416.0L634.3 2414.0L634.4 2412.0L634.5 2410.0L634.6 2408.0L634.7 2406.0L634.8 2404.0L634.9 2402.0L635.0 2400.0L635.1 2398.0L635.2 2396.0L635.3 2394.0L635.4 2392.0L635.5 2390.0L635.6 2388.0L635.7 2386.0L635.8 2384.0L635.9 2382.0L636.1 2380.0L636.2 2378.0L636.3 2376.0L636.4 2374.0L636.5 2372.0L636.6 2370.0L636.7 2368.0L636.8 2366.0L636.9 2364.1L637.0 2362.1L637.1 2360.1L637.2 2358.2L637.3 2356.2L637.3 2354.2L637.4 2352.3L637.5 2350.3L637.6 2348.4L637.7 2346.4L637.8 2344.5L637.9 2342.6L638.0 2340.7L638.1 2338.6L638.2 2336.6L638.3 2334.5L638.4 2332.5L638.5 2330.5L638.6 2328.5L638.6 2326.5L638.7 2324.5L638.8 2322.6L638.9 2320.6L639.0 2318.6L639.1 2316.6L639.2 2314.7L639.2 2312.7L639.3 2310.8L639.4 2308.8L639.5 2306.8L639.6 2304.9L639.7 2302.9L639.7 2301.0L639.8 2299.0L639.9 2297.0L640.0 2295.1L640.1 2293.1L640.1 2291.2L640.2 2289.2L640.3 2287.2L640.4 2285.2L640.5 2283.2L640.6 2281.2L640.6 2279.2L640.7 2277.2L640.8 2275.2L640.9 2273.2L641.0 2271.1L641.1 2269.2L641.2 2267.3L641.3 2265.4L641.3 2263.4L641.4 2261.5L641.5 2259.6L641.6 2257.6L641.7 2255.7L641.8 2253.7L641.8 2251.7L641.9 2249.8L642.0 2247.8L642.1 2245.8L642.2 2243.8L642.3 2241.8L642.4 2239.9L642.5 2237.9L642.5 2235.9L642.6 2233.9L642.7 2231.9L642.8 2229.9L642.9 2227.9L643.0 2225.9L643.1 2223.9L643.2 2222.0L643.2 2220.0L643.3 2218.0L643.4 2216.0L643.5 2214.1L643.6 2212.1L643.7 2210.1L643.8 2208.2L643.9 2206.2L644.0 2204.3L644.0 2202.3L644.1 2200.4L644.2 2198.5L644.3 2196.6L644.4 2194.7L644.5 2192.8L644.6 2190.7L644.7 2188.7L644.8 2186.6L644.9 2184.6L645.0 2182.5L645.1 2180.4L645.2 2178.3L645.3 2176.2L645.4 2174.1L645.4 2172.0L645.5 2169.9L645.6 2167.8L645.7 2165.7L645.8 2163.6L645.9 2161.5L646.0 2159.5L646.1 2157.4L646.2 2155.4L646.3 2153.3L646.4 2151.3L646.5 2149.3L646.6 2147.4L646.7 2145.4L646.8 2143.5L646.9 2141.6L647.0 2139.7L647.1 2137.8L647.2 2136.0L647.3 2134.2L647.4 2132.4L647.5 2130.7L647.7 2129.0L647.8 2127.4L647.9 2125.8L648.0 2124.2L648.2 2121.9L648.4 2119.6L648.5 2117.3L648.7 2115.1L648.9 2113.0L649.0 2110.9L649.2 2108.8L649.4 2106.9L649.6 2104.9L649.8 2103.1L650.0 2101.3L650.2 2099.6L650.5 2097.9L650.7 2096.4L651.0 2094.8L651.5 2092.0L652.1 2089.1L652.7 2086.6L653.3 2084.8L654.0 2084.1L655.0 2085.2L656.0 2087.8L657.0 2090.9L657.4 2092.3L657.8 2093.8L658.1 2095.5L658.5 2097.2L658.8 2099.0L659.2 2100.9L659.5 2103.0L659.8 2105.1L660.1 2107.3L660.4 2109.5L660.7 2111.9L661.0 2114.3L661.2 2115.8L661.3 2117.3L661.5 2118.9L661.7 2120.5L661.8 2122.2L662.0 2123.9L662.2 2125.7L662.3 2127.5L662.5 2129.4L662.6 2131.2L662.8 2133.2L662.9 2135.1L663.1 2137.1L663.2 2139.1L663.4 2141.1L663.5 2143.2L663.6 2145.2L663.8 2147.3L663.9 2149.4L664.0 2151.5L664.2 2153.6L664.3 2155.8L664.4 2157.9L664.6 2160.0L664.7 2162.1L664.8 2164.3L665.0 2166.4L665.1 2168.5L665.2 2170.6L665.4 2172.7L665.5 2174.7L665.6 2176.8L665.7 2178.8L665.9 2180.8L666.0 2182.7L666.1 2184.7L666.3 2186.7L666.4 2188.6L666.5 2190.6L666.6 2192.6L666.7 2194.5L666.9 2196.5L667.0 2198.5L667.1 2200.5L667.2 2202.4L667.3 2204.4L667.5 2206.4L667.6 2208.4L667.7 2210.4L667.8 2212.3L667.9 2214.3L668.0 2216.3L668.1 2218.3L668.2 2220.2L668.4 2222.2L668.5 2224.2L668.6 2226.1L668.7 2228.1L668.8 2230.1L668.9 2232.0L669.0 2234.0L669.1 2235.9L669.2 2237.8L669.3 2239.8L669.4 2241.7L669.6 2243.6L669.7 2245.5L669.8 2247.4L669.9 2249.3L670.0 2251.2L670.1 2253.2L670.2 2255.2L670.4 2257.3L670.5 2259.3L670.6 2261.3L670.7 2263.3L670.8 2265.3L671.0 2267.3L671.1 2269.3L671.2 2271.2L671.3 2273.2L671.5 2275.2L671.6 2277.2L671.7 2279.1L671.8 2281.1L671.9 2283.0L672.1 2285.0L672.2 2286.9L672.3 2288.9L672.4 2290.8L672.5 2292.7L672.6 2294.6L672.7 2296.6L672.9 2298.5L673.0 2300.4L673.1 2302.3L673.2 2304.2L673.3 2306.1L673.4 2308.0L673.5 2309.8L673.6 2311.9L673.7 2313.9L673.8 2315.9L673.9 2317.9L674.0 2319.9L674.1 2321.8L674.2 2323.8L674.3 2325.7L674.4 2327.6L674.5 2329.5L674.6 2331.4L674.7 2333.4L674.8 2335.3L674.9 2337.2L675.0 2339.1L675.1 2341.1L675.2 2343.1L675.3 2345.0L675.4 2347.1L675.5 2349.1L675.6 2351.2L675.7 2353.2L675.8 2355.4L675.9 2357.5L676.0 2359.7L676.1 2361.5L676.2 2363.3L676.3 2365.1L676.4 2367.0L676.5 2368.9L676.6 2370.8L676.7 2372.7L676.7 2374.7L676.8 2376.6L676.9 2378.6L677.0 2380.6L677.1 2382.6L677.2 2384.6L677.3 2386.7L677.5 2388.7L677.6 2390.8L677.7 2392.9L677.8 2394.9L677.9 2397.0L678.0 2399.1L678.1 2401.2L678.2 2403.3L678.3 2405.3L678.4 2407.4L678.5 2409.5L678.6 2411.6L678.7 2413.6L678.8 2415.7L678.9 2417.7L679.0 2419.7L679.1 2421.8L679.2 2423.8L679.3 2425.8L679.4 2427.7L679.5 2429.7L679.6 2431.6L679.7 2433.5L679.8 2435.4L679.9 2437.3L680.0 2439.1L680.1 2441.2L680.2 2443.3L680.3 2445.4L680.4 2447.5L680.5 2449.6L680.6 2451.7L680.7 2453.7L680.8 2455.8L680.9 2457.8L681.0 2459.9L681.1 2461.9L681.2 2463.9L681.3 2465.9L681.3 2467.9L681.4 2469.9L681.5 2471.8L681.6 2473.8L681.7 2475.7L681.8 2477.6L681.9 2479.5L682.0 2481.4L682.1 2483.3L682.2 2485.1L682.4 2487.0L682.5 2488.8L682.6 2490.6L682.7 2492.4L682.9 2494.2L683.0 2495.9L683.2 2498.1L683.4 2500.2L683.6 2502.3L683.8 2504.4L684.0 2506.4L684.2 2508.4L684.4 2510.4L684.6 2512.4L684.8 2514.3L685.0 2516.2L685.2 2518.1L685.5 2520.0L685.7 2521.9L685.9 2523.8L686.1 2525.7L686.4 2527.5L686.6 2529.4L686.8 2531.2L687.0 2533.0L687.2 2535.1L687.5 2537.2L687.7 2539.2L687.9 2541.2L688.1 2543.2L688.3 2545.2L688.6 2547.2L688.8 2549.2L689.0 2551.1L689.2 2553.1L689.5 2555.0L689.7 2556.8L690.0 2558.7L690.2 2560.5L690.5 2562.3L690.8 2564.4L691.2 2566.5L691.5 2568.5L691.9 2570.6L692.2 2572.5L692.6 2574.5L693.0 2576.4L693.4 2578.3L693.8 2580.1L694.1 2582.0L694.5 2583.7L695.0 2586.0L695.5 2588.1L695.9 2590.2L696.4 2592.2L696.9 2594.3L697.5 2596.3L698.0 2598.3L698.6 2600.2L699.2 2602.2L699.8 2604.1L700.4 2606.0L701.1 2607.9L701.8 2609.8L702.5 2611.8L703.3 2613.7L704.0 2615.6L704.8 2617.6L705.6 2619.5L706.4 2621.5L707.3 2623.4L708.2 2625.3L709.1 2627.2L710.0 2629.0L710.9 2631.0L711.8 2633.0L712.7 2634.9L713.7 2636.7L714.8 2638.3L716.0 2639.6L717.4 2640.6L719.4 2641.3L721.6 2641.6L723.9 2641.5L726.3 2641.2L728.7 2640.6L730.9 2640.0L732.9 2638.9L734.9 2637.4L736.8 2635.6L738.7 2633.8L740.5 2632.2L742.3 2631.0L744.0 2630.6L745.7 2630.9L747.2 2631.9L748.7 2633.2L750.3 2634.8L752.0 2636.4L753.4 2637.5L754.9 2638.8L756.5 2640.2L758.1 2641.6L759.8 2643.1L761.5 2644.7L763.2 2646.3L764.8 2647.9L766.4 2649.5L768.0 2651.1L769.4 2652.7L770.9 2654.2L772.3 2655.8L773.7 2657.4L775.0 2659.0L776.4 2660.6L777.8 2662.3L779.1 2664.0L780.4 2665.6L781.7 2667.3L783.0 2669.0L784.3 2670.8L785.5 2672.6L786.8 2674.4L788.0 2676.2L789.2 2678.0L790.4 2679.9L791.5 2681.7L792.7 2683.6L793.8 2685.4L794.9 2687.2L796.0 2689.0L797.1 2690.8L798.1 2692.7L799.1 2694.5L800.1 2696.3L801.1 2698.1L802.0 2699.9L803.0 2701.6L804.0 2703.4L805.0 2705.2L806.0 2707.0L807.0 2708.8L808.0 2710.7L809.0 2712.6L810.0 2714.4L811.0 2716.3L812.1 2718.1L813.2 2720.0L814.4 2721.7L815.6 2723.4L817.0 2725.0L818.4 2726.5L820.0 2728.1L821.6 2729.7L823.3 2731.3L825.0 2732.8L826.8 2734.2L828.6 2735.5L830.5 2736.7L832.3 2737.7L834.2 2738.5L836.0 2739.0L838.0 2739.3L840.1 2739.3L842.2 2739.0L844.4 2738.4L846.5 2737.7L848.7 2736.9L850.8 2736.0L852.9 2735.0L855.0 2734.0L856.9 2733.1L858.7 2732.0L860.5 2730.9L862.3 2729.8L864.1 2728.5L865.8 2727.2L867.6 2725.8L869.4 2724.4L871.3 2722.9L873.1 2721.3L875.0 2719.7L876.4 2718.4L877.7 2717.2L879.1 2715.8L880.4 2714.4L881.8 2712.9L883.2 2711.4L884.6 2709.8L885.9 2708.3L887.3 2706.7L888.8 2705.0L890.2 2703.4L891.6 2701.8L893.1 2700.2L894.6 2698.6L896.1 2697.0L897.6 2695.5L899.2 2693.9L900.7 2692.5L902.4 2691.2L904.0 2690.0L905.6 2688.9L907.3 2687.7L909.1 2686.6L910.9 2685.5L912.7 2684.5L914.6 2683.4L916.5 2682.4L918.4 2681.4L920.3 2680.4L922.3 2679.4L924.2 2678.4L926.2 2677.5L928.1 2676.6L930.0 2675.7L931.9 2674.8L933.8 2673.9L935.6 2673.0L937.4 2672.2L939.1 2671.4L940.8 2670.6L942.4 2669.8L944.0 2669.0L946.1 2667.9L948.0 2666.9L949.9 2665.9L951.7 2665.0L953.4 2664.0L955.1 2663.1L956.8 2662.3L958.6 2661.4L960.5 2660.6L962.4 2659.8L964.5 2659.0L966.2 2658.4L968.0 2657.8L969.9 2657.2L971.8 2656.6L973.8 2656.1L975.8 2655.5L977.8 2655.0L979.9 2654.5L982.0 2654.0L984.0 2653.5L986.1 2653.0L988.2 2652.5L990.3 2652.1L992.3 2651.6L994.3 2651.2L996.3 2650.8L998.2 2650.4L1000.0 2650.0L1002.2 2649.6L1004.3 2649.2L1006.4 2648.9L1008.4 2648.6L1010.4 2648.3L1012.4 2648.0L1014.4 2647.7L1016.4 2647.5L1018.4 2647.2L1020.5 2647.0L1022.7 2646.8L1025.0 2646.5L1026.8 2646.3L1028.7 2646.1L1030.6 2646.0L1032.6 2645.9L1034.6 2645.7L1036.6 2645.6L1038.7 2645.5L1040.8 2645.4L1042.9 2645.3L1045.0 2645.1L1047.1 2645.0L1049.2 2644.9L1051.4 2644.8L1053.5 2644.6L1055.6 2644.4L1057.6 2644.3L1059.7 2644.1L1061.7 2643.8L1063.7 2643.6L1065.6 2643.3L1067.7 2643.0L1069.8 2642.6L1071.9 2642.1L1073.9 2641.7L1075.9 2641.2L1077.8 2640.6L1079.8 2640.1L1081.8 2639.6L1083.7 2639.1L1085.7 2638.5L1087.7 2638.0L1089.7 2637.5L1091.7 2637.1L1093.8 2636.7L1095.9 2636.3L1098.0 2636.0L1099.9 2635.7L1101.8 2635.5L1103.7 2635.3L1105.6 2635.1L1107.6 2634.9L1109.6 2634.7L1111.6 2634.6L1113.6 2634.4L1115.6 2634.3L1117.6 2634.2L1119.7 2634.1L1121.7 2634.0L1123.8 2634.0L1125.8 2633.9L1127.9 2633.8L1129.9 2633.7L1131.9 2633.7L1134.0 2633.6L1136.0 2633.5L1138.0 2633.5L1140.0 2633.4L1142.1 2633.3L1144.1 2633.2L1146.2 2633.1L1148.2 2633.0L1150.3 2632.9L1152.4 2632.9L1154.4 2632.8L1156.5 2632.7L1158.6 2632.6L1160.6 2632.5L1162.7 2632.5L1164.7 2632.4L1166.8 2632.4L1168.8 2632.4L1170.8 2632.4L1172.9 2632.4L1174.9 2632.5L1177.0 2632.6L1179.0 2632.7L1181.0 2632.8L1183.1 2633.0L1185.2 2633.2L1187.2 2633.4L1189.3 2633.6L1191.3 2633.9L1193.4 2634.2L1195.4 2634.5L1197.5 2634.8L1199.5 2635.2L1201.5 2635.5L1203.6 2635.9L1205.6 2636.2L1207.7 2636.6L1209.7 2637.0L1211.7 2637.4L1213.8 2637.8L1215.9 2638.2L1217.9 2638.6L1220.0 2639.0L1222.0 2639.4L1223.9 2639.8L1225.8 2640.3L1227.8 2640.7L1229.7 2641.2L1231.7 2641.7L1233.6 2642.2L1235.5 2642.8L1237.5 2643.3L1239.4 2643.8L1241.4 2644.4L1243.4 2644.9L1245.3 2645.4L1247.3 2645.9L1249.3 2646.4L1251.3 2646.9L1253.4 2647.4L1255.4 2647.8L1257.5 2648.2L1259.6 2648.6L1261.7 2649.0L1263.6 2649.3L1265.4 2649.6L1267.3 2649.9L1269.1 2650.1L1271.0 2650.4L1272.8 2650.7L1274.7 2650.9L1276.5 2651.1L1278.4 2651.4L1280.3 2651.6L1282.2 2651.8L1284.1 2652.0L1286.0 2652.2L1288.0 2652.3L1290.0 2652.5L1291.9 2652.7L1293.9 2652.8L1296.0 2653.0L1298.0 2653.1L1300.1 2653.2L1302.2 2653.4L1304.4 2653.5L1306.5 2653.6L1308.8 2653.7L1311.0 2653.8L1313.3 2653.9L1315.6 2654.0L1317.3 2654.1L1319.0 2654.1L1320.8 2654.2L1322.6 2654.2L1324.4 2654.2L1326.2 2654.3L1328.1 2654.3L1330.0 2654.3L1331.9 2654.3L1333.9 2654.3L1335.8 2654.3L1337.8 2654.3L1339.8 2654.3L1341.8 2654.3L1343.9 2654.3L1345.9 2654.3L1348.0 2654.2L1350.1 2654.2L1352.2 2654.2L1354.3 2654.1L1356.4 2654.1L1358.5 2654.1L1360.7 2654.0L1362.8 2654.0L1365.0 2653.9L1367.1 2653.9L1369.3 2653.8L1371.5 2653.8L1373.6 2653.7L1375.8 2653.6L1378.0 2653.6L1380.1 2653.5L1382.3 2653.4L1384.5 2653.4L1386.6 2653.3L1388.8 2653.2L1390.9 2653.1L1393.0 2653.1L1395.2 2653.0L1397.3 2652.9L1399.4 2652.9L1401.5 2652.8L1403.6 2652.7L1405.7 2652.6L1407.7 2652.6L1409.8 2652.5L1411.8 2652.4L1413.8 2652.3L1415.8 2652.3L1417.7 2652.2L1419.7 2652.1L1421.6 2652.1L1423.5 2652.0L1425.7 2651.9L1427.8 2651.8L1429.9 2651.8L1432.0 2651.7L1434.1 2651.6L1436.2 2651.5L1438.3 2651.4L1440.4 2651.3L1442.4 2651.2L1444.4 2651.1L1446.5 2651.0L1448.5 2650.9L1450.5 2650.7L1452.5 2650.6L1454.5 2650.5L1456.5 2650.4L1458.5 2650.3L1460.5 2650.2L1462.5 2650.1L1464.5 2649.9L1466.4 2649.8L1468.4 2649.7L1470.4 2649.6L1472.3 2649.5L1474.3 2649.4L1476.3 2649.3L1478.2 2649.2L1480.2 2649.0L1482.2 2648.9L1484.1 2648.8L1486.1 2648.7L1488.1 2648.6L1490.0 2648.5L1492.0 2648.5L1494.0 2648.4L1496.0 2648.3L1498.0 2648.2L1500.0 2648.1L1502.0 2648.1L1504.0 2648.0L1506.0 2647.9L1508.0 2647.9L1510.0 2647.8L1512.0 2647.8L1514.0 2647.7L1516.0 2647.7L1518.0 2647.6L1520.0 2647.6L1522.0 2647.6L1524.0 2647.5L1525.9 2647.5L1527.9 2647.4L1529.9 2647.4L1531.9 2647.4L1533.8 2647.4L1535.8 2647.3L1537.8 2647.3L1539.8 2647.3L1541.8 2647.3L1543.8 2647.3L1545.7 2647.2L1547.7 2647.2L1549.7 2647.2L1551.7 2647.2L1553.8 2647.2L1555.8 2647.2L1557.8 2647.1L1559.8 2647.1L1561.9 2647.1L1563.9 2647.1L1566.0 2647.1L1568.1 2647.1L1570.1 2647.1L1572.2 2647.1L1574.3 2647.1L1576.4 2647.0L1578.6 2647.0L1580.7 2647.0L1582.8 2647.0L1585.0 2647.0L1586.9 2647.0L1588.7 2647.0L1590.6 2647.0L1592.5 2647.0L1594.4 2646.9L1596.3 2646.9L1598.2 2646.9L1600.2 2646.9L1602.1 2646.9L1604.0 2646.9L1606.0 2646.9L1608.0 2646.8L1609.9 2646.8L1611.9 2646.8L1613.9 2646.8L1615.9 2646.8L1617.9 2646.8L1619.9 2646.8L1621.9 2646.7L1623.9 2646.7L1625.9 2646.7L1627.9 2646.7L1629.9 2646.7L1631.9 2646.7L1634.0 2646.7L1636.0 2646.7L1638.0 2646.7L1640.1 2646.7L1642.1 2646.7L1644.2 2646.7L1646.2 2646.7L1648.2 2646.7L1650.3 2646.7L1652.3 2646.7L1654.4 2646.7L1656.4 2646.7L1658.5 2646.7L1660.5 2646.7L1662.6 2646.7L1664.6 2646.7L1666.7 2646.7L1668.7 2646.7L1670.7 2646.7L1672.8 2646.7L1674.8 2646.8L1676.9 2646.8L1678.9 2646.8L1680.9 2646.8L1682.9 2646.8L1685.0 2646.9L1687.0 2646.9L1689.0 2646.9L1691.0 2647.0L1693.0 2647.0L1695.0 2647.0L1697.0 2647.1L1699.1 2647.1L1701.1 2647.2L1703.2 2647.2L1705.3 2647.3L1707.3 2647.4L1709.4 2647.4L1711.5 2647.5L1713.6 2647.6L1715.8 2647.7L1717.9 2647.7L1720.0 2647.8L1722.1 2647.9L1724.3 2648.0L1726.4 2648.1L1728.5 2648.2L1730.7 2648.3L1732.8 2648.4L1735.0 2648.5L1737.1 2648.6L1739.2 2648.7L1741.4 2648.8L1743.5 2648.9L1745.6 2649.0L1747.7 2649.1L1749.8 2649.2L1751.9 2649.3L1754.0 2649.4L1756.1 2649.5L1758.2 2649.6L1760.2 2649.7L1762.3 2649.7L1764.3 2649.8L1766.4 2649.9L1768.4 2650.0L1770.4 2650.1L1772.3 2650.2L1774.3 2650.3L1776.2 2650.3L1778.2 2650.4L1780.1 2650.5L1781.9 2650.6L1783.8 2650.6L1785.6 2650.7L1787.4 2650.7L1789.2 2650.8L1791.0 2650.8L1792.7 2650.9L1794.4 2650.9L1796.1 2650.9L1797.8 2651.0L1799.4 2651.0L1801.0 2651.0L1803.4 2651.0L1805.7 2651.0L1808.0 2651.0L1810.1 2651.0L1812.3 2651.0L1814.4 2650.9L1816.4 2650.9L1818.4 2650.9L1820.4 2650.8L1822.3 2650.8L1824.3 2650.7L1826.2 2650.6L1828.0 2650.6L1829.9 2650.5L1831.8 2650.5L1833.6 2650.4L1835.5 2650.3L1837.4 2650.3L1839.2 2650.2L1841.1 2650.2L1843.1 2650.1L1845.0 2650.0L1847.0 2650.0" stroke="#990099" stroke-dasharray="8.00 58.00"/>
<path d="M203.0 2907.0L205.0 2907.0L207.0 2907.0L209.1 2907.0L211.1 2907.0L213.2 2907.0L215.3 2907.0L217.4 2907.0L219.5 2907.0L221.7 2907.0L223.8 2907.0L226.0 2907.0L228.1 2907.0L230.3 2907.1L232.5 2907.1L234.7 2907.1L236.9 2907.1L239.2 2907.1L241.4 2907.1L243.7 2907.1L245.9 2907.1L248.2 2907.1L250.5 2907.1L252.8 2907.2L255.1 2907.2L257.4 2907.2L259.8 2907.2L262.1 2907.2L264.5 2907.2L266.8 2907.2L269.2 2907.3L271.6 2907.3L273.9 2907.3L276.3 2907.3L278.7 2907.3L281.1 2907.3L283.5 2907.4L286.0 2907.4L288.4 2907.4L290.8 2907.4L293.3 2907.4L295.7 2907.5L298.2 2907.5L300.6 2907.5L303.1 2907.5L305.5 2907.5L308.0 2907.6L310.5 2907.6L313.0 2907.6L315.5 2907.6L318.0 2907.6L320.4 2907.7L322.9 2907.7L325.4 2907.7L327.9 2907.7L330.4 2907.7L332.9 2907.8L335.5 2907.8L338.0 2907.8L340.5 2907.8L343.0 2907.9L345.5 2907.9L348.0 2907.9L350.5 2907.9L353.0 2907.9L355.6 2908.0L358.1 2908.0L360.6 2908.0L363.1 2908.0L365.6 2908.1L368.1 2908.1L370.6 2908.1L373.2 2908.1L375.7 2908.1L378.2 2908.2L380.7 2908.2L383.2 2908.2L385.7 2908.2L388.2 2908.2L390.6 2908.3L393.1 2908.3L395.6 2908.3L398.1 2908.3L400.6 2908.4L403.0 2908.4L405.5 2908.4L408.0 2908.4L410.4 2908.4L412.9 2908.5L415.3 2908.5L417.8 2908.5L420.2 2908.5L422.6 2908.5L425.0 2908.5L427.4 2908.6L429.8 2908.6L432.2 2908.6L434.6 2908.6L437.0 2908.6L439.4 2908.6L441.7 2908.7L444.1 2908.7L446.4 2908.7L448.8 2908.7L451.1 2908.7L453.4 2908.7L455.7 2908.7L458.0 2908.8L460.3 2908.8L462.6 2908.8L464.8 2908.8L467.1 2908.8L469.3 2908.8L471.6 2908.8L473.8 2908.8L476.0 2908.8L478.2 2908.8L480.4 2908.9L482.5 2908.9L484.7 2908.9L486.8 2908.9L488.9 2908.9L491.1 2908.9L493.2 2908.9L495.2 2908.9L497.3 2908.9L499.4 2908.9L501.4 2908.9L503.4 2908.9L505.4 2908.9L507.4 2908.9L509.4 2908.9L511.4 2908.9L513.3 2908.9L515.2 2908.9L517.1 2908.9L519.0 2908.9L520.9 2908.9L522.8 2908.9L524.6 2908.9L526.4 2908.9L528.2 2908.8L530.0 2908.8L531.8 2908.8L533.5 2908.8L535.2 2908.8L536.9 2908.8L538.6 2908.8L540.3 2908.8L541.9 2908.7L543.5 2908.7L545.1 2908.7L546.7 2908.7L548.3 2908.7L549.8 2908.6L551.3 2908.6L552.8 2908.6L554.3 2908.6L555.7 2908.5L557.1 2908.5L558.5 2908.5L559.9 2908.5L561.3 2908.4L562.6 2908.4L563.9 2908.4L565.2 2908.3L566.4 2908.3L567.7 2908.3L568.9 2908.2L570.0 2908.2L571.2 2908.2L572.3 2908.1L573.4 2908.1L574.5 2908.0L575.5 2908.0L576.6 2908.0L577.6 2907.9L578.5 2907.9L579.5 2907.8L580.4 2907.8L581.2 2907.7L582.1 2907.7L582.9 2907.6L583.7 2907.6L584.5 2907.5L585.2 2907.5L585.9 2907.4L586.6 2907.4L587.2 2907.3L587.9 2907.2L588.4 2907.2L589.0 2907.1L589.5 2907.1L590.0 2907.0L593.3 2906.6L595.3 2906.2L597.0 2905.1L598.1 2903.9L598.9 2902.3L599.7 2900.4L600.3 2898.2L600.9 2896.0L601.4 2893.6L602.0 2891.2L602.4 2889.6L602.7 2888.0L603.1 2886.3L603.4 2884.5L603.7 2882.7L604.0 2880.8L604.3 2878.9L604.6 2877.0L604.9 2875.0L605.1 2873.0L605.4 2871.0L605.7 2869.0L605.9 2867.0L606.2 2864.9L606.4 2862.9L606.7 2860.9L606.9 2859.2L607.1 2857.5L607.4 2855.7L607.6 2853.9L607.8 2852.1L608.0 2850.3L608.2 2848.5L608.4 2846.7L608.5 2844.9L608.7 2843.0L608.9 2841.2L609.1 2839.3L609.3 2837.5L609.5 2835.6L609.7 2833.8L609.8 2832.0L610.0 2830.2L610.2 2828.4L610.4 2826.6L610.6 2824.8L610.8 2823.0L611.0 2821.2L611.2 2819.3L611.4 2817.5L611.7 2815.8L611.9 2814.0L612.1 2812.2L612.3 2810.5L612.5 2808.7L612.7 2807.0L612.9 2805.2L613.2 2803.5L613.4 2801.7L613.6 2799.9L613.8 2798.1L614.0 2796.3L614.2 2794.4L614.4 2792.5L614.6 2790.5L614.8 2788.5L615.0 2786.9L615.1 2785.3L615.3 2783.7L615.4 2782.0L615.5 2780.3L615.7 2778.6L615.8 2776.8L616.0 2775.1L616.1 2773.3L616.2 2771.5L616.4 2769.7L616.5 2767.9L616.7 2766.1L616.8 2764.3L616.9 2762.5L617.1 2760.6L617.2 2758.8L617.3 2756.9L617.4 2755.1L617.6 2753.2L617.7 2751.4L617.8 2749.5L618.0 2747.7L618.1 2745.9L618.2 2744.0L618.4 2742.2L618.5 2740.4L618.6 2738.6L618.8 2736.8L618.9 2735.1L619.0 2733.3L619.2 2731.5L619.3 2729.8L619.4 2728.1L619.6 2726.3L619.7 2724.6L619.8 2722.9L620.0 2721.1L620.1 2719.4L620.3 2717.7L620.4 2716.0L620.5 2714.3L620.7 2712.6L620.8 2710.9L620.9 2709.1L621.1 2707.4L621.2 2705.7L621.3 2704.0L621.5 2702.2L621.6 2700.5L621.7 2698.7L621.9 2697.0L622.0 2695.2L622.1 2693.4L622.3 2691.6L622.4 2689.8L622.5 2688.0L622.6 2686.2L622.8 2684.4L622.9 2682.5L623.0 2680.9L623.1 2679.3L623.2 2677.7L623.3 2676.0L623.4 2674.4L623.5 2672.7L623.6 2671.1L623.8 2669.4L623.9 2667.7L624.0 2666.0L624.1 2664.3L624.2 2662.6L624.3 2660.9L624.4 2659.2L624.5 2657.5L624.6 2655.8L624.7 2654.0L624.8 2652.3L624.9 2650.6L625.0 2648.8L625.1 2647.1L625.2 2645.4L625.3 2643.6L625.4 2641.9L625.5 2640.1L625.6 2638.4L625.7 2636.7L625.8 2634.9L625.9 2633.2L626.0 2631.4L626.1 2629.7L626.2 2627.9L626.3 2626.2L626.4 2624.5L626.5 2622.7L626.6 2621.0L626.7 2619.3L626.8 2617.6L626.9 2615.9L627.0 2614.2L627.1 2612.5L627.2 2610.8L627.3 2609.0L627.4 2607.3L627.5 2605.6L627.6 2603.9L627.7 2602.2L627.8 2600.5L627.9 2598.8L628.0 2597.1L628.1 2595.4L628.2 2593.6L628.3 2591.9L628.4 2590.2L628.5 2588.5L628.6 2586.8L628.7 2585.1L628.8 2583.4L628.9 2581.7L629.0 2580.0L629.1 2578.3L629.2 2576.6L629.3 2574.8L629.4 2573.1L629.5 2571.4L629.6 2569.7L629.7 2568.0L629.8 2566.3L629.9 2564.6L630.0 2562.9L630.1 2561.2L630.2 2559.5L630.3 2557.8L630.4 2556.1L630.5 2554.4L630.6 2552.7L630.7 2551.0L630.8 2549.3L630.9 2547.6L631.0 2545.9L631.1 2544.2L631.2 2542.5L631.3 2540.8L631.4 2539.1L631.5 2537.4L631.6 2535.8L631.7 2534.1L631.8 2532.4L631.9 2530.7L632.0 2529.0L632.1 2527.3L632.2 2525.6L632.3 2523.9L632.4 2522.2L632.5 2520.5L632.6 2518.8L632.7 2517.2L632.8 2515.5L632.9 2513.8L633.0 2512.1L633.1 2510.4L633.2 2508.7L633.3 2507.0L633.4 2505.4L633.5 2503.7L633.6 2502.0L633.7 2500.3L633.8 2498.6L633.9 2496.9L634.0 2495.3L634.1 2493.6L634.2 2491.9L634.3 2490.2L634.4 2488.5L634.5 2486.8L634.6 2485.2L634.7 2483.5L634.8 2481.8L634.9 2480.1L635.0 2478.4L635.1 2476.8L635.2 2475.1L635.3 2473.4L635.4 2471.7L635.5 2470.0L635.6 2468.3L635.7 2466.6L635.8 2465.0L635.9 2463.3L636.0 2461.6L636.1 2459.9L636.2 2458.2L636.3 2456.5L636.4 2454.8L636.5 2453.1L636.6 2451.4L636.7 2449.7L636.8 2448.0L636.9 2446.3L637.1 2444.7L637.2 2443.0L637.3 2441.3L637.4 2439.6L637.5 2437.9L637.6 2436.3L637.7 2434.6L637.8 2432.9L637.9 2431.2L638.0 2429.6L638.1 2427.9L638.2 2426.2L638.3 2424.6L638.3 2422.9L638.4 2421.3L638.5 2419.6L638.6 2418.0L638.7 2416.4L638.8 2414.7L638.9 2413.1L639.0 2411.5L639.1 2409.7L639.2 2408.0L639.3 2406.3L639.4 2404.6L639.5 2402.9L639.6 2401.2L639.6 2399.5L639.7 2397.8L639.8 2396.2L639.9 2394.5L640.0 2392.8L640.1 2391.1L640.2 2389.5L640.2 2387.8L640.3 2386.2L640.4 2384.5L640.5 2382.8L640.6 2381.2L640.6 2379.5L640.7 2377.9L640.8 2376.2L640.9 2374.6L641.0 2372.9L641.1 2371.2L641.1 2369.6L641.2 2367.9L641.3 2366.2L641.4 2364.5L641.5 2362.8L641.6 2361.2L641.6 2359.5L641.7 2357.8L641.8 2356.0L641.9 2354.3L642.0 2352.6L642.1 2351.0L642.2 2349.4L642.3 2347.7L642.3 2346.1L642.4 2344.5L642.5 2342.8L642.6 2341.2L642.7 2339.5L642.8 2337.9L642.8 2336.2L642.9 2334.5L643.0 2332.9L643.1 2331.2L643.2 2329.5L643.3 2327.8L643.4 2326.2L643.5 2324.5L643.5 2322.8L643.6 2321.1L643.7 2319.4L643.8 2317.8L643.9 2316.1L644.0 2314.4L644.1 2312.7L644.2 2311.0L644.2 2309.4L644.3 2307.7L644.4 2306.0L644.5 2304.3L644.6 2302.7L644.7 2301.0L644.8 2299.4L644.9 2297.7L645.0 2296.1L645.0 2294.4L645.1 2292.8L645.2 2291.2L645.3 2289.6L645.4 2288.0L645.5 2286.4L645.6 2284.6L645.7 2282.9L645.8 2281.2L645.9 2279.4L646.0 2277.6L646.1 2275.9L646.2 2274.1L646.3 2272.3L646.4 2270.6L646.4 2268.8L646.5 2267.0L646.6 2265.2L646.7 2263.4L646.8 2261.7L646.9 2259.9L647.0 2258.2L647.1 2256.4L647.2 2254.7L647.3 2253.0L647.4 2251.3L647.5 2249.6L647.6 2247.9L647.7 2246.2L647.8 2244.6L647.9 2243.0L648.0 2241.4L648.1 2239.8L648.2 2238.3L648.3 2236.8L648.4 2235.3L648.5 2233.8L648.7 2232.4L648.8 2231.0L648.9 2229.7L649.0 2228.4L649.2 2226.4L649.4 2224.5L649.5 2222.6L649.7 2220.7L649.9 2218.9L650.0 2217.1L650.2 2215.4L650.4 2213.8L650.6 2212.2L650.8 2210.6L651.0 2209.1L651.2 2207.7L651.5 2206.3L651.7 2205.0L652.0 2203.7L652.5 2201.4L653.1 2199.0L653.7 2196.8L654.3 2195.3L655.0 2194.7L656.0 2195.6L657.0 2197.8L658.0 2200.3L658.4 2201.5L658.8 2202.7L659.1 2204.0L659.5 2205.4L659.8 2206.9L660.2 2208.5L660.5 2210.1L660.8 2211.8L661.1 2213.6L661.4 2215.5L661.7 2217.4L662.0 2219.4L662.2 2220.6L662.3 2221.9L662.5 2223.2L662.7 2224.5L662.8 2225.9L663.0 2227.3L663.2 2228.8L663.3 2230.3L663.5 2231.8L663.6 2233.3L663.8 2234.9L663.9 2236.6L664.1 2238.2L664.2 2239.9L664.4 2241.6L664.5 2243.3L664.6 2245.0L664.8 2246.7L664.9 2248.5L665.0 2250.2L665.2 2252.0L665.3 2253.8L665.4 2255.5L665.6 2257.3L665.7 2259.1L665.8 2260.8L666.0 2262.6L666.1 2264.4L666.2 2266.1L666.4 2267.8L666.5 2269.5L666.6 2271.2L666.7 2272.9L666.9 2274.6L667.0 2276.2L667.1 2277.8L667.3 2279.5L667.4 2281.1L667.5 2282.7L667.6 2284.4L667.7 2286.0L667.9 2287.6L668.0 2289.3L668.1 2290.9L668.2 2292.6L668.3 2294.2L668.5 2295.9L668.6 2297.5L668.7 2299.2L668.8 2300.8L668.9 2302.5L669.0 2304.1L669.1 2305.8L669.2 2307.4L669.4 2309.1L669.5 2310.7L669.6 2312.3L669.7 2314.0L669.8 2315.6L669.9 2317.2L670.0 2318.8L670.1 2320.5L670.2 2322.1L670.3 2323.7L670.4 2325.3L670.6 2326.9L670.7 2328.5L670.8 2330.0L670.9 2331.6L671.0 2333.2L671.1 2334.9L671.2 2336.5L671.4 2338.2L671.5 2339.9L671.6 2341.6L671.7 2343.2L671.8 2344.9L672.0 2346.5L672.1 2348.2L672.2 2349.8L672.3 2351.5L672.5 2353.1L672.6 2354.7L672.7 2356.4L672.8 2358.0L672.9 2359.6L673.1 2361.2L673.2 2362.9L673.3 2364.5L673.4 2366.1L673.5 2367.7L673.6 2369.3L673.7 2370.9L673.9 2372.5L674.0 2374.0L674.1 2375.6L674.2 2377.2L674.3 2378.8L674.4 2380.4L674.5 2381.9L674.6 2383.6L674.7 2385.3L674.8 2387.0L674.9 2388.7L675.0 2390.3L675.1 2392.0L675.2 2393.6L675.3 2395.2L675.4 2396.8L675.5 2398.4L675.6 2400.1L675.7 2401.7L675.8 2403.3L675.9 2404.9L676.0 2406.5L676.1 2408.2L676.2 2409.8L676.3 2411.5L676.4 2413.2L676.5 2414.9L676.6 2416.7L676.7 2418.4L676.8 2420.2L676.9 2422.0L677.0 2423.9L677.1 2425.4L677.2 2426.9L677.3 2428.5L677.4 2430.0L677.5 2431.6L677.6 2433.2L677.6 2434.8L677.7 2436.5L677.8 2438.1L677.9 2439.8L678.0 2441.5L678.1 2443.2L678.2 2444.9L678.3 2446.6L678.5 2448.4L678.6 2450.1L678.7 2451.9L678.8 2453.6L678.9 2455.4L679.0 2457.1L679.1 2458.9L679.2 2460.7L679.3 2462.4L679.4 2464.2L679.5 2465.9L679.6 2467.7L679.7 2469.4L679.8 2471.2L679.9 2472.9L680.0 2474.6L680.1 2476.3L680.2 2478.0L680.3 2479.7L680.4 2481.4L680.5 2483.1L680.6 2484.7L680.7 2486.3L680.8 2487.9L680.9 2489.5L681.0 2491.1L681.1 2492.9L681.2 2494.7L681.3 2496.4L681.4 2498.2L681.5 2500.0L681.6 2501.8L681.7 2503.6L681.8 2505.3L681.9 2507.1L682.0 2508.8L682.1 2510.5L682.2 2512.3L682.3 2514.0L682.3 2515.7L682.4 2517.4L682.5 2519.0L682.6 2520.7L682.7 2522.4L682.8 2524.0L682.9 2525.6L683.0 2527.2L683.1 2528.8L683.2 2530.4L683.4 2532.0L683.5 2533.5L683.6 2535.0L683.7 2536.6L683.9 2538.0L684.0 2539.5L684.2 2541.3L684.4 2543.1L684.6 2544.8L684.8 2546.5L685.0 2548.2L685.2 2549.8L685.4 2551.5L685.6 2553.1L685.8 2554.7L686.0 2556.3L686.2 2557.8L686.5 2559.4L686.7 2560.9L686.9 2562.4L687.1 2564.0L687.4 2565.5L687.6 2567.0L687.8 2568.5L688.0 2570.0L688.2 2571.7L688.5 2573.4L688.7 2575.1L688.9 2576.8L689.1 2578.4L689.3 2580.1L689.6 2581.7L689.8 2583.4L690.0 2585.0L690.2 2586.5L690.5 2588.0L690.7 2589.5L691.0 2590.9L691.2 2592.3L691.5 2593.7L691.8 2595.3L692.2 2596.9L692.5 2598.4L692.9 2599.9L693.2 2601.3L693.6 2602.8L694.0 2604.2L694.4 2605.5L694.7 2606.9L695.1 2608.2L695.5 2609.5L696.0 2611.1L696.5 2612.6L696.9 2614.1L697.4 2615.5L697.9 2616.9L698.4 2618.3L699.0 2619.6L699.6 2620.9L700.2 2622.0L700.8 2622.4L701.4 2622.8L702.1 2623.2L702.8 2623.5L703.5 2623.8L704.2 2624.0L705.0 2624.2L705.7 2624.4L706.5 2624.6L707.4 2624.3L708.2 2623.4L709.1 2622.4L710.0 2621.3L710.9 2621.5L711.7 2621.9L712.6 2622.3L713.5 2622.6L714.4 2622.7L715.5 2622.4L716.7 2621.7L718.0 2620.3L719.9 2621.2L722.0 2621.8L724.2 2622.2L726.5 2622.3L728.8 2622.2L731.0 2622.1L733.0 2622.8L734.9 2623.0L736.8 2622.9L738.7 2622.8L740.6 2622.9L742.3 2623.5L744.0 2624.6L745.7 2623.4L747.2 2622.9L748.7 2622.8L750.3 2623.0L752.0 2623.0L753.4 2622.5L754.9 2622.1L756.5 2621.7L758.1 2621.3L759.8 2621.0L761.5 2620.7L763.2 2620.5L764.8 2620.3L766.4 2620.2L768.0 2620.1L769.4 2622.3L770.9 2624.6L772.3 2626.8L773.7 2629.1L775.0 2631.5L776.4 2633.8L777.8 2636.1L779.1 2638.5L780.4 2640.9L781.7 2643.2L783.0 2645.6L784.3 2648.0L785.5 2650.5L786.8 2652.9L788.0 2655.4L789.2 2657.6L790.4 2659.8L791.5 2662.1L792.7 2664.3L793.8 2666.5L794.9 2668.6L796.0 2670.8L797.1 2673.0L798.1 2675.1L799.1 2677.3L800.1 2679.4L801.1 2681.5L802.0 2683.6L803.0 2685.7L804.0 2687.8L805.0 2689.9L806.0 2692.1L807.0 2694.2L808.0 2696.4L809.0 2698.6L810.0 2700.8L811.0 2703.0L812.1 2705.2L813.2 2707.4L814.4 2709.5L815.6 2711.7L817.0 2714.0L818.4 2716.2L820.0 2718.5L821.6 2720.9L823.3 2723.3L825.0 2725.6L826.8 2727.9L828.6 2730.1L830.5 2732.1L832.3 2734.0L834.2 2735.7L836.0 2737.1L838.0 2738.4L840.1 2739.3L842.2 2739.0L844.4 2738.5L846.5 2737.8L848.7 2737.0L850.8 2736.1L852.9 2735.2L855.0 2734.3L856.9 2733.3L858.7 2732.4L860.5 2731.3L862.3 2730.1L864.1 2728.9L865.8 2727.6L867.6 2726.3L869.4 2724.9L871.3 2723.4L873.1 2721.8L875.0 2720.3L876.4 2719.1L877.7 2717.8L879.1 2716.4L880.4 2715.1L881.8 2713.6L883.2 2712.1L884.6 2710.6L885.9 2709.0L887.3 2707.4L888.8 2705.9L890.2 2704.2L891.6 2702.7L893.1 2701.1L894.6 2699.5L896.1 2697.9L897.6 2696.4L899.2 2694.9L900.7 2693.5L902.4 2692.2L904.0 2691.0L905.6 2689.9L907.3 2688.7L909.1 2687.6L910.9 2686.5L912.7 2685.5L914.6 2684.4L916.5 2683.4L918.4 2682.4L920.3 2681.4L922.3 2680.4L924.2 2679.4L926.2 2678.5L928.1 2677.6L930.0 2676.7L931.9 2675.8L933.8 2674.9L935.6 2674.0L937.4 2673.2L939.1 2672.4L940.8 2671.6L942.4 2670.8L944.0 2670.0L946.1 2668.9L948.0 2667.9L949.9 2666.9L951.7 2666.0L953.4 2665.0L955.1 2664.1L956.8 2663.3L958.6 2662.4L960.5 2661.6L962.4 2660.8L964.5 2660.0L966.2 2659.4L968.0 2658.8L969.9 2658.2L971.8 2657.6L973.8 2657.1L975.8 2656.5L977.8 2656.0L979.9 2655.5L982.0 2655.0L984.0 2654.5L986.1 2654.0L988.2 2653.5L990.3 2653.1L992.3 2652.6L994.3 2652.2L996.3 2651.8L998.2 2651.4L1000.0 2651.0L1002.2 2650.5L1004.3 2650.1L1006.4 2649.6L1008.4 2649.2L1010.4 2648.9L1012.4 2648.5L1014.4 2648.2L1016.4 2647.8L1018.4 2647.5L1020.5 2647.2L1022.7 2646.8L1025.0 2646.5L1026.8 2646.2L1028.7 2646.0L1030.6 2645.8L1032.6 2645.6L1034.6 2645.3L1036.6 2645.1L1038.7 2644.9L1040.8 2644.7L1042.9 2644.5L1045.0 2644.3L1047.1 2644.1L1049.2 2643.9L1051.4 2643.7L1053.5 2643.5L1055.6 2643.2L1057.6 2643.0L1059.7 2642.7L1061.7 2642.4L1063.7 2642.0L1065.6 2641.7L1067.7 2641.3L1069.8 2640.8L1071.9 2640.2L1073.9 2639.7L1075.9 2639.1L1077.8 2638.5L1079.8 2637.9L1081.8 2637.3L1083.7 2636.7L1085.7 2636.1L1087.7 2635.5L1089.7 2635.0L1091.7 2634.4L1093.8 2633.9L1095.9 2633.5L1098.0 2633.0L1099.9 2632.7L1101.8 2632.4L1103.7 2632.2L1105.6 2631.9L1107.6 2631.7L1109.6 2631.5L1111.6 2631.3L1113.6 2631.2L1115.6 2631.0L1117.6 2630.9L1119.7 2630.7L1121.7 2630.6L1123.8 2630.5L1125.8 2630.4L1127.9 2630.2L1129.9 2630.1L1131.9 2630.0L1134.0 2629.9L1136.0 2629.8L1138.0 2629.7L1140.0 2629.6L1142.1 2629.5L1144.1 2629.3L1146.2 2629.2L1148.2 2629.1L1150.3 2628.9L1152.4 2628.8L1154.4 2628.7L1156.5 2628.5L1158.6 2628.4L1160.6 2628.3L1162.7 2628.2L1164.7 2628.1L1166.8 2628.1L1168.8 2628.0L1170.8 2628.0L1172.9 2628.0L1174.9 2628.0L1177.0 2628.0L1179.0 2628.1L1181.0 2628.2L1183.1 2628.3L1185.2 2628.5L1187.2 2628.7L1189.3 2628.9L1191.3 2629.1L1193.4 2629.3L1195.4 2629.6L1197.5 2629.9L1199.5 2630.2L1201.5 2630.5L1203.6 2630.9L1205.6 2631.2L1207.7 2631.6L1209.7 2632.0L1211.7 2632.4L1213.8 2632.8L1215.9 2633.2L1217.9 2633.6L1220.0 2634.0L1222.0 2634.4L1223.9 2634.8L1225.8 2635.3L1227.8 2635.7L1229.7 2636.2L1231.7 2636.7L1233.6 2637.2L1235.5 2637.8L1237.5 2638.3L1239.4 2638.8L1241.4 2639.4L1243.4 2639.9L1245.3 2640.4L1247.3 2640.9L1249.3 2641.4L1251.3 2641.9L1253.4 2642.4L1255.4 2642.8L1257.5 2643.2L1259.6 2643.6L1261.7 2644.0L1263.6 2644.3L1265.4 2644.6L1267.3 2644.9L1269.1 2645.1L1271.0 2645.4L1272.8 2645.7L1274.7 2645.9L1276.5 2646.1L1278.4 2646.4L1280.3 2646.6L1282.2 2646.8L1284.1 2647.0L1286.0 2647.2L1288.0 2647.3L1290.0 2647.5L1291.9 2647.7L1293.9 2647.8L1296.0 2648.0L1298.0 2648.1L1300.1 2648.2L1302.2 2648.4L1304.4 2648.5L1306.5 2648.6L1308.8 2648.7L1311.0 2648.8L1313.3 2648.9L1315.6 2649.0L1317.3 2649.1L1319.0 2649.1L1320.8 2649.2L1322.6 2649.2L1324.4 2649.2L1326.2 2649.3L1328.1 2649.3L1330.0 2649.3L1331.9 2649.3L1333.9 2649.3L1335.8 2649.3L1337.8 2649.3L1339.8 2649.3L1341.8 2649.3L1343.9 2649.3L1345.9 2649.3L1348.0 2649.2L1350.1 2649.2L1352.2 2649.2L1354.3 2649.1L1356.4 2649.1L1358.5 2649.1L1360.7 2649.0L1362.8 2649.0L1365.0 2648.9L1367.1 2648.9L1369.3 2648.8L1371.5 2648.8L1373.6 2648.7L1375.8 2648.6L1378.0 2648.6L1380.1 2648.5L1382.3 2648.4L1384.5 2648.4L1386.6 2648.3L1388.8 2648.2L1390.9 2648.1L1393.0 2648.1L1395.2 2648.0L1397.3 2647.9L1399.4 2647.9L1401.5 2647.8L1403.6 2647.7L1405.7 2647.6L1407.7 2647.6L1409.8 2647.5L1411.8 2647.4L1413.8 2647.3L1415.8 2647.3L1417.7 2647.2L1419.7 2647.1L1421.6 2647.1L1423.5 2647.0L1425.7 2646.9L1427.8 2646.8L1429.9 2646.8L1432.0 2646.7L1434.1 2646.6L1436.2 2646.5L1438.3 2646.4L1440.4 2646.3L1442.4 2646.2L1444.4 2646.1L1446.5 2646.0L1448.5 2645.9L1450.5 2645.7L1452.5 2645.6L1454.5 2645.5L1456.5 2645.4L1458.5 2645.3L1460.5 2645.2L1462.5 2645.1L1464.5 2644.9L1466.4 2644.8L1468.4 2644.7L1470.4 2644.6L1472.3 2644.5L1474.3 2644.4L1476.3 2644.3L1478.2 2644.2L1480.2 2644.0L1482.2 2643.9L1484.1 2643.8L1486.1 2643.7L1488.1 2643.6L1490.0 2643.5L1492.0 2643.5L1494.0 2643.4L1496.0 2643.3L1498.0 2643.2L1500.0 2643.1L1502.0 2643.1L1504.0 2643.0L1506.0 2642.9L1508.0 2642.9L1510.0 2642.8L1512.0 2642.8L1514.0 2642.7L1516.0 2642.7L1518.0 2642.6L1520.0 2642.6L1522.0 2642.6L1524.0 2642.5L1525.9 2642.5L1527.9 2642.4L1529.9 2642.4L1531.9 2642.4L1533.8 2642.4L1535.8 2642.3L1537.8 2642.3L1539.8 2642.3L1541.8 2642.3L1543.8 2642.3L1545.7 2642.2L1547.7 2642.2L1549.7 2642.2L1551.7 2642.2L1553.8 2642.2L1555.8 2642.2L1557.8 2642.1L1559.8 2642.1L1561.9 2642.1L1563.9 2642.1L1566.0 2642.1L1568.1 2642.1L1570.1 2642.1L1572.2 2642.1L1574.3 2642.1L1576.4 2642.0L1578.6 2642.0L1580.7 2642.0L1582.8 2642.0L1585.0 2642.0L1586.9 2642.0L1588.7 2642.0L1590.6 2642.0L1592.5 2642.0L1594.4 2641.9L1596.3 2641.9L1598.2 2641.9L1600.2 2641.9L1602.1 2641.9L1604.0 2641.9L1606.0 2641.9L1608.0 2641.8L1609.9 2641.8L1611.9 2641.8L1613.9 2641.8L1615.9 2641.8L1617.9 2641.8L1619.9 2641.8L1621.9 2641.7L1623.9 2641.7L1625.9 2641.7L1627.9 2641.7L1629.9 2641.7L1631.9 2641.7L1634.0 2641.7L1636.0 2641.7L1638.0 2641.7L1640.1 2641.7L1642.1 2641.7L1644.2 2641.7L1646.2 2641.7L1648.2 2641.7L1650.3 2641.7L1652.3 2641.7L1654.4 2641.7L1656.4 2641.7L1658.5 2641.7L1660.5 2641.7L1662.6 2641.7L1664.6 2641.7L1666.7 2641.7L1668.7 2641.7L1670.7 2641.7L1672.8 2641.7L1674.8 2641.8L1676.9 2641.8L1678.9 2641.8L1680.9 2641.8L1682.9 2641.8L1685.0 2641.9L1687.0 2641.9L1689.0 2641.9L1691.0 2642.0L1693.0 2642.0L1695.0 2642.0L1697.0 2642.1L1699.1 2642.1L1701.1 2642.2L1703.2 2642.2L1705.3 2642.3L1707.3 2642.4L1709.4 2642.4L1711.5 2642.5L1713.6 2642.6L1715.8 2642.7L1717.9 2642.7L1720.0 2642.8L1722.1 2642.9L1724.3 2643.0L1726.4 2643.1L1728.5 2643.2L1730.7 2643.3L1732.8 2643.4L1735.0 2643.5L1737.1 2643.6L1739.2 2643.7L1741.4 2643.8L1743.5 2643.9L1745.6 2644.0L1747.7 2644.1L1749.8 2644.2L1751.9 2644.3L1754.0 2644.4L1756.1 2644.5L1758.2 2644.6L1760.2 2644.7L1762.3 2644.7L1764.3 2644.8L1766.4 2644.9L1768.4 2645.0L1770.4 2645.1L1772.3 2645.2L1774.3 2645.3L1776.2 2645.3L1778.2 2645.4L1780.1 2645.5L1781.9 2645.6L1783.8 2645.6L1785.6 2645.7L1787.4 2645.7L1789.2 2645.8L1791.0 2645.8L1792.7 2645.9L1794.4 2645.9L1796.1 2645.9L1797.8 2646.0L1799.4 2646.0L1801.0 2646.0L1803.4 2646.0L1805.7 2646.0L1808.0 2646.0L1810.1 2646.0L1812.3 2646.0L1814.4 2645.9L1816.4 2645.9L1818.4 2645.9L1820.4 2645.8L1822.3 2645.8L1824.3 2645.7L1826.2 2645.6L1828.0 2645.6L1829.9 2645.5L1831.8 2645.5L1833.6 2645.4L1835.5 2645.3L1837.4 2645.3L1839.2 2645.2L1841.1 2645.2L1843.1 2645.1L1845.0 2645.0L1847.0 2645.0" stroke="#990000" stroke-dasharray="58.00 36.00 8.00 37.00"/>
<path d="M203.0 2907.0L205.0 2907.0L207.0 2907.0L209.1 2907.0L211.1 2907.0L213.2 2907.0L215.3 2907.0L217.4 2907.0L219.5 2907.0L221.7 2907.0L223.8 2907.0L226.0 2907.0L228.1 2907.0L230.3 2907.1L232.5 2907.1L234.7 2907.1L236.9 2907.1L239.2 2907.1L241.4 2907.1L243.7 2907.1L245.9 2907.1L248.2 2907.1L250.5 2907.1L252.8 2907.2L255.1 2907.2L257.4 2907.2L259.8 2907.2L262.1 2907.2L264.5 2907.2L266.8 2907.2L269.2 2907.3L271.6 2907.3L273.9 2907.3L276.3 2907.3L278.7 2907.3L281.1 2907.3L283.5 2907.4L286.0 2907.4L288.4 2907.4L290.8 2907.4L293.3 2907.4L295.7 2907.5L298.2 2907.5L300.6 2907.5L303.1 2907.5L305.5 2907.5L308.0 2907.6L310.5 2907.6L313.0 2907.6L315.5 2907.6L318.0 2907.6L320.4 2907.7L322.9 2907.7L325.4 2907.7L327.9 2907.7L330.4 2907.7L332.9 2907.8L335.5 2907.8L338.0 2907.8L340.5 2907.8L343.0 2907.9L345.5 2907.9L348.0 2907.9L350.5 2907.9L353.0 2907.9L355.6 2908.0L358.1 2908.0L360.6 2908.0L363.1 2908.0L365.6 2908.1L368.1 2908.1L370.6 2908.1L373.2 2908.1L375.7 2908.1L378.2 2908.2L380.7 2908.2L383.2 2908.2L385.7 2908.2L388.2 2908.2L390.6 2908.3L393.1 2908.3L395.6 2908.3L398.1 2908.3L400.6 2908.4L403.0 2908.4L405.5 2908.4L408.0 2908.4L410.4 2908.4L412.9 2908.5L415.3 2908.5L417.8 2908.5L420.2 2908.5L422.6 2908.5L425.0 2908.5L427.4 2908.6L429.8 2908.6L432.2 2908.6L434.6 2908.6L437.0 2908.6L439.4 2908.6L441.7 2908.7L444.1 2908.7L446.4 2908.7L448.8 2908.7L451.1 2908.7L453.4 2908.7L455.7 2908.7L458.0 2908.8L460.3 2908.8L462.6 2908.8L464.8 2908.8L467.1 2908.8L469.3 2908.8L471.6 2908.8L473.8 2908.8L476.0 2908.8L478.2 2908.8L480.4 2908.9L482.5 2908.9L484.7 2908.9L486.8 2908.9L488.9 2908.9L491.1 2908.9L493.2 2908.9L495.2 2908.9L497.3 2908.9L499.4 2908.9L501.4 2908.9L503.4 2908.9L505.4 2908.9L507.4 2908.9L509.4 2908.9L511.4 2908.9L513.3 2908.9L515.2 2908.9L517.1 2908.9L519.0 2908.9L520.9 2908.9L522.8 2908.9L524.6 2908.9L526.4 2908.9L528.2 2908.8L530.0 2908.8L531.8 2908.8L533.5 2908.8L535.2 2908.8L536.9 2908.8L538.6 2908.8L540.3 2908.8L541.9 2908.7L543.5 2908.7L545.1 2908.7L546.7 2908.7L548.3 2908.7L549.8 2908.6L551.3 2908.6L552.8 2908.6L554.3 2908.6L555.7 2908.6L557.1 2908.5L558.5 2908.5L559.9 2908.5L561.3 2908.4L562.6 2908.4L563.9 2908.4L565.2 2908.4L566.4 2908.3L567.7 2908.3L568.9 2908.3L570.0 2908.2L571.2 2908.2L572.3 2908.1L573.4 2908.1L574.5 2908.1L575.5 2908.0L576.5 2908.0L577.5 2907.9L578.4 2907.9L579.3 2907.8L580.2 2907.8L581.1 2907.7L581.9 2907.7L582.7 2907.6L583.5 2907.6L584.2 2907.5L584.9 2907.5L585.6 2907.4L586.3 2907.4L586.9 2907.3L587.5 2907.3L588.0 2907.2L588.5 2907.1L589.0 2907.1L589.5 2907.0L592.6 2906.6L594.6 2906.2L596.2 2905.0L597.2 2903.7L598.1 2902.0L598.8 2900.0L599.4 2897.8L600.0 2895.4L600.5 2892.8L601.1 2890.3L601.5 2888.6L601.8 2886.9L602.2 2885.1L602.5 2883.2L602.8 2881.3L603.1 2879.3L603.4 2877.3L603.7 2875.2L603.9 2873.1L604.2 2871.0L604.5 2868.8L604.7 2866.6L605.0 2864.5L605.2 2862.3L605.5 2860.1L605.7 2858.0L606.0 2856.1L606.2 2854.3L606.4 2852.4L606.6 2850.5L606.8 2848.5L607.0 2846.6L607.2 2844.6L607.4 2842.7L607.6 2840.7L607.8 2838.7L607.9 2836.7L608.1 2834.7L608.3 2832.7L608.5 2830.7L608.7 2828.8L608.9 2826.8L609.1 2824.8L609.2 2822.8L609.4 2820.9L609.6 2819.0L609.8 2817.0L610.0 2815.0L610.2 2813.0L610.4 2811.1L610.7 2809.1L610.9 2807.2L611.1 2805.2L611.3 2803.3L611.5 2801.4L611.7 2799.5L612.0 2797.6L612.2 2795.6L612.4 2793.7L612.6 2791.7L612.8 2789.7L613.0 2787.7L613.2 2785.6L613.4 2783.5L613.6 2781.4L613.8 2779.2L614.0 2777.4L614.1 2775.6L614.3 2773.8L614.4 2772.0L614.5 2770.1L614.7 2768.2L614.8 2766.3L615.0 2764.4L615.1 2762.4L615.2 2760.4L615.4 2758.5L615.5 2756.5L615.7 2754.5L615.8 2752.5L615.9 2750.4L616.1 2748.4L616.2 2746.4L616.3 2744.3L616.5 2742.3L616.6 2740.2L616.7 2738.2L616.8 2736.2L617.0 2734.1L617.1 2732.1L617.2 2730.1L617.4 2728.0L617.5 2726.0L617.6 2724.0L617.8 2722.1L617.9 2720.1L618.0 2718.1L618.2 2716.2L618.3 2714.2L618.4 2712.3L618.6 2710.3L618.7 2708.4L618.9 2706.5L619.0 2704.6L619.1 2702.7L619.3 2700.7L619.4 2698.8L619.5 2696.9L619.7 2695.0L619.8 2693.1L619.9 2691.1L620.1 2689.2L620.2 2687.3L620.3 2685.3L620.5 2683.4L620.6 2681.4L620.7 2679.5L620.9 2677.5L621.0 2675.5L621.1 2673.5L621.3 2671.5L621.4 2669.5L621.5 2667.4L621.6 2665.4L621.8 2663.3L621.9 2661.2L622.0 2659.4L622.1 2657.6L622.2 2655.8L622.3 2653.9L622.4 2652.1L622.5 2650.2L622.7 2648.4L622.8 2646.5L622.9 2644.6L623.0 2642.7L623.1 2640.8L623.2 2638.9L623.3 2637.0L623.4 2635.0L623.5 2633.1L623.6 2631.2L623.7 2629.2L623.8 2627.3L623.9 2625.3L624.0 2623.4L624.1 2621.4L624.2 2619.4L624.3 2617.5L624.4 2615.5L624.5 2613.5L624.6 2611.6L624.7 2609.6L624.8 2607.6L624.9 2605.7L625.0 2603.7L625.1 2601.7L625.2 2599.8L625.3 2597.8L625.4 2595.8L625.5 2593.9L625.6 2591.9L625.7 2590.0L625.8 2588.0L625.9 2586.1L626.0 2584.2L626.1 2582.2L626.2 2580.3L626.3 2578.4L626.4 2576.4L626.5 2574.5L626.6 2572.5L626.7 2570.6L626.8 2568.6L626.9 2566.7L627.0 2564.7L627.1 2562.8L627.2 2560.9L627.3 2558.9L627.4 2557.0L627.5 2555.0L627.6 2553.1L627.7 2551.1L627.8 2549.2L627.9 2547.2L628.0 2545.3L628.1 2543.3L628.2 2541.4L628.3 2539.5L628.4 2537.5L628.5 2535.6L628.6 2533.6L628.7 2531.7L628.8 2529.7L628.9 2527.8L629.0 2525.8L629.1 2523.9L629.2 2522.0L629.3 2520.0L629.4 2518.1L629.5 2516.1L629.6 2514.2L629.7 2512.2L629.8 2510.3L629.9 2508.3L630.0 2506.4L630.1 2504.5L630.2 2502.5L630.3 2500.6L630.4 2498.6L630.5 2496.7L630.6 2494.8L630.7 2492.8L630.8 2490.9L630.9 2488.9L631.0 2487.0L631.1 2485.1L631.2 2483.1L631.3 2481.2L631.4 2479.2L631.5 2477.3L631.6 2475.4L631.7 2473.4L631.8 2471.5L631.9 2469.5L632.0 2467.6L632.1 2465.7L632.2 2463.7L632.3 2461.8L632.4 2459.8L632.5 2457.9L632.6 2456.0L632.7 2454.0L632.8 2452.1L632.9 2450.1L633.0 2448.2L633.1 2446.3L633.2 2444.3L633.3 2442.4L633.4 2440.5L633.5 2438.5L633.6 2436.6L633.7 2434.6L633.8 2432.7L633.9 2430.8L634.0 2428.8L634.1 2426.9L634.2 2425.0L634.3 2423.0L634.4 2421.1L634.5 2419.1L634.6 2417.2L634.7 2415.2L634.8 2413.3L634.9 2411.3L635.0 2409.3L635.1 2407.4L635.2 2405.4L635.3 2403.5L635.4 2401.5L635.5 2399.6L635.6 2397.6L635.7 2395.6L635.8 2393.7L635.9 2391.7L636.1 2389.8L636.2 2387.8L636.3 2385.9L636.4 2383.9L636.5 2382.0L636.6 2380.1L636.7 2378.1L636.8 2376.2L636.9 2374.2L637.0 2372.3L637.1 2370.4L637.2 2368.5L637.3 2366.5L637.3 2364.6L637.4 2362.7L637.5 2360.8L637.6 2358.9L637.7 2357.0L637.8 2355.1L637.9 2353.3L638.0 2351.4L638.1 2349.4L638.2 2347.4L638.3 2345.4L638.4 2343.4L638.5 2341.5L638.6 2339.5L638.6 2337.6L638.7 2335.6L638.8 2333.7L638.9 2331.8L639.0 2329.8L639.1 2327.9L639.2 2326.0L639.2 2324.1L639.3 2322.2L639.4 2320.3L639.5 2318.4L639.6 2316.4L639.7 2314.5L639.7 2312.6L639.8 2310.7L639.9 2308.8L640.0 2306.9L640.1 2305.0L640.1 2303.0L640.2 2301.1L640.3 2299.2L640.4 2297.2L640.5 2295.3L640.6 2293.3L640.6 2291.4L640.7 2289.4L640.8 2287.4L640.9 2285.5L641.0 2283.5L641.1 2281.6L641.2 2279.7L641.3 2277.9L641.3 2276.0L641.4 2274.1L641.5 2272.2L641.6 2270.3L641.7 2268.4L641.8 2266.4L641.8 2264.5L641.9 2262.6L642.0 2260.7L642.1 2258.7L642.2 2256.8L642.3 2254.9L642.4 2252.9L642.5 2251.0L642.5 2249.0L642.6 2247.1L642.7 2245.2L642.8 2243.2L642.9 2241.3L643.0 2239.3L643.1 2237.4L643.2 2235.5L643.2 2233.5L643.3 2231.6L643.4 2229.7L643.5 2227.7L643.6 2225.8L643.7 2223.9L643.8 2222.0L643.9 2220.1L644.0 2218.2L644.0 2216.3L644.1 2214.4L644.2 2212.5L644.3 2210.7L644.4 2208.8L644.5 2206.9L644.6 2205.0L644.7 2203.0L644.8 2200.9L644.9 2198.9L645.0 2196.9L645.1 2194.9L645.2 2192.8L645.3 2190.8L645.4 2188.7L645.4 2186.7L645.5 2184.6L645.6 2182.6L645.7 2180.5L645.8 2178.5L645.9 2176.5L646.0 2174.4L646.1 2172.4L646.2 2170.4L646.3 2168.4L646.4 2166.5L646.5 2164.5L646.6 2162.6L646.7 2160.7L646.8 2158.8L646.9 2156.9L647.0 2155.1L647.1 2153.3L647.2 2151.5L647.3 2149.7L647.4 2148.0L647.5 2146.3L647.7 2144.7L647.8 2143.1L647.9 2141.5L648.0 2140.0L648.2 2137.7L648.4 2135.5L648.5 2133.3L648.7 2131.1L648.9 2129.0L649.0 2127.0L649.2 2125.0L649.4 2123.1L649.6 2121.2L649.8 2119.4L650.0 2117.6L650.2 2116.0L650.5 2114.4L650.7 2112.8L651.0 2111.3L651.5 2108.6L652.1 2105.8L652.7 2103.3L653.3 2101.5L654.0 2100.8L655.0 2101.9L656.0 2104.5L657.0 2107.5L657.4 2108.9L657.8 2110.3L658.1 2111.9L658.5 2113.6L658.8 2115.4L659.2 2117.2L659.5 2119.2L659.8 2121.2L660.1 2123.4L660.4 2125.6L660.7 2127.9L661.0 2130.3L661.2 2131.7L661.3 2133.2L661.5 2134.7L661.7 2136.3L661.8 2137.9L662.0 2139.6L662.2 2141.3L662.3 2143.1L662.5 2144.9L662.6 2146.7L662.8 2148.6L662.9 2150.5L663.1 2152.4L663.2 2154.4L663.4 2156.3L663.5 2158.3L663.6 2160.3L663.8 2162.4L663.9 2164.4L664.0 2166.5L664.2 2168.5L664.3 2170.6L664.4 2172.7L664.6 2174.8L664.7 2176.8L664.8 2178.9L665.0 2181.0L665.1 2183.0L665.2 2185.0L665.4 2187.1L665.5 2189.1L665.6 2191.1L665.7 2193.0L665.9 2195.0L666.0 2196.9L666.1 2198.8L666.3 2200.7L666.4 2202.6L666.5 2204.6L666.6 2206.5L666.7 2208.4L666.9 2210.3L667.0 2212.2L667.1 2214.2L667.2 2216.1L667.3 2218.0L667.5 2220.0L667.6 2221.9L667.7 2223.8L667.8 2225.8L667.9 2227.7L668.0 2229.6L668.1 2231.5L668.2 2233.5L668.4 2235.4L668.5 2237.3L668.6 2239.2L668.7 2241.1L668.8 2243.0L668.9 2244.9L669.0 2246.8L669.1 2248.7L669.2 2250.6L669.3 2252.5L669.4 2254.3L669.6 2256.2L669.7 2258.1L669.8 2259.9L669.9 2261.8L670.0 2263.6L670.1 2265.6L670.2 2267.6L670.4 2269.5L670.5 2271.5L670.6 2273.4L670.7 2275.4L670.8 2277.3L671.0 2279.3L671.1 2281.2L671.2 2283.1L671.3 2285.1L671.5 2287.0L671.6 2288.9L671.7 2290.8L671.8 2292.7L671.9 2294.6L672.1 2296.5L672.2 2298.4L672.3 2300.3L672.4 2302.2L672.5 2304.1L672.6 2306.0L672.7 2307.8L672.9 2309.7L673.0 2311.5L673.1 2313.4L673.2 2315.2L673.3 2317.1L673.4 2318.9L673.5 2320.8L673.6 2322.8L673.7 2324.7L673.8 2326.7L673.9 2328.6L674.0 2330.6L674.1 2332.5L674.2 2334.4L674.3 2336.2L674.4 2338.1L674.5 2340.0L674.6 2341.8L674.7 2343.7L674.8 2345.6L674.9 2347.5L675.0 2349.4L675.1 2351.3L675.2 2353.2L675.3 2355.1L675.4 2357.1L675.5 2359.1L675.6 2361.1L675.7 2363.1L675.8 2365.2L675.9 2367.3L676.0 2369.5L676.1 2371.2L676.2 2373.0L676.3 2374.7L676.4 2376.5L676.5 2378.4L676.6 2380.2L676.7 2382.1L676.7 2384.0L676.8 2385.9L676.9 2387.9L677.0 2389.8L677.1 2391.8L677.2 2393.8L677.3 2395.8L677.5 2397.8L677.6 2399.8L677.7 2401.8L677.8 2403.8L677.9 2405.9L678.0 2407.9L678.1 2409.9L678.2 2412.0L678.3 2414.0L678.4 2416.0L678.5 2418.0L678.6 2420.1L678.7 2422.1L678.8 2424.1L678.9 2426.1L679.0 2428.1L679.1 2430.0L679.2 2432.0L679.3 2433.9L679.4 2435.9L679.5 2437.8L679.6 2439.6L679.7 2441.5L679.8 2443.4L679.9 2445.2L680.0 2447.0L680.1 2449.0L680.2 2451.1L680.3 2453.2L680.4 2455.2L680.5 2457.2L680.6 2459.3L680.7 2461.3L680.8 2463.3L680.9 2465.3L681.0 2467.3L681.1 2469.3L681.2 2471.2L681.3 2473.2L681.3 2475.1L681.4 2477.1L681.5 2479.0L681.6 2480.9L681.7 2482.8L681.8 2484.6L681.9 2486.5L682.0 2488.3L682.1 2490.2L682.2 2492.0L682.4 2493.8L682.5 2495.6L682.6 2497.3L682.7 2499.1L682.9 2500.8L683.0 2502.5L683.2 2504.6L683.4 2506.7L683.6 2508.7L683.8 2510.7L684.0 2512.7L684.2 2514.7L684.4 2516.6L684.6 2518.5L684.8 2520.4L685.0 2522.3L685.2 2524.2L685.5 2526.0L685.7 2527.8L685.9 2529.7L686.1 2531.5L686.4 2533.3L686.6 2535.1L686.8 2536.9L687.0 2538.6L687.2 2540.7L687.5 2542.7L687.7 2544.6L687.9 2546.6L688.1 2548.6L688.3 2550.5L688.6 2552.5L688.8 2554.4L689.0 2556.3L689.2 2558.1L689.5 2560.0L689.7 2561.8L690.0 2563.6L690.2 2565.4L690.5 2567.2L690.8 2569.2L691.2 2571.2L691.5 2573.2L691.9 2575.1L692.2 2577.0L692.6 2578.9L693.0 2580.8L693.4 2582.6L693.8 2584.4L694.1 2586.2L694.5 2587.9L695.0 2590.0L695.5 2592.1L695.9 2594.1L696.4 2596.1L696.9 2598.1L697.5 2600.0L698.0 2601.9L698.6 2603.8L699.2 2605.7L699.8 2607.5L700.4 2609.3L701.1 2611.2L701.8 2613.0L702.5 2614.9L703.3 2616.7L704.0 2618.6L704.8 2620.4L705.6 2622.3L706.4 2624.2L707.3 2626.0L708.2 2627.9L709.1 2629.6L710.0 2631.4L710.9 2633.3L711.8 2635.2L712.7 2637.0L713.7 2638.8L714.8 2640.3L716.0 2641.5L717.4 2642.4L719.4 2642.9L721.6 2642.8L723.9 2642.3L726.3 2641.6L728.7 2640.6L730.9 2639.5L732.9 2638.2L734.9 2636.3L736.8 2634.1L738.7 2632.0L740.5 2630.1L742.3 2628.7L744.0 2628.4L745.7 2628.9L747.2 2629.9L748.7 2631.4L750.3 2633.1L752.0 2634.8L753.4 2636.1L754.9 2637.5L756.5 2639.0L758.1 2640.6L759.8 2642.3L761.5 2644.0L763.2 2645.7L764.8 2647.5L766.4 2649.3L768.0 2651.1L769.4 2652.7L770.9 2654.3L772.3 2655.9L773.7 2657.5L775.0 2659.1L776.4 2660.7L777.8 2662.4L779.1 2664.0L780.4 2665.7L781.7 2667.4L783.0 2669.1L784.3 2670.8L785.5 2672.6L786.8 2674.4L788.0 2676.2L789.2 2678.1L790.4 2679.9L791.5 2681.7L792.7 2683.6L793.8 2685.4L794.9 2687.2L796.0 2689.0L797.1 2690.9L798.1 2692.7L799.1 2694.5L800.1 2696.3L801.1 2698.1L802.0 2699.9L803.0 2701.7L804.0 2703.4L805.0 2705.2L806.0 2707.0L807.0 2708.8L808.0 2710.7L809.0 2712.6L810.0 2714.4L811.0 2716.3L812.1 2718.2L813.2 2720.0L814.4 2721.7L815.6 2723.4L817.0 2725.0L818.4 2726.5L820.0 2728.1L821.6 2729.7L823.3 2731.3L825.0 2732.8L826.8 2734.2L828.6 2735.6L830.5 2736.7L832.3 2737.7L834.2 2738.5L836.0 2739.0L838.0 2739.3L840.1 2739.3L842.2 2739.1L844.4 2738.7L846.5 2738.2L848.7 2737.5L850.8 2736.7L852.9 2735.9L855.0 2735.0L856.9 2734.2L858.7 2733.3L860.5 2732.3L862.3 2731.2L864.1 2730.1L865.8 2728.9L867.6 2727.7L869.4 2726.3L871.3 2724.9L873.1 2723.5L875.0 2722.0L876.4 2720.9L877.7 2719.7L879.1 2718.4L880.4 2717.1L881.8 2715.7L883.2 2714.3L884.6 2712.8L885.9 2711.3L887.3 2709.8L888.8 2708.3L890.2 2706.8L891.6 2705.2L893.1 2703.7L894.6 2702.2L896.1 2700.7L897.6 2699.3L899.2 2697.9L900.7 2696.5L902.4 2695.2L904.0 2694.0L905.6 2692.8L907.3 2691.7L909.1 2690.5L910.9 2689.4L912.7 2688.3L914.6 2687.3L916.5 2686.2L918.4 2685.2L920.3 2684.2L922.3 2683.2L924.2 2682.2L926.2 2681.2L928.1 2680.3L930.0 2679.4L931.9 2678.5L933.8 2677.6L935.6 2676.7L937.4 2675.8L939.1 2675.0L940.8 2674.2L942.4 2673.4L944.0 2672.6L946.1 2671.5L948.0 2670.4L949.9 2669.4L951.7 2668.4L953.4 2667.5L955.1 2666.6L956.8 2665.7L958.6 2664.8L960.5 2664.0L962.4 2663.2L964.5 2662.4L966.2 2661.7L968.0 2661.1L969.9 2660.5L971.8 2659.9L973.8 2659.3L975.8 2658.8L977.8 2658.2L979.9 2657.7L982.0 2657.1L984.0 2656.6L986.1 2656.1L988.2 2655.6L990.3 2655.2L992.3 2654.7L994.3 2654.2L996.3 2653.8L998.2 2653.4L1000.0 2653.0L1002.2 2652.5L1004.3 2652.1L1006.4 2651.7L1008.4 2651.3L1010.4 2651.0L1012.4 2650.6L1014.4 2650.3L1016.4 2650.0L1018.4 2649.7L1020.5 2649.4L1022.7 2649.1L1025.0 2648.8L1026.8 2648.5L1028.7 2648.3L1030.6 2648.1L1032.6 2647.9L1034.6 2647.7L1036.6 2647.5L1038.7 2647.3L1040.8 2647.1L1042.9 2647.0L1045.0 2646.8L1047.1 2646.6L1049.2 2646.4L1051.4 2646.2L1053.5 2646.0L1055.6 2645.8L1057.6 2645.5L1059.7 2645.3L1061.7 2645.0L1063.7 2644.7L1065.6 2644.3L1067.7 2643.9L1069.8 2643.5L1071.9 2643.0L1073.9 2642.4L1075.9 2641.9L1077.8 2641.3L1079.8 2640.7L1081.8 2640.1L1083.7 2639.5L1085.7 2639.0L1087.7 2638.4L1089.7 2637.8L1091.7 2637.3L1093.8 2636.9L1095.9 2636.4L1098.0 2636.0L1099.9 2635.7L1101.8 2635.5L1103.7 2635.2L1105.6 2635.0L1107.6 2634.8L1109.6 2634.6L1111.6 2634.5L1113.6 2634.3L1115.6 2634.2L1117.6 2634.0L1119.7 2633.9L1121.7 2633.8L1123.8 2633.7L1125.8 2633.6L1127.9 2633.5L1129.9 2633.4L1131.9 2633.4L1134.0 2633.3L1136.0 2633.2L1138.0 2633.1L1140.0 2633.0L1142.1 2632.9L1144.1 2632.8L1146.2 2632.7L1148.2 2632.6L1150.3 2632.4L1152.4 2632.3L1154.4 2632.2L1156.5 2632.1L1158.6 2632.0L1160.6 2631.9L1162.7 2631.9L1164.7 2631.8L1166.8 2631.7L1168.8 2631.7L1170.8 2631.7L1172.9 2631.7L1174.9 2631.7L1177.0 2631.8L1179.0 2631.9L1181.0 2632.0L1183.1 2632.1L1185.2 2632.3L1187.2 2632.5L1189.3 2632.7L1191.3 2633.0L1193.4 2633.3L1195.4 2633.6L1197.5 2633.9L1199.5 2634.2L1201.5 2634.5L1203.6 2634.9L1205.6 2635.2L1207.7 2635.6L1209.7 2636.0L1211.7 2636.4L1213.8 2636.8L1215.9 2637.2L1217.9 2637.6L1220.0 2638.0L1222.0 2638.4L1223.9 2638.8L1225.8 2639.3L1227.8 2639.7L1229.7 2640.2L1231.7 2640.7L1233.6 2641.2L1235.5 2641.8L1237.5 2642.3L1239.4 2642.8L1241.4 2643.4L1243.4 2643.9L1245.3 2644.4L1247.3 2644.9L1249.3 2645.4L1251.3 2645.9L1253.4 2646.4L1255.4 2646.8L1257.5 2647.2L1259.6 2647.6L1261.7 2648.0L1263.6 2648.3L1265.4 2648.6L1267.3 2648.9L1269.1 2649.1L1271.0 2649.4L1272.8 2649.7L1274.7 2649.9L1276.5 2650.1L1278.4 2650.4L1280.3 2650.6L1282.2 2650.8L1284.1 2651.0L1286.0 2651.2L1288.0 2651.3L1290.0 2651.5L1291.9 2651.7L1293.9 2651.8L1296.0 2652.0L1298.0 2652.1L1300.1 2652.2L1302.2 2652.4L1304.4 2652.5L1306.5 2652.6L1308.8 2652.7L1311.0 2652.8L1313.3 2652.9L1315.6 2653.0L1317.3 2653.1L1319.0 2653.1L1320.8 2653.2L1322.6 2653.2L1324.4 2653.2L1326.2 2653.3L1328.1 2653.3L1330.0 2653.3L1331.9 2653.3L1333.9 2653.3L1335.8 2653.3L1337.8 2653.3L1339.8 2653.3L1341.8 2653.3L1343.9 2653.3L1345.9 2653.3L1348.0 2653.2L1350.1 2653.2L1352.2 2653.2L1354.3 2653.1L1356.4 2653.1L1358.5 2653.1L1360.7 2653.0L1362.8 2653.0L1365.0 2652.9L1367.1 2652.9L1369.3 2652.8L1371.5 2652.8L1373.6 2652.7L1375.8 2652.6L1378.0 2652.6L1380.1 2652.5L1382.3 2652.4L1384.5 2652.4L1386.6 2652.3L1388.8 2652.2L1390.9 2652.1L1393.0 2652.1L1395.2 2652.0L1397.3 2651.9L1399.4 2651.9L1401.5 2651.8L1403.6 2651.7L1405.7 2651.6L1407.7 2651.6L1409.8 2651.5L1411.8 2651.4L1413.8 2651.3L1415.8 2651.3L1417.7 2651.2L1419.7 2651.1L1421.6 2651.1L1423.5 2651.0L1425.7 2650.9L1427.8 2650.8L1429.9 2650.8L1432.0 2650.7L1434.1 2650.6L1436.2 2650.5L1438.3 2650.4L1440.4 2650.3L1442.4 2650.2L1444.4 2650.1L1446.5 2650.0L1448.5 2649.9L1450.5 2649.7L1452.5 2649.6L1454.5 2649.5L1456.5 2649.4L1458.5 2649.3L1460.5 2649.2L1462.5 2649.1L1464.5 2648.9L1466.4 2648.8L1468.4 2648.7L1470.4 2648.6L1472.3 2648.5L1474.3 2648.4L1476.3 2648.3L1478.2 2648.2L1480.2 2648.0L1482.2 2647.9L1484.1 2647.8L1486.1 2647.7L1488.1 2647.6L1490.0 2647.5L1492.0 2647.5L1494.0 2647.4L1496.0 2647.3L1498.0 2647.2L1500.0 2647.1L1502.0 2647.1L1504.0 2647.0L1506.0 2646.9L1508.0 2646.9L1510.0 2646.8L1512.0 2646.8L1514.0 2646.7L1516.0 2646.7L1518.0 2646.6L1520.0 2646.6L1522.0 2646.6L1524.0 2646.5L1525.9 2646.5L1527.9 2646.4L1529.9 2646.4L1531.9 2646.4L1533.8 2646.4L1535.8 2646.3L1537.8 2646.3L1539.8 2646.3L1541.8 2646.3L1543.8 2646.3L1545.7 2646.2L1547.7 2646.2L1549.7 2646.2L1551.7 2646.2L1553.8 2646.2L1555.8 2646.2L1557.8 2646.1L1559.8 2646.1L1561.9 2646.1L1563.9 2646.1L1566.0 2646.1L1568.1 2646.1L1570.1 2646.1L1572.2 2646.1L1574.3 2646.1L1576.4 2646.0L1578.6 2646.0L1580.7 2646.0L1582.8 2646.0L1585.0 2646.0L1586.9 2646.0L1588.7 2646.0L1590.6 2646.0L1592.5 2646.0L1594.4 2645.9L1596.3 2645.9L1598.2 2645.9L1600.2 2645.9L1602.1 2645.9L1604.0 2645.9L1606.0 2645.9L1608.0 2645.8L1609.9 2645.8L1611.9 2645.8L1613.9 2645.8L1615.9 2645.8L1617.9 2645.8L1619.9 2645.8L1621.9 2645.7L1623.9 2645.7L1625.9 2645.7L1627.9 2645.7L1629.9 2645.7L1631.9 2645.7L1634.0 2645.7L1636.0 2645.7L1638.0 2645.7L1640.1 2645.7L1642.1 2645.7L1644.2 2645.7L1646.2 2645.7L1648.2 2645.7L1650.3 2645.7L1652.3 2645.7L1654.4 2645.7L1656.4 2645.7L1658.5 2645.7L1660.5 2645.7L1662.6 2645.7L1664.6 2645.7L1666.7 2645.7L1668.7 2645.7L1670.7 2645.7L1672.8 2645.7L1674.8 2645.8L1676.9 2645.8L1678.9 2645.8L1680.9 2645.8L1682.9 2645.8L1685.0 2645.9L1687.0 2645.9L1689.0 2645.9L1691.0 2646.0L1693.0 2646.0L1695.0 2646.0L1697.0 2646.1L1699.1 2646.1L1701.1 2646.2L1703.2 2646.2L1705.3 2646.3L1707.3 2646.4L1709.4 2646.4L1711.5 2646.5L1713.6 2646.6L1715.8 2646.7L1717.9 2646.7L1720.0 2646.8L1722.1 2646.9L1724.3 2647.0L1726.4 2647.1L1728.5 2647.2L1730.7 2647.3L1732.8 2647.4L1735.0 2647.5L1737.1 2647.6L1739.2 2647.7L1741.4 2647.8L1743.5 2647.9L1745.6 2648.0L1747.7 2648.1L1749.8 2648.2L1751.9 2648.3L1754.0 2648.4L1756.1 2648.5L1758.2 2648.6L1760.2 2648.7L1762.3 2648.7L1764.3 2648.8L1766.4 2648.9L1768.4 2649.0L1770.4 2649.1L1772.3 2649.2L1774.3 2649.3L1776.2 2649.3L1778.2 2649.4L1780.1 2649.5L1781.9 2649.6L1783.8 2649.6L1785.6 2649.7L1787.4 2649.7L1789.2 2649.8L1791.0 2649.8L1792.7 2649.9L1794.4 2649.9L1796.1 2649.9L1797.8 2650.0L1799.4 2650.0L1801.0 2650.0L1803.4 2650.0L1805.7 2650.0L1808.0 2650.0L1810.1 2650.0L1812.3 2650.0L1814.4 2649.9L1816.4 2649.9L1818.4 2649.9L1820.4 2649.8L1822.3 2649.8L1824.3 2649.7L1826.2 2649.6L1828.0 2649.6L1829.9 2649.5L1831.8 2649.5L1833.6 2649.4L1835.5 2649.3L1837.4 2649.3L1839.2 2649.2L1841.1 2649.2L1843.1 2649.1L1845.0 2649.0L1847.0 2649.0" stroke="#008000" stroke-dasharray="43.00 36.00 8.00 37.00 8.00 37.00"/>
<path d="M203.0 2907.0L205.0 2907.0L207.0 2907.0L209.1 2907.0L211.1 2907.0L213.2 2907.0L215.3 2907.0L217.4 2907.0L219.5 2907.0L221.7 2907.0L223.8 2907.0L226.0 2907.0L228.1 2907.0L230.3 2907.1L232.5 2907.1L234.7 2907.1L236.9 2907.1L239.2 2907.1L241.4 2907.1L243.7 2907.1L245.9 2907.1L248.2 2907.1L250.5 2907.1L252.8 2907.2L255.1 2907.2L257.4 2907.2L259.8 2907.2L262.1 2907.2L264.5 2907.2L266.8 2907.2L269.2 2907.3L271.6 2907.3L273.9 2907.3L276.3 2907.3L278.7 2907.3L281.1 2907.3L283.5 2907.4L286.0 2907.4L288.4 2907.4L290.8 2907.4L293.3 2907.4L295.7 2907.5L298.2 2907.5L300.6 2907.5L303.1 2907.5L305.5 2907.5L308.0 2907.6L310.5 2907.6L313.0 2907.6L315.5 2907.6L318.0 2907.6L320.4 2907.7L322.9 2907.7L325.4 2907.7L327.9 2907.7L330.4 2907.7L332.9 2907.8L335.5 2907.8L338.0 2907.8L340.5 2907.8L343.0 2907.9L345.5 2907.9L348.0 2907.9L350.5 2907.9L353.0 2907.9L355.6 2908.0L358.1 2908.0L360.6 2908.0L363.1 2908.0L365.6 2908.1L368.1 2908.1L370.6 2908.1L373.2 2908.1L375.7 2908.1L378.2 2908.2L380.7 2908.2L383.2 2908.2L385.7 2908.2L388.2 2908.2L390.6 2908.3L393.1 2908.3L395.6 2908.3L398.1 2908.3L400.6 2908.4L403.0 2908.4L405.5 2908.4L408.0 2908.4L410.4 2908.4L412.9 2908.5L415.3 2908.5L417.8 2908.5L420.2 2908.5L422.6 2908.5L425.0 2908.5L427.4 2908.6L429.8 2908.6L432.2 2908.6L434.6 2908.6L437.0 2908.6L439.4 2908.6L441.7 2908.7L444.1 2908.7L446.4 2908.7L448.8 2908.7L451.1 2908.7L453.4 2908.7L455.7 2908.7L458.0 2908.8L460.3 2908.8L462.6 2908.8L464.8 2908.8L467.1 2908.8L469.3 2908.8L471.6 2908.8L473.8 2908.8L476.0 2908.8L478.2 2908.8L480.4 2908.9L482.5 2908.9L484.7 2908.9L486.8 2908.9L488.9 2908.9L491.1 2908.9L493.2 2908.9L495.2 2908.9L497.3 2908.9L499.4 2908.9L501.4 2908.9L503.4 2908.9L505.4 2908.9L507.4 2908.9L509.4 2908.9L511.4 2908.9L513.3 2908.9L515.2 2908.9L517.1 2908.9L519.0 2908.9L520.9 2908.9L522.8 2908.9L524.6 2908.9L526.4 2908.8L528.2 2908.8L530.0 2908.8L531.8 2908.8L533.5 2908.8L535.2 2908.8L536.9 2908.8L538.6 2908.8L540.3 2908.7L541.9 2908.7L543.5 2908.7L545.1 2908.7L546.7 2908.7L548.3 2908.7L549.8 2908.6L551.3 2908.6L552.8 2908.6L554.3 2908.6L555.7 2908.5L557.2 2908.5L558.6 2908.5L559.9 2908.5L561.3 2908.4L562.6 2908.4L563.9 2908.4L565.2 2908.3L566.5 2908.3L567.7 2908.3L568.9 2908.2L570.1 2908.2L571.2 2908.2L572.4 2908.1L573.5 2908.1L574.6 2908.0L575.6 2908.0L576.7 2907.9L577.7 2907.9L578.7 2907.9L579.7 2907.8L580.6 2907.8L581.5 2907.7L582.4 2907.7L583.3 2907.6L584.2 2907.6L585.0 2907.5L585.8 2907.5L586.5 2907.4L587.3 2907.4L588.0 2907.3L588.6 2907.2L589.3 2907.2L589.9 2907.1L590.5 2907.1L591.0 2907.0L594.6 2906.6L596.8 2906.2L598.6 2905.1L599.7 2903.9L600.6 2902.3L601.4 2900.5L602.1 2898.4L602.7 2896.1L603.2 2893.8L603.8 2891.5L604.2 2889.9L604.6 2888.3L604.9 2886.7L605.3 2884.9L605.6 2883.2L605.9 2881.3L606.2 2879.5L606.5 2877.6L606.8 2875.7L607.1 2873.7L607.3 2871.7L607.6 2869.8L607.8 2867.8L608.1 2865.8L608.4 2863.8L608.6 2861.9L608.9 2860.2L609.1 2858.5L609.3 2856.8L609.5 2855.1L609.7 2853.3L609.9 2851.6L610.1 2849.8L610.3 2848.0L610.5 2846.2L610.7 2844.4L610.9 2842.6L611.1 2840.9L611.2 2839.1L611.4 2837.3L611.6 2835.5L611.8 2833.7L612.0 2831.9L612.2 2830.2L612.4 2828.4L612.6 2826.7L612.8 2825.0L613.0 2823.2L613.2 2821.4L613.4 2819.7L613.6 2818.0L613.8 2816.2L614.1 2814.5L614.3 2812.9L614.5 2811.2L614.7 2809.5L614.9 2807.8L615.1 2806.1L615.4 2804.4L615.6 2802.6L615.8 2800.9L616.0 2799.1L616.2 2797.3L616.4 2795.4L616.6 2793.6L616.8 2791.6L616.9 2790.1L617.1 2788.5L617.2 2786.9L617.4 2785.3L617.5 2783.7L617.7 2782.0L617.8 2780.3L618.0 2778.6L618.1 2776.9L618.2 2775.2L618.4 2773.5L618.5 2771.7L618.6 2770.0L618.8 2768.2L618.9 2766.4L619.0 2764.7L619.2 2762.9L619.3 2761.1L619.4 2759.3L619.6 2757.5L619.7 2755.7L619.8 2754.0L620.0 2752.2L620.1 2750.4L620.2 2748.7L620.4 2746.9L620.5 2745.2L620.6 2743.4L620.8 2741.7L620.9 2740.0L621.0 2738.3L621.2 2736.6L621.3 2734.9L621.4 2733.3L621.6 2731.6L621.7 2729.9L621.8 2728.3L622.0 2726.6L622.1 2725.0L622.3 2723.3L622.4 2721.7L622.5 2720.0L622.7 2718.4L622.8 2716.7L622.9 2715.1L623.1 2713.4L623.2 2711.8L623.3 2710.1L623.5 2708.5L623.6 2706.8L623.7 2705.1L623.9 2703.4L624.0 2701.7L624.1 2700.0L624.3 2698.3L624.4 2696.6L624.5 2694.8L624.6 2693.1L624.8 2691.3L624.9 2689.5L625.0 2688.0L625.1 2686.4L625.2 2684.9L625.3 2683.3L625.4 2681.7L625.5 2680.2L625.6 2678.6L625.8 2677.0L625.9 2675.3L626.0 2673.7L626.1 2672.1L626.2 2670.5L626.3 2668.8L626.4 2667.2L626.5 2665.6L626.6 2663.9L626.7 2662.3L626.8 2660.6L626.9 2658.9L627.0 2657.3L627.1 2655.6L627.2 2653.9L627.3 2652.3L627.4 2650.6L627.5 2648.9L627.6 2647.3L627.7 2645.6L627.8 2643.9L627.9 2642.2L628.0 2640.6L628.1 2638.9L628.2 2637.3L628.3 2635.6L628.4 2633.9L628.5 2632.3L628.6 2630.6L628.7 2629.0L628.8 2627.3L628.9 2625.7L629.0 2624.1L629.1 2622.4L629.2 2620.8L629.3 2619.2L629.4 2617.5L629.5 2615.9L629.6 2614.3L629.7 2612.6L629.8 2611.0L629.9 2609.4L630.0 2607.7L630.1 2606.1L630.2 2604.5L630.3 2602.8L630.4 2601.2L630.5 2599.6L630.6 2597.9L630.7 2596.3L630.8 2594.7L630.9 2593.0L631.0 2591.4L631.1 2589.8L631.2 2588.2L631.3 2586.5L631.4 2584.9L631.5 2583.3L631.6 2581.7L631.7 2580.0L631.8 2578.4L631.9 2576.8L632.0 2575.2L632.1 2573.5L632.2 2571.9L632.3 2570.3L632.4 2568.7L632.5 2567.1L632.6 2565.4L632.7 2563.8L632.8 2562.2L632.9 2560.6L633.0 2559.0L633.1 2557.4L633.2 2555.7L633.3 2554.1L633.4 2552.5L633.5 2550.9L633.6 2549.3L633.7 2547.7L633.8 2546.1L633.9 2544.5L634.0 2542.9L634.1 2541.2L634.2 2539.6L634.3 2538.0L634.4 2536.4L634.5 2534.8L634.6 2533.2L634.7 2531.6L634.8 2530.0L634.9 2528.4L635.0 2526.8L635.1 2525.2L635.2 2523.6L635.3 2522.0L635.4 2520.4L635.5 2518.8L635.6 2517.2L635.7 2515.6L635.8 2514.0L635.9 2512.4L636.0 2510.8L636.1 2509.2L636.2 2507.6L636.3 2506.0L636.4 2504.4L636.5 2502.8L636.6 2501.2L636.7 2499.6L636.8 2498.0L636.9 2496.4L637.0 2494.8L637.1 2493.2L637.2 2491.6L637.3 2490.0L637.4 2488.4L637.5 2486.8L637.6 2485.2L637.7 2483.6L637.8 2482.0L637.9 2480.4L638.0 2478.8L638.1 2477.2L638.2 2475.6L638.3 2474.0L638.4 2472.4L638.5 2470.8L638.6 2469.2L638.7 2467.6L638.8 2466.0L638.9 2464.4L639.1 2462.8L639.2 2461.2L639.3 2459.6L639.4 2458.0L639.5 2456.4L639.6 2454.8L639.7 2453.2L639.8 2451.6L639.9 2450.1L640.0 2448.5L640.1 2446.9L640.2 2445.3L640.3 2443.8L640.3 2442.2L640.4 2440.6L640.5 2439.1L640.6 2437.5L640.7 2436.0L640.8 2434.4L640.9 2432.9L641.0 2431.3L641.1 2429.7L641.2 2428.0L641.3 2426.4L641.4 2424.8L641.5 2423.2L641.6 2421.6L641.6 2420.0L641.7 2418.4L641.8 2416.8L641.9 2415.2L642.0 2413.6L642.1 2412.0L642.2 2410.5L642.2 2408.9L642.3 2407.3L642.4 2405.7L642.5 2404.2L642.6 2402.6L642.6 2401.0L642.7 2399.4L642.8 2397.9L642.9 2396.3L643.0 2394.7L643.1 2393.1L643.1 2391.5L643.2 2389.9L643.3 2388.4L643.4 2386.8L643.5 2385.2L643.6 2383.6L643.6 2381.9L643.7 2380.3L643.8 2378.7L643.9 2377.1L644.0 2375.4L644.1 2373.9L644.2 2372.4L644.3 2370.8L644.3 2369.3L644.4 2367.7L644.5 2366.2L644.6 2364.6L644.7 2363.0L644.8 2361.5L644.8 2359.9L644.9 2358.3L645.0 2356.7L645.1 2355.1L645.2 2353.5L645.3 2352.0L645.4 2350.4L645.5 2348.8L645.5 2347.2L645.6 2345.6L645.7 2344.0L645.8 2342.4L645.9 2340.8L646.0 2339.2L646.1 2337.6L646.2 2336.0L646.2 2334.4L646.3 2332.8L646.4 2331.2L646.5 2329.7L646.6 2328.1L646.7 2326.5L646.8 2324.9L646.9 2323.4L647.0 2321.8L647.0 2320.3L647.1 2318.7L647.2 2317.2L647.3 2315.6L647.4 2314.1L647.5 2312.6L647.6 2311.0L647.7 2309.3L647.8 2307.7L647.9 2306.0L648.0 2304.3L648.1 2302.6L648.2 2301.0L648.3 2299.3L648.4 2297.6L648.4 2295.9L648.5 2294.2L648.6 2292.5L648.7 2290.8L648.8 2289.2L648.9 2287.5L649.0 2285.8L649.1 2284.2L649.2 2282.5L649.3 2280.9L649.4 2279.3L649.5 2277.7L649.6 2276.1L649.7 2274.5L649.8 2273.0L649.9 2271.4L650.0 2269.9L650.1 2268.4L650.2 2267.0L650.3 2265.5L650.4 2264.1L650.5 2262.8L650.7 2261.4L650.8 2260.1L650.9 2258.8L651.0 2257.6L651.2 2255.7L651.4 2253.9L651.5 2252.1L651.7 2250.3L651.9 2248.6L652.0 2246.9L652.2 2245.3L652.4 2243.7L652.6 2242.2L652.8 2240.8L653.0 2239.3L653.2 2238.0L653.5 2236.7L653.7 2235.4L654.0 2234.3L654.5 2232.0L655.1 2229.7L655.7 2227.7L656.3 2226.3L657.0 2225.7L658.0 2226.6L659.0 2228.6L660.0 2231.0L660.4 2232.1L660.8 2233.2L661.1 2234.5L661.5 2235.8L661.8 2237.2L662.2 2238.6L662.5 2240.2L662.8 2241.8L663.1 2243.5L663.4 2245.2L663.7 2247.0L664.0 2248.9L664.2 2250.0L664.3 2251.2L664.5 2252.4L664.7 2253.6L664.8 2254.9L665.0 2256.3L665.2 2257.6L665.3 2259.1L665.5 2260.5L665.6 2262.0L665.8 2263.5L665.9 2265.0L666.1 2266.5L666.2 2268.1L666.4 2269.7L666.5 2271.3L666.6 2272.9L666.8 2274.6L666.9 2276.2L667.0 2277.9L667.2 2279.5L667.3 2281.2L667.4 2282.9L667.6 2284.6L667.7 2286.2L667.8 2287.9L668.0 2289.6L668.1 2291.2L668.2 2292.9L668.4 2294.5L668.5 2296.1L668.6 2297.7L668.7 2299.3L668.9 2300.9L669.0 2302.4L669.1 2303.9L669.3 2305.5L669.4 2307.0L669.5 2308.6L669.6 2310.1L669.7 2311.6L669.9 2313.2L670.0 2314.7L670.1 2316.3L670.2 2317.9L670.3 2319.4L670.5 2321.0L670.6 2322.5L670.7 2324.1L670.8 2325.6L670.9 2327.2L671.0 2328.7L671.1 2330.3L671.2 2331.8L671.4 2333.4L671.5 2334.9L671.6 2336.5L671.7 2338.0L671.8 2339.6L671.9 2341.1L672.0 2342.6L672.1 2344.2L672.2 2345.7L672.3 2347.2L672.4 2348.7L672.6 2350.2L672.7 2351.7L672.8 2353.2L672.9 2354.7L673.0 2356.2L673.1 2357.8L673.2 2359.3L673.4 2360.9L673.5 2362.5L673.6 2364.1L673.7 2365.6L673.8 2367.2L674.0 2368.8L674.1 2370.3L674.2 2371.9L674.3 2373.4L674.5 2375.0L674.6 2376.5L674.7 2378.0L674.8 2379.6L674.9 2381.1L675.1 2382.6L675.2 2384.1L675.3 2385.7L675.4 2387.2L675.5 2388.7L675.6 2390.2L675.7 2391.7L675.9 2393.2L676.0 2394.7L676.1 2396.2L676.2 2397.7L676.3 2399.2L676.4 2400.6L676.5 2402.1L676.6 2403.8L676.7 2405.4L676.8 2407.0L676.9 2408.5L677.0 2410.1L677.1 2411.6L677.2 2413.2L677.3 2414.7L677.4 2416.2L677.5 2417.8L677.6 2419.3L677.7 2420.8L677.8 2422.3L677.9 2423.9L678.0 2425.4L678.1 2427.0L678.2 2428.6L678.3 2430.1L678.4 2431.8L678.5 2433.4L678.6 2435.0L678.7 2436.7L678.8 2438.4L678.9 2440.1L679.0 2441.9L679.1 2443.3L679.2 2444.7L679.3 2446.2L679.4 2447.7L679.5 2449.2L679.6 2450.7L679.6 2452.3L679.7 2453.8L679.8 2455.4L679.9 2457.0L680.0 2458.6L680.1 2460.2L680.2 2461.8L680.3 2463.4L680.5 2465.1L680.6 2466.7L680.7 2468.4L680.8 2470.1L680.9 2471.7L681.0 2473.4L681.1 2475.1L681.2 2476.8L681.3 2478.4L681.4 2480.1L681.5 2481.8L681.6 2483.4L681.7 2485.1L681.8 2486.7L681.9 2488.4L682.0 2490.0L682.1 2491.6L682.2 2493.3L682.3 2494.9L682.4 2496.4L682.5 2498.0L682.6 2499.6L682.7 2501.1L682.8 2502.6L682.9 2504.1L683.0 2505.6L683.1 2507.3L683.2 2509.0L683.3 2510.7L683.4 2512.4L683.5 2514.1L683.6 2515.8L683.7 2517.5L683.8 2519.2L683.9 2520.9L684.0 2522.5L684.1 2524.2L684.2 2525.8L684.2 2527.5L684.3 2529.1L684.4 2530.7L684.5 2532.3L684.6 2533.9L684.7 2535.4L684.8 2537.0L684.9 2538.5L685.0 2540.1L685.1 2541.6L685.2 2543.1L685.4 2544.6L685.5 2546.0L685.6 2547.5L685.7 2548.9L685.9 2550.3L686.0 2551.7L686.2 2553.4L686.4 2555.1L686.6 2556.7L686.7 2558.3L687.0 2559.9L687.2 2561.5L687.4 2563.0L687.6 2564.5L687.8 2566.0L688.0 2567.5L688.2 2568.9L688.5 2570.4L688.7 2571.8L688.9 2573.3L689.1 2574.7L689.4 2576.1L689.6 2577.5L689.8 2579.0L690.0 2580.4L690.2 2582.0L690.5 2583.6L690.7 2585.2L690.9 2586.7L691.1 2588.3L691.3 2589.9L691.6 2591.4L691.8 2593.0L692.0 2594.5L692.2 2596.0L692.5 2597.5L692.7 2599.0L693.0 2600.5L693.2 2602.0L693.5 2603.4L693.8 2605.0L694.2 2606.6L694.5 2608.2L694.9 2609.8L695.2 2611.3L695.6 2612.8L696.0 2614.3L696.4 2615.7L696.7 2617.1L697.1 2618.5L697.5 2619.9L698.0 2621.6L698.4 2623.2L698.9 2624.8L699.4 2626.4L699.9 2627.9L700.4 2629.4L701.0 2630.9L701.5 2632.3L702.1 2633.8L702.7 2635.4L703.4 2636.9L704.0 2638.5L704.7 2640.1L705.4 2641.7L706.1 2643.3L706.9 2644.9L707.6 2646.6L708.4 2648.2L709.2 2649.9L710.0 2651.5L710.9 2652.8L711.8 2654.1L712.6 2655.4L713.4 2656.8L714.2 2658.3L715.0 2659.7L715.9 2661.0L716.9 2662.1L718.0 2662.9L719.2 2663.3L720.9 2663.3L722.8 2662.2L724.8 2660.6L727.0 2658.9L729.1 2657.0L731.2 2655.1L733.1 2653.0L735.0 2650.4L736.9 2647.7L738.8 2645.0L740.6 2642.5L742.3 2640.6L744.0 2639.7L745.7 2639.7L747.2 2640.3L748.7 2641.3L750.3 2642.5L752.0 2643.7L753.4 2644.6L754.9 2645.6L756.5 2646.7L758.1 2648.0L759.8 2649.2L761.5 2650.6L763.2 2652.0L764.8 2653.4L766.4 2654.9L768.0 2656.4L769.4 2657.8L770.9 2659.2L772.3 2660.7L773.7 2662.2L775.0 2663.8L776.4 2665.3L777.8 2666.9L779.1 2668.5L780.4 2670.2L781.7 2671.8L783.0 2673.5L784.3 2675.2L785.5 2676.9L786.8 2678.7L788.0 2680.5L789.2 2682.3L790.4 2684.1L791.5 2685.9L792.7 2687.8L793.8 2689.6L794.9 2691.4L796.0 2693.2L797.1 2695.0L798.1 2696.8L799.1 2698.6L800.1 2700.4L801.1 2702.2L802.0 2703.9L803.0 2705.7L804.0 2707.5L805.0 2709.3L806.0 2711.1L807.0 2712.9L808.0 2714.7L809.0 2716.6L810.0 2718.5L811.0 2720.3L812.1 2722.2L813.2 2724.0L814.4 2725.7L815.6 2727.5L817.0 2729.2L818.4 2730.8L820.0 2732.5L821.6 2734.3L823.3 2736.0L825.0 2737.6L826.8 2739.2L828.6 2740.6L830.5 2742.0L832.3 2743.1L834.2 2744.0L836.0 2744.7L838.0 2745.1L840.1 2745.3L842.2 2745.3L844.4 2745.0L846.5 2744.6L848.7 2744.0L850.8 2743.4L852.9 2742.7L855.0 2742.0L856.9 2741.3L858.7 2740.5L860.5 2739.7L862.3 2738.7L864.1 2737.7L865.8 2736.6L867.6 2735.5L869.4 2734.3L871.3 2733.0L873.1 2731.7L875.0 2730.3L876.4 2729.3L877.7 2728.2L879.1 2727.0L880.4 2725.8L881.8 2724.5L883.2 2723.2L884.6 2721.8L885.9 2720.4L887.3 2719.0L888.8 2717.5L890.2 2716.1L891.6 2714.7L893.1 2713.3L894.6 2711.9L896.1 2710.5L897.6 2709.1L899.2 2707.8L900.7 2706.6L902.4 2705.3L904.0 2704.1L905.6 2703.0L907.3 2701.9L909.1 2700.8L910.9 2699.7L912.7 2698.7L914.6 2697.7L916.5 2696.7L918.4 2695.7L920.3 2694.8L922.3 2693.8L924.2 2692.9L926.2 2692.0L928.1 2691.1L930.0 2690.3L931.9 2689.4L933.8 2688.6L935.6 2687.8L937.4 2687.0L939.1 2686.2L940.8 2685.4L942.4 2684.6L944.0 2683.9L946.1 2682.8L948.0 2681.9L949.9 2680.9L951.7 2680.0L953.4 2679.1L955.1 2678.2L956.8 2677.4L958.6 2676.6L960.5 2675.8L962.4 2675.0L964.5 2674.3L966.2 2673.7L968.0 2673.2L969.9 2672.6L971.8 2672.1L973.8 2671.6L975.8 2671.0L977.8 2670.5L979.9 2670.1L982.0 2669.6L984.0 2669.1L986.1 2668.7L988.2 2668.3L990.3 2667.9L992.3 2667.5L994.3 2667.1L996.3 2666.7L998.2 2666.3L1000.0 2666.0L1002.2 2665.5L1004.3 2665.0L1006.4 2664.5L1008.4 2664.1L1010.4 2663.7L1012.4 2663.3L1014.4 2662.9L1016.4 2662.5L1018.4 2662.1L1020.5 2661.8L1022.7 2661.4L1025.0 2661.0L1026.8 2660.7L1028.7 2660.4L1030.6 2660.2L1032.6 2659.9L1034.6 2659.7L1036.6 2659.4L1038.7 2659.2L1040.8 2658.9L1042.9 2658.7L1045.0 2658.4L1047.1 2658.2L1049.2 2657.9L1051.4 2657.7L1053.5 2657.4L1055.6 2657.1L1057.6 2656.8L1059.7 2656.5L1061.7 2656.1L1063.7 2655.8L1065.6 2655.4L1067.7 2654.9L1069.8 2654.4L1071.9 2653.8L1073.9 2653.2L1075.9 2652.6L1077.8 2652.0L1079.8 2651.3L1081.8 2650.7L1083.7 2650.0L1085.7 2649.4L1087.7 2648.8L1089.7 2648.2L1091.7 2647.6L1093.8 2647.0L1095.9 2646.5L1098.0 2646.1L1099.9 2645.7L1101.8 2645.4L1103.7 2645.1L1105.6 2644.8L1107.6 2644.6L1109.6 2644.3L1111.6 2644.1L1113.6 2643.9L1115.6 2643.7L1117.6 2643.5L1119.7 2643.3L1121.7 2643.2L1123.8 2643.0L1125.8 2642.8L1127.9 2642.7L1129.9 2642.5L1131.9 2642.4L1134.0 2642.2L1136.0 2642.1L1138.0 2642.0L1140.0 2641.8L1142.1 2641.6L1144.1 2641.5L1146.2 2641.3L1148.2 2641.1L1150.3 2640.9L1152.4 2640.8L1154.4 2640.6L1156.5 2640.4L1158.6 2640.3L1160.6 2640.1L1162.7 2640.0L1164.7 2639.8L1166.8 2639.7L1168.8 2639.6L1170.8 2639.6L1172.9 2639.5L1174.9 2639.5L1177.0 2639.5L1179.0 2639.5L1181.0 2639.6L1183.1 2639.7L1185.2 2639.8L1187.2 2639.9L1189.3 2640.1L1191.3 2640.3L1193.4 2640.5L1195.4 2640.7L1197.5 2640.9L1199.5 2641.2L1201.5 2641.5L1203.6 2641.9L1205.6 2642.2L1207.7 2642.6L1209.7 2643.0L1211.7 2643.4L1213.8 2643.8L1215.9 2644.2L1217.9 2644.6L1220.0 2645.0L1222.0 2645.4L1223.9 2645.8L1225.8 2646.3L1227.8 2646.7L1229.7 2647.2L1231.7 2647.7L1233.6 2648.2L1235.5 2648.8L1237.5 2649.3L1239.4 2649.8L1241.4 2650.4L1243.4 2650.9L1245.3 2651.4L1247.3 2651.9L1249.3 2652.4L1251.3 2652.9L1253.4 2653.4L1255.4 2653.8L1257.5 2654.2L1259.6 2654.6L1261.7 2655.0L1263.6 2655.3L1265.4 2655.6L1267.3 2655.9L1269.1 2656.1L1271.0 2656.4L1272.8 2656.7L1274.7 2656.9L1276.5 2657.1L1278.4 2657.4L1280.3 2657.6L1282.2 2657.8L1284.1 2658.0L1286.0 2658.2L1288.0 2658.3L1290.0 2658.5L1291.9 2658.7L1293.9 2658.8L1296.0 2659.0L1298.0 2659.1L1300.1 2659.2L1302.2 2659.4L1304.4 2659.5L1306.5 2659.6L1308.8 2659.7L1311.0 2659.8L1313.3 2659.9L1315.6 2660.0L1317.3 2660.1L1319.0 2660.1L1320.8 2660.2L1322.6 2660.2L1324.4 2660.2L1326.2 2660.3L1328.1 2660.3L1330.0 2660.3L1331.9 2660.3L1333.9 2660.3L1335.8 2660.3L1337.8 2660.3L1339.8 2660.3L1341.8 2660.3L1343.9 2660.3L1345.9 2660.3L1348.0 2660.2L1350.1 2660.2L1352.2 2660.2L1354.3 2660.1L1356.4 2660.1L1358.5 2660.1L1360.7 2660.0L1362.8 2660.0L1365.0 2659.9L1367.1 2659.9L1369.3 2659.8L1371.5 2659.8L1373.6 2659.7L1375.8 2659.6L1378.0 2659.6L1380.1 2659.5L1382.3 2659.4L1384.5 2659.4L1386.6 2659.3L1388.8 2659.2L1390.9 2659.1L1393.0 2659.1L1395.2 2659.0L1397.3 2658.9L1399.4 2658.9L1401.5 2658.8L1403.6 2658.7L1405.7 2658.6L1407.7 2658.6L1409.8 2658.5L1411.8 2658.4L1413.8 2658.3L1415.8 2658.3L1417.7 2658.2L1419.7 2658.1L1421.6 2658.1L1423.5 2658.0L1425.7 2657.9L1427.8 2657.8L1429.9 2657.8L1432.0 2657.7L1434.1 2657.6L1436.2 2657.5L1438.3 2657.4L1440.4 2657.3L1442.4 2657.2L1444.4 2657.1L1446.5 2657.0L1448.5 2656.9L1450.5 2656.7L1452.5 2656.6L1454.5 2656.5L1456.5 2656.4L1458.5 2656.3L1460.5 2656.2L1462.5 2656.1L1464.5 2655.9L1466.4 2655.8L1468.4 2655.7L1470.4 2655.6L1472.3 2655.5L1474.3 2655.4L1476.3 2655.3L1478.2 2655.2L1480.2 2655.0L1482.2 2654.9L1484.1 2654.8L1486.1 2654.7L1488.1 2654.6L1490.0 2654.5L1492.0 2654.5L1494.0 2654.4L1496.0 2654.3L1498.0 2654.2L1500.0 2654.1L1502.0 2654.1L1504.0 2654.0L1506.0 2653.9L1508.0 2653.9L1510.0 2653.8L1512.0 2653.8L1514.0 2653.7L1516.0 2653.7L1518.0 2653.6L1520.0 2653.6L1522.0 2653.6L1524.0 2653.5L1525.9 2653.5L1527.9 2653.4L1529.9 2653.4L1531.9 2653.4L1533.8 2653.4L1535.8 2653.3L1537.8 2653.3L1539.8 2653.3L1541.8 2653.3L1543.8 2653.3L1545.7 2653.2L1547.7 2653.2L1549.7 2653.2L1551.7 2653.2L1553.8 2653.2L1555.8 2653.2L1557.8 2653.1L1559.8 2653.1L1561.9 2653.1L1563.9 2653.1L1566.0 2653.1L1568.1 2653.1L1570.1 2653.1L1572.2 2653.1L1574.3 2653.1L1576.4 2653.0L1578.6 2653.0L1580.7 2653.0L1582.8 2653.0L1585.0 2653.0L1586.9 2653.0L1588.7 2653.0L1590.6 2653.0L1592.5 2653.0L1594.4 2652.9L1596.3 2652.9L1598.2 2652.9L1600.2 2652.9L1602.1 2652.9L1604.0 2652.9L1606.0 2652.9L1608.0 2652.8L1609.9 2652.8L1611.9 2652.8L1613.9 2652.8L1615.9 2652.8L1617.9 2652.8L1619.9 2652.8L1621.9 2652.7L1623.9 2652.7L1625.9 2652.7L1627.9 2652.7L1629.9 2652.7L1631.9 2652.7L1634.0 2652.7L1636.0 2652.7L1638.0 2652.7L1640.1 2652.7L1642.1 2652.7L1644.2 2652.7L1646.2 2652.7L1648.2 2652.7L1650.3 2652.7L1652.3 2652.7L1654.4 2652.7L1656.4 2652.7L1658.5 2652.7L1660.5 2652.7L1662.6 2652.7L1664.6 2652.7L1666.7 2652.7L1668.7 2652.7L1670.7 2652.7L1672.8 2652.7L1674.8 2652.8L1676.9 2652.8L1678.9 2652.8L1680.9 2652.8L1682.9 2652.8L1685.0 2652.9L1687.0 2652.9L1689.0 2652.9L1691.0 2653.0L1693.0 2653.0L1695.0 2653.0L1697.0 2653.1L1699.1 2653.1L1701.1 2653.2L1703.2 2653.2L1705.3 2653.3L1707.3 2653.4L1709.4 2653.4L1711.5 2653.5L1713.6 2653.6L1715.8 2653.7L1717.9 2653.7L1720.0 2653.8L1722.1 2653.9L1724.3 2654.0L1726.4 2654.1L1728.5 2654.2L1730.7 2654.3L1732.8 2654.4L1735.0 2654.5L1737.1 2654.6L1739.2 2654.7L1741.4 2654.8L1743.5 2654.9L1745.6 2655.0L1747.7 2655.1L1749.8 2655.2L1751.9 2655.3L1754.0 2655.4L1756.1 2655.5L1758.2 2655.6L1760.2 2655.7L1762.3 2655.7L1764.3 2655.8L1766.4 2655.9L1768.4 2656.0L1770.4 2656.1L1772.3 2656.2L1774.3 2656.3L1776.2 2656.3L1778.2 2656.4L1780.1 2656.5L1781.9 2656.6L1783.8 2656.6L1785.6 2656.7L1787.4 2656.7L1789.2 2656.8L1791.0 2656.8L1792.7 2656.9L1794.4 2656.9L1796.1 2656.9L1797.8 2657.0L1799.4 2657.0L1801.0 2657.0L1803.4 2657.0L1805.7 2657.0L1808.0 2657.0L1810.1 2657.0L1812.3 2657.0L1814.4 2656.9L1816.4 2656.9L1818.4 2656.9L1820.4 2656.8L1822.3 2656.8L1824.3 2656.7L1826.2 2656.6L1828.0 2656.6L1829.9 2656.5L1831.8 2656.5L1833.6 2656.4L1835.5 2656.3L1837.4 2656.3L1839.2 2656.2L1841.1 2656.2L1843.1 2656.1L1845.0 2656.0L1847.0 2656.0" stroke="#008080" stroke-dasharray="18.00 32.00"/>
<path d="M203.0 2907.0L205.0 2907.0L207.0 2907.0L209.1 2907.0L211.1 2907.0L213.2 2907.0L215.3 2907.0L217.4 2907.0L219.5 2907.0L221.7 2907.0L223.8 2907.0L226.0 2907.0L228.1 2907.0L230.3 2907.1L232.5 2907.1L234.7 2907.1L236.9 2907.1L239.2 2907.1L241.4 2907.1L243.7 2907.1L245.9 2907.1L248.2 2907.1L250.5 2907.1L252.8 2907.2L255.1 2907.2L257.4 2907.2L259.8 2907.2L262.1 2907.2L264.5 2907.2L266.8 2907.2L269.2 2907.3L271.6 2907.3L273.9 2907.3L276.3 2907.3L278.7 2907.3L281.1 2907.3L283.5 2907.4L286.0 2907.4L288.4 2907.4L290.8 2907.4L293.3 2907.4L295.7 2907.5L298.2 2907.5L300.6 2907.5L303.1 2907.5L305.5 2907.5L308.0 2907.6L310.5 2907.6L313.0 2907.6L315.5 2907.6L318.0 2907.6L320.4 2907.7L322.9 2907.7L325.4 2907.7L327.9 2907.7L330.4 2907.7L332.9 2907.8L335.5 2907.8L338.0 2907.8L340.5 2907.8L343.0 2907.9L345.5 2907.9L348.0 2907.9L350.5 2907.9L353.0 2907.9L355.6 2908.0L358.1 2908.0L360.6 2908.0L363.1 2908.0L365.6 2908.1L368.1 2908.1L370.6 2908.1L373.2 2908.1L375.7 2908.1L378.2 2908.2L380.7 2908.2L383.2 2908.2L385.7 2908.2L388.2 2908.2L390.6 2908.3L393.1 2908.3L395.6 2908.3L398.1 2908.3L400.6 2908.4L403.0 2908.4L405.5 2908.4L408.0 2908.4L410.4 2908.4L412.9 2908.5L415.3 2908.5L417.8 2908.5L420.2 2908.5L422.6 2908.5L425.0 2908.5L427.4 2908.6L429.8 2908.6L432.2 2908.6L434.6 2908.6L437.0 2908.6L439.4 2908.6L441.7 2908.7L444.1 2908.7L446.4 2908.7L448.8 2908.7L451.1 2908.7L453.4 2908.7L455.7 2908.7L458.0 2908.8L460.3 2908.8L462.6 2908.8L464.8 2908.8L467.1 2908.8L469.3 2908.8L471.6 2908.8L473.8 2908.8L476.0 2908.8L478.2 2908.8L480.4 2908.9L482.5 2908.9L484.7 2908.9L486.8 2908.9L488.9 2908.9L491.1 2908.9L493.2 2908.9L495.2 2908.9L497.3 2908.9L499.4 2908.9L501.4 2908.9L503.4 2908.9L505.4 2908.9L507.4 2908.9L509.4 2908.9L511.4 2908.9L513.3 2908.9L515.2 2908.9L517.1 2908.9L519.0 2908.9L520.9 2908.9L522.8 2908.9L524.6 2908.9L526.4 2908.9L528.2 2908.8L530.0 2908.8L531.8 2908.8L533.5 2908.8L535.2 2908.8L536.9 2908.8L538.6 2908.8L540.3 2908.8L541.9 2908.7L543.5 2908.7L545.1 2908.7L546.7 2908.7L548.3 2908.7L549.8 2908.6L551.3 2908.6L552.8 2908.6L554.3 2908.6L555.7 2908.6L557.1 2908.5L558.5 2908.5L559.9 2908.5L561.3 2908.4L562.6 2908.4L563.9 2908.4L565.2 2908.4L566.4 2908.3L567.7 2908.3L568.9 2908.3L570.1 2908.2L571.2 2908.2L572.4 2908.1L573.5 2908.1L574.5 2908.1L575.6 2908.0L576.6 2908.0L577.6 2907.9L578.6 2907.9L579.6 2907.8L580.5 2907.8L581.4 2907.7L582.3 2907.7L583.1 2907.6L583.9 2907.6L584.7 2907.5L585.5 2907.5L586.2 2907.4L586.9 2907.4L587.6 2907.3L588.2 2907.3L588.9 2907.2L589.4 2907.1L590.0 2907.1L590.5 2907.0L593.9 2906.6L596.0 2906.2L597.8 2905.0L598.9 2903.7L599.8 2902.0L600.5 2900.0L601.2 2897.8L601.8 2895.4L602.3 2892.9L602.9 2890.4L603.3 2888.7L603.7 2887.0L604.0 2885.2L604.3 2883.3L604.7 2881.4L605.0 2879.4L605.3 2877.4L605.6 2875.3L605.8 2873.2L606.1 2871.1L606.4 2868.9L606.6 2866.8L606.9 2864.6L607.1 2862.5L607.4 2860.3L607.7 2858.2L607.9 2856.3L608.1 2854.5L608.3 2852.6L608.5 2850.7L608.7 2848.8L608.9 2846.8L609.1 2844.9L609.3 2842.9L609.5 2841.0L609.7 2839.0L609.9 2837.0L610.1 2835.0L610.3 2833.0L610.5 2831.0L610.6 2829.1L610.8 2827.1L611.0 2825.1L611.2 2823.2L611.4 2821.2L611.6 2819.3L611.8 2817.4L612.0 2815.4L612.2 2813.4L612.4 2811.5L612.6 2809.5L612.9 2807.6L613.1 2805.7L613.3 2803.8L613.5 2801.9L613.7 2800.0L613.9 2798.0L614.1 2796.1L614.4 2794.2L614.6 2792.2L614.8 2790.2L615.0 2788.2L615.2 2786.2L615.4 2784.1L615.6 2781.9L615.8 2779.8L615.9 2778.0L616.1 2776.2L616.2 2774.4L616.4 2772.6L616.5 2770.7L616.7 2768.8L616.8 2766.9L617.0 2765.0L617.1 2763.1L617.2 2761.1L617.4 2759.2L617.5 2757.2L617.6 2755.2L617.8 2753.2L617.9 2751.2L618.0 2749.2L618.2 2747.1L618.3 2745.1L618.4 2743.1L618.6 2741.1L618.7 2739.0L618.8 2737.0L619.0 2735.0L619.1 2733.0L619.2 2730.9L619.4 2728.9L619.5 2726.9L619.6 2725.0L619.8 2723.0L619.9 2721.0L620.0 2719.1L620.2 2717.1L620.3 2715.2L620.4 2713.3L620.6 2711.3L620.7 2709.4L620.8 2707.5L621.0 2705.6L621.1 2703.7L621.3 2701.8L621.4 2699.9L621.5 2698.0L621.7 2696.1L621.8 2694.2L621.9 2692.3L622.1 2690.3L622.2 2688.4L622.3 2686.5L622.5 2684.6L622.6 2682.6L622.7 2680.7L622.9 2678.7L623.0 2676.7L623.1 2674.7L623.3 2672.7L623.4 2670.7L623.5 2668.7L623.6 2666.7L623.8 2664.6L623.9 2662.6L624.0 2660.8L624.1 2659.0L624.2 2657.1L624.3 2655.3L624.4 2653.5L624.5 2651.6L624.6 2649.8L624.8 2647.9L624.9 2646.0L625.0 2644.1L625.1 2642.3L625.2 2640.4L625.3 2638.5L625.4 2636.5L625.5 2634.6L625.6 2632.7L625.7 2630.8L625.8 2628.8L625.9 2626.9L626.0 2625.0L626.1 2623.0L626.2 2621.1L626.3 2619.1L626.4 2617.2L626.5 2615.2L626.6 2613.2L626.7 2611.3L626.8 2609.3L626.9 2607.4L627.0 2605.4L627.1 2603.5L627.2 2601.5L627.3 2599.6L627.4 2597.6L627.5 2595.7L627.6 2593.8L627.7 2591.8L627.8 2589.9L627.9 2588.0L628.0 2586.1L628.1 2584.1L628.2 2582.2L628.3 2580.3L628.4 2578.3L628.5 2576.4L628.6 2574.5L628.7 2572.6L628.8 2570.6L628.9 2568.7L629.0 2566.8L629.1 2564.8L629.2 2562.9L629.3 2561.0L629.4 2559.0L629.5 2557.1L629.6 2555.2L629.7 2553.3L629.8 2551.3L629.9 2549.4L630.0 2547.5L630.1 2545.5L630.2 2543.6L630.3 2541.7L630.4 2539.7L630.5 2537.8L630.6 2535.9L630.7 2533.9L630.8 2532.0L630.9 2530.1L631.0 2528.2L631.1 2526.2L631.2 2524.3L631.3 2522.4L631.4 2520.4L631.5 2518.5L631.6 2516.6L631.7 2514.7L631.8 2512.7L631.9 2510.8L632.0 2508.9L632.1 2506.9L632.2 2505.0L632.3 2503.1L632.4 2501.2L632.5 2499.2L632.6 2497.3L632.7 2495.4L632.8 2493.5L632.9 2491.5L633.0 2489.6L633.1 2487.7L633.2 2485.8L633.3 2483.8L633.4 2481.9L633.5 2480.0L633.6 2478.1L633.7 2476.2L633.8 2474.2L633.9 2472.3L634.0 2470.4L634.1 2468.5L634.2 2466.5L634.3 2464.6L634.4 2462.7L634.5 2460.8L634.6 2458.8L634.7 2456.9L634.8 2455.0L634.9 2453.1L635.0 2451.2L635.1 2449.2L635.2 2447.3L635.3 2445.4L635.4 2443.5L635.5 2441.5L635.6 2439.6L635.7 2437.7L635.8 2435.8L635.9 2433.9L636.0 2431.9L636.1 2430.0L636.2 2428.1L636.3 2426.2L636.4 2424.2L636.5 2422.3L636.6 2420.4L636.7 2418.4L636.8 2416.5L636.9 2414.5L637.0 2412.6L637.1 2410.7L637.2 2408.7L637.3 2406.8L637.4 2404.8L637.5 2402.9L637.6 2401.0L637.7 2399.0L637.8 2397.1L637.9 2395.2L638.1 2393.2L638.2 2391.3L638.3 2389.3L638.4 2387.4L638.5 2385.5L638.6 2383.6L638.7 2381.6L638.8 2379.7L638.9 2377.8L639.0 2375.9L639.1 2374.0L639.2 2372.1L639.3 2370.2L639.3 2368.3L639.4 2366.4L639.5 2364.5L639.6 2362.6L639.7 2360.7L639.8 2358.9L639.9 2357.0L640.0 2355.1L640.1 2353.2L640.2 2351.2L640.3 2349.2L640.4 2347.3L640.5 2345.3L640.6 2343.4L640.6 2341.5L640.7 2339.5L640.8 2337.6L640.9 2335.7L641.0 2333.8L641.1 2331.9L641.2 2330.0L641.2 2328.1L641.3 2326.2L641.4 2324.3L641.5 2322.4L641.6 2320.5L641.6 2318.6L641.7 2316.7L641.8 2314.8L641.9 2312.9L642.0 2311.0L642.1 2309.1L642.1 2307.2L642.2 2305.3L642.3 2303.4L642.4 2301.4L642.5 2299.5L642.6 2297.6L642.6 2295.6L642.7 2293.7L642.8 2291.7L642.9 2289.8L643.0 2287.8L643.1 2285.9L643.2 2284.1L643.3 2282.2L643.3 2280.4L643.4 2278.5L643.5 2276.6L643.6 2274.7L643.7 2272.8L643.8 2270.9L643.8 2269.0L643.9 2267.1L644.0 2265.2L644.1 2263.3L644.2 2261.4L644.3 2259.4L644.4 2257.5L644.5 2255.6L644.5 2253.7L644.6 2251.7L644.7 2249.8L644.8 2247.9L644.9 2246.0L645.0 2244.0L645.1 2242.1L645.2 2240.2L645.2 2238.3L645.3 2236.3L645.4 2234.4L645.5 2232.5L645.6 2230.6L645.7 2228.7L645.8 2226.8L645.9 2224.9L646.0 2223.1L646.0 2221.2L646.1 2219.3L646.2 2217.4L646.3 2215.6L646.4 2213.7L646.5 2211.9L646.6 2209.9L646.7 2208.0L646.8 2206.0L646.9 2204.0L647.0 2201.9L647.1 2199.9L647.2 2197.9L647.3 2195.9L647.4 2193.8L647.4 2191.8L647.5 2189.8L647.6 2187.7L647.7 2185.7L647.8 2183.7L647.9 2181.7L648.0 2179.7L648.1 2177.7L648.2 2175.7L648.3 2173.7L648.4 2171.8L648.5 2169.8L648.6 2167.9L648.7 2166.0L648.8 2164.2L648.9 2162.3L649.0 2160.5L649.1 2158.7L649.2 2156.9L649.3 2155.2L649.4 2153.5L649.5 2151.8L649.7 2150.2L649.8 2148.6L649.9 2147.0L650.0 2145.5L650.2 2143.2L650.4 2141.0L650.5 2138.8L650.7 2136.7L650.9 2134.6L651.0 2132.6L651.2 2130.6L651.4 2128.7L651.6 2126.9L651.8 2125.1L652.0 2123.4L652.2 2121.7L652.5 2120.1L652.7 2118.6L653.0 2117.1L653.5 2114.4L654.1 2111.6L654.7 2109.2L655.3 2107.4L656.0 2106.7L657.0 2107.7L658.0 2110.3L659.0 2113.3L659.4 2114.7L659.8 2116.1L660.1 2117.7L660.5 2119.3L660.8 2121.1L661.2 2122.9L661.5 2124.9L661.8 2126.9L662.1 2129.0L662.4 2131.2L662.7 2133.5L663.0 2135.8L663.2 2137.2L663.3 2138.7L663.5 2140.2L663.7 2141.8L663.8 2143.4L664.0 2145.1L664.2 2146.8L664.3 2148.5L664.5 2150.3L664.6 2152.1L664.8 2154.0L664.9 2155.9L665.1 2157.8L665.2 2159.7L665.4 2161.7L665.5 2163.6L665.6 2165.6L665.8 2167.6L665.9 2169.7L666.0 2171.7L666.2 2173.8L666.3 2175.8L666.4 2177.9L666.6 2179.9L666.7 2182.0L666.8 2184.0L667.0 2186.1L667.1 2188.1L667.2 2190.1L667.4 2192.1L667.5 2194.1L667.6 2196.1L667.7 2198.0L667.9 2200.0L668.0 2201.9L668.1 2203.8L668.3 2205.6L668.4 2207.5L668.5 2209.4L668.6 2211.3L668.7 2213.2L668.9 2215.2L669.0 2217.1L669.1 2219.0L669.2 2220.9L669.3 2222.8L669.5 2224.7L669.6 2226.6L669.7 2228.5L669.8 2230.4L669.9 2232.4L670.0 2234.3L670.1 2236.2L670.2 2238.1L670.4 2240.0L670.5 2241.9L670.6 2243.8L670.7 2245.7L670.8 2247.6L670.9 2249.4L671.0 2251.3L671.1 2253.2L671.2 2255.1L671.3 2256.9L671.4 2258.8L671.6 2260.6L671.7 2262.5L671.8 2264.3L671.9 2266.1L672.0 2268.0L672.1 2269.9L672.2 2271.9L672.4 2273.8L672.5 2275.8L672.6 2277.7L672.7 2279.6L672.8 2281.6L673.0 2283.5L673.1 2285.4L673.2 2287.3L673.3 2289.2L673.5 2291.1L673.6 2293.0L673.7 2294.9L673.8 2296.8L673.9 2298.7L674.1 2300.6L674.2 2302.5L674.3 2304.3L674.4 2306.2L674.5 2308.1L674.6 2309.9L674.7 2311.8L674.9 2313.6L675.0 2315.4L675.1 2317.3L675.2 2319.1L675.3 2320.9L675.4 2322.8L675.5 2324.6L675.6 2326.6L675.7 2328.5L675.8 2330.5L675.9 2332.4L676.0 2334.3L676.1 2336.2L676.2 2338.1L676.3 2339.9L676.4 2341.8L676.5 2343.6L676.6 2345.5L676.7 2347.3L676.8 2349.2L676.9 2351.1L677.0 2352.9L677.1 2354.8L677.2 2356.7L677.3 2358.6L677.4 2360.6L677.5 2362.6L677.6 2364.6L677.7 2366.6L677.8 2368.6L677.9 2370.7L678.0 2372.9L678.1 2374.6L678.2 2376.3L678.3 2378.1L678.4 2379.9L678.5 2381.7L678.6 2383.6L678.6 2385.4L678.7 2387.3L678.8 2389.2L678.9 2391.1L679.0 2393.1L679.1 2395.0L679.2 2397.0L679.3 2398.9L679.5 2400.9L679.6 2402.9L679.7 2404.9L679.8 2406.9L679.9 2409.0L680.0 2411.0L680.1 2413.0L680.2 2415.0L680.3 2417.0L680.4 2419.0L680.5 2421.0L680.6 2423.0L680.7 2425.0L680.8 2427.0L680.9 2429.0L681.0 2431.0L681.1 2432.9L681.2 2434.9L681.3 2436.8L681.4 2438.7L681.5 2440.6L681.6 2442.5L681.7 2444.3L681.8 2446.1L681.9 2447.9L682.0 2449.7L682.1 2451.8L682.2 2453.8L682.3 2455.9L682.4 2457.9L682.5 2459.9L682.6 2461.9L682.7 2463.9L682.8 2465.9L682.9 2467.9L683.0 2469.9L683.1 2471.8L683.2 2473.8L683.3 2475.7L683.3 2477.7L683.4 2479.6L683.5 2481.5L683.6 2483.4L683.7 2485.2L683.8 2487.1L683.9 2488.9L684.0 2490.8L684.1 2492.6L684.2 2494.4L684.4 2496.2L684.5 2498.0L684.6 2499.7L684.7 2501.4L684.9 2503.2L685.0 2504.9L685.2 2506.9L685.4 2509.0L685.6 2511.0L685.8 2513.0L686.0 2514.9L686.2 2516.9L686.4 2518.8L686.6 2520.7L686.8 2522.6L687.0 2524.4L687.2 2526.3L687.5 2528.1L687.7 2529.9L687.9 2531.7L688.1 2533.5L688.4 2535.3L688.6 2537.1L688.8 2538.8L689.0 2540.6L689.2 2542.6L689.5 2544.6L689.7 2546.5L689.9 2548.5L690.1 2550.4L690.3 2552.4L690.6 2554.3L690.8 2556.2L691.0 2558.1L691.2 2559.9L691.5 2561.7L691.7 2563.6L692.0 2565.3L692.2 2567.1L692.5 2568.8L692.8 2570.9L693.2 2572.8L693.5 2574.8L693.9 2576.7L694.2 2578.6L694.6 2580.5L695.0 2582.3L695.4 2584.1L695.7 2585.9L696.1 2587.6L696.5 2589.3L697.0 2591.5L697.4 2593.5L697.9 2595.5L698.4 2597.5L698.9 2599.4L699.4 2601.3L700.0 2603.2L700.6 2605.1L701.1 2606.9L701.8 2608.7L702.4 2610.5L703.1 2612.3L703.7 2614.1L704.5 2616.0L705.2 2617.8L705.9 2619.6L706.7 2621.4L707.5 2623.3L708.3 2625.1L709.1 2626.9L710.0 2628.7L710.9 2630.5L711.7 2632.2L712.6 2634.1L713.4 2635.9L714.3 2637.8L715.2 2639.5L716.2 2641.0L717.3 2642.2L718.6 2643.0L720.4 2643.5L722.4 2643.6L724.5 2643.4L726.8 2642.9L729.0 2642.2L731.1 2641.4L733.0 2640.3L735.0 2638.6L736.9 2636.7L738.8 2634.8L740.6 2633.1L742.3 2631.9L744.0 2631.4L745.7 2631.7L747.2 2632.6L748.7 2633.9L750.3 2635.4L752.0 2636.9L753.4 2638.0L754.9 2639.3L756.5 2640.6L758.1 2642.0L759.8 2643.5L761.5 2645.0L763.2 2646.6L764.8 2648.1L766.4 2649.7L768.0 2651.3L769.4 2652.8L770.9 2654.4L772.3 2655.9L773.7 2657.5L775.0 2659.1L776.4 2660.7L777.8 2662.4L779.1 2664.0L780.4 2665.7L781.7 2667.4L783.0 2669.1L784.3 2670.9L785.5 2672.6L786.8 2674.4L788.0 2676.2L789.2 2678.1L790.4 2679.9L791.5 2681.8L792.7 2683.6L793.8 2685.4L794.9 2687.2L796.0 2689.0L797.1 2690.9L798.1 2692.7L799.1 2694.5L800.1 2696.3L801.1 2698.1L802.0 2699.9L803.0 2701.7L804.0 2703.4L805.0 2705.2L806.0 2707.0L807.0 2708.8L808.0 2710.7L809.0 2712.6L810.0 2714.4L811.0 2716.3L812.1 2718.2L813.2 2720.0L814.4 2721.7L815.6 2723.4L817.0 2725.2L818.4 2726.8L820.0 2728.5L821.6 2730.2L823.3 2731.9L825.0 2733.6L826.8 2735.2L828.6 2736.6L830.5 2738.0L832.3 2739.1L834.2 2740.0L836.0 2740.7L838.0 2741.1L840.1 2741.3L842.2 2741.2L844.4 2740.9L846.5 2740.5L848.7 2739.9L850.8 2739.2L852.9 2738.5L855.0 2737.8L856.9 2737.0L858.7 2736.2L860.5 2735.3L862.3 2734.4L864.1 2733.3L865.8 2732.2L867.6 2731.0L869.4 2729.8L871.3 2728.5L873.1 2727.2L875.0 2725.8L876.4 2724.7L877.7 2723.6L879.1 2722.4L880.4 2721.1L881.8 2719.8L883.2 2718.4L884.6 2717.0L885.9 2715.6L887.3 2714.2L888.8 2712.7L890.2 2711.3L891.6 2709.8L893.1 2708.4L894.6 2706.9L896.1 2705.5L897.6 2704.2L899.2 2702.8L900.7 2701.5L902.4 2700.2L904.0 2699.0L905.6 2697.9L907.3 2696.7L909.1 2695.6L910.9 2694.5L912.7 2693.5L914.6 2692.4L916.5 2691.4L918.4 2690.4L920.3 2689.4L922.3 2688.4L924.2 2687.4L926.2 2686.5L928.1 2685.6L930.0 2684.7L931.9 2683.8L933.8 2682.9L935.6 2682.0L937.4 2681.2L939.1 2680.4L940.8 2679.6L942.4 2678.8L944.0 2678.0L946.1 2676.9L948.0 2675.9L949.9 2674.9L951.7 2674.0L953.4 2673.0L955.1 2672.1L956.8 2671.3L958.6 2670.4L960.5 2669.6L962.4 2668.8L964.5 2668.0L966.2 2667.4L968.0 2666.8L969.9 2666.2L971.8 2665.6L973.8 2665.1L975.8 2664.5L977.8 2664.0L979.9 2663.5L982.0 2663.0L984.0 2662.5L986.1 2662.0L988.2 2661.5L990.3 2661.1L992.3 2660.6L994.3 2660.2L996.3 2659.8L998.2 2659.4L1000.0 2659.0L1002.2 2658.6L1004.3 2658.2L1006.4 2657.8L1008.4 2657.5L1010.4 2657.2L1012.4 2656.9L1014.4 2656.6L1016.4 2656.3L1018.4 2656.1L1020.5 2655.8L1022.7 2655.5L1025.0 2655.2L1026.8 2655.0L1028.7 2654.9L1030.6 2654.7L1032.6 2654.5L1034.6 2654.4L1036.6 2654.2L1038.7 2654.1L1040.8 2654.0L1042.9 2653.8L1045.0 2653.7L1047.1 2653.6L1049.2 2653.4L1051.4 2653.2L1053.5 2653.1L1055.6 2652.9L1057.6 2652.7L1059.7 2652.5L1061.7 2652.2L1063.7 2652.0L1065.6 2651.7L1067.7 2651.3L1069.8 2650.9L1071.9 2650.4L1073.9 2649.9L1075.9 2649.4L1077.8 2648.9L1079.8 2648.3L1081.8 2647.8L1083.7 2647.2L1085.7 2646.7L1087.7 2646.1L1089.7 2645.6L1091.7 2645.2L1093.8 2644.7L1095.9 2644.3L1098.0 2644.0L1099.9 2643.7L1101.8 2643.5L1103.7 2643.2L1105.6 2643.0L1107.6 2642.8L1109.6 2642.6L1111.6 2642.5L1113.6 2642.3L1115.6 2642.2L1117.6 2642.0L1119.7 2641.9L1121.7 2641.8L1123.8 2641.7L1125.8 2641.6L1127.9 2641.5L1129.9 2641.4L1131.9 2641.4L1134.0 2641.3L1136.0 2641.2L1138.0 2641.1L1140.0 2641.0L1142.1 2640.9L1144.1 2640.8L1146.2 2640.7L1148.2 2640.6L1150.3 2640.4L1152.4 2640.3L1154.4 2640.2L1156.5 2640.1L1158.6 2640.0L1160.6 2639.9L1162.7 2639.9L1164.7 2639.8L1166.8 2639.7L1168.8 2639.7L1170.8 2639.7L1172.9 2639.7L1174.9 2639.7L1177.0 2639.8L1179.0 2639.9L1181.0 2640.0L1183.1 2640.1L1185.2 2640.3L1187.2 2640.5L1189.3 2640.7L1191.3 2641.0L1193.4 2641.3L1195.4 2641.6L1197.5 2641.9L1199.5 2642.2L1201.5 2642.5L1203.6 2642.9L1205.6 2643.2L1207.7 2643.6L1209.7 2644.0L1211.7 2644.4L1213.8 2644.8L1215.9 2645.2L1217.9 2645.6L1220.0 2646.0L1222.0 2646.4L1223.9 2646.8L1225.8 2647.3L1227.8 2647.7L1229.7 2648.2L1231.7 2648.7L1233.6 2649.2L1235.5 2649.8L1237.5 2650.3L1239.4 2650.8L1241.4 2651.4L1243.4 2651.9L1245.3 2652.4L1247.3 2652.9L1249.3 2653.4L1251.3 2653.9L1253.4 2654.4L1255.4 2654.8L1257.5 2655.2L1259.6 2655.6L1261.7 2656.0L1263.6 2656.3L1265.4 2656.6L1267.3 2656.9L1269.1 2657.1L1271.0 2657.4L1272.8 2657.7L1274.7 2657.9L1276.5 2658.1L1278.4 2658.4L1280.3 2658.6L1282.2 2658.8L1284.1 2659.0L1286.0 2659.2L1288.0 2659.3L1290.0 2659.5L1291.9 2659.7L1293.9 2659.8L1296.0 2660.0L1298.0 2660.1L1300.1 2660.2L1302.2 2660.4L1304.4 2660.5L1306.5 2660.6L1308.8 2660.7L1311.0 2660.8L1313.3 2660.9L1315.6 2661.0L1317.3 2661.1L1319.0 2661.1L1320.8 2661.2L1322.6 2661.2L1324.4 2661.2L1326.2 2661.3L1328.1 2661.3L1330.0 2661.3L1331.9 2661.3L1333.9 2661.3L1335.8 2661.3L1337.8 2661.3L1339.8 2661.3L1341.8 2661.3L1343.9 2661.3L1345.9 2661.3L1348.0 2661.2L1350.1 2661.2L1352.2 2661.2L1354.3 2661.1L1356.4 2661.1L1358.5 2661.1L1360.7 2661.0L1362.8 2661.0L1365.0 2660.9L1367.1 2660.9L1369.3 2660.8L1371.5 2660.8L1373.6 2660.7L1375.8 2660.6L1378.0 2660.6L1380.1 2660.5L1382.3 2660.4L1384.5 2660.4L1386.6 2660.3L1388.8 2660.2L1390.9 2660.1L1393.0 2660.1L1395.2 2660.0L1397.3 2659.9L1399.4 2659.9L1401.5 2659.8L1403.6 2659.7L1405.7 2659.6L1407.7 2659.6L1409.8 2659.5L1411.8 2659.4L1413.8 2659.3L1415.8 2659.3L1417.7 2659.2L1419.7 2659.1L1421.6 2659.1L1423.5 2659.0L1425.7 2658.9L1427.8 2658.8L1429.9 2658.8L1432.0 2658.7L1434.1 2658.6L1436.2 2658.5L1438.3 2658.4L1440.4 2658.3L1442.4 2658.2L1444.4 2658.1L1446.5 2658.0L1448.5 2657.9L1450.5 2657.7L1452.5 2657.6L1454.5 2657.5L1456.5 2657.4L1458.5 2657.3L1460.5 2657.2L1462.5 2657.1L1464.5 2656.9L1466.4 2656.8L1468.4 2656.7L1470.4 2656.6L1472.3 2656.5L1474.3 2656.4L1476.3 2656.3L1478.2 2656.2L1480.2 2656.0L1482.2 2655.9L1484.1 2655.8L1486.1 2655.7L1488.1 2655.6L1490.0 2655.5L1492.0 2655.5L1494.0 2655.4L1496.0 2655.3L1498.0 2655.2L1500.0 2655.1L1502.0 2655.1L1504.0 2655.0L1506.0 2654.9L1508.0 2654.9L1510.0 2654.8L1512.0 2654.8L1514.0 2654.7L1516.0 2654.7L1518.0 2654.6L1520.0 2654.6L1522.0 2654.6L1524.0 2654.5L1525.9 2654.5L1527.9 2654.4L1529.9 2654.4L1531.9 2654.4L1533.8 2654.4L1535.8 2654.3L1537.8 2654.3L1539.8 2654.3L1541.8 2654.3L1543.8 2654.3L1545.7 2654.2L1547.7 2654.2L1549.7 2654.2L1551.7 2654.2L1553.8 2654.2L1555.8 2654.2L1557.8 2654.1L1559.8 2654.1L1561.9 2654.1L1563.9 2654.1L1566.0 2654.1L1568.1 2654.1L1570.1 2654.1L1572.2 2654.1L1574.3 2654.1L1576.4 2654.0L1578.6 2654.0L1580.7 2654.0L1582.8 2654.0L1585.0 2654.0L1586.9 2654.0L1588.7 2654.0L1590.6 2654.0L1592.5 2654.0L1594.4 2653.9L1596.3 2653.9L1598.2 2653.9L1600.2 2653.9L1602.1 2653.9L1604.0 2653.9L1606.0 2653.9L1608.0 2653.8L1609.9 2653.8L1611.9 2653.8L1613.9 2653.8L1615.9 2653.8L1617.9 2653.8L1619.9 2653.8L1621.9 2653.7L1623.9 2653.7L1625.9 2653.7L1627.9 2653.7L1629.9 2653.7L1631.9 2653.7L1634.0 2653.7L1636.0 2653.7L1638.0 2653.7L1640.1 2653.7L1642.1 2653.7L1644.2 2653.7L1646.2 2653.7L1648.2 2653.7L1650.3 2653.7L1652.3 2653.7L1654.4 2653.7L1656.4 2653.7L1658.5 2653.7L1660.5 2653.7L1662.6 2653.7L1664.6 2653.7L1666.7 2653.7L1668.7 2653.7L1670.7 2653.7L1672.8 2653.7L1674.8 2653.8L1676.9 2653.8L1678.9 2653.8L1680.9 2653.8L1682.9 2653.8L1685.0 2653.9L1687.0 2653.9L1689.0 2653.9L1691.0 2654.0L1693.0 2654.0L1695.0 2654.0L1697.0 2654.1L1699.1 2654.1L1701.1 2654.2L1703.2 2654.2L1705.3 2654.3L1707.3 2654.4L1709.4 2654.4L1711.5 2654.5L1713.6 2654.6L1715.8 2654.7L1717.9 2654.7L1720.0 2654.8L1722.1 2654.9L1724.3 2655.0L1726.4 2655.1L1728.5 2655.2L1730.7 2655.3L1732.8 2655.4L1735.0 2655.5L1737.1 2655.6L1739.2 2655.7L1741.4 2655.8L1743.5 2655.9L1745.6 2656.0L1747.7 2656.1L1749.8 2656.2L1751.9 2656.3L1754.0 2656.4L1756.1 2656.5L1758.2 2656.6L1760.2 2656.7L1762.3 2656.7L1764.3 2656.8L1766.4 2656.9L1768.4 2657.0L1770.4 2657.1L1772.3 2657.2L1774.3 2657.3L1776.2 2657.3L1778.2 2657.4L1780.1 2657.5L1781.9 2657.6L1783.8 2657.6L1785.6 2657.7L1787.4 2657.7L1789.2 2657.8L1791.0 2657.8L1792.7 2657.9L1794.4 2657.9L1796.1 2657.9L1797.8 2658.0L1799.4 2658.0L1801.0 2658.0L1803.4 2658.0L1805.7 2658.0L1808.0 2658.0L1810.1 2658.0L1812.3 2658.0L1814.4 2657.9L1816.4 2657.9L1818.4 2657.9L1820.4 2657.8L1822.3 2657.8L1824.3 2657.7L1826.2 2657.6L1828.0 2657.6L1829.9 2657.5L1831.8 2657.5L1833.6 2657.4L1835.5 2657.3L1837.4 2657.3L1839.2 2657.2L1841.1 2657.2L1843.1 2657.1L1845.0 2657.0L1847.0 2657.0" stroke="#0000CC" stroke-dasharray="0.50 21.00"/>
</g>
<rect x="834.5" y="1711" width="532.5" height="447" fill="#fff" stroke="#777" stroke-width="4.5"/>
<line x1="834" y1="1716.7" x2="841.5" y2="1716.7" stroke="#666" stroke-width="3.5"/>
<line x1="834" y1="1754.9" x2="841.5" y2="1754.9" stroke="#666" stroke-width="3.5"/>
<line x1="834" y1="1793.0" x2="841.5" y2="1793.0" stroke="#666" stroke-width="3.5"/>
<line x1="834" y1="1831.2" x2="841.5" y2="1831.2" stroke="#666" stroke-width="3.5"/>
<line x1="834" y1="1869.4" x2="841.5" y2="1869.4" stroke="#666" stroke-width="3.5"/>
<line x1="834" y1="1907.6" x2="841.5" y2="1907.6" stroke="#666" stroke-width="3.5"/>
<line x1="834" y1="1945.8" x2="841.5" y2="1945.8" stroke="#666" stroke-width="3.5"/>
<line x1="834" y1="1983.9" x2="841.5" y2="1983.9" stroke="#666" stroke-width="3.5"/>
<line x1="834" y1="2022.1" x2="841.5" y2="2022.1" stroke="#666" stroke-width="3.5"/>
<line x1="834" y1="2060.3" x2="841.5" y2="2060.3" stroke="#666" stroke-width="3.5"/>
<line x1="834" y1="2098.5" x2="841.5" y2="2098.5" stroke="#666" stroke-width="3.5"/>
<line x1="834" y1="2136.7" x2="841.5" y2="2136.7" stroke="#666" stroke-width="3.5"/>
<line x1="861.0" y1="2158" x2="861.0" y2="2151.5" stroke="#666" stroke-width="3.5"/>
<line x1="887.5" y1="2158" x2="887.5" y2="2151.5" stroke="#666" stroke-width="3.5"/>
<line x1="914.1" y1="2158" x2="914.1" y2="2151.5" stroke="#666" stroke-width="3.5"/>
<line x1="940.6" y1="2158" x2="940.6" y2="2151.5" stroke="#666" stroke-width="3.5"/>
<line x1="967.1" y1="2158" x2="967.1" y2="2151.5" stroke="#666" stroke-width="3.5"/>
<line x1="993.6" y1="2158" x2="993.6" y2="2151.5" stroke="#666" stroke-width="3.5"/>
<line x1="1020.2" y1="2158" x2="1020.2" y2="2151.5" stroke="#666" stroke-width="3.5"/>
<line x1="1046.7" y1="2158" x2="1046.7" y2="2151.5" stroke="#666" stroke-width="3.5"/>
<line x1="1073.2" y1="2158" x2="1073.2" y2="2151.5" stroke="#666" stroke-width="3.5"/>
<line x1="1099.8" y1="2158" x2="1099.8" y2="2151.5" stroke="#666" stroke-width="3.5"/>
<line x1="1126.3" y1="2158" x2="1126.3" y2="2151.5" stroke="#666" stroke-width="3.5"/>
<line x1="1152.8" y1="2158" x2="1152.8" y2="2151.5" stroke="#666" stroke-width="3.5"/>
<line x1="1179.3" y1="2158" x2="1179.3" y2="2151.5" stroke="#666" stroke-width="3.5"/>
<line x1="1205.8" y1="2158" x2="1205.8" y2="2151.5" stroke="#666" stroke-width="3.5"/>
<line x1="1232.4" y1="2158" x2="1232.4" y2="2151.5" stroke="#666" stroke-width="3.5"/>
<line x1="1258.9" y1="2158" x2="1258.9" y2="2151.5" stroke="#666" stroke-width="3.5"/>
<line x1="1285.4" y1="2158" x2="1285.4" y2="2151.5" stroke="#666" stroke-width="3.5"/>
<line x1="1312.0" y1="2158" x2="1312.0" y2="2151.5" stroke="#666" stroke-width="3.5"/>
<line x1="1338.5" y1="2158" x2="1338.5" y2="2151.5" stroke="#666" stroke-width="3.5"/>
<g fill="none" stroke-linecap="round" clip-path="url(#cb)">
<path d="M978.0 2162.0 Q1035.8 1782.3 1093.6 1782.3 Q1158.0 1782.3 1222.5 2162.0" stroke="#a0a000" stroke-width="5"/>
<path d="M984.6 2162.0 Q1037.8 1809.0 1091.0 1809.0 Q1153.5 1809.0 1216.0 2162.0" stroke="#c000c0" stroke-width="5" stroke-dasharray="2 12"/>
<path d="M989.0 2162.0 Q1041.3 1835.7 1093.6 1835.7 Q1151.3 1835.7 1209.0 2162.0" stroke="#008800" stroke-width="5" stroke-dasharray="14 7 3 7 3 7"/>
<path d="M991.0 2162.0 Q1041.0 1846.8 1091.0 1846.8 Q1148.0 1846.8 1205.0 2162.0" stroke="#3030ff" stroke-width="3" stroke-dasharray="2 5"/>
<path d="M1007.0 2162.0 Q1051.4 1968.0 1095.8 1968.0 Q1141.4 1968.0 1187.0 2162.0" stroke="#cc0000" stroke-width="5" stroke-dasharray="18 8 3 8"/>
<path d="M1005.0 2162.0 Q1046.0 1975.8 1087.0 1975.8 Q1135.5 1975.8 1184.0 2162.0" stroke="#000099" stroke-width="5" stroke-dasharray="16 12"/>
<path d="M1015.7 2162.0 Q1053.3 2044.7 1091.0 2044.7 Q1125.5 2044.7 1160.0 2162.0" stroke="#00a8a8" stroke-width="4" stroke-dasharray="6 7"/>
</g>
<text x="826.5" y="1844.0" font-size="30.0" text-anchor="end" font-weight="normal" font-style="normal" fill="#666" textLength="33" lengthAdjust="spacingAndGlyphs">9.0</text>
<text x="826.5" y="2070.0" font-size="30.0" text-anchor="end" font-weight="normal" font-style="normal" fill="#666" textLength="33" lengthAdjust="spacingAndGlyphs">7.5</text>
<text x="834.0" y="2192.0" font-size="30.0" text-anchor="middle" font-weight="normal" font-style="normal" fill="#666" textLength="46" lengthAdjust="spacingAndGlyphs">2.50</text>
<text x="1099.0" y="2192.0" font-size="30.0" text-anchor="middle" font-weight="normal" font-style="normal" fill="#666" textLength="46" lengthAdjust="spacingAndGlyphs">2.75</text>
<text x="1365.0" y="2192.0" font-size="30.0" text-anchor="middle" font-weight="normal" font-style="normal" fill="#666" textLength="46" lengthAdjust="spacingAndGlyphs">3.00</text>
<text x="1099" y="2237" font-size="32" text-anchor="middle" fill="#666" textLength="55" lengthAdjust="spacingAndGlyphs"><tspan font-style="italic">r</tspan>(Å)</text>
<text transform="translate(781,1951) rotate(-90)" font-size="30" text-anchor="middle" fill="#666" textLength="54" lengthAdjust="spacingAndGlyphs"><tspan font-style="italic">g</tspan>(<tspan font-style="italic">r</tspan>)</text>
<rect x="1413.0" y="1653.5" width="439.0" height="659.5" fill="#fff" stroke="#b4b4b4" stroke-width="4.5"/>
<line x1="1431.0" y1="1712.2" x2="1597.0" y2="1712.2" stroke="#808000" stroke-width="12.0" stroke-linecap="round"/>
<text x="1616.0" y="1736.4" font-size="77.0" text-anchor="start" font-weight="normal" font-style="normal" fill="#111" textLength="226.0" lengthAdjust="spacingAndGlyphs">pristine</text>
<line x1="1431.0" y1="1805.5" x2="1597.0" y2="1805.5" stroke="#000080" stroke-width="12.0" stroke-linecap="round" stroke-dasharray="48 64"/>
<text x="1612.5" y="1829.7" font-size="77.0" text-anchor="start" font-weight="normal" font-style="normal" fill="#111" textLength="118.0" lengthAdjust="spacingAndGlyphs">Zn1</text>
<line x1="1431.0" y1="1898.7" x2="1597.0" y2="1898.7" stroke="#990099" stroke-width="12.0" stroke-linecap="round" stroke-dasharray="8 58"/>
<text x="1612.5" y="1922.9" font-size="77.0" text-anchor="start" font-weight="normal" font-style="normal" fill="#111" textLength="122.0" lengthAdjust="spacingAndGlyphs">Zn2</text>
<line x1="1431.0" y1="1992.0" x2="1597.0" y2="1992.0" stroke="#990000" stroke-width="12.0" stroke-linecap="round" stroke-dasharray="58 36 8 37"/>
<text x="1612.5" y="2016.2" font-size="77.0" text-anchor="start" font-weight="normal" font-style="normal" fill="#111" textLength="120.0" lengthAdjust="spacingAndGlyphs">Zn3</text>
<line x1="1431.0" y1="2085.2" x2="1597.0" y2="2085.2" stroke="#008000" stroke-width="12.0" stroke-linecap="round" stroke-dasharray="43 36 8 37 8 37"/>
<text x="1616.0" y="2109.4" font-size="77.0" text-anchor="start" font-weight="normal" font-style="normal" fill="#111" textLength="208.0" lengthAdjust="spacingAndGlyphs">linker1</text>
<line x1="1431.0" y1="2178.4" x2="1597.0" y2="2178.4" stroke="#008080" stroke-width="12.0" stroke-linecap="round" stroke-dasharray="18 32"/>
<text x="1616.0" y="2202.7" font-size="77.0" text-anchor="start" font-weight="normal" font-style="normal" fill="#111" textLength="211.0" lengthAdjust="spacingAndGlyphs">linker2</text>
<line x1="1431.0" y1="2271.7" x2="1597.0" y2="2271.7" stroke="#0000CC" stroke-width="12.0" stroke-linecap="round" stroke-dasharray="0.5 21"/>
<text x="1616.0" y="2295.9" font-size="77.0" text-anchor="start" font-weight="normal" font-style="normal" fill="#111" textLength="210.0" lengthAdjust="spacingAndGlyphs">linker3</text>
<line x1="1852" y1="1653.5" x2="1852" y2="2913" stroke="#111" stroke-width="5"/>
<text x="175.5" y="1681.0" font-size="84.0" text-anchor="end" font-weight="normal" font-style="normal" fill="#111" textLength="78" lengthAdjust="spacingAndGlyphs">14</text>
<text x="176.0" y="2310.0" font-size="84.0" text-anchor="end" font-weight="normal" font-style="normal" fill="#111" >7</text>
<text x="177.0" y="2937.0" font-size="84.0" text-anchor="end" font-weight="normal" font-style="normal" fill="#111" >0</text>
<text x="202.5" y="3004.0" font-size="84.0" text-anchor="middle" font-weight="normal" font-style="normal" fill="#111" >0</text>
<text x="1027.0" y="3004.0" font-size="84.0" text-anchor="middle" font-weight="normal" font-style="normal" fill="#111" >5</text>
<text x="1856.0" y="3004.0" font-size="84.0" text-anchor="middle" font-weight="normal" font-style="normal" fill="#111" >10</text>
<text x="1026.5" y="3104" font-size="86" text-anchor="middle" fill="#111" textLength="167" lengthAdjust="spacingAndGlyphs"><tspan font-style="italic">r</tspan> (Å)</text>
<text transform="translate(98,2327) rotate(-90)" font-size="86" text-anchor="middle" fill="#111" textLength="134" lengthAdjust="spacingAndGlyphs"><tspan font-style="italic">g</tspan>(<tspan font-style="italic">r</tspan>)</text>
</g>
<text x="968.0" y="3226.5" font-size="79.0" text-anchor="middle" font-weight="normal" font-style="normal" fill="#000" >(<tspan font-weight="bold">b</tspan>)</text>
</svg>
</body></html>
